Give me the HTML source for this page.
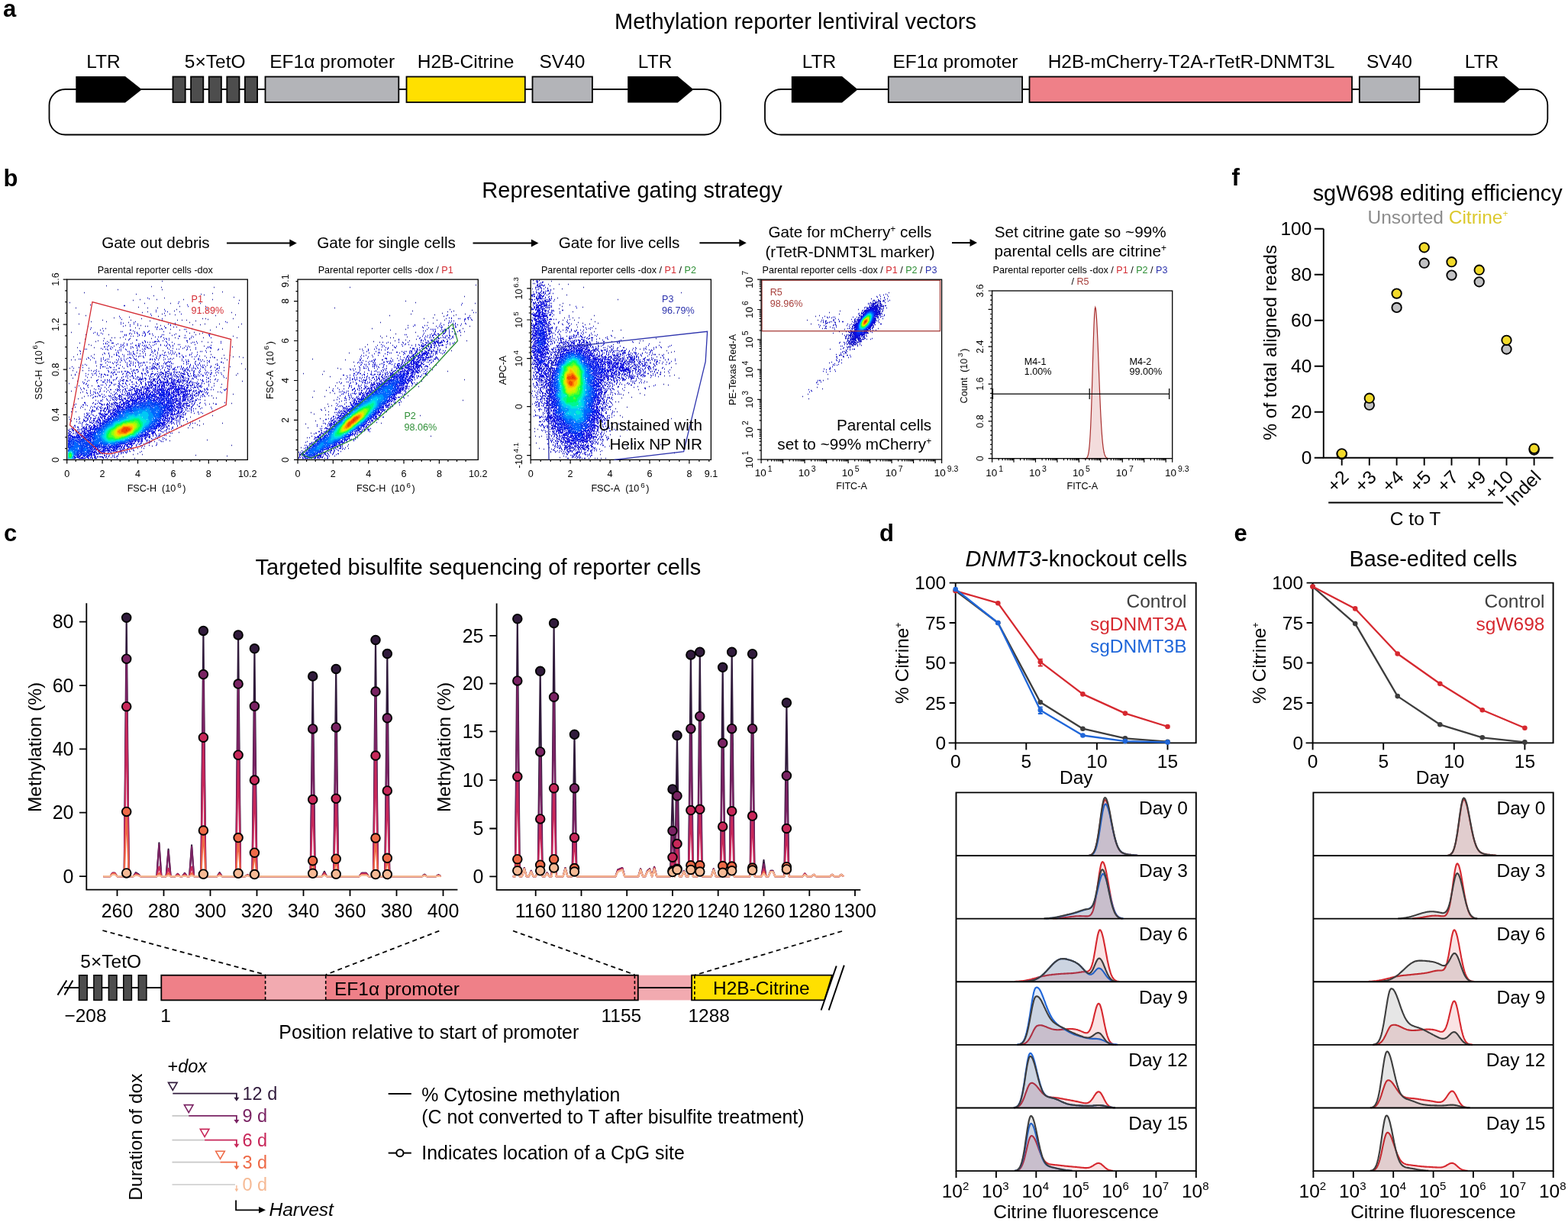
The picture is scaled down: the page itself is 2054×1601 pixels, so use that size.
<!DOCTYPE html>
<html><head><meta charset="utf-8"><title>Figure</title>
<style>html,body{margin:0;padding:0;background:#fff;overflow:hidden;}svg{display:block;}
text{font-family:"Liberation Sans", Arial, sans-serif;}</style></head>
<body><svg width="2054" height="1601" viewBox="0 0 2054 1601">
<rect width="2054" height="1601" fill="#fff"/>
<text x="4.0" y="22.0" font-size="31" font-weight="bold">a</text>
<text x="1042.0" y="38.0" font-size="29" text-anchor="middle">Methylation reporter lentiviral vectors</text>
<path d="M110.0 117 H85.5 A21 21 0 0 0 64.5 138.0 V155.5 A21 21 0 0 0 85.5 176.5 H923.0 A21 21 0 0 0 944.0 155.5 V138.0 A21 21 0 0 0 923.0 117 H900.0" fill="none" stroke="#000" stroke-width="1.8"/>
<line x1="180" y1="117" x2="830" y2="117" stroke="#000" stroke-width="1.8"/>
<path d="M99.3 100H164.0L185.8 117.25L164.0 134.5H99.3Z" fill="#000"/>
<rect x="226.5" y="100.5" width="16.2" height="33.5" fill="#4d4d4d" stroke="#000" stroke-width="1.8"/>
<rect x="250.1" y="100.5" width="16.2" height="33.5" fill="#4d4d4d" stroke="#000" stroke-width="1.8"/>
<rect x="273.7" y="100.5" width="16.2" height="33.5" fill="#4d4d4d" stroke="#000" stroke-width="1.8"/>
<rect x="297.3" y="100.5" width="16.2" height="33.5" fill="#4d4d4d" stroke="#000" stroke-width="1.8"/>
<rect x="320.9" y="100.5" width="16.2" height="33.5" fill="#4d4d4d" stroke="#000" stroke-width="1.8"/>
<rect x="347.5" y="100.5" width="174.8" height="33.5" fill="#b3b4b8" stroke="#000" stroke-width="1.8"/>
<rect x="532.5" y="100.5" width="155.3" height="33.5" fill="#ffe000" stroke="#000" stroke-width="1.8"/>
<rect x="697.5" y="100.5" width="78.4" height="33.5" fill="#b3b4b8" stroke="#000" stroke-width="1.8"/>
<path d="M822.2 100H887.8L908.4 117.25L887.8 134.5H822.2Z" fill="#000"/>
<text x="135.5" y="89.0" font-size="24.5" text-anchor="middle">LTR</text>
<text x="281.7" y="89.0" font-size="24.5" text-anchor="middle">5×TetO</text>
<text x="435.2" y="89.0" font-size="24.5" text-anchor="middle">EF1α promoter</text>
<text x="610.0" y="89.0" font-size="24.5" text-anchor="middle">H2B-Citrine</text>
<text x="736.5" y="89.0" font-size="24.5" text-anchor="middle">SV40</text>
<text x="858.1" y="89.0" font-size="24.5" text-anchor="middle">LTR</text>
<path d="M1050.0 117 H1023.0 A21 21 0 0 0 1002.0 138.0 V155.5 A21 21 0 0 0 1023.0 176.5 H2006.3 A21 21 0 0 0 2027.3 155.5 V138.0 A21 21 0 0 0 2006.3 117 H1980.0" fill="none" stroke="#000" stroke-width="1.8"/>
<line x1="1100" y1="117" x2="1910" y2="117" stroke="#000" stroke-width="1.8"/>
<path d="M1036.8 100H1103.0L1123.6 117.25L1103.0 134.5H1036.8Z" fill="#000"/>
<rect x="1163.8" y="100.5" width="175.3" height="33.5" fill="#b3b4b8" stroke="#000" stroke-width="1.8"/>
<rect x="1348.5" y="100.5" width="422.5" height="33.5" fill="#ef8088" stroke="#000" stroke-width="1.8"/>
<rect x="1780.8" y="100.5" width="78.5" height="33.5" fill="#b3b4b8" stroke="#000" stroke-width="1.8"/>
<path d="M1904.6 100H1970.7L1991.4 117.25L1970.7 134.5H1904.6Z" fill="#000"/>
<text x="1073.0" y="89.0" font-size="24.5" text-anchor="middle">LTR</text>
<text x="1251.5" y="89.0" font-size="24.5" text-anchor="middle">EF1α promoter</text>
<text x="1560.5" y="89.0" font-size="24.5" text-anchor="middle">H2B-mCherry-T2A-rTetR-DNMT3L</text>
<text x="1820.0" y="89.0" font-size="24.5" text-anchor="middle">SV40</text>
<text x="1941.0" y="89.0" font-size="24.5" text-anchor="middle">LTR</text>
<text x="4.5" y="243.7" font-size="31" font-weight="bold">b</text>
<text x="828.0" y="259.0" font-size="29" text-anchor="middle">Representative gating strategy</text>
<text x="204.0" y="324.7" font-size="20.7" text-anchor="middle">Gate out debris</text>
<text x="506.0" y="324.7" font-size="20.7" text-anchor="middle">Gate for single cells</text>
<text x="811.0" y="324.9" font-size="20.7" text-anchor="middle">Gate for live cells</text>
<text x="1113.5" y="311.2" font-size="20.7" text-anchor="middle">Gate for mCherry<tspan font-size="12" dy="-7.5">+</tspan><tspan dy="7.5"> cells</tspan></text>
<text x="1113.5" y="336.6" font-size="20.7" text-anchor="middle">(rTetR-DNMT3L marker)</text>
<text x="1415.2" y="311.2" font-size="20.7" text-anchor="middle">Set citrine gate so ~99%</text>
<text x="1415.2" y="336.1" font-size="20.7" text-anchor="middle">parental cells are citrine<tspan font-size="12" dy="-7.5">+</tspan></text>
<line x1="297" y1="318.6" x2="380.8" y2="318.6" stroke="#000" stroke-width="2"/><path d="M388.8 318.6L379.3 313.6V323.6Z" fill="#000"/>
<line x1="619.5" y1="318.5" x2="697.4" y2="318.5" stroke="#000" stroke-width="2"/><path d="M705.4 318.5L695.9 313.5V323.5Z" fill="#000"/>
<line x1="916.4" y1="318.3" x2="969.8" y2="318.3" stroke="#000" stroke-width="2"/><path d="M977.8 318.3L968.3 313.3V323.3Z" fill="#000"/>
<line x1="1247" y1="318.1" x2="1272" y2="318.1" stroke="#000" stroke-width="2"/><path d="M1280 318.1L1270.5 313.1V323.1Z" fill="#000"/>
<text x="203.3" y="358.2" font-size="12.6" text-anchor="middle">Parental reporter cells -dox</text>
<text x="505.2" y="358.2" font-size="12.6" text-anchor="middle">Parental reporter cells -dox / <tspan fill="#d42d34">P1</tspan></text>
<text x="810.4" y="358.2" font-size="12.6" text-anchor="middle">Parental reporter cells -dox / <tspan fill="#d42d34">P1</tspan> / <tspan fill="#2e8f36">P2</tspan></text>
<text x="1113.0" y="358.2" font-size="12.6" text-anchor="middle">Parental reporter cells -dox / <tspan fill="#d42d34">P1</tspan> / <tspan fill="#2e8f36">P2</tspan> / <tspan fill="#2d33ad">P3</tspan></text>
<text x="1415.0" y="358.2" font-size="12.6" text-anchor="middle">Parental reporter cells -dox / <tspan fill="#d42d34">P1</tspan> / <tspan fill="#2e8f36">P2</tspan> / <tspan fill="#2d33ad">P3</tspan></text>
<text x="1415.0" y="372.8" font-size="12.6" text-anchor="middle">/ <tspan fill="#a8413d">R5</tspan></text>
<path d="M212 368.5h1m-74 6h1m58 1h1m12 1h1m68 0h1m-127 3h1m57 0h1m78 3h1m-182 1h1m167 1h1m-101 1h1m84 0h1m3 1h1m-67 1h1m104 2h1m-92 1h1m-33 2h1m21 0h1m34 0h1m37 0h1m-105 1h1m138 0h1m-223 3h1m97 1h1m33 0h1m38 0h1m49 0h1m-195 2h1m116 2h1m33 0h1m-89 1h1m-83 1h1m93 0h1m12 0h1m64 1h1m-41 1h1m29 1h1m-34 1h1m-36 1h1m41 0h1m-50 1h1m116 0h1m-26 1h1m-176 1h1m108 0h1m9 0h1m6 1h1m78 0h1m-197 1h1m103 0h1m65 0h1m-76 1h1m-39 1h1m-21 1h1m35 1h1m15 0h1m63 0h1m3 0h1m35 0h1m-34 1h1m-139 1h1m36 0h1m36 0h1m23 0h1m5 0h1m5 0h1m-49 1h1m59 0h1m-138 1h1m19 0h1m28 1h1m79 0h1m-146 2h1m101 0h1m62 0h1m18 0h1m28 0h1m-65 1h1m9 0h1m-99 1h1m19 0h1m25 0h1m-96 1h1m74 0h1m2 0h1m37 1h1m51 0h1m28 0h1m-136 1h1m-40 1h1m43 0h1m68 0h1m39 0h1m-69 1h1m-93 1h1m103 0h1m39 0h1m-183 3h1m160 0h1m-33 1h1m25 0h1m16 0h1m-5 1h1m-150 1h1m29 0h1m113 0h1m48 2h1m-160 2h1m3 0h1m6 0h1m71 0h1m36 0h1m43 0h1m-175 1h1m61 0h1m-88 1h1m52 0h1m-37 2h1m-4 1h1m138 0h1m7 1h1m4 0h1m-174 1h1m11 2h1m2 1h1m147 1h1m36 1h1m-204 1h1m21 0h1m167 2h1m-43 1h1m-37 1h1m-105 1h1m165 0h1m-175 4h1m21 0h1m152 0h1m16 1h1m7 0h1m-34 1h1m-173 1h1m208 0h1m7 0h1m4 1h1m-29 1h1m3 0h1m-202 2h1m4 0h1m185 0h1m12 0h1m18 5h1m-191 3h1m174 1h1m-199 1h1m189 0h1m-203 1h1m24 0h1m204 1h1m-227 2h1m12 0h1m184 0h1m-191 4h1m207 0h1m-219 2h1m215 0h1m-191 3h1m-25 1h1m200 0h1m-196 4h1m215 0h1m-228 3h1m189 0h1m9 1h1m-188 2h1m16 0h1m-23 2h1m190 0h1m-197 5h1m191 1h1m-181 1h1m199 2h1m-29 2h1m-168 1h1m-4 2h1m171 0h1m3 0h1m-182 1h1m165 2h1m25 3h1m-16 1h1m23 0h1m-30 1h1m-164 7h1m166 2h1m-186 1h1m5 0h1m178 5h1m-189 2h1m158 0h1m-153 2h1m-5 3h1m167 0h1m29 3h1m-26 1h1m-9 1h1m-19 1h1m20 0h1m-16 3h1m5 0h1m-19 6h1m-13 5h1m48 5h1m-50 1h1m80 6h1m-105 1h1m-20 3h1m-1 7h1m-7 1h1m11 0h1m69 1h1m40 1h1m-137 1h1m14 2h1" stroke="rgb(30, 30, 160)" stroke-width="1.3" fill="none"/>
<path d="M193 390.5h1m1 1h1m38 4h1m-2 2h1m11 2h1m-84 1h2m82 1h1m-32 4h1m-12 1h1m11 1h1m-13 1h1m14 0h1m-5 2h1m-19 1h1m39 0h1m-40 2h1m-43 1h1m0 2h1m54 1h1m-54 1h1m52 1h1m-36 2h1m117 0h1m-138 1h1m16 0h1m121 0h1m-137 1h1m67 0h1m-72 1h1m16 0h1m4 0h1m39 0h1m6 0h1m-58 1h1m52 0h1m5 0h1m-50 1h1m42 0h1m-63 1h1m8 0h1m44 0h1m-13 1h1m2 0h1m20 0h1m-109 1h1m96 0h2m-84 1h1m76 0h1m-94 1h1m86 0h1m3 0h1m2 0h1m28 0h1m1 0h1m-74 1h2m-37 1h1m38 0h1m20 0h1m-38 1h1m1 0h1m15 0h1m37 0h1m29 0h1m-121 1h1m-3 1h1m4 0h1m4 0h1m37 0h1m5 0h1m-43 1h1m34 0h1m2 0h1m23 0h1m2 0h1m30 0h1m-104 1h1m84 0h1m1 0h1m13 0h1m-100 1h1m56 0h1m13 0h1m24 0h1m16 0h1m-72 1h1m2 0h1m5 0h1m30 0h1m22 0h2m15 0h1m-91 1h1m41 0h1m3 0h1m2 0h1m42 0h1m-13 1h1m1 0h1m6 0h1m25 0h1m-107 1h1m50 0h1m11 0h1m14 0h1m-80 1h1m36 0h1m41 0h1m-105 1h1m23 0h1m9 0h2m41 0h1m-87 1h1m9 0h1m67 0h1m30 0h2m-106 1h1m116 0h1m31 0h1m-148 1h1m50 0h1m2 0h1m28 0h1m19 0h1m6 0h1m1 0h1m-107 1h1m13 0h1m10 0h1m76 0h1m7 0h1m30 0h1m-155 1h1m18 0h1m16 0h1m56 0h1m-77 1h1m42 0h1m14 0h1m22 0h1m1 0h1m19 0h1m-46 1h1m4 0h1m10 0h1m49 0h1m-128 1h1m76 0h1m16 0h1m2 0h1m-111 1h1m34 0h1m51 0h1m12 0h1m11 0h1m-75 1h1m66 0h1m14 0h1m-125 1h1m38 0h1m35 0h1m18 0h1m12 0h1m30 0h1m-160 1h1m1 0h1m20 0h1m3 0h1m47 0h1m34 0h1m9 0h1m2 0h1m10 0h1m10 0h1m29 0h1m-146 1h1m9 0h1m55 0h1m36 0h1m40 0h1m-182 1h1m53 0h1m20 0h1m3 0h1m85 0h1m-165 1h1m61 0h1m94 0h1m1 0h1m-59 1h1m9 0h1m3 0h1m8 0h1m28 0h1m11 0h1m-135 1h1m5 0h1m36 0h1m7 0h1m63 0h1m-147 1h1m31 0h1m4 0h1m40 0h1m6 0h1m15 0h1m14 0h1m-88 1h1m14 0h1m10 0h1m6 0h1m29 0h1m5 0h1m20 0h1m6 0h1m26 0h1m-116 1h1m18 0h1m27 0h1m5 0h1m-78 1h1m58 0h1m5 0h1m15 0h1m30 0h1m11 0h1m17 0h1m-119 1h1m2 0h1m15 0h1m18 0h1m53 0h1m15 0h1m3 0h1m22 0h1m-164 1h1m5 0h1m13 0h1m52 0h1m25 0h1m55 0h1m4 0h1m4 0h2m-166 1h1m6 0h1m8 0h1m94 0h1m-125 1h1m1 0h1m7 0h1m28 0h1m73 0h1m8 0h1m12 0h1m15 0h1m-137 1h1m13 0h1m74 0h1m6 0h1m50 0h1m-28 1h1m32 0h1m2 0h1m-150 1h1m6 0h1m107 0h1m15 0h1m10 0h1m-126 1h1m1 0h1m12 0h1m6 0h1m27 0h1m62 0h1m18 0h1m14 0h2m-166 1h1m12 0h1m8 0h1m29 0h1m18 0h1m74 0h1m20 0h1m-145 1h1m77 0h1m13 0h1m43 0h1m-174 1h1m170 0h1m-178 1h1m2 0h1m4 0h1m26 0h1m16 0h1m32 0h1m80 0h1m-95 1h1m98 0h1m-183 1h1m42 0h1m22 0h1m16 0h1m91 0h1m6 0h1m-132 1h1m3 0h1m125 0h1m5 0h1m-186 1h1m42 0h1m15 0h2m5 0h1m8 1h1m96 0h1m-143 1h1m25 0h1m-37 1h1m2 0h1m149 0h1m6 0h1m-155 1h1m6 0h1m29 0h1m-60 1h1m53 0h1m1 0h1m125 1h1m3 0h1m2 0h1m-178 1h1m7 0h1m9 0h1m-33 1h1m16 0h1m36 0h1m7 0h1m129 0h1m-193 1h1m22 0h1m4 0h1m14 0h1m141 0h1m-172 1h1m167 0h1m11 0h1m-164 1h1m5 0h1m139 0h1m-162 1h1m17 0h1m20 0h1m116 0h1m22 0h1m-12 2h1m-172 1h1m147 0h1m15 0h1m5 0h1m3 0h1m-170 1h1m15 0h1m-19 1h1m169 0h1m-177 1h1m166 0h1m-149 1h1m-19 1h1m157 0h1m-117 1h1m17 0h1m103 0h1m-159 1h1m33 0h1m16 1h1m106 0h1m6 0h1m-166 2h1m21 0h1m4 0h1m134 0h1m-173 1h1m3 0h1m0 1h1m12 0h1m15 0h1m156 0h1m-191 1h1m18 0h1m18 0h2m130 0h1m2 0h1m13 0h1m-181 1h1m4 0h1m22 0h1m-6 1h1m-29 1h1m9 0h1m20 0h1m3 0h1m5 0h1m138 0h1m-176 1h1m176 0h1m-177 1h1m3 0h1m26 0h1m-31 3h1m2 0h1m154 0h1m-6 1h1m-148 2h1m140 2h1m-138 1h1m-4 3h1m139 0h1m-142 1h1m139 0h1m6 0h1m-170 1h1m182 0h2m-187 1h1m160 0h1m10 0h1m-156 1h1m-9 1h1m12 0h1m140 0h2m-164 1h1m9 0h1m167 0h1m-172 1h1m12 0h1m145 0h1m-171 1h2m160 0h1m5 0h1m14 0h1m-25 3h1m5 1h1m-10 1h1m8 0h1m3 0h1m-10 1h1m10 0h1m-156 1h1m149 0h1m-158 4h1m0 2h1m139 0h1m-154 1h1m8 0h1m143 0h1m-5 1h1m11 1h1m-153 1h1m144 0h1m3 1h1m2 1h1m2 0h1m-21 1h1m13 0h1m-13 2h1m10 0h1m-17 1h1m-2 3h1m-9 6h1m1 0h1m-9 3h1m-5 3h1m3 2h1m-10 1h1m8 0h1m-8 1h1m-9 1h1m8 0h1m1 0h1m-9 2h1m-11 3h1m8 0h1m-16 1h1m-5 2h1m2 1h1m-14 3h1m9 1h1m-3 1h1m-31 8h1" stroke="rgb(21, 21, 191)" stroke-width="1.3" fill="none"/>
<path d="M205 429.5h1m-18 5h1m5 0h1m-16 1h1m9 0h1m3 0h1m-15 1h1m7 0h1m1 0h1m-10 1h1m9 0h1m4 0h1m78 0h2m-113 1h1m1 0h1m16 0h1m7 0h1m82 0h1m-111 1h1m1 0h1m16 0h1m7 0h1m83 0h1m-86 1h1m84 0h1m-61 2h1m2 1h1m-3 1h1m2 0h1m-30 2h1m17 0h1m-18 1h1m11 0h3m1 0h1m1 0h1m8 0h1m-32 1h1m3 0h1m9 0h1m1 0h1m15 0h1m-81 1h1m7 0h2m39 0h1m-50 1h1m1 0h1m25 0h1m14 0h1m1 0h1m20 0h1m14 0h1m-62 1h1m2 0h1m4 0h1m35 0h1m18 0h1m-80 1h1m17 0h1m5 0h1m10 0h2m2 0h2m3 0h1m2 0h1m1 0h1m8 0h1m17 0h1m3 0h1m-81 1h1m15 0h1m3 0h1m18 0h1m6 0h1m8 0h1m19 0h1m-81 1h1m2 0h1m4 0h1m12 0h1m14 0h1m5 0h1m2 0h1m7 0h1m1 0h1m79 0h1m1 0h1m-128 1h1m8 0h1m4 0h1m30 0h2m4 0h1m20 0h1m25 0h1m26 0h1m2 0h2m-133 1h1m34 0h1m9 0h1m4 0h1m1 0h1m22 0h1m56 0h1m-137 1h1m4 0h1m12 0h1m5 0h1m25 0h1m-35 1h1m8 0h1m14 0h1m7 0h1m9 0h1m3 0h1m-49 1h1m48 0h1m19 0h1m1 0h1m-57 1h1m4 0h1m11 0h1m2 0h1m9 0h1m2 0h1m-49 1h1m19 0h1m23 0h1m27 0h1m-75 1h1m2 0h1m13 0h1m1 0h1m28 0h1m14 0h1m7 0h1m10 0h1m-61 1h2m50 0h1m1 0h1m5 0h2m-84 1h1m16 0h1m1 0h1m4 0h1m35 0h1m35 0h1m1 0h1m-99 1h2m19 0h1m35 0h2m3 0h2m1 0h1m20 0h1m9 0h1m-94 1h1m26 0h1m4 0h1m17 0h1m51 0h1m-102 1h1m17 0h1m12 0h1m21 0h1m9 0h1m19 0h2m-72 1h2m33 0h1m35 0h1m-83 1h1m8 0h1m3 0h1m3 0h1m29 0h1m2 0h1m14 0h1m36 0h1m-126 1h1m4 0h1m14 0h1m6 0h1m2 0h1m10 0h1m1 0h1m17 0h2m1 0h1m2 0h1m17 0h1m1 0h1m36 0h1m-122 1h1m13 0h1m5 0h1m18 0h1m18 0h1m2 0h1m3 0h1m39 0h1m2 0h1m13 0h1m1 0h1m-126 1h1m16 0h1m4 0h1m3 0h1m5 0h1m9 0h1m-40 1h1m28 0h1m1 0h1m30 0h1m17 0h1m2 0h1m20 0h1m1 0h2m15 0h1m9 0h1m-124 1h1m2 0h1m20 0h1m5 0h2m6 0h1m26 0h1m3 0h1m1 0h2m21 0h1m-93 1h1m13 0h1m4 0h1m11 0h1m1 0h1m1 0h1m1 0h1m13 0h1m4 0h1m8 0h2m5 0h1m19 0h1m16 0h1m-91 1h1m2 0h1m6 0h1m1 0h1m16 0h2m3 0h2m7 0h1m1 0h1m7 0h1m21 0h1m8 0h1m5 0h1m-131 1h1m1 0h1m20 0h1m11 0h1m2 0h1m33 0h1m2 0h2m9 0h1m26 0h1m4 0h1m6 0h1m2 0h1m-128 1h1m19 0h1m17 0h1m3 0h1m6 0h1m4 0h1m12 0h1m5 0h1m16 0h1m26 0h1m9 0h1m2 0h1m2 0h1m1 0h1m16 0h2m-134 1h1m13 0h1m3 0h1m13 0h1m16 0h1m6 0h1m2 0h1m1 0h1m4 0h3m3 0h1m12 0h1m10 0h1m4 0h1m3 0h1m-127 1h1m2 0h2m7 0h1m23 0h1m14 0h1m9 0h1m3 0h1m2 0h1m1 0h2m5 0h1m12 0h2m9 0h1m1 0h1m2 0h1m10 0h1m14 0h1m1 0h1m21 0h1m-180 1h1m35 0h1m37 0h1m9 0h1m6 0h1m1 0h1m1 0h2m8 0h1m2 0h1m7 0h1m4 0h1m2 0h1m4 0h1m2 0h1m4 0h1m2 0h1m4 0h1m4 0h1m6 0h2m-136 1h1m9 0h1m49 0h1m1 0h1m4 0h1m1 0h2m2 0h1m3 0h1m3 0h1m6 0h1m8 0h1m10 0h1m4 0h1m6 0h1m1 0h1m1 0h1m3 0h1m25 0h1m1 0h1m-101 1h1m8 0h1m1 0h2m2 0h1m2 0h2m13 0h1m1 0h1m3 0h3m7 0h1m1 0h1m2 0h1m1 0h1m2 0h1m9 0h1m5 0h1m20 0h2m-137 1h1m1 0h1m24 0h1m2 0h3m6 0h1m3 0h1m18 0h1m4 0h1m5 0h1m4 0h1m1 0h1m1 0h1m8 0h1m3 0h1m1 0h2m4 0h1m-128 1h1m16 0h1m32 0h1m1 0h1m10 0h1m5 0h1m21 0h1m25 0h2m3 0h1m1 0h1m2 0h1m2 0h1m6 0h1m20 0h1m3 0h1m-161 1h1m15 0h1m20 0h2m1 0h1m5 0h1m1 0h1m6 0h1m10 0h1m6 0h1m6 0h1m12 0h3m6 0h1m11 0h1m1 0h1m5 0h1m4 0h1m8 0h1m-121 1h1m3 0h1m2 0h2m8 0h1m7 0h2m11 0h1m11 0h1m1 0h1m15 0h2m4 0h3m8 0h1m2 0h1m1 0h1m1 0h2m8 0h1m9 0h1m5 0h1m10 0h1m12 0h1m-160 1h1m19 0h1m2 0h1m17 0h1m2 0h1m3 0h1m2 0h1m8 0h1m7 0h1m14 0h1m1 0h1m1 0h2m3 0h1m4 0h1m1 0h1m3 0h1m2 0h1m5 0h1m3 0h1m3 0h1m7 0h1m7 0h1m6 0h1m1 0h1m2 0h1m2 0h2m-155 1h1m1 0h1m21 0h1m13 0h1m3 0h1m4 0h1m2 0h1m3 0h1m7 0h2m2 0h2m7 0h3m3 0h1m1 0h1m5 0h3m2 0h1m1 0h2m1 0h1m1 0h1m11 0h1m1 0h3m5 0h1m2 0h1m3 0h1m-122 1h2m2 0h2m13 0h1m34 0h1m10 0h2m3 0h2m2 0h1m2 0h1m1 0h1m2 0h1m1 0h2m5 0h2m2 0h1m1 0h1m3 0h1m6 0h3m2 0h1m8 0h1m4 0h1m3 0h1m5 0h1m5 0h2m-139 1h1m1 0h1m7 0h1m16 0h1m1 0h1m5 0h1m17 0h1m10 0h1m5 0h1m1 0h1m10 0h1m1 0h1m6 0h1m4 0h1m1 0h1m8 0h1m6 0h2m1 0h1m8 0h1m5 0h1m-140 1h1m12 0h1m26 0h2m3 0h1m8 0h1m7 0h1m2 0h1m7 0h1m1 0h1m5 0h1m2 0h2m1 0h2m3 0h1m1 0h1m1 0h1m2 0h1m5 0h3m6 0h2m2 0h1m2 0h1m5 0h1m1 0h1m3 0h2m-122 1h1m15 0h1m2 0h1m1 0h1m3 0h1m3 0h1m5 0h1m15 0h1m3 0h1m6 0h2m2 0h1m3 0h1m1 0h1m1 0h1m9 0h1m1 0h3m1 0h1m3 0h2m7 0h1m5 0h1m1 0h2m-113 1h1m13 0h1m19 0h1m1 0h1m1 0h1m2 0h1m9 0h1m1 0h1m7 0h2m4 0h1m3 0h1m3 0h1m4 0h1m7 0h1m2 0h1m1 0h3m1 0h1m12 0h1m-104 1h1m6 0h1m7 0h1m6 0h2m13 0h2m15 0h1m5 0h1m1 0h1m3 0h1m3 0h3m6 0h1m8 0h1m3 0h1m1 0h1m5 0h1m4 0h1m14 0h2m-122 1h1m24 0h1m1 0h1m2 0h6m2 0h2m3 0h2m3 0h4m1 0h1m2 0h2m4 0h2m2 0h1m2 0h2m2 0h1m1 0h1m8 0h1m3 0h1m1 0h1m3 0h2m3 0h1m1 0h1m-126 1h1m8 0h1m2 0h1m2 0h1m4 0h1m1 0h1m6 0h1m3 0h2m7 0h1m10 0h2m1 0h2m12 0h1m2 0h2m2 0h1m9 0h2m2 0h1m4 0h1m13 0h1m7 0h1m15 0h1m2 0h1m4 0h1m-145 1h2m9 0h1m3 0h1m1 0h1m4 0h1m10 0h2m4 0h2m3 0h1m10 0h1m8 0h1m6 0h1m2 0h3m15 0h2m16 0h1m2 0h4m1 0h1m1 0h1m17 0h1m-139 1h1m28 0h1m1 0h1m3 0h1m3 0h1m1 0h1m15 0h1m3 0h1m12 0h1m2 0h1m16 0h1m16 0h1m1 0h1m2 0h1m6 0h2m14 0h2m6 0h1m-140 1h3m3 0h1m2 0h1m1 0h1m26 0h2m4 0h1m5 0h1m8 0h7m3 0h1m1 0h1m30 0h1m3 0h1m3 0h1m3 0h1m3 0h1m5 0h1m11 0h1m1 0h1m-163 1h1m34 0h2m9 0h1m7 0h1m13 0h1m5 0h2m4 0h1m7 0h1m36 0h1m2 0h1m9 0h1m1 0h1m1 0h1m1 0h1m1 0h1m7 0h1m-152 1h1m24 0h1m7 0h1m8 0h1m4 0h2m2 0h1m14 0h1m4 0h1m5 0h1m3 0h1m2 0h1m1 0h2m38 0h1m3 0h1m3 0h1m4 0h1m4 0h1m1 0h2m3 0h1m-153 1h1m36 0h1m6 0h1m8 0h1m7 0h1m1 0h1m9 0h1m4 0h2m8 0h1m33 0h1m6 0h1m3 0h1m6 0h1m5 0h1m-127 1h1m1 0h1m4 0h1m4 0h1m12 0h1m24 0h1m8 0h1m2 0h2m5 0h1m30 0h1m2 0h1m1 0h1m6 0h2m1 0h1m1 0h1m1 0h2m1 0h1m4 0h1m3 0h1m-150 1h1m13 0h2m13 0h1m10 0h2m3 0h1m17 0h2m11 0h1m9 0h1m18 0h1m25 0h2m2 0h2m6 0h1m3 0h2m-135 1h1m1 0h1m25 0h1m3 0h1m2 0h1m7 0h1m1 0h1m3 0h1m1 0h1m1 0h1m4 0h2m1 0h1m9 0h1m54 0h1m4 0h1m1 0h2m1 0h1m-110 1h1m5 0h1m10 0h2m10 0h1m1 0h2m1 0h1m8 0h2m46 0h1m4 0h1m2 0h3m1 0h1m4 0h1m-132 1h1m23 0h1m9 0h1m7 0h3m7 0h1m2 0h1m9 0h2m50 0h1m3 0h1m5 0h1m11 0h1m-143 1h1m23 0h1m9 0h2m5 0h1m4 0h1m2 0h3m4 0h1m3 0h1m77 0h1m2 0h1m-140 1h1m19 0h1m2 0h2m1 0h1m3 0h1m2 0h1m7 0h2m2 0h1m5 0h1m1 0h1m3 0h1m58 0h1m2 0h1m9 0h1m7 0h1m2 0h2m22 0h1m-143 1h1m2 0h1m3 0h1m3 0h1m3 0h4m4 0h1m7 0h2m62 0h3m2 0h1m1 0h1m1 0h1m4 0h1m5 0h1m25 0h1m-164 1h1m22 0h1m10 0h1m10 0h1m11 0h1m59 0h1m4 0h1m2 0h1m4 0h3m1 0h1m-144 1h1m1 0h1m5 0h1m26 0h1m2 0h1m2 0h1m2 0h1m5 0h1m75 0h1m3 0h1m1 0h1m4 0h2m2 0h2m2 0h1m2 0h1m-147 1h1m2 0h1m24 0h1m15 0h2m87 0h1m2 0h2m7 0h1m2 0h1m-148 1h1m2 0h1m22 0h1m12 0h1m1 0h2m4 0h1m75 0h1m2 0h1m4 0h3m1 0h1m10 0h1m-150 1h1m10 0h1m16 0h1m2 0h1m5 0h2m85 0h2m4 0h1m7 0h1m4 0h2m4 0h1m-152 1h1m8 0h1m6 0h1m10 0h1m1 0h1m6 0h1m4 0h1m1 0h1m2 0h1m82 0h2m3 0h2m3 0h1m5 0h1m-136 1h2m10 0h1m1 0h1m10 0h4m6 0h1m1 0h1m81 0h1m1 0h2m1 0h1m2 0h1m1 0h1m3 0h1m3 0h1m-144 1h2m1 0h1m6 0h1m3 0h1m4 0h1m1 0h1m4 0h1m4 0h2m2 0h1m7 0h1m78 0h1m1 0h2m6 0h1m8 0h1m-144 1h1m11 0h1m1 0h1m11 0h1m1 0h2m5 0h1m1 0h1m91 0h2m9 0h1m-118 1h1m1 0h1m4 0h2m2 0h1m2 0h1m2 0h1m1 0h1m2 0h2m76 0h1m1 0h1m2 0h1m2 0h1m-115 1h1m10 0h1m4 0h1m3 0h1m2 0h3m2 0h1m83 0h2m5 0h1m-125 1h1m5 0h1m6 0h2m2 0h1m1 0h1m2 0h3m1 0h1m3 0h1m80 0h2m2 0h2m5 0h1m3 0h1m-129 1h1m7 0h1m3 0h1m4 0h1m2 0h1m6 0h3m84 0h1m1 0h1m7 0h2m-130 1h1m2 0h1m1 0h1m8 0h1m103 0h1m4 0h3m1 0h1m-106 1h1m6 0h2m85 0h1m3 0h2m1 0h1m-142 1h2m17 0h1m13 0h1m4 0h1m1 0h3m3 0h2m90 0h1m6 0h1m-145 1h1m15 0h1m2 0h2m8 0h1m2 0h1m2 0h1m2 0h2m1 0h3m85 0h3m2 0h2m4 0h1m2 0h1m-131 1h2m6 0h2m2 0h1m3 0h2m3 0h1m1 0h1m91 0h1m11 0h1m2 0h1m-147 1h2m2 0h1m20 0h2m1 0h1m2 0h2m1 0h1m3 0h1m1 0h1m1 0h1m89 0h2m1 0h1m4 0h1m4 0h1m-111 1h1m100 0h4m4 0h1m-130 1h1m4 0h1m3 0h1m7 0h2m2 0h1m1 0h1m2 0h1m90 0h1m5 0h1m1 0h1m2 0h1m-131 1h1m2 0h1m5 0h1m9 0h1m2 0h1m2 0h1m94 0h1m2 0h1m5 0h2m-126 1h2m3 0h2m1 0h1m2 0h2m1 0h1m7 0h1m93 0h1m1 0h1m-119 1h1m5 0h1m3 0h2m2 0h2m1 0h1m4 0h1m96 0h1m2 0h1m1 0h1m2 0h1m-133 1h1m4 0h1m1 0h1m7 0h1m2 0h1m1 0h1m3 0h1m97 0h1m6 0h1m-134 1h1m2 0h1m10 0h1m1 0h1m1 0h1m3 0h1m2 0h2m1 0h1m97 0h1m6 0h1m-131 1h5m6 0h2m2 0h2m5 0h1m1 0h1m100 0h1m1 0h1m2 0h1m-132 1h1m17 0h2m2 0h2m98 0h1m-122 1h1m10 0h1m105 0h1m2 0h1m-128 1h2m1 0h1m12 0h3m4 0h1m102 0h1m3 0h1m-125 1h1m11 0h1m2 0h1m107 0h1m-129 1h2m5 0h1m8 0h1m106 0h1m1 0h2m1 0h1m-130 1h1m3 0h1m4 0h1m3 0h1m-17 1h1m5 0h2m6 0h1m105 0h1m5 0h2m-126 1h1m117 0h1m1 0h1m3 0h1m1 0h3m-130 1h1m1 0h1m1 0h1m2 0h2m5 0h1m105 0h1m3 0h1m-122 1h1m7 0h1m1 0h1m102 0h2m1 0h1m5 0h1m-134 1h1m5 0h1m5 0h1m2 0h1m108 0h1m7 0h1m-126 1h1m3 0h1m7 0h2m105 0h1m1 0h1m1 0h1m-125 1h3m1 0h1m3 0h1m2 0h1m1 0h2m2 0h1m104 0h1m3 0h1m-132 1h1m7 0h1m12 0h1m95 0h1m1 0h3m7 0h1m-126 1h1m8 0h3m2 0h1m3 0h1m92 0h1m3 0h1m3 0h1m3 0h1m3 0h1m-133 1h1m1 0h1m1 0h1m12 0h2m2 0h1m93 0h1m2 0h1m2 0h1m1 0h1m-114 1h1m104 0h1m5 0h1m3 0h1m2 0h1m-125 1h1m4 0h1m1 0h2m-19 1h2m18 0h1m99 0h1m2 0h2m10 0h1m-126 1h1m5 0h1m107 0h1m-126 1h1m1 0h1m2 0h2m6 0h2m1 0h1m104 0h3m6 0h1m-125 1h1m5 0h2m2 0h2m96 0h1m3 0h1m10 0h1m-133 1h1m1 0h1m11 0h1m102 0h1m1 0h2m5 0h1m1 0h1m4 0h1m-136 1h1m2 0h2m6 0h1m1 0h1m1 0h1m104 0h1m6 0h1m2 0h1m2 0h1m-136 1h1m4 0h1m1 0h1m1 0h2m1 0h1m4 0h1m100 0h3m7 0h1m-128 1h1m4 0h2m6 0h1m103 0h1m2 0h1m4 0h1m1 0h1m-127 1h2m6 0h1m3 0h1m107 0h1m1 0h1m7 0h1m-132 1h1m2 0h1m5 0h2m1 0h2m109 0h1m4 0h1m-130 1h1m6 0h1m-2 1h1m107 0h1m4 0h1m1 0h1m-7 1h1m10 0h1m-127 1h1m110 0h1m3 0h1m3 0h2m5 0h1m-16 1h1m4 0h1m1 0h1m0 1h1m-14 1h2m6 0h1m1 0h1m-8 1h1m7 0h1m8 0h1m-26 1h1m8 0h1m1 0h1m11 0h1m-23 1h1m1 0h1m-2 1h1m2 0h1m-10 1h1m5 0h1m3 0h3m-18 1h1m12 0h1m1 0h1m-13 1h2m5 0h1m1 0h1m1 0h1m-16 1h1m2 0h1m4 0h1m1 0h1m-13 1h1m3 0h1m22 0h1m-28 1h1m5 0h1m-7 1h1m7 0h1m-15 1h1m-11 1h1m5 0h1m1 0h2m-10 1h2m2 0h2m4 0h1m1 0h1m-15 1h2m10 0h1m-14 1h1m2 0h1m1 0h1m1 0h1m7 0h1m-16 1h1m6 0h1m2 0h1m-20 1h1m1 0h2m2 0h1m6 0h1m2 0h1m3 0h1m-26 1h1m9 0h1m1 0h1m1 0h1m1 0h1m2 0h1m1 0h1m-21 1h1m1 0h1m10 0h1m1 0h1m3 0h1m-39 1h2m1 0h2m1 0h2m1 0h1m3 0h2m4 0h1m3 0h1m4 0h1m2 0h1m-33 1h1m1 0h1m10 0h1m15 0h1m-20 1h2m5 0h1m3 0h1m1 0h1m-13 1h1m1 0h1m2 0h1m10 0h2m-30 1h1m1 0h2m1 0h5m4 0h1m2 0h1m4 0h1m1 0h1m2 0h1m-30 1h2m9 0h2m2 0h1m6 0h1m4 0h1m-33 1h1m1 0h2m2 0h3m8 0h1m4 0h1" stroke="rgb(16, 16, 206)" stroke-width="1.3" fill="none"/>
<path d="M234 496.5h1m-27 1h2m15 0h1m2 0h2m3 0h2m-28 1h1m1 0h2m13 0h1m1 0h2m1 0h1m1 0h3m-28 1h1m3 0h1m1 0h1m1 0h1m4 0h1m4 0h1m3 0h1m3 0h2m1 0h1m9 0h1m-40 1h1m2 0h1m1 0h2m1 0h1m1 0h4m4 0h4m2 0h1m1 0h3m10 0h1m-40 1h1m2 0h3m1 0h5m1 0h2m1 0h1m1 0h2m2 0h1m2 0h1m2 0h1m10 0h1m1 0h1m-43 1h3m5 0h2m3 0h1m2 0h1m1 0h1m1 0h3m1 0h1m-33 1h2m4 0h1m5 0h1m1 0h1m1 0h3m4 0h2m3 0h4m1 0h1m-34 1h2m3 0h3m3 0h2m2 0h1m2 0h1m1 0h2m1 0h1m2 0h1m3 0h1m1 0h2m-36 1h2m1 0h1m3 0h3m1 0h1m1 0h2m1 0h5m6 0h4m1 0h1m6 0h1m1 0h5m-49 1h1m3 0h1m7 0h1m2 0h2m2 0h2m1 0h2m7 0h1m1 0h7m1 0h1m3 0h1m1 0h1m2 0h1m-51 1h3m1 0h1m6 0h1m2 0h1m1 0h1m2 0h2m2 0h1m1 0h1m3 0h1m1 0h1m1 0h1m1 0h1m2 0h1m2 0h2m2 0h1m3 0h1m2 0h2m-56 1h1m1 0h2m1 0h1m5 0h1m1 0h2m1 0h1m1 0h1m3 0h1m1 0h2m1 0h1m3 0h1m1 0h5m1 0h2m2 0h1m1 0h5m1 0h1m2 0h2m-56 1h6m4 0h1m1 0h1m3 0h1m2 0h5m3 0h1m1 0h5m1 0h1m2 0h1m4 0h3m1 0h1m1 0h4m1 0h1m-65 1h2m10 0h1m7 0h1m1 0h3m1 0h6m1 0h2m1 0h1m2 0h3m2 0h1m3 0h2m3 0h3m1 0h1m1 0h1m1 0h2m1 0h1m-67 1h2m2 0h2m7 0h4m1 0h1m3 0h2m1 0h1m1 0h2m2 0h3m2 0h3m1 0h2m2 0h1m4 0h1m5 0h1m2 0h1m5 0h2m1 0h1m1 0h1m-71 1h1m1 0h2m1 0h1m9 0h1m1 0h3m5 0h1m2 0h1m1 0h2m8 0h1m3 0h1m2 0h1m1 0h2m1 0h2m1 0h1m1 0h1m2 0h1m1 0h1m1 0h1m1 0h3m1 0h1m-71 1h2m3 0h2m1 0h1m1 0h1m2 0h2m3 0h1m2 0h3m1 0h3m1 0h1m1 0h1m12 0h1m5 0h2m1 0h5m1 0h8m1 0h1m-68 1h3m3 0h2m1 0h2m3 0h1m1 0h1m2 0h1m1 0h1m2 0h1m1 0h1m2 0h2m12 0h2m1 0h5m1 0h1m1 0h3m2 0h2m1 0h1m-72 1h1m6 0h3m2 0h2m2 0h1m2 0h4m1 0h1m2 0h2m4 0h1m2 0h3m14 0h1m1 0h2m4 0h1m2 0h1m2 0h1m2 0h1m2 0h2m1 0h1m-79 1h1m1 0h2m1 0h1m1 0h3m1 0h2m1 0h2m1 0h5m2 0h1m1 0h1m1 0h2m7 0h1m1 0h1m14 0h2m3 0h3m3 0h4m1 0h1m2 0h2m2 0h2m-78 1h1m1 0h1m1 0h3m2 0h1m1 0h1m7 0h2m1 0h4m1 0h1m7 0h2m15 0h3m4 0h1m2 0h2m1 0h2m4 0h6m-75 1h1m3 0h1m1 0h1m2 0h2m1 0h2m4 0h1m3 0h1m15 0h1m10 0h3m6 0h3m2 0h1m1 0h1m4 0h2m1 0h1m1 0h1m-77 1h1m1 0h2m3 0h1m2 0h3m1 0h1m4 0h2m1 0h1m10 0h4m13 0h1m1 0h1m4 0h2m1 0h3m4 0h1m1 0h5m1 0h1m-76 1h1m1 0h3m2 0h1m2 0h1m2 0h2m5 0h1m12 0h1m1 0h1m1 0h3m11 0h1m5 0h2m6 0h1m1 0h1m3 0h1m1 0h1m1 0h1m-76 1h1m4 0h2m1 0h1m2 0h3m20 0h1m1 0h3m21 0h1m1 0h1m4 0h1m2 0h3m1 0h1m-73 1h2m1 0h1m2 0h1m1 0h5m17 0h2m2 0h1m22 0h1m1 0h3m1 0h3m2 0h1m2 0h1m-73 1h2m1 0h2m1 0h1m1 0h3m1 0h1m42 0h3m1 0h1m1 0h1m2 0h1m1 0h1m2 0h5m-79 1h3m2 0h5m50 0h2m1 0h1m1 0h3m1 0h1m1 0h1m1 0h1m1 0h3m-83 1h1m5 0h4m2 0h3m6 0h1m45 0h1m2 0h4m1 0h1m3 0h2m1 0h1m-82 1h1m2 0h2m2 0h3m2 0h1m52 0h1m2 0h2m3 0h1m1 0h1m1 0h1m-78 1h3m2 0h1m1 0h1m4 0h1m53 0h3m5 0h2m-76 1h2m1 0h2m6 0h1m53 0h2m2 0h1m2 0h3m1 0h1m5 0h2m-89 1h1m1 0h6m1 0h1m3 0h2m56 0h1m3 0h3m1 0h3m6 0h1m-94 1h1m1 0h1m2 0h1m2 0h1m3 0h1m64 0h1m2 0h1m2 0h2m-84 1h5m1 0h1m2 0h2m63 0h1m1 0h2m3 0h1m1 0h2m1 0h2m-88 1h2m1 0h3m3 0h2m64 0h1m3 0h3m1 0h1m1 0h1m1 0h1m-99 1h1m11 0h8m2 0h1m63 0h2m1 0h2m1 0h1m1 0h2m-96 1h1m8 0h1m2 0h1m2 0h2m1 0h3m65 0h1m4 0h7m-88 1h1m1 0h3m1 0h1m70 0h2m8 0h2m-93 1h1m1 0h3m77 0h2m2 0h1m1 0h1m1 0h1m-90 1h3m75 0h2m2 0h2m1 0h1m3 0h1m1 0h1m-93 1h2m79 0h2m3 0h2m3 0h1m-96 1h1m6 0h1m75 0h1m1 0h1m3 0h3m1 0h3m-97 1h1m1 0h1m2 0h3m75 0h1m7 0h2m1 0h1m-96 1h1m3 0h3m74 0h1m1 0h2m2 0h1m2 0h3m1 0h1m-104 1h2m3 0h4m3 0h2m76 0h1m1 0h3m1 0h2m1 0h1m1 0h1m1 0h1m-104 1h1m2 0h1m1 0h4m3 0h1m1 0h1m72 0h2m2 0h3m1 0h2m1 0h1m-98 1h2m1 0h1m5 0h1m2 0h1m72 0h3m5 0h1m5 0h2m1 0h1m-105 1h1m3 0h4m3 0h2m73 0h1m1 0h1m3 0h1m8 0h2m1 0h1m-107 1h1m1 0h2m1 0h1m2 0h1m3 0h1m75 0h1m1 0h1m2 0h1m1 0h2m1 0h1m-100 1h1m3 0h2m2 0h2m2 0h1m75 0h2m2 0h1m1 0h1m1 0h2m-103 1h1m4 0h1m1 0h1m2 0h1m2 0h2m78 0h4m1 0h2m2 0h2m-98 1h2m3 0h1m3 0h2m79 0h1m1 0h1m2 0h1m1 0h1m-100 1h2m1 0h2m4 0h1m1 0h1m76 0h2m2 0h1m1 0h1m3 0h1m-96 1h2m2 0h3m77 0h2m1 0h2m1 0h2m2 0h1m-98 1h2m2 0h1m87 0h1m-92 1h2m1 0h1m81 0h4m-89 1h1m1 0h3m79 0h4m-90 1h1m3 0h2m80 0h2m2 0h1m-95 1h2m4 0h1m1 0h1m81 0h5m-99 1h1m3 0h3m2 0h2m81 0h1m1 0h1m1 0h1m-99 1h1m3 0h1m2 0h4m82 0h1m1 0h1m1 0h1m1 0h1m-100 1h2m1 0h2m1 0h3m83 0h1m2 0h1m1 0h1m1 0h1m-98 1h2m2 0h1m84 0h1m-99 1h3m1 0h1m1 0h1m1 0h3m1 0h1m83 0h1m-95 1h3m4 0h3m82 0h1m-96 1h1m1 0h1m2 0h1m1 0h1m1 0h2m2 0h1m81 0h1m-94 1h2m2 0h5m84 0h1m-97 1h3m1 0h1m1 0h1m1 0h1m78 0h3m1 0h1m2 0h2m-93 1h2m89 0h2m-102 1h1m3 0h3m1 0h5m79 0h2m3 0h4m1 0h1m-114 1h3m5 0h1m1 0h1m8 0h1m1 0h1m81 0h1m5 0h2m-111 1h1m10 0h3m1 0h2m3 0h1m82 0h4m3 0h1m-111 1h4m9 0h1m1 0h4m80 0h5m-104 1h1m1 0h4m1 0h1m8 0h1m80 0h1m1 0h2m1 0h1m2 0h2m-108 1h1m2 0h1m93 0h1m1 0h1m1 0h1m1 0h1m1 0h3m-107 1h1m94 0h1m4 0h2m-103 1h1m93 0h1m1 0h2m2 0h2m-9 1h1m1 0h1m1 0h1m-98 1h1m90 0h3m2 0h2m-98 1h1m87 0h2m3 0h1m1 0h1m1 0h1m-13 1h1m1 0h2m2 0h3m1 0h2m-15 2h3m1 0h2m-7 1h3m1 0h2m-12 1h4m1 0h4m-16 1h1m2 0h1m2 0h1m2 0h1m5 0h2m-18 1h3m1 0h1m1 0h2m1 0h3m4 0h1m-17 1h1m1 0h2m2 0h1m4 0h3m-12 1h2m1 0h1m-29 1h1m13 0h1m8 0h1m1 0h1m-28 1h1m8 0h2m2 0h1m3 0h2m2 0h2m1 0h1m1 0h1m-32 1h1m1 0h3m1 0h1m1 0h2m5 0h3m1 0h2m1 0h4m1 0h1m3 0h1m-33 1h1m3 0h2m3 0h2m1 0h7m1 0h5m1 0h1m5 0h2m-36 1h2m3 0h8m1 0h1m5 0h1m4 0h1m8 0h2m-37 1h5m3 0h1m2 0h1m1 0h2m4 0h2m1 0h1m-23 1h2m2 0h1m2 0h2m2 0h1m3 0h1m-14 1h1m1 0h1m-7 1h1m1 0h2m-4 1h1m1 0h1m1 0h1m-5 1h1m2 0h2m-22 1h2m14 0h1m4 0h1m-24 1h2m3 0h3m3 0h1m1 0h2m2 0h1m1 0h1m-18 1h9m3 0h2" stroke="rgb(12, 12, 222)" stroke-width="1.3" fill="none"/>
<path d="M230 509.5h3m-3 1h3m-21 1h2m16 0h3m-22 1h2m1 0h1m3 0h2m-9 1h5m1 0h4m-12 1h1m1 0h5m1 0h3m-20 1h1m8 0h2m2 0h3m1 0h2m1 0h2m-25 1h1m2 0h3m5 0h10m1 0h2m-36 1h2m9 0h7m5 0h8m1 0h2m4 0h2m-41 1h1m1 0h1m7 0h2m2 0h3m1 0h1m6 0h7m1 0h1m6 0h1m1 0h1m-41 1h1m5 0h5m1 0h4m8 0h2m1 0h4m1 0h1m4 0h2m-41 1h1m1 0h2m3 0h4m1 0h3m11 0h2m1 0h1m1 0h2m1 0h1m4 0h3m-42 1h3m1 0h1m2 0h6m1 0h2m9 0h4m1 0h1m2 0h4m2 0h3m-41 1h6m1 0h1m1 0h3m1 0h1m1 0h1m6 0h3m2 0h7m1 0h6m-42 1h1m2 0h1m3 0h2m1 0h1m1 0h2m3 0h2m1 0h3m1 0h1m1 0h5m2 0h2m1 0h1m2 0h1m-49 1h5m3 0h4m1 0h3m7 0h7m1 0h1m1 0h2m1 0h3m1 0h1m1 0h7m-49 1h5m3 0h1m1 0h1m2 0h2m10 0h3m1 0h1m2 0h2m1 0h2m2 0h3m1 0h1m1 0h2m1 0h2m-49 1h3m2 0h4m2 0h5m9 0h1m1 0h3m1 0h1m1 0h2m2 0h1m1 0h1m2 0h6m1 0h1m-59 1h1m6 0h3m1 0h4m2 0h2m20 0h1m1 0h8m2 0h4m1 0h2m-59 1h3m4 0h1m1 0h4m1 0h1m1 0h2m27 0h3m1 0h1m2 0h8m-58 1h1m3 0h5m4 0h2m28 0h3m1 0h4m2 0h1m1 0h1m1 0h1m-61 1h1m1 0h3m2 0h2m38 0h4m1 0h4m2 0h3m-61 1h4m1 0h3m1 0h1m40 0h4m1 0h6m-62 1h1m2 0h7m43 0h3m1 0h6m-62 1h7m45 0h1m1 0h4m1 0h2m-62 1h3m1 0h3m45 0h6m2 0h2m-66 1h1m1 0h1m1 0h2m49 0h2m1 0h3m1 0h2m1 0h2m-74 1h1m1 0h2m1 0h6m51 0h2m1 0h9m-75 1h1m1 0h2m2 0h1m1 0h2m52 0h4m2 0h5m-74 1h7m1 0h1m54 0h3m1 0h2m1 0h5m-75 1h1m1 0h4m57 0h1m1 0h1m1 0h1m2 0h1m2 0h1m-73 1h2m60 0h1m1 0h6m1 0h1m-75 1h3m61 0h1m1 0h3m1 0h2m-73 1h6m60 0h2m2 0h1m1 0h1m-73 1h6m58 0h2m2 0h1m1 0h1m-72 1h1m1 0h2m1 0h1m59 0h5m-71 1h3m1 0h3m59 0h3m-71 1h5m64 0h4m-75 1h1m1 0h2m2 0h1m-8 1h5m65 0h1m1 0h2m-75 1h4m68 0h2m1 0h1m-75 1h2m66 0h2m1 0h2m-77 1h1m1 0h3m66 0h1m1 0h1m2 0h1m-78 1h5m66 0h3m-76 1h2m1 0h3m69 0h3m-79 1h5m69 0h5m-78 1h2m71 0h3m1 0h1m-81 1h1m1 0h2m68 0h1m1 0h5m-80 1h4m70 0h6m-80 1h3m70 0h6m-82 1h2m1 0h1m1 0h1m69 0h1m1 0h2m-83 1h2m1 0h2m1 0h3m69 0h5m-84 1h1m1 0h6m68 0h7m-84 1h5m70 0h3m1 0h1m1 0h1m-79 1h2m68 0h2m4 0h1m-78 1h2m68 0h1m1 0h5m-81 1h1m1 0h1m1 0h2m68 0h1m6 0h1m-86 1h10m65 0h3m6 0h2m-84 1h3m2 0h1m67 0h1m-79 1h1m1 0h8m65 0h1m1 0h4m-82 1h1m2 0h3m1 0h3m64 0h7m-92 1h3m7 0h9m1 0h1m63 0h3m1 0h1m-90 1h2m1 0h3m4 0h1m2 0h9m63 0h3m-93 1h5m1 0h5m1 0h6m1 0h1m1 0h2m1 0h3m62 0h2m-94 1h2m1 0h12m3 0h7m1 0h2m1 0h1m60 0h2m-92 1h1m1 0h1m1 0h1m1 0h1m1 0h1m1 0h1m2 0h1m3 0h2m6 0h3m1 0h1m-31 1h3m1 0h1m6 0h3m1 0h3m6 0h3m1 0h2m57 0h3m1 0h1m-91 1h1m1 0h1m9 0h2m1 0h1m8 0h5m54 0h4m1 0h1m-90 1h2m10 0h1m1 0h2m9 0h5m52 0h3m1 0h1m-88 1h3m23 0h1m2 0h1m50 0h5m-84 1h1m25 0h2m49 0h1m2 0h2m-83 1h2m74 0h1m2 0h2m-81 1h2m65 0h9m2 0h2m-80 1h2m63 0h3m1 0h1m-70 1h1m41 0h1m1 0h1m18 0h2m1 0h1m-67 1h1m32 0h3m3 0h3m1 0h2m1 0h1m5 0h1m1 0h2m1 0h4m1 0h5m-67 1h1m30 0h3m1 0h5m1 0h2m1 0h8m1 0h4m2 0h8m-67 1h1m29 0h2m1 0h1m1 0h2m1 0h1m1 0h2m1 0h1m1 0h4m2 0h1m2 0h8m1 0h3m-37 1h2m1 0h1m1 0h2m2 0h2m6 0h1m1 0h7m5 0h5m-36 1h4m1 0h3m1 0h2m6 0h4m-20 1h1m2 0h2m1 0h1m10 0h1m-19 1h1m1 0h2m14 0h1m-19 1h4m-2 1h2m-4 1h3m-17 1h1m1 0h1m10 0h4m-19 1h2m1 0h3m8 0h4m-20 1h4m1 0h2m1 0h1m6 0h2m1 0h2m-19 1h1m1 0h3m3 0h3m1 0h5m-20 1h1m1 0h3m5 0h1m1 0h1m2 0h3m-18 1h2m-3 1h2" stroke="rgb(8, 31, 234)" stroke-width="1.3" fill="none"/>
<path d="M195 523.5h1m-3 1h2m1 0h2m-5 1h6m-7 1h4m1 0h2m-13 1h2m1 0h1m1 0h1m1 0h1m2 0h5m1 0h4m-22 1h10m2 0h9m1 0h5m-33 1h3m2 0h2m1 0h2m1 0h3m1 0h1m2 0h1m1 0h13m-35 1h4m3 0h8m1 0h18m-34 1h2m3 0h5m2 0h9m1 0h2m1 0h2m3 0h2m1 0h3m1 0h2m-40 1h7m1 0h1m1 0h1m1 0h3m6 0h2m1 0h3m5 0h3m1 0h1m1 0h4m-44 1h5m1 0h10m8 0h2m1 0h1m7 0h9m-46 1h2m1 0h1m3 0h3m17 0h2m8 0h1m1 0h6m-50 1h3m1 0h4m35 0h4m1 0h1m-50 1h1m1 0h6m37 0h3m-50 1h11m36 0h4m-53 1h3m6 0h4m32 0h1m3 0h1m1 0h2m-57 1h6m8 0h2m33 0h1m3 0h4m-60 1h5m1 0h2m47 0h2m1 0h2m-60 1h4m2 0h1m48 0h4m-58 1h3m50 0h5m-58 1h2m51 0h4m-59 1h3m53 0h2m-58 1h1m1 0h1m53 0h3m-61 1h1m1 0h3m53 0h3m-63 1h4m1 0h1m50 0h6m-65 1h1m1 0h2m1 0h2m51 0h1m2 0h1m1 0h2m-67 1h3m1 0h3m53 0h3m1 0h2m-66 1h1m1 0h3m55 0h5m-67 1h3m1 0h1m56 0h5m-67 1h1m1 0h3m56 0h4m-66 1h4m58 0h2m1 0h1m-67 1h2m1 0h1m57 0h3m1 0h3m-71 1h1m1 0h3m58 0h1m1 0h3m1 0h2m-72 1h4m60 0h4m-68 1h1m1 0h1m60 0h4m-68 1h3m59 0h7m-70 1h4m59 0h3m1 0h2m-69 1h1m1 0h1m59 0h5m-70 1h4m59 0h3m1 0h1m-72 1h7m58 0h4m-69 1h1m1 0h4m59 0h3m-68 1h4m60 0h1m-65 1h2m61 0h2m-66 1h3m59 0h1m1 0h1m-67 1h3m1 0h1m57 0h3m-66 1h4m58 0h1m-64 1h4m58 0h1m-63 1h3m58 0h2m-61 1h1m57 0h1m1 0h1m-63 1h3m56 0h3m-62 1h4m53 0h1m1 0h1m-71 1h1m1 0h1m8 0h4m50 0h2m1 0h2m-85 1h3m1 0h1m8 0h6m7 0h4m46 0h6m-83 1h3m1 0h3m6 0h4m1 0h3m6 0h3m45 0h4m-81 1h3m1 0h6m4 0h8m7 0h1m46 0h3m-79 1h6m1 0h12m2 0h1m5 0h1m1 0h2m43 0h1m1 0h1m-78 1h3m1 0h2m4 0h5m1 0h2m1 0h5m3 0h5m8 0h1m26 0h9m-76 1h1m1 0h4m4 0h1m1 0h4m1 0h9m1 0h1m1 0h3m8 0h3m20 0h10m-73 1h3m1 0h2m5 0h1m1 0h2m1 0h17m6 0h5m17 0h3m-64 1h2m1 0h3m5 0h1m2 0h2m1 0h2m1 0h7m1 0h12m1 0h2m1 0h6m1 0h2m5 0h5m-64 1h4m1 0h1m7 0h8m1 0h11m1 0h7m4 0h2m1 0h2m1 0h2m2 0h3m1 0h3m-62 1h1m1 0h4m9 0h10m2 0h5m3 0h3m8 0h3m6 0h1m-56 1h6m10 0h3m1 0h5m1 0h4m-30 1h3m13 0h6m1 0h6m-29 1h2m13 0h5m3 0h3m1 0h1m-28 1h1m12 0h6m5 0h1m1 0h1m-28 1h1m13 0h1m1 0h4m5 0h4m-29 1h1m12 0h8m4 0h4m-17 1h10m2 0h5m-18 1h3m2 0h3m1 0h1m1 0h1m1 0h5m-18 1h17m-19 1h5m4 0h4m1 0h2m1 0h2m-19 1h1m1 0h2m7 0h6m-17 1h2m9 0h4m1 0h1m-18 1h1m-1 1h1m-1 1h1m-2 1h1" stroke="rgb(4, 67, 243)" stroke-width="1.3" fill="none"/>
<path d="M194 527.5h2m-2 1h2m-2 1h1m-9 2h2m15 0h3m-20 1h1m3 0h6m6 0h2m1 0h2m-18 1h4m1 0h3m5 0h6m-33 1h3m3 0h1m1 0h5m1 0h6m1 0h2m2 0h1m1 0h6m-34 1h5m1 0h11m4 0h14m-35 1h8m3 0h5m6 0h14m-36 1h7m15 0h9m1 0h1m1 0h2m-45 1h5m4 0h5m19 0h8m1 0h3m-47 1h8m3 0h2m21 0h6m1 0h1m2 0h3m-48 1h7m1 0h1m1 0h2m24 0h7m1 0h3m-48 1h4m4 0h5m25 0h10m-51 1h1m1 0h3m1 0h1m35 0h8m-51 1h4m1 0h2m36 0h3m1 0h4m-52 1h6m1 0h1m37 0h8m-53 1h5m1 0h1m38 0h8m-53 1h6m40 0h3m1 0h3m-53 1h3m42 0h1m1 0h2m-52 1h4m44 0h1m1 0h1m-53 1h5m44 0h4m-55 1h5m47 0h3m-57 1h4m48 0h4m-57 1h3m49 0h4m-58 1h4m50 0h3m-58 1h1m1 0h2m50 0h3m-59 1h5m50 0h3m-60 1h5m51 0h3m-60 1h4m53 0h2m-60 1h4m53 0h2m-59 1h3m52 0h4m-60 1h1m1 0h1m51 0h5m-61 1h4m52 0h3m-60 1h4m52 0h2m-59 1h3m53 0h3m-61 1h5m52 0h3m-62 1h3m1 0h2m52 0h3m-61 1h5m52 0h2m-59 1h5m51 0h1m-58 1h1m1 0h2m51 0h1m-58 1h1m2 0h2m1 0h1m49 0h1m-58 1h7m49 0h1m-57 1h4m1 0h2m48 0h2m-57 1h7m46 0h3m-55 1h3m2 0h2m41 0h5m-53 1h7m38 0h4m-49 1h1m1 0h6m35 0h2m-45 1h8m32 0h4m-46 1h11m29 0h5m-45 1h9m1 0h2m22 0h8m-68 1h3m23 0h7m2 0h6m14 0h6m-61 1h4m22 0h7m4 0h7m8 0h4m-56 1h5m22 0h5m6 0h7m2 0h7m-54 1h5m43 0h1m1 0h2m-52 1h6m-7 1h9m-9 1h10m-13 1h9m1 0h3m-14 1h7m1 0h2m1 0h2m5 0h3m-22 1h11m7 0h5m-24 1h2m1 0h10m6 0h4m-23 1h1m4 0h1m1 0h5m8 0h4m-25 1h1m6 0h3m1 0h1m-5 1h4m-3 1h2m-2 1h1m-1 1h1m-2 1h1m-1 1h1m-1 1h1m-2 2h1" stroke="rgb(1, 103, 253)" stroke-width="1.3" fill="none"/>
<path d="M191 535.5h4m-13 1h3m5 0h6m-15 1h10m1 0h4m-17 1h18m-21 1h5m1 0h5m4 0h6m-22 1h11m7 0h5m-33 1h4m5 0h12m8 0h5m-34 1h16m13 0h6m-36 1h9m3 0h4m15 0h5m-36 1h4m9 0h2m16 0h6m-38 1h5m26 0h7m-39 1h4m28 0h7m-42 1h7m28 0h7m-44 1h8m29 0h5m1 0h1m-45 1h6m33 0h5m-46 1h1m1 0h3m36 0h4m-48 1h6m39 0h3m-50 1h3m44 0h2m-50 1h2m45 0h3m-51 1h2m46 0h2m-51 1h2m46 0h2m-52 1h4m45 0h2m-53 1h5m44 0h4m-54 1h4m45 0h4m-54 1h3m46 0h3m-53 1h2m47 0h2m-52 1h2m47 0h2m-52 1h2m48 0h2m-53 1h2m48 0h2m-53 1h2m48 0h2m-53 1h3m47 0h1m-52 1h3m47 0h2m-52 1h2m46 0h2m-51 1h3m46 0h1m-50 1h3m44 0h2m-50 1h3m44 0h2m-49 1h2m44 0h2m-48 1h3m38 0h5m-45 1h2m35 0h4m-41 1h3m32 0h1m1 0h1m-37 1h3m28 0h4m-35 1h4m26 0h2m-31 1h4m19 0h6m-28 1h5m11 0h6m-19 1h4m4 0h6m-11 1h8m-57 9h1m-2 1h4m-5 1h1m3 0h2m-1 1h1m-1 1h2m-1 1h1m-1 1h1m-2 3h1m-1 1h1m-7 1h1m4 0h1" stroke="rgb(0, 150, 250)" stroke-width="1.3" fill="none"/>
<path d="M187 539.5h4m-5 1h7m-7 1h8m-13 1h13m-21 1h3m4 0h2m1 0h12m-27 1h9m2 0h16m-27 1h5m1 0h7m3 0h10m-27 1h3m6 0h3m6 0h1m1 0h7m-28 1h4m16 0h8m-29 1h4m18 0h7m-32 1h4m23 0h3m1 0h2m-36 1h4m28 0h4m-38 1h3m32 0h4m-44 1h6m34 0h4m-46 1h5m36 0h4m-46 1h3m38 0h5m-47 1h2m39 0h5m-46 1h2m39 0h4m-46 1h2m39 0h3m-46 1h3m40 0h2m-47 1h4m40 0h2m-48 1h3m42 0h2m-48 1h2m44 0h1m-48 1h2m45 0h1m-49 1h2m45 0h1m-49 1h2m45 0h1m-48 1h1m44 0h2m-48 1h2m43 0h2m-47 1h2m42 0h1m-46 1h2m41 0h2m-45 1h2m41 0h1m-45 1h3m39 0h2m-45 1h3m36 0h5m-43 1h2m33 0h3m-38 1h3m30 0h2m-34 1h3m26 0h3m-31 1h2m23 0h3m-27 1h2m18 0h5m-24 1h3m10 0h6m-17 1h11m-9 1h4m-55 12h3m-4 1h1m3 0h1m-6 1h1m4 0h1m0 1h1m-1 1h1m-1 2h1m-7 2h1m4 0h1m-5 1h1m2 0h1" stroke="rgb(0, 200, 244)" stroke-width="1.3" fill="none"/>
<path d="M173 545.5h1m7 0h3m-14 1h6m3 0h6m-15 1h16m-17 1h6m7 0h5m-21 1h6m11 0h6m-26 1h5m16 0h7m-31 1h3m22 0h7m-34 1h3m25 0h6m-37 1h4m28 0h4m-39 1h5m30 0h3m-40 1h3m34 0h2m-39 1h1m36 0h2m-40 1h2m36 0h1m-40 1h2m36 0h2m-41 1h2m37 0h1m-43 1h3m38 0h1m-44 1h3m40 0h1m-45 1h2m41 0h2m-46 1h2m41 0h2m-46 1h2m41 0h2m-46 1h2m41 0h1m-44 1h2m39 0h2m-43 1h1m39 0h2m-43 1h2m38 0h1m-41 1h2m37 0h2m-41 1h2m33 0h4m-40 1h3m30 0h3m-36 1h3m28 0h2m-32 1h2m25 0h3m-29 1h2m21 0h3m-26 1h3m17 0h3m-22 1h3m4 0h2m4 0h5m-16 1h10m-60 15h2m-3 1h1m2 0h1m-5 1h1m4 0h1m-6 1h1m4 0h1m-6 1h1m4 0h1m-6 1h1m4 0h1m-6 1h1m4 0h1m-2 1h1m-3 1h2" stroke="rgb(0, 234, 213)" stroke-width="1.3" fill="none"/>
<path d="M175 548.5h7m-10 1h11m-15 1h6m8 0h2m-21 1h6m14 0h2m-24 1h3m19 0h3m-27 1h2m23 0h3m-30 1h2m25 0h3m-34 1h5m27 0h2m-36 1h3m31 0h2m-36 1h1m33 0h2m-37 1h1m34 0h1m-37 1h2m33 0h2m-39 1h2m34 0h2m-40 1h3m35 0h2m-42 1h3m36 0h2m-42 1h2m37 0h2m-42 1h2m37 0h2m-42 1h2m36 0h3m-41 1h2m35 0h2m-40 1h2m35 0h2m-39 1h2m34 0h2m-38 1h1m33 0h3m-37 1h1m30 0h1m-32 1h1m27 0h2m-30 1h1m25 0h2m-28 1h2m21 0h2m-24 1h2m16 0h3m-20 1h9m4 0h4m-16 1h4m2 0h4m-61 17h2m-3 1h1m2 0h1m-4 4h1m2 0h1m-4 1h3" stroke="rgb(0, 245, 147)" stroke-width="1.3" fill="none"/>
<path d="M174 550.5h8m-13 1h7m3 0h4m-19 1h6m11 0h2m-22 1h4m16 0h3m-25 1h2m21 0h2m-26 1h2m22 0h3m-31 1h4m25 0h2m-33 1h3m28 0h2m-34 1h2m30 0h2m-34 1h1m30 0h2m-35 1h2m30 0h2m-35 1h2m31 0h2m-37 1h2m32 0h2m-38 1h2m32 0h3m-38 1h2m32 0h3m-38 1h3m31 0h2m-36 1h2m31 0h2m-36 1h2m32 0h1m-35 1h2m30 0h2m-35 1h2m28 0h3m-33 1h2m26 0h2m-30 1h2m24 0h1m-27 1h2m20 0h3m-24 1h7m11 0h3m-20 1h8m6 0h2m-8 1h4m-63 19h2m-3 1h1m2 0h1m-4 1h1m2 0h1m-4 1h1m2 0h1m-3 1h2" stroke="rgb(0, 255, 80)" stroke-width="1.3" fill="none"/>
<path d="M176 551.5h3m-9 1h11m-16 1h10m2 0h4m-20 1h5m13 0h3m-22 1h1m19 0h2m-24 1h2m20 0h3m-28 1h4m21 0h3m-30 1h3m24 0h3m-31 1h2m26 0h2m-31 1h2m26 0h2m-31 1h2m26 0h3m-33 1h2m27 0h3m-34 1h3m27 0h2m-33 1h3m27 0h2m-32 1h2m28 0h1m-32 1h2m28 0h1m-32 1h3m27 0h2m-32 1h3m24 0h3m-31 1h4m22 0h2m-28 1h6m18 0h2m-26 1h7m14 0h3m-24 1h8m9 0h3m-14 1h3m5 0h3m-9 1h6m-65 21h2m-2 1h2m-2 1h2" stroke="rgb(71, 255, 47)" stroke-width="1.3" fill="none"/>
<path d="M175 553.5h2m-11 1h13m-18 1h6m9 0h4m-20 1h1m17 0h2m-21 1h1m18 0h2m-24 1h3m19 0h2m-26 1h2m22 0h2m-27 1h1m23 0h2m-27 1h1m23 0h2m-28 1h2m24 0h1m-28 1h2m24 0h1m-28 1h2m24 0h1m-28 1h2m25 0h1m-29 1h3m24 0h1m-28 1h3m22 0h2m-27 1h3m20 0h1m-24 1h3m18 0h1m-20 1h2m14 0h2m-17 1h2m8 0h4m-13 1h9m-8 1h5" stroke="rgb(142, 255, 13)" stroke-width="1.3" fill="none"/>
<path d="M167 555.5h9m-15 1h7m6 0h4m-18 1h1m14 0h3m-19 1h1m16 0h2m-22 1h3m17 0h2m-24 1h2m19 0h2m-24 1h2m20 0h1m-24 1h1m22 0h1m-25 1h1m22 0h1m-25 1h2m21 0h1m-25 1h2m21 0h2m-25 1h2m20 0h2m-24 1h2m18 0h2m-22 1h2m16 0h2m-20 1h3m13 0h2m-17 1h3m6 0h5m-13 1h8" stroke="rgb(196, 244, 0)" stroke-width="1.3" fill="none"/>
<path d="M168 556.5h6m-13 1h14m-15 1h1m12 0h3m-17 1h1m14 0h2m-20 1h3m15 0h1m-20 1h2m17 0h1m-22 1h2m19 0h1m-23 1h2m19 0h1m-22 1h1m19 0h1m-22 1h2m18 0h1m-21 1h2m16 0h2m-20 1h2m14 0h2m-18 1h3m12 0h1m-15 1h3m3 0h7m-12 1h6" stroke="rgb(238, 227, 0)" stroke-width="1.3" fill="none"/>
<path d="M161 558.5h12m-13 1h1m9 0h4m-15 1h1m12 0h2m-17 1h2m14 0h1m-19 1h3m14 0h2m-20 1h2m16 0h1m-20 1h2m16 0h1m-19 1h1m15 0h2m-18 1h2m12 0h2m-16 1h3m10 0h1m-13 1h12m-11 1h3" stroke="rgb(255, 187, 0)" stroke-width="1.3" fill="none"/>
<path d="M161 559.5h9m-10 1h2m6 0h4m-13 1h2m9 0h3m-15 1h2m11 0h1m-16 1h3m11 0h2m-17 1h4m9 0h3m-17 1h5m8 0h2m-14 1h7m3 0h2m-11 1h10" stroke="rgb(255, 132, 0)" stroke-width="1.3" fill="none"/>
<path d="M162 560.5h6m-7 1h9m-10 1h11m-12 1h6m1 0h4m-11 1h9m-9 1h8m-5 1h3" stroke="rgb(240, 76, 0)" stroke-width="1.3" fill="none"/>
<path d="M165 563.5h1" stroke="rgb(215, 20, 0)" stroke-width="1.3" fill="none"/>
<rect x="87.7" y="366.1" width="236.6" height="236.3" fill="none" stroke="#000" stroke-width="1.3"/>
<path d="M87.7 602.4v5M134.1 602.4v5M180.5 602.4v5M226.9 602.4v5M273.3 602.4v5M99.3 602.4v2.5M110.9 602.4v2.5M122.5 602.4v2.5M145.7 602.4v2.5M157.3 602.4v2.5M168.9 602.4v2.5M192.1 602.4v2.5M203.7 602.4v2.5M215.3 602.4v2.5M238.5 602.4v2.5M250.1 602.4v2.5M261.7 602.4v2.5M284.9 602.4v2.5M296.5 602.4v2.5M308.1 602.4v2.5" stroke="#000" stroke-width="1.2"/>
<path d="M87.7 602.4h-5M87.7 543.3h-5M87.7 484.2h-5M87.7 425.2h-5M87.7 366.1h-5M87.7 587.6h-2.5M87.7 572.9h-2.5M87.7 558.1h-2.5M87.7 528.6h-2.5M87.7 513.8h-2.5M87.7 499.0h-2.5M87.7 469.5h-2.5M87.7 454.7h-2.5M87.7 439.9h-2.5M87.7 410.4h-2.5M87.7 395.6h-2.5M87.7 380.9h-2.5" stroke="#000" stroke-width="1.2"/>
<text x="87.7" y="624.6" font-size="12.6" text-anchor="middle">0</text>
<text x="134.1" y="624.6" font-size="12.6" text-anchor="middle">2</text>
<text x="180.5" y="624.6" font-size="12.6" text-anchor="middle">4</text>
<text x="226.9" y="624.6" font-size="12.6" text-anchor="middle">6</text>
<text x="273.3" y="624.6" font-size="12.6" text-anchor="middle">8</text>
<text x="324.3" y="624.6" font-size="12.6" text-anchor="middle">10.2</text>
<text x="76.7" y="602.4" font-size="12.6" text-anchor="middle" transform="rotate(-90 76.7 602.4)">0</text>
<text x="76.7" y="543.3" font-size="12.6" text-anchor="middle" transform="rotate(-90 76.7 543.3)">0.4</text>
<text x="76.7" y="484.2" font-size="12.6" text-anchor="middle" transform="rotate(-90 76.7 484.2)">0.8</text>
<text x="76.7" y="425.2" font-size="12.6" text-anchor="middle" transform="rotate(-90 76.7 425.2)">1.2</text>
<text x="76.7" y="366.1" font-size="12.6" text-anchor="middle" transform="rotate(-90 76.7 366.1)">1.6</text>
<text x="205.0" y="644.0" font-size="12.6" text-anchor="middle">FSC-H&#160;&#160;(10<tspan font-size="9.8" dx="1.9" dy="-5.3">6</tspan><tspan font-size="12.6" dx="1.5" dy="5.3">)</tspan></text>
<text x="54.8" y="485.0" font-size="12.6" text-anchor="middle" transform="rotate(-90 54.8 485.0)">SSC-H&#160;&#160;(10<tspan font-size="9.8" dx="1.9" dy="-5.3">6</tspan><tspan font-size="12.6" dx="1.5" dy="5.3">)</tspan></text>
<polygon points="91.6,556.9 121.0,395.6 302.6,444.6 296.2,530.7 183.5,585.0 144.2,594.6 132.6,593.7" fill="none" stroke="#d42d34" stroke-width="1.3"/>
<text x="250.5" y="396.2" font-size="12.6" fill="#d42d34">P1</text>
<text x="250.5" y="410.7" font-size="12.6" fill="#d42d34">91.89%</text>
<path d="M623 373.5h1m-166 3h1m149 12h1m-78 6h1m12 2h1m77 1h1m-185 6h1m150 2h1m28 1h1m-79 1h1m53 0h1m-9 1h1m36 1h1m-45 1h1m-42 1h1m70 0h1m-41 1h1m27 0h1m-88 1h1m83 0h1m-14 1h1m-15 2h1m-13 1h1m16 2h1m9 0h1m-85 3h1m61 0h1m6 1h1m-34 3h1m80 1h1m-129 3h1m118 0h1m-76 1h1m-21 1h1m96 2h1m-65 1h1m-27 2h1m84 2h1m-106 1h1m7 0h1m26 1h1m-34 1h1m10 0h1m3 0h1m29 2h1m-15 1h1m-15 1h1m18 0h1m74 0h1m-123 1h1m7 1h1m13 1h1m-31 2h1m-4 3h1m-8 3h1m42 1h1m76 1h1m-135 3h1m-49 8h1m42 1h1m10 3h1m107 4h1m-108 1h1m103 1h1m-127 2h1m3 1h1m119 1h1m-143 2h1m161 0h1m-190 3h1m24 1h1m9 3h1m13 3h1m161 1h1m-57 2h1m-112 2h1m-3 4h1m10 0h1m97 1h1m-118 1h1m-5 4h1m-17 1h1m20 2h1m5 1h1m95 3h1m-110 1h1m-17 1h1m27 4h1m168 0h1m-178 5h1m4 2h1m-5 1h1m-6 2h1m0 3h1m3 2h1m-24 1h1m3 2h1m14 1h1m3 0h1m119 1h1m-132 4h1m-7 3h1m85 3h1m-100 1h1m2 5h1m3 7h1m156 4h1m-163 2h1m-9 13h1m61 1h1" stroke="rgb(30, 30, 160)" stroke-width="1.3" fill="none"/>
<path d="M605 397.5h1m-2 2h1m-14 9h1m28 1h1m-35 3h1m-2 1h1m29 0h1m-28 3h1m2 0h1m-8 1h1m6 0h1m8 0h1m1 0h1m14 1h1m0 1h1m-31 1h1m5 0h1m13 0h1m-32 3h1m9 0h1m21 0h1m-6 1h1m5 0h1m-68 1h1m37 0h1m17 0h1m-57 1h1m12 0h1m2 0h1m27 0h1m15 0h1m-63 1h1m29 0h1m-19 1h1m-20 1h1m19 0h1m6 0h1m11 0h1m14 0h1m-30 2h1m4 0h1m30 1h1m-42 1h1m2 0h1m34 1h1m6 0h1m3 1h1m-49 1h1m-26 2h1m1 0h1m21 0h1m5 1h1m-14 1h1m5 0h1m-32 4h1m-1 1h1m-22 3h1m6 0h1m13 0h1m4 0h1m6 0h1m60 0h1m-90 1h1m21 0h1m60 0h1m-59 1h1m61 0h1m1 0h1m-97 1h1m26 0h1m3 0h1m4 0h1m8 0h1m3 0h1m40 0h1m-96 1h1m19 0h1m24 0h1m-21 1h1m7 0h1m16 0h1m-53 1h1m7 0h1m15 0h1m67 0h1m-67 1h1m18 0h1m46 0h1m-92 1h1m-20 1h1m7 0h1m7 0h1m8 1h1m4 0h1m-30 1h1m104 0h1m2 0h1m-104 1h1m11 0h1m33 0h1m5 0h1m-14 1h2m-45 1h1m6 0h1m28 0h1m10 0h1m53 0h1m6 0h1m-95 1h1m13 0h1m74 0h1m-52 1h1m-56 1h1m5 0h1m7 0h1m7 0h1m25 0h1m-46 1h1m25 0h1m-31 1h1m9 0h1m5 0h1m35 0h1m-44 2h1m30 0h1m7 0h1m3 1h1m-25 1h2m72 0h1m-100 1h1m46 0h1m-44 1h1m-12 2h1m30 1h1m-23 1h1m19 0h1m64 0h1m-57 2h1m-37 1h1m0 1h1m24 0h1m9 1h1m56 0h1m-106 1h1m3 0h1m2 0h1m5 0h1m-13 1h1m3 1h1m7 0h1m14 1h1m75 0h1m-86 1h1m3 2h1m-33 2h2m7 0h1m-5 1h1m0 2h1m2 0h1m95 0h1m-102 2h1m-10 4h1m9 0h1m1 0h1m5 0h1m-16 1h1m98 0h1m-101 1h1m97 1h2m-7 2h1m-98 3h1m13 0h1m-21 1h1m13 0h1m-7 1h1m-10 1h1m0 1h1m17 0h1m1 0h1m78 0h1m-92 1h1m0 5h1m6 1h1m-11 1h1m85 0h1m0 1h1m-86 1h1m-4 1h1m15 0h1m-7 1h1m72 0h1m-78 1h1m-4 1h1m80 0h1m-73 1h1m68 0h2m-84 1h1m10 1h1m71 1h1m-10 2h1m-95 4h1m0 1h1m16 3h1m62 6h2m-73 2h1m-5 1h2m-5 2h1m69 2h1m-71 1h1m1 0h1m0 1h1m-12 1h1m-1 2h1m5 0h1m-3 3h1m65 0h1m-2 4h1m-72 2h2m-4 1h1m-4 3h1m-4 2h1m62 0h1m-67 5h1m-3 1h1m55 3h1m-58 1h1m55 1h1m-4 2h1m-2 2h1m-6 3h1m-5 3h2m-4 1h1m-3 2h1m-14 3h1" stroke="rgb(21, 21, 191)" stroke-width="1.3" fill="none"/>
<path d="M614 415.5h1m-3 1h2m2 0h1m-8 1h1m-2 1h2m3 0h1m-23 2h1m-4 2h1m1 0h1m2 1h1m2 0h1m-1 1h1m-21 1h1m17 0h1m-17 1h1m17 0h1m-22 1h1m1 1h1m1 0h1m16 0h2m-20 1h1m8 1h1m4 0h2m-28 1h1m1 0h1m1 0h1m7 0h1m3 0h2m-4 1h1m1 0h1m1 0h1m3 0h1m13 0h1m-36 1h1m2 0h1m6 0h1m2 0h1m2 0h2m16 0h2m-33 1h1m8 0h2m2 0h1m4 0h1m-20 1h1m13 0h1m4 0h1m7 0h1m-16 1h2m-18 1h1m2 0h2m3 0h2m5 0h2m6 0h1m6 0h1m1 0h1m-35 1h1m4 0h1m1 0h1m4 0h1m21 0h1m-32 1h2m3 0h1m2 0h1m4 0h1m5 0h1m2 0h2m7 0h1m-41 1h1m5 0h1m2 0h1m6 0h1m9 0h1m1 0h1m3 0h1m3 0h1m-35 1h1m20 0h1m11 0h1m-43 1h1m5 0h1m5 0h1m1 0h1m2 0h2m3 0h3m2 0h1m2 0h1m1 0h2m3 0h2m4 0h1m-45 1h1m24 0h2m15 0h1m-36 1h1m14 0h1m13 0h1m3 0h1m-39 1h2m4 0h1m6 0h3m2 0h1m3 0h1m6 0h1m-30 1h1m2 0h1m5 0h1m4 0h1m5 0h1m2 0h1m3 0h1m1 0h2m4 0h1m-26 1h1m5 0h3m1 0h3m4 0h1m3 0h1m2 0h2m-36 1h1m5 0h1m1 0h1m9 0h1m2 0h3m1 0h4m5 0h1m-33 1h1m4 0h2m1 0h3m2 0h1m1 0h3m2 0h1m1 0h3m15 0h1m-40 1h1m7 0h1m1 0h1m2 0h1m2 0h1m3 0h1m11 0h1m-35 1h1m3 0h2m2 0h2m2 0h1m4 0h1m4 0h1m4 0h1m4 0h1m-84 1h1m47 0h1m2 0h1m1 0h1m1 0h1m1 0h1m5 0h2m2 0h1m2 0h1m2 0h1m1 0h1m1 0h3m-78 1h1m47 0h5m4 0h2m7 0h1m1 0h1m3 0h1m-23 1h1m7 0h1m1 0h3m-61 1h1m2 0h1m8 0h1m31 0h1m7 0h2m5 0h2m2 0h2m3 0h1m-66 1h1m31 0h3m3 0h1m5 0h1m1 0h3m1 0h2m2 0h1m-67 1h1m10 0h1m32 0h1m1 0h1m3 0h1m6 0h2m4 0h1m3 0h1m9 0h1m2 0h1m-95 1h1m13 0h1m49 0h2m1 0h2m10 0h2m4 0h1m5 0h1m2 0h1m-95 1h1m54 0h1m1 0h1m3 0h1m1 0h1m10 0h1m3 0h3m1 0h1m3 0h1m6 0h1m-46 1h1m5 0h1m1 0h2m5 0h2m3 0h1m1 0h2m10 0h3m1 0h1m1 0h3m-77 1h1m10 0h2m19 0h1m10 0h1m4 0h2m15 0h1m3 0h1m6 0h1m2 0h1m6 0h1m-88 1h1m1 0h1m12 0h1m18 0h1m6 0h2m1 0h1m4 0h1m1 0h1m14 0h1m3 0h1m4 0h2m9 0h1m-52 1h1m8 0h1m3 0h2m17 0h1m1 0h1m2 0h1m4 0h1m-66 1h1m33 0h2m27 0h1m-36 1h1m4 0h2m2 0h2m17 0h1m3 0h1m-35 1h2m4 0h1m5 0h1m17 0h1m1 0h1m-33 1h1m2 0h1m1 0h1m18 0h1m3 0h1m1 0h2m1 0h1m4 0h1m-43 1h1m2 0h1m1 0h1m2 0h1m21 0h4m1 0h1m5 0h1m1 0h1m-100 1h1m30 0h3m28 0h1m2 0h1m21 0h1m10 0h1m1 0h1m-103 1h1m19 0h1m14 0h1m24 0h2m2 0h1m10 0h1m11 0h1m9 0h3m2 0h1m-102 1h1m16 0h1m1 0h1m22 0h1m11 0h1m1 0h1m5 0h1m1 0h1m1 0h1m18 0h1m2 0h1m2 0h1m1 0h1m-95 1h1m15 0h1m2 0h1m20 0h1m15 0h1m3 0h1m1 0h1m1 0h1m1 0h1m15 0h2m1 0h1m5 0h2m3 0h1m-84 1h1m1 0h1m3 0h1m15 0h1m1 0h1m1 0h1m1 0h1m1 0h1m12 0h1m3 0h1m19 0h1m4 0h1m10 0h1m-99 1h1m3 0h1m8 0h1m5 0h1m13 0h2m3 0h1m4 0h1m13 0h1m2 0h1m3 0h1m17 0h1m2 0h1m4 0h1m1 0h1m3 0h1m-95 1h1m2 0h1m14 0h1m1 0h1m18 0h1m16 0h1m2 0h1m20 0h2m11 0h1m-82 1h1m17 0h1m7 0h1m1 0h1m5 0h1m3 0h3m2 0h1m3 0h1m21 0h2m-81 1h1m5 0h1m3 0h1m4 0h1m1 0h2m11 0h1m9 0h1m6 0h1m4 0h1m25 0h1m2 0h2m-84 1h1m18 0h1m1 0h1m8 0h1m13 0h1m3 0h1m30 0h1m-73 1h1m8 0h1m1 0h1m29 0h1m36 0h3m-84 1h1m4 0h1m6 0h1m1 0h1m2 0h1m1 0h1m6 0h1m13 0h1m1 0h1m32 0h2m3 0h1m2 0h2m-60 1h1m14 0h1m1 0h1m33 0h1m-77 1h2m1 0h1m2 0h1m7 0h1m28 0h2m-27 1h1m8 0h1m1 0h1m7 0h1m5 0h1m33 0h1m1 0h1m3 0h1m-78 1h1m18 0h1m47 0h1m7 0h1m-75 1h1m8 0h1m6 0h1m2 0h1m2 0h1m6 0h2m3 0h2m1 0h1m27 0h1m3 0h1m4 0h1m-68 1h1m1 0h1m6 0h1m15 0h2m32 0h1m5 0h1m3 0h1m-94 1h1m3 0h1m23 0h1m1 0h1m4 0h1m5 0h1m2 0h1m3 0h1m32 0h1m2 0h1m-83 1h2m16 0h1m11 0h1m5 0h1m1 0h1m4 0h1m34 0h3m9 0h1m-96 1h2m6 0h2m31 0h1m3 0h1m45 0h1m1 0h2m-90 1h1m7 0h2m7 0h2m3 0h2m2 0h1m1 0h3m2 0h1m3 0h1m1 0h1m35 0h1m13 0h2m-96 1h1m2 0h1m7 0h1m2 0h1m9 0h1m1 0h1m11 0h1m2 0h1m47 0h1m6 0h1m-97 1h1m17 0h1m14 0h1m3 0h1m7 0h1m36 0h1m1 0h2m-69 1h1m11 0h2m5 0h1m3 0h1m1 0h2m1 0h1m33 0h1m5 0h1m1 0h2m-88 1h1m2 0h1m3 0h1m2 0h1m2 0h1m2 0h1m2 0h1m4 0h2m6 0h1m3 0h2m3 0h1m36 0h1m3 0h1m-76 1h1m11 0h1m3 0h1m5 0h1m1 0h2m4 0h1m1 0h1m38 0h1m3 0h1m-89 1h1m2 0h2m1 0h1m2 0h1m5 0h1m6 0h1m9 0h1m5 0h2m4 0h1m-42 1h1m3 0h1m1 0h1m8 0h1m2 0h1m4 0h1m5 0h1m2 0h2m2 0h1m2 0h1m38 0h2m2 0h1m-86 1h1m6 0h1m4 0h1m4 0h1m1 0h3m6 0h1m5 0h1m6 0h1m40 0h1m-70 1h1m1 0h1m4 0h1m13 0h1m4 0h1m40 0h1m-64 1h1m5 0h1m2 0h1m5 0h1m47 0h2m-81 1h1m6 0h1m7 0h1m2 0h2m4 0h1m2 0h1m2 0h1m3 0h1m45 0h1m2 0h1m-85 1h1m8 0h1m11 0h1m1 0h1m4 0h1m3 0h1m43 0h1m4 0h2m-75 1h1m20 0h5m41 0h1m6 0h1m-84 1h1m11 0h1m3 0h1m3 0h1m7 0h3m-30 1h1m1 0h1m8 0h1m1 0h1m7 0h1m52 0h2m-77 1h1m11 0h1m1 0h1m5 0h1m1 0h1m1 0h1m3 0h1m45 0h2m1 0h1m1 0h1m-77 1h1m12 0h1m4 0h2m51 0h2m-69 1h1m5 0h1m2 0h1m4 0h1m3 0h2m49 0h1m-71 1h2m3 0h1m2 0h1m4 0h2m2 0h3m48 0h2m2 0h1m-75 1h2m5 0h1m-8 1h1m3 0h1m4 0h1m2 0h2m5 0h1m49 0h1m-83 1h1m16 0h1m13 0h1m49 0h1m1 0h1m-86 1h1m3 0h1m13 0h1m8 0h1m5 0h1m51 0h1m-81 1h1m1 0h1m16 0h1m1 0h2m2 0h1m1 0h1m52 0h1m-83 1h1m6 0h1m4 0h1m1 0h2m1 0h1m3 0h1m1 0h1m1 0h2m48 0h1m1 0h1m-80 1h1m1 0h1m9 0h1m5 0h1m4 0h3m2 0h1m53 0h2m-75 1h1m13 0h1m1 0h1m54 0h1m-72 1h1m1 0h1m1 0h1m6 1h1m1 0h1m55 0h1m-69 1h1m2 0h1m6 0h1m53 0h3m-73 1h2m5 0h1m3 0h1m3 0h1m1 0h1m50 0h1m-67 1h1m7 0h1m2 0h1m-2 1h1m1 0h1m51 0h2m-66 1h1m62 0h1m-56 1h1m53 1h1m1 0h1m-60 1h2m57 0h1m-59 1h1m50 0h1m5 0h1m1 0h1m-77 1h1m69 0h1m-54 1h1m50 0h1m2 0h1m-73 1h1m3 0h1m1 0h1m61 0h1m-67 1h1m1 0h1m2 0h1m4 0h2m1 0h2m53 0h1m-63 1h1m59 0h1m-71 1h1m10 0h3m1 0h1m53 0h1m2 0h1m-71 1h1m7 0h1m3 0h1m-15 1h2m10 0h1m52 0h1m2 0h1m-64 1h1m4 0h1m53 0h1m-58 1h2m2 0h1m50 0h1m1 0h1m1 0h1m-63 1h1m1 0h1m2 0h1m51 0h1m4 0h2m-67 1h1m1 0h1m1 0h1m54 0h1m-56 1h1m1 0h1m51 0h2m-58 1h1m-3 1h1m54 0h1m1 0h2m-57 1h2m52 0h2m-62 1h2m-2 1h1m2 0h1m56 0h1m-63 1h1m6 0h1m51 0h1m-61 1h1m3 0h1m1 0h1m1 0h1m50 0h3m-62 1h1m3 0h1m53 0h1m3 0h1m-61 1h2m50 0h2m-56 1h3m50 0h1m1 0h1m-58 1h1m52 0h1m2 0h1m2 0h1m-58 1h1m49 0h1m1 0h1m-56 1h1m0 1h1m53 0h1m-57 1h1m51 0h3m-53 1h1m48 0h1m-52 1h1m49 1h2m1 0h1m-57 1h2m50 0h1m-58 1h1m3 0h1m1 0h3m46 1h2m3 0h3m-64 1h1m53 0h1m3 0h1m4 0h1m-63 1h1m52 0h1m2 0h1m4 0h1m-66 1h2m5 0h1m47 0h2m-53 1h1m46 0h1m1 0h1m1 0h1m-53 1h2m44 0h1m6 0h1m-10 1h2m2 0h1m-51 1h3m42 0h1m3 0h1m-4 1h1m-53 2h1m52 0h1m-53 1h2m51 0h1m-55 1h1m-2 1h1m46 0h1m1 0h1m2 0h1m1 0h1m-8 1h1m4 0h1m-1 1h1m-10 1h1m-47 1h1m45 0h1m-47 1h1m41 0h1m-46 1h3m40 0h1m-2 1h1m-47 1h1m3 0h1m42 0h1m-46 1h1m41 0h2m-45 1h1m38 0h2m3 0h1m1 0h1m-49 1h1m41 0h1m3 0h1m-49 1h1m40 0h1m4 0h3m2 0h1m-50 1h1m36 0h1m2 0h1m7 0h1m-15 1h1m2 0h1m4 0h1m-48 1h1m3 0h1m33 0h2m3 0h1m4 0h1m-47 1h1m32 0h1m1 0h1m4 0h1m-47 1h1m1 0h1m2 0h1m35 0h1m4 0h1m-43 1h1m32 0h1m4 0h1m2 0h1m-45 1h1m1 0h1m34 0h1m6 0h1m-45 1h2m31 0h2m3 0h1m4 0h1m-44 1h2m33 0h1m-36 1h1m30 0h1m4 0h2m1 0h1m-40 1h1m29 0h1m-32 1h1m1 0h1m27 0h2m6 0h1m-39 1h1m4 0h2m15 0h1m2 0h1m1 0h1m9 0h2" stroke="rgb(16, 16, 206)" stroke-width="1.3" fill="none"/>
<path d="M570 448.5h1m-17 6h1m2 6h2m-7 1h1m3 0h1m1 0h2m-8 1h1m1 0h5m1 0h1m-12 1h1m3 0h5m1 0h2m-12 1h2m1 0h3m1 0h1m1 0h2m-12 1h3m1 0h2m1 0h1m2 0h3m-20 1h2m3 0h3m2 0h3m-14 1h2m6 0h1m1 0h1m7 0h1m-18 1h4m2 0h3m1 0h5m2 0h1m-18 1h2m5 0h1m1 0h1m3 0h1m2 0h1m-19 1h1m1 0h3m3 0h1m3 0h1m1 0h2m1 0h1m-17 1h2m3 0h2m2 0h3m1 0h4m-18 1h4m5 0h2m-12 1h2m1 0h2m1 0h1m1 0h3m-11 1h1m2 0h6m1 0h2m-13 1h3m1 0h2m2 0h1m1 0h2m-16 1h1m2 0h1m1 0h1m2 0h6m-19 1h1m5 0h3m1 0h4m2 0h4m-27 1h1m1 0h1m2 0h1m1 0h4m1 0h2m7 0h1m3 0h5m-30 1h2m1 0h1m2 0h1m1 0h1m2 0h1m1 0h3m1 0h1m2 0h2m1 0h2m1 0h1m1 0h2m-30 1h1m3 0h3m2 0h2m2 0h1m1 0h2m1 0h3m2 0h6m-29 1h2m1 0h3m3 0h5m3 0h1m2 0h2m1 0h2m1 0h2m-27 1h2m2 0h3m3 0h2m1 0h2m1 0h1m2 0h2m1 0h1m1 0h2m1 0h1m-27 1h5m2 0h1m3 0h4m1 0h2m1 0h2m2 0h1m-18 1h1m5 0h1m1 0h3m2 0h1m1 0h1m2 0h1m-27 1h2m4 0h1m2 0h2m1 0h2m1 0h1m2 0h3m2 0h2m1 0h1m-28 1h1m1 0h1m1 0h7m1 0h2m1 0h1m1 0h1m1 0h1m1 0h2m1 0h3m-28 1h1m2 0h1m1 0h2m6 0h3m4 0h4m1 0h3m-34 1h2m2 0h2m2 0h1m1 0h1m1 0h1m7 0h3m2 0h3m2 0h1m-33 1h3m1 0h1m1 0h1m1 0h1m13 0h3m1 0h1m1 0h1m1 0h1m1 0h1m-33 1h1m1 0h2m2 0h1m1 0h2m12 0h2m4 0h2m-30 1h6m1 0h1m13 0h1m1 0h1m3 0h2m2 0h1m-33 1h2m2 0h1m17 0h1m1 0h1m2 0h4m-28 1h2m17 0h2m2 0h2m1 0h3m-32 1h1m1 0h2m18 0h1m1 0h1m1 0h2m1 0h2m-34 1h4m1 0h1m23 0h2m-35 1h1m1 0h1m28 0h3m1 0h1m-34 1h3m25 0h2m3 0h1m-37 1h1m1 0h2m27 0h5m-40 1h1m4 0h2m29 0h1m1 0h1m-38 1h2m31 0h1m2 0h1m-41 1h1m1 0h1m33 0h2m1 0h1m-42 1h2m1 0h2m32 0h1m1 0h2m-40 1h1m1 0h1m32 0h1m-41 1h1m4 0h1m33 0h1m-42 1h2m3 0h2m31 0h4m1 0h1m-41 1h1m-5 1h2m1 0h2m1 0h1m32 0h1m1 0h3m-45 1h3m2 0h1m33 0h5m-45 1h1m1 0h1m3 0h2m32 0h1m2 0h2m1 0h1m-47 1h1m1 0h2m3 0h1m32 0h5m-46 1h1m2 0h1m1 0h2m33 0h2m2 0h1m-45 1h3m1 0h1m35 0h3m-44 1h1m1 0h1m1 0h1m35 0h1m1 0h1m-44 1h2m1 0h2m35 0h4m-46 1h4m36 0h2m1 0h1m-46 1h1m2 0h2m36 0h1m-44 1h2m2 0h1m39 0h1m-46 1h2m1 0h1m39 0h1m-44 1h1m1 0h2m-5 1h2m40 0h1m1 0h2m-49 1h1m2 0h1m40 0h3m-49 1h3m1 0h1m40 0h5m-50 1h1m1 0h2m40 0h1m3 0h1m-54 1h3m4 0h1m40 0h1m2 0h1m-52 1h1m2 0h2m1 0h1m40 0h1m1 0h2m-51 1h2m2 0h1m1 0h1m40 0h1m1 0h1m-50 1h2m1 0h1m41 0h1m-47 1h2m1 0h1m-6 1h1m1 0h1m43 0h1m2 0h1m-50 1h1m1 0h1m42 0h1m2 0h1m-49 1h2m42 0h5m-2 1h1m-6 1h1m2 0h3m-49 1h1m42 0h1m-48 1h1m1 0h2m-6 1h1m1 0h3m40 0h1m1 0h3m-49 1h1m1 0h1m41 0h2m2 0h1m-52 1h2m1 0h3m43 0h1m-51 1h3m1 0h1m40 0h3m-46 1h3m39 0h4m-51 1h4m1 0h1m42 0h1m-46 1h1m42 0h2m-49 1h2m-3 1h2m1 0h1m43 0h1m-49 1h3m44 0h3m-51 1h1m3 0h1m41 0h1m1 0h2m-51 1h3m43 0h1m2 0h1m-48 1h1m41 0h1m2 0h2m-50 1h1m43 0h1m0 1h1m-49 1h2m1 0h1m42 0h1m-48 1h1m1 0h1m-4 1h3m41 0h1m1 0h1m-50 1h2m2 0h1m41 0h1m-48 1h4m44 0h1m-49 1h1m1 0h1m43 0h1m-47 1h3m41 1h2m1 0h1m-48 1h2m42 0h1m-4 1h1m2 0h1m-46 1h1m-2 1h2m39 0h2m1 0h1m-47 1h1m1 0h1m39 0h1m-44 1h1m39 0h1m1 0h2m-45 1h2m1 0h1m35 0h1m1 0h1m3 0h1m-47 1h1m2 0h1m36 0h1m-43 1h1m1 0h2m35 0h1m-41 1h2m37 0h2m-39 1h1m35 0h2m-44 1h2m3 0h1m35 0h1m1 0h1m-46 1h2m3 0h2m35 0h1m-44 1h3m1 0h2m36 0h1m-42 1h3m38 0h1m-2 1h2m-43 1h1m38 0h2m-43 1h2m37 0h3m-42 1h1m37 0h1m1 0h1m-42 1h3m32 0h2m2 0h1m-42 1h1m1 0h1m32 0h6m-40 1h1m31 0h2m3 0h1m-40 1h1m31 0h1m2 0h2m-38 1h2m31 0h1m1 0h1m1 0h2m-8 1h2m3 0h1m-39 1h1m31 0h1m2 0h1m-37 1h3m27 0h2m2 0h1m-38 1h2m1 0h1m29 0h1m1 0h1m-36 1h1m1 0h1m28 0h2m2 0h1m-8 1h1m-29 1h1m25 0h1m3 0h1m-32 1h1m26 0h1m-30 1h1m28 0h1m-30 1h1m23 0h1m2 0h1m-6 1h2m1 0h3m-31 1h2m23 0h1m3 0h1m-30 1h2m20 0h2m1 0h1m1 0h1m-8 1h5m-26 1h1m1 0h1m16 0h7m-23 1h2m12 0h2m5 0h2m-25 1h1m2 0h1m7 0h1m1 0h2m1 0h2m1 0h3m1 0h1m-21 1h5m1 0h1m2 0h1m2 0h2" stroke="rgb(12, 12, 222)" stroke-width="1.3" fill="none"/>
<path d="M545 478.5h1m-11 3h1m-9 7h4m-7 1h2m2 0h2m1 0h2m-11 1h4m1 0h4m1 0h1m-13 1h2m1 0h1m1 0h6m-15 1h2m1 0h1m1 0h2m1 0h3m1 0h2m1 0h1m-17 1h7m1 0h7m-16 1h3m1 0h3m1 0h3m1 0h4m1 0h1m-16 1h2m1 0h2m1 0h7m1 0h2m-23 1h2m1 0h1m2 0h2m1 0h1m1 0h2m2 0h1m1 0h2m2 0h3m-25 1h1m1 0h7m4 0h1m1 0h7m1 0h1m-26 1h1m1 0h5m10 0h3m1 0h5m-26 1h5m13 0h4m2 0h2m-29 1h1m1 0h1m3 0h1m14 0h8m-31 1h2m1 0h1m1 0h3m13 0h2m1 0h1m1 0h3m-31 1h3m1 0h5m12 0h1m1 0h8m-33 1h4m1 0h3m1 0h1m12 0h2m1 0h1m1 0h5m-34 1h1m1 0h1m1 0h4m16 0h2m2 0h1m1 0h1m-31 1h2m1 0h1m1 0h1m19 0h5m-31 1h1m1 0h4m19 0h2m1 0h1m-30 1h3m24 0h3m-28 1h2m23 0h2m1 0h1m-32 1h4m24 0h3m-31 1h1m1 0h1m25 0h1m1 0h2m-32 1h2m26 0h1m1 0h1m-33 1h4m25 0h4m-35 1h5m25 0h1m1 0h1m-35 1h3m1 0h1m26 0h4m-38 1h1m3 0h2m27 0h1m1 0h1m-35 1h2m29 0h3m-37 1h1m1 0h1m30 0h4m-38 1h3m31 0h1m1 0h1m-38 1h1m1 0h1m30 0h2m1 0h2m-41 1h1m1 0h2m30 0h4m-39 1h2m1 0h1m31 0h1m1 0h1m-40 1h4m32 0h2m-39 1h4m33 0h2m-39 1h2m34 0h2m-40 1h1m1 0h1m34 0h3m-40 1h2m35 0h2m-38 1h1m34 0h2m-42 1h5m33 0h2m-42 1h6m32 0h3m-41 1h2m1 0h1m34 0h1m-41 1h1m1 0h1m35 0h1m1 0h1m-42 1h3m36 0h3m-42 1h2m35 0h4m-42 1h2m36 0h1m1 0h2m-42 1h1m36 0h1m1 0h1m-42 1h3m35 0h1m-38 1h1m35 0h2m-40 1h2m35 0h3m-40 1h1m34 0h2m-2 1h2m-40 1h2m35 0h2m-42 1h1m1 0h2m35 0h3m-42 1h2m36 0h3m-43 1h3m36 0h3m-42 1h2m36 0h1m1 0h1m-42 1h2m36 0h3m-43 1h1m1 0h1m36 0h2m-42 1h3m35 0h3m-40 1h1m36 0h1m-41 1h3m36 0h2m-41 1h2m35 0h2m-3 1h2m-41 1h3m35 0h1m-39 1h1m37 0h1m-42 1h3m36 0h3m-43 1h3m36 0h3m-41 1h1m36 0h3m-42 1h1m1 0h1m35 0h3m-41 1h2m35 0h1m-39 1h2m34 0h1m1 0h1m-41 1h3m34 0h3m-39 1h1m35 0h2m-40 1h2m34 0h3m-39 1h1m34 0h1m-37 1h1m31 0h1m1 0h1m-35 1h1m-2 1h1m31 0h1m-35 1h1m31 0h1m-33 1h1m30 0h2m-35 1h3m29 0h2m-35 1h2m30 0h2m-36 1h1m1 0h1m29 0h3m-38 1h2m2 0h1m30 0h1m-37 1h3m1 0h1m29 0h1m1 0h1m-38 1h1m1 0h3m29 0h2m-35 1h2m28 0h1m1 0h2m-37 1h3m28 0h3m-34 1h3m26 0h1m1 0h1m-32 1h1m25 0h4m-33 1h1m2 0h1m23 0h2m-29 1h3m23 0h1m1 0h1m-31 1h2m25 0h3m-31 1h3m23 0h1m1 0h2m-29 1h1m23 0h4m-30 1h2m21 0h1m1 0h2m-5 1h3m-28 1h2m20 0h4m-26 1h1m18 0h4m1 0h1m-27 1h2m18 0h1m1 0h1m-4 1h2m-23 1h1m1 0h1m16 0h1m1 0h1m-22 1h1m17 0h3m-22 1h2m14 0h1m1 0h1m-19 1h1m13 0h2m3 0h1m-22 1h2m12 0h2m1 0h1m-18 1h2m10 0h3m1 0h2m-18 1h6m3 0h1m1 0h1m1 0h1m-12 1h4m1 0h2m1 0h1m1 0h1m-8 1h2m1 0h1" stroke="rgb(8, 31, 234)" stroke-width="1.3" fill="none"/>
<path d="M518 497.5h3m-8 1h6m1 0h2m-11 1h5m2 0h5m-13 1h1m1 0h2m1 0h9m-15 1h3m1 0h4m1 0h4m-13 1h11m-12 1h5m1 0h5m-15 1h1m1 0h1m1 0h2m4 0h2m1 0h2m-18 1h7m6 0h5m-19 1h6m8 0h1m1 0h3m-20 1h4m13 0h3m-22 1h3m1 0h1m13 0h4m-23 1h5m13 0h2m1 0h3m-25 1h6m14 0h5m-25 1h3m15 0h7m-26 1h3m16 0h5m-25 1h1m2 0h1m16 0h2m1 0h2m-27 1h5m18 0h2m-27 1h1m1 0h4m18 0h1m1 0h1m-29 1h4m21 0h3m-31 1h1m1 0h3m22 0h3m-31 1h1m1 0h1m23 0h3m-30 1h1m1 0h1m23 0h3m-30 1h3m23 0h3m-30 1h3m24 0h1m-31 1h2m1 0h2m24 0h2m-32 1h4m26 0h1m-33 1h1m1 0h2m27 0h3m-34 1h1m1 0h1m27 0h3m-35 1h3m27 0h4m-34 1h2m27 0h4m-34 1h2m27 0h4m-34 1h2m27 0h3m-34 1h1m1 0h2m26 0h1m1 0h1m-35 1h4m27 0h3m-35 1h4m28 0h2m-36 1h2m1 0h1m29 0h2m-36 1h4m29 0h3m-37 1h3m30 0h3m-36 1h2m30 0h3m-36 1h2m30 0h2m-35 1h2m30 0h2m-34 1h1m31 0h1m-35 1h2m30 0h3m-3 1h2m-36 1h2m31 0h2m-37 1h1m1 0h1m31 0h2m-36 1h1m32 0h1m-36 1h2m32 0h2m-37 1h2m32 0h2m-36 1h1m31 0h2m-36 1h2m32 0h1m-35 1h1m32 0h2m-36 1h1m33 0h1m-37 1h2m32 0h1m-35 1h1m32 0h1m-36 1h2m31 0h2m-37 1h1m1 0h1m31 0h2m-37 1h2m32 0h1m-36 1h2m32 0h2m-36 1h1m32 0h2m-36 1h1m31 0h1m1 0h1m-36 1h2m30 0h2m-4 1h3m-35 1h2m29 0h3m-35 1h2m29 0h1m1 0h1m-34 1h1m29 0h2m-34 1h2m28 0h1m-32 1h2m28 0h1m-31 1h1m27 0h2m-31 1h1m27 0h2m-30 1h1m27 0h1m-30 1h2m25 0h2m-30 1h2m26 0h1m-31 1h1m1 0h2m22 0h4m-31 1h3m23 0h3m-30 1h4m22 0h3m-30 1h3m22 0h1m1 0h2m-30 1h3m23 0h2m-30 1h2m1 0h1m20 0h2m-27 1h3m20 0h3m-27 1h3m17 0h5m-26 1h2m18 0h4m-25 1h2m18 0h3m-24 1h3m17 0h1m1 0h1m-25 1h1m1 0h2m16 0h1m1 0h2m-25 1h4m15 0h2m-22 1h3m16 0h3m-23 1h3m12 0h5m-21 1h2m13 0h3m1 0h2m-23 1h3m12 0h2m-17 1h1m13 0h3m-19 1h2m13 0h3m-19 1h2m12 0h3m-16 1h1m10 0h4m-18 1h3m8 0h1m1 0h4m-17 1h2m7 0h5m-15 1h3m5 0h4m-12 1h1m1 0h6m1 0h2m-10 1h1m1 0h6m-6 1h2" stroke="rgb(4, 67, 243)" stroke-width="1.3" fill="none"/>
<path d="M513 503.5h1m-4 1h1m1 0h2m-6 1h6m-8 1h8m-11 1h12m-13 1h13m-14 1h13m-13 1h3m3 0h2m2 0h3m-16 1h1m1 0h4m3 0h5m-15 1h8m2 0h5m-15 1h1m1 0h4m1 0h2m1 0h6m-17 1h4m1 0h12m-18 1h1m1 0h9m1 0h1m1 0h4m-22 1h21m-23 1h8m4 0h10m-25 1h1m1 0h3m11 0h6m-23 1h4m13 0h6m-24 1h3m16 0h4m-24 1h3m17 0h4m-25 1h3m17 0h3m-25 1h4m18 0h4m-27 1h1m1 0h2m18 0h1m1 0h2m-28 1h4m19 0h1m1 0h2m-29 1h1m1 0h2m19 0h4m-28 1h2m21 0h2m1 0h1m-28 1h2m21 0h4m-28 1h2m22 0h3m-27 1h1m23 0h2m-28 1h2m23 0h2m-28 1h2m24 0h2m-29 1h1m25 0h1m-29 1h2m25 0h2m-31 1h3m25 0h2m-31 1h2m26 0h2m-31 1h2m26 0h2m-31 1h1m27 0h2m-31 1h1m27 0h2m-31 1h1m28 0h1m-31 1h1m28 0h1m-31 1h2m28 0h1m-32 1h2m27 0h2m-33 1h2m28 0h2m-3 1h2m-33 1h1m29 0h2m-33 1h1m29 0h1m-32 1h2m28 0h2m-33 1h1m29 0h2m-33 1h2m28 0h2m-33 1h2m28 0h2m-33 1h2m28 0h2m-33 1h2m28 0h1m-32 1h2m28 0h1m-33 1h3m28 0h1m-33 1h2m28 0h2m-33 1h2m28 0h2m-33 1h2m27 0h2m-31 1h1m27 0h2m-30 1h1m26 0h1m-30 1h2m26 0h1m-30 1h2m26 0h1m-30 1h1m1 0h1m24 0h2m-30 1h1m1 0h1m23 0h2m-29 1h3m23 0h1m-28 1h3m23 0h1m-27 1h2m-3 1h2m23 0h1m-26 1h2m20 0h3m-25 1h1m19 0h3m-23 1h1m19 0h1m-23 1h3m17 0h2m-23 1h3m17 0h2m-23 1h4m14 0h3m-23 1h5m13 0h3m-22 1h6m9 0h5m-22 1h6m1 0h1m7 0h5m-21 1h6m1 0h1m7 0h2m-19 1h10m6 0h2m-19 1h3m3 0h12m-18 1h2m4 0h11m-18 1h2m4 0h1m1 0h2m1 0h4m-16 1h2m5 0h8m-17 1h2m6 0h4m1 0h3m-17 1h3m5 0h4m-13 1h3m6 0h3m-14 1h5m4 0h3m-14 1h6m4 0h3m-14 1h11m1 0h1m-14 1h12m-12 1h5m1 0h4m-11 1h7m-7 1h6m-6 1h2m1 0h1" stroke="rgb(1, 103, 253)" stroke-width="1.3" fill="none"/>
<path d="M504 510.5h3m-3 1h3m-2 1h2m-1 1h1m-10 4h4m-10 1h11m-13 1h13m-15 1h5m2 0h9m-17 1h4m6 0h1m2 0h4m-18 1h3m8 0h1m1 0h4m-18 1h2m9 0h7m-19 1h3m9 0h6m-20 1h4m9 0h6m-21 1h5m10 0h4m-22 1h6m12 0h3m-22 1h5m14 0h2m-22 1h4m16 0h2m-23 1h3m18 0h2m-24 1h3m18 0h2m-24 1h2m20 0h2m-25 1h2m20 0h2m-26 1h2m21 0h2m-26 1h2m21 0h2m-27 1h3m21 0h1m-26 1h2m22 0h2m-28 1h1m1 0h1m23 0h1m-28 1h2m24 0h1m-28 1h2m24 0h2m-29 1h2m24 0h2m-28 1h1m24 0h2m-28 1h1m24 0h2m-28 1h1m25 0h1m-30 1h3m-4 1h2m26 0h1m-30 1h1m27 0h1m-2 1h1m-29 1h1m26 0h1m-29 1h1m26 0h1m-2 1h1m-29 1h1m26 0h1m-29 1h1m25 0h2m-29 1h2m24 0h2m-29 1h1m26 0h1m-30 1h2m25 0h1m-29 1h2m24 0h2m-29 1h2m24 0h1m-28 1h2m24 0h1m-27 1h1m24 0h1m-27 1h1m24 0h1m-27 1h2m22 0h2m-26 1h1m21 0h2m-25 1h1m21 0h1m-24 1h1m21 0h1m-24 1h2m20 0h1m-24 1h1m20 0h1m-23 1h2m18 0h3m-23 1h2m16 0h2m-21 1h2m16 0h1m-19 1h2m14 0h2m-18 1h2m13 0h2m-18 1h3m11 0h3m-17 1h3m8 0h3m-15 1h3m4 0h6m-13 1h3m2 0h4m-9 1h7m-8 1h7m-7 1h6m-14 1h3m-4 1h4m-5 1h4m-5 1h5m-6 1h5m-6 1h5m-6 1h6m-6 1h4m-5 1h4" stroke="rgb(0, 150, 250)" stroke-width="1.3" fill="none"/>
<path d="M492 520.5h2m-4 1h6m1 0h2m-11 1h8m1 0h1m-11 1h7m-8 1h9m-10 1h3m3 0h3m-10 1h3m5 0h2m-12 1h4m6 0h2m-14 1h3m9 0h2m-16 1h4m10 0h2m-18 1h4m12 0h2m-19 1h3m13 0h2m-20 1h3m15 0h2m-21 1h2m16 0h2m-22 1h2m17 0h2m-22 1h1m19 0h1m-22 1h1m19 0h1m-23 1h2m19 0h1m-23 1h2m19 0h1m-24 1h2m20 0h2m-25 1h2m21 0h1m-25 1h1m22 0h1m-25 1h1m22 0h1m-25 1h1m22 0h1m-25 1h1m22 0h2m-26 1h1m23 0h1m-27 1h1m24 0h1m-28 1h2m24 0h1m-27 1h1m24 0h1m-27 1h1m24 0h1m-27 1h1m24 0h1m-27 1h1m24 0h1m-27 1h1m23 0h2m-27 1h1m23 0h1m-25 1h1m22 0h1m-26 1h2m22 0h1m-26 1h2m22 0h1m-26 1h1m22 0h1m-25 1h1m22 0h1m-25 1h2m20 0h2m-25 1h2m20 0h2m-25 1h2m20 0h2m-24 1h1m20 0h1m-23 1h2m18 0h1m-22 1h2m18 0h1m-22 1h2m18 0h1m-21 1h1m17 0h2m-21 1h2m16 0h1m-20 1h2m15 0h1m-18 1h2m12 0h2m-17 1h3m11 0h2m-16 1h3m9 0h2m-14 1h4m5 0h4m-13 1h11m-11 1h8m-9 1h4m-4 1h2" stroke="rgb(0, 200, 244)" stroke-width="1.3" fill="none"/>
<path d="M488 525.5h3m-4 1h5m-6 1h6m-9 1h5m1 0h3m-10 1h4m4 0h2m-12 1h2m7 0h3m-14 1h3m8 0h2m-15 1h3m10 0h2m-17 1h2m12 0h2m-18 1h2m14 0h1m-19 1h2m15 0h2m-20 1h1m16 0h2m-20 1h1m16 0h2m-20 1h1m17 0h1m-21 1h2m17 0h1m-21 1h1m18 0h2m-23 1h2m19 0h1m-23 1h1m20 0h1m-23 1h1m20 0h1m-2 1h1m-23 1h1m20 0h2m-25 1h2m21 0h1m-25 1h1m22 0h1m-25 1h1m22 0h1m-25 1h1m22 0h1m-25 1h1m21 0h2m-25 1h1m21 0h2m-25 1h1m21 0h1m-24 1h1m21 0h1m-2 1h1m-23 1h1m20 0h1m-23 1h1m19 0h2m-24 1h2m19 0h1m-23 1h2m19 0h1m-22 1h1m18 0h1m-21 1h1m18 0h1m-21 1h1m18 0h1m-21 1h2m17 0h1m-20 1h1m16 0h1m-19 1h1m16 0h1m-19 1h2m15 0h1m-19 1h2m14 0h1m-17 1h1m12 0h3m-17 1h2m10 0h2m-14 1h2m9 0h1m-12 1h2m7 0h2m-11 1h9m-8 1h5" stroke="rgb(0, 234, 213)" stroke-width="1.3" fill="none"/>
<path d="M488 528.5h1m-3 1h4m-8 1h7m-8 1h8m-10 1h3m3 0h4m-13 1h3m7 0h2m-14 1h2m10 0h2m-16 1h2m11 0h2m-17 1h2m13 0h1m-17 1h1m14 0h1m-17 1h1m15 0h1m-18 1h1m15 0h1m-19 1h2m15 0h1m-19 1h1m17 0h1m-21 1h2m17 0h1m-21 1h1m18 0h1m-21 1h1m18 0h1m-21 1h1m18 0h1m-21 1h1m19 0h1m-23 1h2m19 0h1m-23 1h1m20 0h1m-23 1h1m20 0h1m-3 1h1m-2 1h1m-22 1h1m19 0h1m-22 1h1m19 0h1m-22 1h1m19 0h1m-2 1h1m-21 1h1m17 0h1m-20 1h1m17 0h1m-20 1h1m17 0h1m-20 1h1m16 0h1m-19 1h1m16 0h1m-19 1h2m15 0h1m-18 1h1m15 0h1m-18 1h1m14 0h1m-17 1h2m13 0h1m-16 1h1m12 0h2m-16 1h2m10 0h2m-15 1h2m8 0h2m-12 1h3m5 0h2m-10 1h9m-9 1h7" stroke="rgb(0, 245, 147)" stroke-width="1.3" fill="none"/>
<path d="M482 532.5h3m-6 1h7m-10 1h10m-12 1h2m7 0h2m-13 1h3m8 0h2m-15 1h3m10 0h1m-15 1h2m11 0h2m-16 1h1m13 0h1m-16 1h1m13 0h1m-17 1h1m14 0h2m-18 1h1m15 0h1m-19 1h1m16 0h1m-19 1h1m16 0h1m-19 1h1m-2 1h1m17 0h1m-20 1h1m17 0h1m-21 1h1m18 0h1m-21 1h1m18 0h1m-22 1h1m18 0h1m-21 1h1m18 0h1m-2 1h1m-20 1h1m17 0h1m-20 1h1m17 0h1m-20 1h1m17 0h1m-3 1h1m-2 1h1m-18 1h1m15 0h1m-18 1h1m-2 1h1m-1 1h1m13 0h1m-16 1h1m13 0h1m-16 1h2m11 0h1m-14 1h1m11 0h1m-14 1h2m9 0h1m-12 1h2m6 0h2m-11 1h8m-7 1h5" stroke="rgb(0, 255, 80)" stroke-width="1.3" fill="none"/>
<path d="M476 535.5h7m-8 1h2m3 0h3m-10 1h2m6 0h2m-12 1h2m8 0h1m-13 1h2m9 0h2m-14 1h1m11 0h1m-15 1h2m11 0h1m-15 1h1m13 0h1m-17 1h2m13 0h1m-17 1h1m14 0h1m-17 1h1m15 0h1m-18 1h1m15 0h1m-18 1h1m15 0h1m-19 1h1m16 0h1m-19 1h1m16 0h1m-20 1h1m-2 1h1m-2 1h1m16 0h1m-2 1h1m-18 1h1m15 0h1m-18 1h1m15 0h1m-18 1h1m14 0h1m-17 1h1m14 0h1m-2 1h1m-16 1h1m13 0h1m-16 1h1m13 0h1m-15 1h1m11 0h1m-14 1h1m11 0h1m-13 1h1m9 0h1m-12 1h2m7 0h2m-11 1h2m4 0h3m-9 1h6" stroke="rgb(71, 255, 47)" stroke-width="1.3" fill="none"/>
<path d="M477 536.5h3m-5 1h6m-8 1h8m-10 1h3m2 0h4m-11 1h2m6 0h3m-12 1h1m8 0h2m-13 1h1m10 0h2m-14 1h1m11 0h1m-15 1h1m12 0h1m-1 1h1m-2 1h1m-2 1h1m-17 1h1m14 0h1m-17 1h1m14 0h1m-18 1h1m15 0h1m-18 1h1m15 0h1m-18 1h1m-2 1h1m14 0h1m-2 1h1m-16 1h1m13 0h1m-16 1h1m12 0h1m-15 1h1m12 0h1m-15 1h1m12 0h1m-14 1h1m11 0h1m-14 1h1m11 0h1m-13 1h1m9 0h1m-12 1h1m9 0h1m-11 1h1m7 0h1m-9 1h2m3 0h2m-7 1h4" stroke="rgb(142, 255, 13)" stroke-width="1.3" fill="none"/>
<path d="M474 539.5h2m-5 1h6m-8 1h2m4 0h2m-10 1h2m7 0h1m-11 1h1m9 0h1m-13 1h1m10 0h1m-14 1h2m11 0h1m-15 1h1m12 0h1m-15 1h1m12 0h1m-15 1h1m12 0h1m-15 1h1m12 0h1m-16 1h1m13 0h1m-16 1h1m13 0h1m-16 1h1m13 0h1m-16 1h1m-2 1h1m12 0h1m-2 1h1m-14 1h1m10 0h1m-13 1h1m10 0h1m-13 1h1m10 0h1m-12 1h1m9 0h1m-12 1h1m9 0h1m-11 1h1m7 0h1m-10 1h2m6 0h1m-9 1h2m3 0h2m-6 1h3" stroke="rgb(196, 244, 0)" stroke-width="1.3" fill="none"/>
<path d="M471 541.5h4m-6 1h3m1 0h3m-9 1h2m5 0h2m-11 1h2m7 0h1m-11 1h1m9 0h1m-13 1h1m10 0h1m-13 1h1m10 0h1m-13 1h1m10 0h1m-13 1h1m10 0h1m-14 1h2m10 0h1m-14 1h1m11 0h1m-14 1h1m11 0h1m-14 1h1m11 0h1m-14 1h1m10 0h1m-13 1h1m10 0h1m-12 1h1m8 0h1m-11 1h1m8 0h1m-11 1h1m8 0h1m-10 1h1m7 0h1m-10 1h1m7 0h1m-9 1h1m5 0h1m-7 1h6m-6 1h3" stroke="rgb(238, 227, 0)" stroke-width="1.3" fill="none"/>
<path d="M472 542.5h1m-4 1h5m-7 1h2m3 0h2m-9 1h1m6 0h2m-11 1h1m8 0h1m-11 1h1m8 0h1m-11 1h1m8 0h1m-11 1h1m8 0h1m-11 1h1m8 0h1m-12 1h2m8 0h1m-12 1h1m9 0h1m-12 1h1m8 0h2m-12 1h1m8 0h1m-11 1h1m7 0h2m-10 1h1m6 0h1m-9 1h1m-2 1h2m-2 1h1m5 0h1m-8 1h3m2 0h2m-7 1h5" stroke="rgb(255, 187, 0)" stroke-width="1.3" fill="none"/>
<path d="M469 544.5h3m-6 1h6m-8 1h2m4 0h2m-9 1h1m5 0h2m-9 1h1m6 0h1m-9 1h1m5 0h2m-9 1h1m5 0h2m-9 1h1m5 0h2m-10 1h2m5 0h2m-10 1h1m6 0h1m-9 1h1m5 0h2m-9 1h2m4 0h1m-7 1h1m4 0h1m-7 1h2m3 0h2m-7 1h2m2 0h2m-7 1h5m-4 1h2" stroke="rgb(255, 132, 0)" stroke-width="1.3" fill="none"/>
<path d="M466 546.5h4m-6 1h5m-6 1h6m-7 1h5m-6 1h2m1 0h2m-6 1h5m-6 1h5m-7 1h6m-7 1h5m-5 1h4m-5 1h4m-4 1h3m-3 1h2" stroke="rgb(240, 76, 0)" stroke-width="1.3" fill="none"/>
<path d="M463 550.5h1" stroke="rgb(215, 20, 0)" stroke-width="1.3" fill="none"/>
<rect x="390" y="366.1" width="236.3" height="236.3" fill="none" stroke="#000" stroke-width="1.3"/>
<path d="M390.0 602.4v5M436.3 602.4v5M482.7 602.4v5M529.0 602.4v5M575.4 602.4v5M401.6 602.4v2.5M413.2 602.4v2.5M424.8 602.4v2.5M447.9 602.4v2.5M459.5 602.4v2.5M471.1 602.4v2.5M494.3 602.4v2.5M505.9 602.4v2.5M517.4 602.4v2.5M540.6 602.4v2.5M552.2 602.4v2.5M563.8 602.4v2.5M586.9 602.4v2.5M598.5 602.4v2.5M610.1 602.4v2.5" stroke="#000" stroke-width="1.2"/>
<path d="M390 602.4h-5M390 550.4h-5M390 498.5h-5M390 446.5h-5M390 394.6h-5M390 589.4h-2.5M390 576.4h-2.5M390 563.4h-2.5M390 537.4h-2.5M390 524.5h-2.5M390 511.5h-2.5M390 485.5h-2.5M390 472.5h-2.5M390 459.5h-2.5M390 433.5h-2.5M390 420.5h-2.5M390 407.5h-2.5M390 381.6h-2.5M390 368.6h-2.5" stroke="#000" stroke-width="1.2"/>
<text x="390.0" y="624.6" font-size="12.6" text-anchor="middle">0</text>
<text x="436.3" y="624.6" font-size="12.6" text-anchor="middle">2</text>
<text x="482.7" y="624.6" font-size="12.6" text-anchor="middle">4</text>
<text x="529.0" y="624.6" font-size="12.6" text-anchor="middle">6</text>
<text x="575.4" y="624.6" font-size="12.6" text-anchor="middle">8</text>
<text x="626.3" y="624.6" font-size="12.6" text-anchor="middle">10.2</text>
<text x="378.0" y="602.4" font-size="12.6" text-anchor="middle" transform="rotate(-90 378.0 602.4)">0</text>
<text x="378.0" y="550.4" font-size="12.6" text-anchor="middle" transform="rotate(-90 378.0 550.4)">2</text>
<text x="378.0" y="498.5" font-size="12.6" text-anchor="middle" transform="rotate(-90 378.0 498.5)">4</text>
<text x="378.0" y="446.5" font-size="12.6" text-anchor="middle" transform="rotate(-90 378.0 446.5)">6</text>
<text x="378.0" y="394.6" font-size="12.6" text-anchor="middle" transform="rotate(-90 378.0 394.6)">8</text>
<text x="378.0" y="368.1" font-size="12.6" text-anchor="middle" transform="rotate(-90 378.0 368.1)">9.1</text>
<text x="505.3" y="644.0" font-size="12.6" text-anchor="middle">FSC-H&#160;&#160;(10<tspan font-size="9.8" dx="1.9" dy="-5.3">6</tspan><tspan font-size="12.6" dx="1.5" dy="5.3">)</tspan></text>
<text x="357.7" y="485.0" font-size="12.6" text-anchor="middle" transform="rotate(-90 357.7 485.0)">FSC-A&#160;&#160;(10<tspan font-size="9.8" dx="1.9" dy="-5.3">6</tspan><tspan font-size="12.6" dx="1.5" dy="5.3">)</tspan></text>
<polygon points="394.9,595.6 420.0,573.0 592.8,424.6 599.5,446.5 550.7,499.7 465.5,574.3 407.5,600.4" fill="none" stroke="#2e8f36" stroke-width="1.3"/>
<text x="529.4" y="549.0" font-size="12.6" fill="#2e8f36">P2</text>
<text x="529.4" y="563.6" font-size="12.6" fill="#2e8f36">98.06%</text>
<path d="M698 367.5h1m23 1h1m-5 4h1m13 0h1m11 0h1m19 4h1m-40 2h1m10 0h1m155 5h1m-151 3h1m-13 4h1m78 2h1m-73 5h1m-5 2h1m12 0h1m-11 2h1m26 1h1m-32 2h1m17 4h1m27 5h1m123 0h1m-164 3h1m10 0h1m7 0h1m-31 2h1m45 0h1m-38 1h1m14 0h1m26 2h1m-23 1h1m5 1h1m19 0h1m-12 1h1m-18 1h1m0 3h1m23 2h1m32 2h1m-12 1h1m-25 1h1m26 8h1m10 0h1m-32 1h1m73 0h1m-22 3h1m3 0h1m-42 1h1m62 1h1m-28 1h1m0 8h1m34 2h1m9 1h1m-5 1h1m-5 1h1m-13 2h1m21 12h1m-7 5h1m-10 6h1m12 4h1m-14 1h1m6 0h1m11 3h1m-43 5h1m21 3h1m5 1h1m-26 2h1m-15 4h1m-14 4h1m14 1h1m-23 2h1m27 0h1m-18 3h1m-14 1h1m-9 5h1m3 0h1m-114 3h1m123 4h1m-16 2h1m1 4h1m3 5h1m2 2h1m63 2h1m-80 6h1m9 1h1m-9 4h1m-103 2h1m3 1h1m108 1h1m7 0h1m-122 2h1m98 4h1m-99 2h1m7 0h1m102 0h1m-107 1h1m-5 8h1m106 1h1m18 0h1m36 1h1m-68 2h1m22 0h1m-103 2h1m-14 1h1m5 1h1m170 5h1m-98 2h1m-54 4h1m45 1h1m2 0h1m4 0h1m5 0h1" stroke="rgb(30, 30, 160)" stroke-width="1.3" fill="none"/>
<path d="M706 367.5h1m3 2h2m-14 2h1m1 0h1m12 2h1m6 1h1m-20 2h1m12 0h1m2 1h1m-21 1h1m3 0h1m10 0h1m4 0h1m3 1h1m-1 1h1m-20 1h1m-5 1h1m21 2h1m3 0h1m-7 1h1m-3 1h1m2 2h1m2 0h1m-5 1h1m3 1h1m-27 2h1m29 0h1m-2 2h1m-4 3h1m31 4h1m-33 1h1m32 1h1m-20 3h2m-13 1h1m7 1h1m-1 2h1m-9 2h1m19 1h1m-23 1h1m21 1h1m-21 3h1m20 0h1m-4 1h1m-12 2h1m9 0h1m-12 1h1m11 0h1m-19 1h1m5 0h1m13 0h1m-20 1h1m9 0h1m7 0h1m3 0h1m-12 1h1m28 0h1m-21 1h1m16 1h1m13 0h1m-49 1h1m12 0h1m21 0h1m-37 1h1m12 0h1m25 0h1m5 0h1m1 0h1m-5 1h1m-24 1h1m19 0h1m4 0h1m-42 1h1m4 0h1m3 0h1m6 0h1m6 0h1m4 0h1m3 0h1m-38 1h1m15 0h1m4 0h1m3 0h1m1 0h1m-24 1h1m2 0h1m11 0h1m6 0h1m9 0h1m-34 1h1m10 0h1m4 0h1m20 0h1m-43 1h1m35 0h1m2 0h1m9 0h1m-43 1h1m-6 1h1m5 0h1m17 0h1m11 0h1m8 0h1m2 0h1m6 0h1m-11 1h1m6 0h1m20 0h1m-67 1h1m7 0h1m28 0h1m9 0h1m19 0h1m-72 1h1m27 0h1m7 0h1m28 0h1m-21 1h2m16 0h1m-68 1h1m68 0h1m-15 1h1m14 0h1m-69 1h1m46 0h1m13 0h1m23 0h1m-39 1h1m35 0h1m-86 1h1m54 0h1m8 0h2m18 0h1m17 0h1m-103 1h1m3 0h1m52 0h1m24 0h1m2 0h1m17 0h1m-104 1h1m54 0h1m1 0h1m3 0h1m21 0h1m1 0h1m-34 1h1m2 0h1m68 0h1m-48 1h1m-21 1h1m5 0h1m59 0h1m13 0h1m15 0h1m-96 1h1m2 0h1m8 0h1m3 0h2m10 0h1m64 0h1m-80 1h1m4 0h1m42 0h1m12 0h1m5 0h1m9 0h1m-86 1h1m1 0h1m6 0h1m9 0h1m6 0h2m14 0h1m23 0h1m2 0h1m6 0h1m-72 1h1m12 0h1m20 0h1m3 0h1m9 0h1m1 0h1m-26 1h1m25 0h1m9 0h1m-49 1h1m19 0h1m3 0h1m10 0h1m6 0h1m2 0h1m-30 1h1m29 0h1m-31 1h1m20 1h1m-5 1h1m5 0h1m6 0h1m-19 1h1m4 0h1m8 1h1m4 0h1m1 0h2m10 0h1m-17 1h1m13 0h1m-28 1h1m7 0h1m19 0h1m-9 1h1m-16 1h1m7 0h1m11 0h1m3 0h1m-15 1h1m13 0h1m-20 1h1m2 0h1m21 0h1m8 0h1m-31 1h1m2 0h2m1 0h1m10 0h1m3 0h1m-25 1h1m12 0h1m19 0h1m-28 1h1m21 0h1m-12 1h1m4 0h1m-23 1h2m10 0h1m13 0h1m-22 1h1m10 0h1m8 0h1m-181 1h1m159 0h1m3 0h1m11 0h1m-15 2h1m-3 1h1m-160 1h1m157 0h1m12 0h1m-172 1h1m169 0h1m-12 1h1m2 0h1m10 0h1m-13 1h2m17 0h1m-16 1h1m-18 1h1m6 0h1m1 0h1m2 0h1m17 0h1m-24 1h1m4 0h1m7 0h1m-6 1h2m3 0h1m10 0h1m-29 1h2m5 0h1m2 1h1m5 0h2m-14 1h1m2 0h1m-11 1h1m7 0h1m4 0h1m-24 1h1m26 0h1m-11 1h1m-17 1h1m-140 1h1m135 0h1m4 0h1m-142 1h1m142 0h1m-8 1h1m-8 1h1m5 0h1m6 0h1m4 0h1m-33 2h1m9 0h1m5 0h1m1 0h1m6 0h1m2 0h1m2 0h1m-146 1h1m122 0h1m2 0h1m6 0h1m-134 1h1m112 0h1m2 0h1m8 0h1m-20 1h1m13 0h1m7 0h2m30 0h1m-160 1h1m156 0h1m-48 1h2m24 0h1m-136 1h1m108 0h1m8 0h1m11 0h1m-129 1h1m141 0h2m-43 1h1m11 0h1m29 0h1m-42 1h1m12 1h1m-121 1h1m2 0h1m108 0h1m-10 1h1m-99 1h1m97 0h1m1 0h1m7 0h1m-115 1h1m108 0h1m-7 1h1m6 0h1m2 0h1m1 0h1m1 0h1m-18 1h1m5 0h1m-106 1h1m1 2h1m101 0h1m-1 1h1m-2 1h1m-98 1h1m98 0h1m-5 2h1m-98 1h1m97 0h1m0 1h1m-101 1h1m100 0h1m0 2h1m-102 1h1m98 1h1m-98 1h1m92 3h1m2 0h1m-100 1h1m5 1h1m95 0h1m-102 1h1m102 0h1m-94 1h1m90 0h1m-92 1h1m1 0h1m80 0h1m6 0h1m-101 2h1m9 0h1m89 0h1m-101 1h2m1 0h1m91 0h1m1 0h1m5 0h1m-106 1h1m101 1h1m-96 1h1m90 3h1m-88 1h1m-5 1h3m-3 4h1m89 0h1m-91 1h1m89 0h1m-89 1h1m84 0h1m-4 1h1m7 2h1m-81 1h1m72 0h1m1 0h1m10 0h1m-96 1h1m2 0h1m77 0h1m15 0h1m-97 1h1m3 0h1m73 0h1m2 0h1m6 0h2m-84 1h1m3 0h1m73 0h1m-81 1h1m76 1h1m-73 1h1m-4 1h1m3 0h1m69 0h1m2 1h1m-5 1h1m-74 1h1m2 0h1m74 0h1m1 0h1m-3 1h1m-75 1h1m76 0h1m-82 1h2m71 0h1m5 0h1m-78 1h1m71 0h1m4 0h1m-7 2h1m-68 1h1m60 0h1m4 1h1m-72 1h2m63 0h2m-60 1h1m61 0h1m-63 1h1m64 0h2m1 2h1m-67 2h1m-5 1h1m58 0h1m3 0h1m-62 1h2m0 1h1m3 0h1m2 0h1m44 0h1m2 0h1m6 0h1m-68 1h1m6 0h1m6 0h1m50 0h1m-66 1h1m5 0h1m4 0h1m4 1h1m-1 1h1m1 0h1m23 0h1m-17 2h1m27 0h1m-38 1h1m30 0h1m-29 1h1m31 0h1m-25 1h1m-7 1h2m17 0h1m2 0h2m4 0h1" stroke="rgb(21, 21, 191)" stroke-width="1.3" fill="none"/>
<path d="M703 367.5h1m-2 1h1m1 0h1m-2 1h2m-2 1h1m4 0h1m1 0h1m-5 1h1m1 0h1m-5 1h1m-2 1h2m1 0h1m1 0h3m-8 1h2m2 0h1m3 0h2m-8 1h3m-6 1h1m1 0h1m3 0h1m-2 1h1m1 0h1m-5 1h1m3 0h1m-7 1h1m1 0h1m3 1h1m7 0h2m-10 1h1m4 0h1m1 0h1m1 0h1m-11 1h1m2 0h2m7 0h1m-19 1h2m1 0h1m1 0h1m3 0h2m1 0h1m-10 1h2m2 0h1m1 0h1m2 0h1m4 0h1m-22 1h3m6 0h1m5 0h1m-18 1h2m6 0h1m1 0h3m-13 1h2m1 0h1m9 0h1m1 0h2m-16 1h1m1 0h2m2 0h1m6 0h2m-10 1h1m7 0h1m3 0h1m-13 1h2m10 0h1m-13 1h4m1 0h4m1 0h1m6 0h2m1 0h1m-26 1h1m2 0h1m3 0h1m10 0h1m1 0h1m1 0h1m-23 1h1m5 0h2m1 0h1m6 0h2m5 0h2m-14 1h1m1 0h2m1 0h3m1 0h3m-24 1h1m4 0h1m4 0h3m6 0h3m1 0h1m-22 1h2m1 0h1m2 0h2m-7 1h2m1 0h1m2 0h1m9 0h1m4 0h1m-23 1h1m1 0h1m14 0h2m-1 1h1m2 0h1m-22 1h1m16 0h2m1 0h1m1 0h1m1 0h1m-7 1h1m5 0h1m-24 1h1m14 0h1m1 0h1m1 0h1m1 0h1m-25 1h1m18 0h1m1 0h1m1 0h1m-23 1h1m1 0h1m13 0h1m-18 1h3m20 0h1m-6 1h2m6 0h1m1 0h1m-11 1h2m1 0h2m4 0h1m-10 1h1m7 0h1m-25 1h1m19 0h1m1 0h1m1 0h1m-23 1h1m14 0h1m1 0h1m5 0h1m-28 1h3m22 0h1m-24 1h2m16 0h1m2 0h3m-24 1h2m16 0h1m3 0h1m-5 1h1m0 1h1m-21 1h1m1 0h1m16 0h2m-19 1h2m20 0h1m-23 1h1m16 0h1m2 0h4m-27 1h2m2 0h1m16 0h1m-21 1h1m-1 1h1m21 0h2m-3 1h1m-23 1h1m22 0h1m-24 1h1m1 0h1m17 0h1m1 0h1m1 0h1m-23 1h1m18 0h1m3 0h1m-26 1h2m18 0h1m1 0h2m-2 1h1m26 0h1m-29 1h1m5 0h1m-28 1h1m21 0h2m1 0h3m19 0h2m-48 1h1m20 0h1m1 0h1m2 0h1m4 0h1m15 0h1m-28 1h1m1 0h1m1 0h1m6 0h1m13 0h1m-25 1h2m-23 1h2m19 0h4m-26 1h1m21 0h3m1 0h1m-25 1h1m23 0h1m33 0h2m-61 1h1m21 0h1m1 0h1m1 0h1m33 0h1m-40 1h3m35 0h1m-61 1h2m21 0h1m37 0h1m-41 1h1m5 0h1m28 0h1m1 0h2m4 0h1m-41 1h1m25 0h1m1 0h1m1 0h2m8 0h2m-65 1h1m22 0h2m1 0h1m22 0h1m6 0h1m1 0h1m5 0h2m-66 1h1m21 0h1m14 0h1m2 0h1m7 0h1m2 0h1m2 0h1m1 0h1m9 0h1m1 0h1m3 0h1m4 0h1m-79 1h2m22 0h1m3 0h1m6 0h1m1 0h1m1 0h2m8 0h3m1 0h1m18 0h1m2 0h2m-77 1h1m23 0h1m1 0h1m11 0h1m2 0h2m7 0h1m14 0h2m7 0h1m4 0h1m-78 1h1m32 0h1m2 0h1m6 0h1m11 0h1m1 0h1m1 0h2m4 0h3m-45 1h1m2 0h1m9 0h2m8 0h1m1 0h1m2 0h1m1 0h2m2 0h1m2 0h3m3 0h1m2 0h1m-71 1h1m19 0h1m1 0h1m1 0h2m15 0h1m1 0h2m5 0h1m3 0h1m2 0h1m4 0h1m4 0h2m2 0h1m3 0h1m-77 1h1m21 0h1m15 0h3m1 0h1m3 0h2m4 0h2m2 0h1m5 0h2m2 0h3m3 0h2m2 0h1m-50 1h1m8 0h2m1 0h1m1 0h1m1 0h2m2 0h3m2 0h1m9 0h2m1 0h1m3 0h1m1 0h4m2 0h1m16 0h1m-93 1h1m18 0h1m3 0h1m1 0h1m8 0h1m4 0h1m3 0h1m14 0h1m15 0h1m18 0h1m-75 1h1m3 0h1m16 0h2m1 0h1m2 0h1m18 0h3m1 0h1m1 0h3m1 0h2m15 0h1m-73 1h1m10 0h1m1 0h2m1 0h1m2 0h1m5 0h1m21 0h1m2 0h3m1 0h1m1 0h1m-78 1h1m21 0h1m9 0h2m3 0h1m5 0h2m2 0h1m20 0h3m1 0h1m3 0h1m2 0h1m-80 1h1m32 0h1m1 0h1m2 0h1m4 0h1m3 0h1m25 0h1m2 0h1m2 0h1m3 0h1m2 0h1m-88 1h1m28 0h1m1 0h1m1 0h1m1 0h1m1 0h1m3 0h1m33 0h1m3 0h1m1 0h1m-81 1h1m20 0h1m6 0h1m10 0h1m43 0h2m1 0h1m17 0h1m1 0h1m-82 1h3m2 0h1m3 0h2m38 0h1m5 0h1m1 0h2m2 0h1m-86 1h1m19 0h1m4 0h2m3 0h1m1 0h2m40 0h1m3 0h1m1 0h2m1 0h2m4 0h1m3 0h3m1 0h1m4 0h3m12 0h1m-119 1h1m21 0h1m12 0h1m41 0h2m1 0h3m3 0h1m3 0h3m8 0h1m5 0h1m1 0h1m1 0h1m1 0h1m2 0h3m1 0h3m32 0h1m-157 1h1m23 0h1m3 0h1m2 0h2m2 0h1m46 0h1m1 0h1m3 0h1m3 0h1m5 0h2m4 0h1m2 0h1m7 0h1m1 0h1m38 0h1m-156 1h2m18 0h1m2 0h1m1 0h1m2 0h2m2 0h1m47 0h1m7 0h1m8 0h1m2 0h1m1 0h1m2 0h1m1 0h1m11 0h3m4 0h1m6 0h1m1 0h1m18 0h1m-154 1h1m18 0h2m4 0h1m3 0h1m2 0h2m50 0h1m6 0h1m1 0h1m10 0h1m5 0h1m1 0h1m4 0h1m2 0h2m6 0h1m4 0h1m1 0h1m17 0h1m-135 1h2m2 0h1m56 0h1m6 0h1m8 0h1m2 0h1m10 0h1m3 0h1m2 0h3m5 0h1m4 0h1m3 0h1m-112 1h2m3 0h2m53 0h2m5 0h2m4 0h1m2 0h1m4 0h1m1 0h1m3 0h1m1 0h1m1 0h2m8 0h1m1 0h2m6 0h1m1 0h1m4 0h1m-142 1h1m23 0h1m4 0h3m1 0h1m47 0h1m1 0h1m3 0h1m1 0h1m8 0h1m6 0h3m1 0h3m5 0h1m4 0h1m2 0h1m3 0h1m11 0h1m-144 1h1m23 0h1m4 0h1m3 0h1m53 0h3m1 0h2m4 0h1m6 0h1m3 0h1m1 0h1m1 0h1m3 0h1m4 0h1m7 0h1m1 0h1m2 0h1m2 0h2m-139 1h1m18 0h3m1 0h1m5 0h1m2 0h1m54 0h1m1 0h1m3 0h1m1 0h3m3 0h4m3 0h1m1 0h1m2 0h3m11 0h3m2 0h1m2 0h1m2 0h1m1 0h1m-140 1h1m20 0h1m3 0h1m2 0h1m1 0h1m60 0h1m1 0h1m3 0h1m1 0h2m2 0h2m2 0h1m2 0h1m1 0h1m5 0h1m1 0h1m3 0h2m2 0h4m1 0h1m2 0h1m2 0h1m-141 1h2m20 0h4m1 0h1m1 0h1m1 0h1m72 0h1m4 0h2m2 0h1m1 0h1m1 0h1m1 0h2m5 0h1m2 0h1m5 0h1m4 0h1m7 0h1m-128 1h2m80 0h1m2 0h3m2 0h3m2 0h2m2 0h1m1 0h1m3 0h1m7 0h2m10 0h3m-147 1h1m1 0h1m16 0h1m3 0h1m82 0h1m5 0h2m4 0h1m3 0h1m3 0h2m4 0h1m2 0h2m1 0h1m1 0h1m8 0h3m-151 1h2m18 0h4m2 0h1m77 0h6m1 0h2m1 0h1m4 0h1m1 0h1m9 0h1m13 0h1m4 0h1m-151 1h1m18 0h1m4 0h1m88 0h1m5 0h2m1 0h1m1 0h3m1 0h1m3 0h1m3 0h1m1 0h2m2 0h1m1 0h1m16 0h2m-165 1h1m20 0h2m2 0h2m85 0h2m11 0h1m2 0h2m1 0h1m1 0h2m6 0h2m6 0h1m12 0h2m-162 1h1m17 0h1m1 0h1m2 0h1m97 0h1m1 0h1m1 0h1m2 0h1m1 0h1m6 0h2m6 0h2m1 0h1m-151 1h1m2 0h1m17 0h1m2 0h3m86 0h1m8 0h1m2 0h2m7 0h1m5 0h1m2 0h2m17 0h1m-162 1h2m1 0h1m15 0h1m4 0h1m70 0h1m26 0h1m1 0h1m1 0h1m1 0h1m3 0h2m1 0h1m1 0h1m2 0h1m2 0h1m2 0h2m-128 1h1m3 0h4m94 0h1m1 0h1m9 0h1m2 0h1m2 0h1m4 0h1m2 0h1m1 0h1m8 0h1m-157 1h1m8 0h1m7 0h1m73 0h1m31 0h1m3 0h2m1 0h1m1 0h1m1 0h1m5 0h4m1 0h1m3 0h1m-151 1h3m7 0h1m1 0h1m5 0h1m2 0h1m97 0h1m3 0h1m3 0h1m5 0h1m2 0h2m11 0h3m-143 1h1m12 0h2m98 0h1m2 0h2m5 0h1m1 0h1m1 0h1m8 0h1m2 0h1m2 0h1m-154 1h1m1 0h1m2 0h1m8 0h2m1 0h1m107 0h1m5 0h3m7 0h1m5 0h1m3 0h1m2 0h1m-152 1h1m9 0h2m111 0h1m1 0h1m4 0h3m2 0h1m4 0h1m2 0h1m4 0h2m1 0h1m-153 1h1m11 0h1m2 0h1m117 0h1m3 0h2m3 0h1m-129 1h1m109 0h2m2 0h2m2 0h1m3 0h1m2 0h1m2 0h1m7 0h1m-150 1h1m107 0h1m14 0h1m1 0h1m5 0h1m2 0h2m2 0h1m2 0h1m-144 1h1m2 0h2m106 0h2m4 0h2m3 0h1m1 0h3m2 0h1m8 0h1m1 0h1m4 0h1m-146 1h1m3 0h2m13 0h1m91 0h2m10 0h1m1 0h2m6 0h1m1 0h1m3 0h1m4 0h1m1 0h1m-144 1h1m15 0h1m88 0h1m1 0h1m1 0h2m2 0h1m1 0h1m1 0h1m1 0h1m2 0h1m3 0h1m7 0h1m1 0h1m4 0h1m-143 1h1m18 0h1m86 0h1m3 0h1m2 0h2m1 0h3m4 0h1m9 0h1m2 0h1m3 0h1m-144 1h1m2 0h1m16 0h2m86 0h2m1 0h3m5 0h1m2 0h1m1 0h1m1 0h2m1 0h1m1 0h1m5 0h1m3 0h2m1 0h2m-145 1h1m2 0h1m1 0h1m92 0h3m14 0h1m2 0h1m3 0h1m3 0h1m1 0h1m3 0h1m7 0h1m4 0h1m-146 1h1m3 0h1m2 0h1m11 0h2m80 0h1m5 0h1m1 0h1m10 0h1m3 0h2m1 0h1m1 0h2m1 0h1m2 0h1m6 0h1m1 0h1m-145 1h1m2 0h1m3 0h1m90 0h1m2 0h1m3 0h1m1 0h1m2 0h3m2 0h1m10 0h1m1 0h1m-124 1h1m2 0h1m3 0h1m1 0h1m1 0h2m87 0h1m1 0h1m4 0h1m2 0h3m3 0h1m2 0h1m2 0h5m-131 1h4m1 0h3m1 0h1m6 0h1m78 0h3m1 0h1m3 0h2m2 0h1m4 0h1m3 0h2m9 0h1m-122 1h1m1 0h2m3 0h2m1 0h1m75 0h1m4 0h1m2 0h2m7 0h1m5 0h2m1 0h2m6 0h1m-123 1h1m1 0h1m1 0h4m3 0h1m79 0h2m4 0h1m1 0h2m2 0h2m2 0h1m3 0h1m1 0h1m-113 1h1m1 0h1m1 0h1m4 0h1m1 0h1m73 0h1m14 0h1m2 0h1m19 0h1m1 0h1m-129 1h1m6 0h1m1 0h1m1 0h3m75 0h1m1 0h1m3 0h1m1 0h1m4 0h2m2 0h1m-107 1h2m2 0h1m1 0h1m2 0h1m1 0h1m75 0h1m2 0h1m2 0h1m2 0h1m2 0h1m6 0h1m-106 1h1m7 0h1m82 0h1m4 0h1m1 0h1m5 0h1m-104 1h1m4 0h1m1 0h1m76 0h1m2 0h1m3 0h1m1 0h1m4 0h1m4 0h1m-106 1h2m2 0h1m1 0h3m77 0h1m3 0h2m3 0h1m-94 1h1m7 0h2m75 0h2m1 0h1m6 0h1m2 0h1m-102 1h1m9 0h1m1 0h1m75 0h1m5 0h2m1 0h1m3 0h1m-98 1h1m3 0h2m1 0h1m2 0h2m71 0h1m1 0h1m-84 1h2m4 0h1m1 0h1m72 0h1m1 0h2m5 0h1m3 0h1m-91 1h1m3 0h1m1 0h1m73 0h1m1 0h1m1 0h1m1 0h1m1 0h1m2 0h1m-98 1h1m1 0h2m8 0h1m70 0h1m4 0h1m5 0h1m-93 1h1m7 0h2m74 0h1m1 0h1m1 0h1m4 0h1m-97 1h1m3 0h2m5 0h1m72 0h1m5 0h1m-89 1h1m2 0h1m5 0h2m71 0h2m2 0h3m-91 1h1m2 0h1m2 0h2m4 0h1m71 0h1m2 0h3m-87 1h1m2 0h2m1 0h2m73 0h1m3 0h1m-89 1h1m9 0h2m72 0h1m2 0h2m-92 1h1m8 0h1m79 0h1m-89 1h1m4 0h1m3 0h3m1 0h1m71 0h1m4 0h1m-89 1h1m3 0h1m1 0h1m3 0h1m71 0h2m2 0h1m1 0h1m-91 1h1m6 0h2m76 0h1m4 0h1m3 0h1m1 0h1m-96 1h1m8 0h1m2 0h1m71 0h1m1 0h2m4 0h1m1 0h2m-91 1h3m1 0h2m2 0h1m71 0h2m-85 1h1m1 0h2m80 0h1m1 0h1m3 0h1m-83 1h1m1 0h1m74 0h1m3 0h1m-87 1h1m1 0h1m4 0h2m70 0h1m3 0h1m2 0h1m-92 1h2m3 0h1m7 0h1m72 0h1m1 0h1m2 0h1m-93 1h1m3 0h1m2 0h1m3 0h1m76 0h3m1 0h1m-90 1h2m3 0h1m1 0h1m1 0h2m71 0h1m2 0h1m5 0h1m-85 1h1m3 0h1m70 0h1m1 0h1m1 0h1m1 0h1m-92 1h2m1 0h2m5 0h1m3 0h2m71 0h1m4 0h1m-86 1h1m1 0h1m3 0h4m70 0h1m5 0h1m-91 1h2m4 0h1m73 0h2m5 0h2m4 0h1m-86 1h1m1 0h1m69 0h1m4 0h1m1 0h1m4 0h3m-87 1h3m1 0h3m65 0h1m1 0h3m2 0h1m-86 1h1m8 0h1m1 0h1m68 0h2m1 0h1m1 0h1m1 0h1m-90 1h3m1 0h1m3 0h1m3 0h1m1 0h1m64 0h1m3 0h2m-75 1h1m1 0h1m67 0h1m2 0h2m2 0h1m-80 1h1m2 0h1m1 0h2m65 0h1m2 0h1m1 0h1m-76 1h1m3 0h1m1 0h1m72 0h1m-78 1h1m1 0h1m67 0h1m5 0h1m-78 1h5m72 0h1m-7 1h2m-72 1h1m69 0h1m-71 1h1m69 0h4m-85 1h1m2 0h1m4 0h1m72 0h1m1 0h2m4 0h1m-89 1h2m1 0h1m1 0h1m1 0h1m1 0h1m69 0h1m2 0h1m1 0h1m-85 1h1m8 0h1m69 0h1m1 0h1m2 0h1m3 0h1m1 0h2m-84 1h1m76 0h2m1 0h1m-84 1h1m1 0h3m69 0h2m2 0h1m-76 1h1m70 0h1m1 0h1m2 0h2m1 0h2m-83 1h1m2 0h1m68 0h1m3 0h1m-78 1h1m4 0h1m1 0h1m67 0h2m-8 1h1m2 0h1m4 0h1m2 0h1m-74 1h1m1 0h2m59 0h2m2 0h1m5 0h1m-83 1h1m9 0h1m3 0h1m58 0h1m7 0h2m-84 1h2m7 0h1m3 0h1m66 0h1m-82 1h1m2 0h1m4 0h1m5 0h3m56 0h1m3 0h2m-75 1h1m1 0h1m2 0h1m63 0h3m5 0h1m7 0h1m-86 1h1m3 0h1m3 0h1m2 0h2m57 0h1m1 0h1m1 0h1m10 0h1m-86 1h2m3 0h2m3 0h2m59 0h1m2 0h1m8 0h1m1 0h1m-76 1h4m54 0h1m2 0h1m3 0h1m6 0h1m1 0h1m-77 1h1m1 0h1m1 0h1m57 0h2m-60 1h1m57 0h1m-57 1h1m51 0h1m3 0h2m-61 1h3m51 0h1m1 0h1m1 0h1m-57 1h1m58 0h1m3 0h1m-65 1h1m6 0h1m44 0h1m1 0h1m2 0h1m5 0h1m-64 1h1m1 0h2m1 0h1m2 0h1m44 0h2m1 0h1m5 0h1m-63 1h1m1 0h1m1 0h2m50 0h1m2 0h1m3 0h1m-66 1h1m3 0h1m2 0h1m2 0h2m1 0h1m46 0h1m-61 1h1m3 0h1m2 0h2m2 0h1m43 0h1m1 0h1m7 0h1m-63 1h1m6 0h1m44 0h5m3 0h1m2 0h1m-61 1h2m2 0h1m44 0h1m3 0h1m5 0h1m-65 1h1m6 0h1m43 0h1m1 0h2m6 0h1m11 0h1m-72 1h1m3 0h1m1 0h3m1 0h1m36 0h2m5 0h1m3 0h1m2 0h1m-66 1h1m1 0h1m47 0h1m5 0h1m1 0h1m2 0h1m3 0h1m1 0h1m-68 1h1m1 0h1m3 0h2m1 0h1m2 0h3m34 0h1m1 0h1m2 0h1m-54 1h1m5 0h1m1 0h2m3 0h2m1 0h1m33 0h3m1 0h1m1 0h1m1 0h1m-56 1h1m8 0h1m1 0h3m1 0h1m26 0h1m1 0h1m3 0h1m2 0h1m3 0h2m-53 1h2m9 0h2m22 0h1m3 0h1m5 0h1m2 0h1m-51 1h1m1 0h2m4 0h2m2 0h1m21 0h1m8 0h1m4 0h2m2 0h1m8 0h1m-25 1h1m1 0h2m7 0h1m-49 1h1m2 0h1m2 0h1m3 0h1m1 0h2m1 0h1m18 0h4m1 0h1m2 0h2m2 0h2m-49 1h1m4 0h1m1 0h1m6 0h2m5 0h1m1 0h1m2 0h2m9 0h1m1 0h1m2 0h4m3 0h1m-49 1h1m1 0h1m4 0h1m5 0h1m1 0h1m2 0h3m5 0h1m1 0h1m11 0h3m4 0h3m-47 1h1m1 0h1m1 0h1m4 0h5m4 0h4m1 0h1m2 0h1m9 0h1m1 0h3m6 0h1m1 0h1m-48 1h2m1 0h1m4 0h1m1 0h1m2 0h3m1 0h1m1 0h1m5 0h1m2 0h1m4 0h1m4 0h2m6 0h1m-44 1h1m3 0h2m1 0h1m1 0h1m1 0h1m5 0h2m3 0h2m1 0h1m2 0h3m1 0h1m2 0h2m4 0h1m2 0h1m-44 1h1m2 0h1m3 0h1m2 0h1m4 0h1m3 0h1m2 0h1m2 0h1m3 0h2m7 0h1m-33 1h1m3 0h3m1 0h1m2 0h1m4 0h1m10 0h2m2 0h1m1 0h1m-38 1h1m4 0h3m1 0h1m1 0h1m6 0h1m1 0h1m2 0h1m11 0h2m-35 1h1m4 0h1m3 0h1m5 0h5m1 0h1m3 0h1m1 0h1m-26 1h1m1 0h1m9 0h3m3 0h1m5 0h1m7 0h2m-34 1h1m8 0h1m1 0h1m1 0h2m8 0h1m6 0h1m-31 1h2m8 0h1m1 0h1m4 0h1m6 0h2m1 0h1m1 0h1m-23 1h1m1 0h2m5 0h1m12 0h1m2 0h1m-26 1h1m4 0h2m2 0h1m14 0h1m-24 1h2m4 0h1m1 0h1m1 0h1m-8 1h1m2 0h1m1 0h1m1 0h1m-6 1h1m3 0h1" stroke="rgb(16, 16, 206)" stroke-width="1.3" fill="none"/>
<path d="M706 387.5h1m1 0h1m-4 1h3m-2 1h1m1 0h1m-4 1h4m3 5h1m1 0h1m-7 1h5m-5 1h1m2 0h1m1 0h1m-6 1h5m-11 1h3m1 0h2m1 0h1m3 0h2m-13 1h1m2 0h4m3 0h3m-15 1h1m2 0h3m2 0h4m1 0h1m-14 1h1m1 0h4m3 0h1m-10 1h1m1 0h4m1 0h3m1 0h1m-10 1h1m3 0h1m3 0h1m1 0h1m-12 1h2m1 0h2m1 0h1m1 0h3m-11 1h1m1 0h2m1 0h2m2 0h2m1 0h1m-10 1h1m1 0h2m2 0h1m2 0h1m-11 1h2m2 0h1m1 0h2m-9 1h2m3 0h2m1 0h2m-10 1h2m3 0h1m2 0h4m-14 1h2m3 0h3m1 0h2m2 0h2m-15 1h1m1 0h1m1 0h1m1 0h2m1 0h4m-13 1h7m4 0h5m-16 1h16m-15 1h1m3 0h2m1 0h1m2 0h2m-9 1h1m1 0h3m2 0h1m-11 1h1m2 0h2m1 0h1m1 0h2m1 0h3m-14 1h3m1 0h1m2 0h1m2 0h1m1 0h1m-13 1h2m3 0h1m3 0h5m-14 1h1m1 0h1m1 0h1m6 0h1m1 0h2m-14 1h3m7 0h2m1 0h1m-15 1h1m10 0h4m-15 1h3m11 0h2m-16 1h2m10 0h3m-16 1h3m9 0h1m-14 1h3m10 0h2m-16 1h3m12 0h2m1 0h1m-18 1h2m12 0h1m1 0h1m-18 1h1m1 0h3m10 0h1m2 0h1m-18 1h2m1 0h1m10 0h2m-17 1h1m1 0h1m11 0h1m1 0h2m-16 1h2m1 0h1m10 0h1m-16 1h1m1 0h3m12 0h1m-16 1h3m10 0h2m-17 1h1m1 0h2m11 0h2m-16 1h2m13 0h1m-18 1h1m1 0h4m12 0h1m-19 1h1m1 0h1m1 0h2m10 0h2m-18 1h4m1 0h1m1 0h1m7 0h1m2 0h1m-19 1h5m1 0h1m8 0h4m-15 1h1m10 0h1m-16 1h1m1 0h1m1 0h3m10 0h2m-18 1h1m1 0h2m1 0h1m11 0h3m-20 1h2m14 0h1m2 0h1m-20 1h1m1 0h1m13 0h1m1 0h1m-17 1h2m14 0h1m-18 1h2m-3 1h1m50 0h1m-51 1h2m13 0h1m34 0h3m-53 1h1m13 0h1m1 0h1m31 0h1m1 0h3m8 0h1m-63 1h1m1 0h1m43 0h1m1 0h1m4 0h1m3 0h5m1 0h1m-65 1h1m1 0h1m15 0h1m29 0h3m1 0h1m3 0h1m1 0h1m1 0h2m1 0h2m-65 1h5m10 0h1m1 0h1m29 0h2m2 0h3m1 0h2m2 0h3m3 0h1m-65 1h1m1 0h2m9 0h6m27 0h1m2 0h1m2 0h1m3 0h2m2 0h4m1 0h2m2 0h1m-68 1h1m10 0h4m24 0h1m5 0h1m1 0h1m1 0h4m1 0h1m1 0h1m3 0h2m4 0h1m1 0h1m-72 1h3m10 0h2m2 0h1m1 0h1m20 0h2m2 0h1m2 0h1m2 0h2m1 0h2m1 0h2m1 0h4m2 0h3m2 0h2m-70 1h1m9 0h3m1 0h4m17 0h1m1 0h2m1 0h3m2 0h1m1 0h2m4 0h1m5 0h1m1 0h3m2 0h3m-69 1h1m9 0h1m1 0h2m1 0h3m17 0h1m1 0h5m1 0h2m1 0h2m2 0h3m9 0h1m3 0h2m1 0h3m-74 1h1m11 0h4m19 0h1m1 0h1m3 0h7m2 0h2m13 0h1m1 0h1m4 0h3m-74 1h3m7 0h1m2 0h1m1 0h1m1 0h1m18 0h5m24 0h2m1 0h3m1 0h1m1 0h1m-75 1h2m1 0h1m6 0h3m2 0h1m1 0h1m14 0h2m1 0h2m29 0h3m1 0h2m2 0h2m-76 1h1m5 0h4m1 0h1m2 0h1m1 0h2m16 0h1m3 0h2m26 0h1m2 0h1m2 0h2m1 0h1m1 0h1m-77 1h3m1 0h1m2 0h1m1 0h6m19 0h1m1 0h2m28 0h3m1 0h1m2 0h4m-78 1h1m1 0h1m1 0h2m3 0h5m1 0h2m17 0h3m30 0h1m2 0h1m2 0h2m1 0h1m-77 1h3m1 0h1m1 0h1m1 0h3m1 0h2m1 0h1m18 0h2m32 0h1m1 0h1m1 0h5m1 0h2m-77 1h3m1 0h2m1 0h2m2 0h1m17 0h1m36 0h5m1 0h4m-78 1h2m1 0h2m2 0h3m1 0h1m1 0h2m56 0h1m4 0h1m1 0h1m1 0h1m-81 1h3m1 0h1m4 0h5m15 0h4m39 0h2m3 0h1m1 0h1m1 0h2m9 0h2m-94 1h4m1 0h1m1 0h1m1 0h1m2 0h1m16 0h2m41 0h1m3 0h5m2 0h1m2 0h1m1 0h1m1 0h1m1 0h1m33 0h2m-125 1h4m1 0h2m2 0h1m1 0h2m12 0h1m1 0h1m43 0h1m1 0h7m1 0h3m2 0h1m1 0h3m1 0h3m29 0h3m-128 1h4m7 0h1m1 0h1m11 0h2m47 0h1m1 0h4m1 0h3m1 0h3m2 0h1m1 0h1m1 0h3m16 0h1m10 0h2m-127 1h1m2 0h1m8 0h1m1 0h1m10 0h1m1 0h2m50 0h1m2 0h1m2 0h1m1 0h2m2 0h1m6 0h2m14 0h1m12 0h2m-129 1h1m2 0h1m8 0h1m1 0h1m9 0h1m3 0h1m51 0h1m1 0h2m2 0h3m1 0h1m3 0h2m1 0h1m2 0h1m12 0h2m-115 1h3m20 0h2m1 0h2m53 0h2m1 0h2m1 0h1m1 0h1m1 0h3m1 0h6m3 0h2m7 0h1m2 0h2m-117 1h2m7 0h1m1 0h1m11 0h1m1 0h2m49 0h1m6 0h3m3 0h1m3 0h4m2 0h1m1 0h3m1 0h3m2 0h1m3 0h3m-115 1h1m7 0h3m12 0h1m51 0h1m3 0h1m4 0h1m1 0h3m2 0h1m1 0h5m2 0h1m1 0h4m2 0h3m1 0h1m-115 1h4m1 0h1m1 0h1m1 0h2m1 0h3m10 0h1m51 0h1m4 0h1m1 0h2m1 0h2m1 0h1m3 0h1m1 0h1m1 0h1m1 0h2m2 0h4m3 0h1m1 0h3m-114 1h2m1 0h2m4 0h4m9 0h2m58 0h1m1 0h2m2 0h1m3 0h2m4 0h1m1 0h2m2 0h1m4 0h5m-115 1h2m3 0h1m5 0h4m10 0h1m57 0h1m2 0h1m5 0h1m1 0h3m1 0h3m1 0h2m1 0h1m1 0h1m1 0h2m1 0h1m-113 1h1m2 0h2m6 0h2m1 0h1m69 0h4m1 0h1m5 0h1m2 0h1m1 0h4m2 0h1m2 0h5m-114 1h2m1 0h2m10 0h1m73 0h1m3 0h4m1 0h3m1 0h1m1 0h3m1 0h7m2 0h1m-116 1h1m1 0h3m6 0h2m1 0h2m1 0h5m61 0h2m1 0h1m1 0h1m2 0h1m4 0h3m2 0h3m1 0h3m1 0h4m2 0h2m-118 1h6m7 0h1m1 0h2m2 0h1m2 0h1m56 0h1m4 0h5m5 0h3m10 0h2m2 0h1m2 0h6m-120 1h3m3 0h1m5 0h1m1 0h1m1 0h2m1 0h1m1 0h1m58 0h2m6 0h1m1 0h3m2 0h6m1 0h1m1 0h1m1 0h2m1 0h1m1 0h9m-119 1h3m1 0h1m1 0h1m3 0h1m2 0h2m1 0h1m1 0h2m59 0h2m6 0h2m1 0h5m2 0h2m3 0h1m4 0h8m2 0h2m-119 1h2m1 0h3m2 0h1m2 0h1m2 0h3m3 0h1m66 0h2m1 0h3m1 0h2m5 0h2m5 0h2m1 0h1m1 0h3m-117 1h1m4 0h1m2 0h3m3 0h1m3 0h1m1 0h2m67 0h1m1 0h3m2 0h1m1 0h1m1 0h4m-103 1h1m3 0h1m1 0h1m2 0h1m2 0h1m2 0h1m2 0h2m66 0h1m2 0h1m6 0h2m1 0h1m-99 1h1m1 0h2m2 0h5m4 0h1m1 0h1m67 0h2m1 0h2m1 0h1m2 0h2m1 0h3m-100 1h2m5 0h3m1 0h1m5 0h1m59 0h1m1 0h1m2 0h1m2 0h1m1 0h1m1 0h1m4 0h2m2 0h1m1 0h1m-100 1h5m2 0h2m7 0h1m57 0h1m2 0h1m1 0h3m1 0h3m1 0h1m1 0h1m4 0h2m1 0h1m-98 1h1m1 0h4m2 0h2m5 0h2m57 0h2m1 0h1m2 0h1m1 0h1m3 0h3m4 0h1m1 0h2m-97 1h6m2 0h3m5 0h1m58 0h3m1 0h3m1 0h1m1 0h1m1 0h3m4 0h2m-94 1h1m1 0h1m1 0h1m3 0h1m4 0h2m59 0h1m1 0h4m1 0h3m1 0h1m1 0h1m5 0h2m-85 1h2m1 0h1m58 0h1m1 0h1m1 0h1m4 0h1m1 0h1m2 0h2m-77 1h2m59 0h2m1 0h1m1 0h1m1 0h1m1 0h2m-75 1h3m61 0h9m-72 1h3m62 0h1m2 0h5m-10 1h1m1 0h2m2 0h2m-73 1h1m2 0h2m62 0h1m1 0h2m-69 1h2m64 0h4m-73 1h4m65 0h1m1 0h2m-74 1h2m2 0h1m65 0h1m2 0h1m-74 1h1m2 0h3m-5 1h1m1 0h2m65 0h3m-71 1h1m2 0h1m64 0h2m-67 1h2m63 0h1m1 0h1m0 1h1m-68 1h1m62 0h4m-69 1h3m63 0h1m1 0h2m-70 1h3m64 0h3m-71 1h1m1 0h1m1 0h1m62 0h1m-66 1h2m63 0h1m1 0h2m-71 1h1m1 0h1m64 0h3m-70 1h4m62 0h3m1 0h1m-68 1h1m62 0h2m2 0h1m-69 1h1m64 0h3m-70 1h3m63 0h1m-67 1h4m62 0h1m-64 1h1m62 0h2m-69 1h2m3 0h1m60 0h2m1 0h1m-69 1h4m1 0h1m61 0h1m-68 1h1m1 0h1m2 0h1m58 0h3m2 0h1m-70 1h1m2 0h3m57 0h1m1 0h5m-67 1h1m1 0h1m57 0h1m2 0h1m1 0h2m-70 1h3m60 0h1m1 0h1m1 0h2m-70 1h2m61 0h1m2 0h4m-70 1h3m60 0h1m1 0h1m2 0h2m-67 1h3m57 0h1m1 0h4m-65 1h1m57 0h1m1 0h2m1 0h1m-64 1h2m56 0h1m2 0h1m-63 1h1m57 0h1m1 0h1m1 0h2m-61 1h1m55 0h1m1 0h4m-64 1h4m53 0h2m2 0h2m-6 1h1m3 0h3m-63 1h1m3 0h1m52 0h1m1 0h2m-61 1h2m1 0h2m54 0h1m1 0h2m-62 1h1m1 0h2m55 0h2m1 0h1m-61 1h1m57 0h2m-60 1h1m56 0h4m-61 1h1m55 0h2m1 0h3m-62 1h2m54 0h2m2 0h2m-67 1h1m1 0h2m1 0h1m53 0h1m2 0h2m1 0h3m-68 1h1m1 0h2m1 0h1m53 0h3m1 0h2m-67 1h5m2 0h2m51 0h1m1 0h1m1 0h1m1 0h1m-67 1h1m1 0h5m2 0h1m49 0h3m3 0h3m-66 1h6m1 0h1m50 0h3m1 0h3m1 0h1m-69 1h2m1 0h3m2 0h1m1 0h1m46 0h3m1 0h4m2 0h2m-69 1h2m2 0h1m2 0h3m48 0h5m1 0h2m-65 1h2m1 0h1m1 0h1m1 0h2m1 0h1m48 0h1m1 0h1m1 0h3m-65 1h1m1 0h1m1 0h5m49 0h3m1 0h1m-61 1h3m1 0h2m1 0h1m48 0h1m4 0h2m-61 1h1m1 0h1m1 0h2m48 0h3m-55 1h1m1 0h3m-3 1h3m47 0h2m-54 1h1m1 0h1m49 0h1m1 0h1m-54 1h2m50 0h3m-56 1h4m48 0h3m-54 1h5m46 0h1m1 0h1m-50 1h2m40 0h2m1 0h5m-54 1h2m2 0h1m41 0h2m1 0h2m1 0h1m-52 1h1m1 0h3m1 0h3m35 0h1m1 0h4m1 0h1m-48 1h3m2 0h1m34 0h1m1 0h1m2 0h1m1 0h1m-51 1h7m1 0h2m2 0h1m1 0h1m29 0h1m1 0h4m-49 1h1m2 0h1m1 0h1m2 0h1m1 0h1m27 0h1m1 0h1m2 0h1m1 0h1m-47 1h1m2 0h1m1 0h5m3 0h2m25 0h1m2 0h4m-49 1h1m5 0h1m1 0h3m3 0h1m1 0h1m21 0h2m1 0h4m-33 1h5m21 0h2m4 0h5m-38 1h3m1 0h1m22 0h2m1 0h4m1 0h1m1 0h2m-39 1h7m3 0h1m17 0h1m2 0h1m1 0h6m-40 1h1m2 0h1m3 0h2m2 0h3m16 0h7m1 0h2m-42 1h1m1 0h1m1 0h1m4 0h1m1 0h4m16 0h1m2 0h1m2 0h1m2 0h3m-41 1h7m2 0h1m1 0h2m1 0h1m14 0h1m1 0h8m-40 1h1m2 0h1m2 0h1m1 0h3m3 0h2m13 0h2m2 0h2m2 0h1m-36 1h1m1 0h1m2 0h2m1 0h1m17 0h1m1 0h5m-32 1h2m3 0h8m3 0h1m6 0h4m1 0h1m-27 1h2m1 0h1m1 0h1m2 0h2m3 0h1m1 0h2m3 0h6m1 0h3m-30 1h7m2 0h1m4 0h1m2 0h4m1 0h1m2 0h5m-27 1h3m1 0h1m1 0h1m1 0h4m5 0h1m1 0h3m-23 1h1m3 0h3m2 0h3m3 0h2m-16 1h1m3 0h5m1 0h3m1 0h1m-15 1h1m1 0h1m1 0h2m2 0h1m5 0h1m1 0h1m-15 1h2m6 0h1m1 0h3m2 0h1m-17 1h2m8 0h1m2 0h1m2 0h1m-18 1h1m13 0h3m2 0h1m1 0h1m-7 1h2m1 0h3m-1 1h2" stroke="rgb(12, 12, 222)" stroke-width="1.3" fill="none"/>
<path d="M705 406.5h1m-1 1h1m-1 1h1m-1 1h2m-2 1h2m-1 10h4m1 0h1m-7 1h5m-5 1h7m-7 1h1m1 0h4m-8 1h4m1 0h4m-9 1h1m2 0h1m1 0h1m1 0h2m-9 1h1m1 0h1m1 0h1m2 0h2m-9 1h3m1 0h3m1 0h1m-9 1h1m1 0h1m1 0h2m1 0h2m-9 1h1m1 0h2m2 0h2m-8 1h4m1 0h1m1 0h2m-8 1h3m2 0h1m1 0h1m-7 1h1m1 0h6m-9 1h8m-7 1h1m1 0h2m2 0h3m-11 1h3m1 0h1m1 0h5m-11 1h1m1 0h9m-10 1h9m-8 1h4m1 0h4m-8 1h4m1 0h1m-5 1h6m-7 1h1m1 0h1m2 0h2m-8 1h3m1 0h5m-9 1h4m1 0h5m-11 1h2m2 0h7m-12 1h3m1 0h5m1 0h2m-12 1h7m1 0h3m-10 1h3m1 0h1m1 0h5m-13 1h3m3 0h3m1 0h3m-12 1h2m4 0h6m-13 1h2m5 0h2m1 0h2m-9 1h1m2 0h4m1 0h1m-11 1h4m1 0h1m1 0h3m-8 1h1m1 0h2m1 0h2m-8 1h1m1 0h4m-7 1h2m1 0h1m1 0h3m-10 1h1m2 0h3m1 0h3m-9 1h1m1 0h5m46 0h1m1 0h1m-57 1h6m1 0h1m45 0h8m-61 1h2m1 0h5m43 0h1m1 0h9m-60 1h6m36 0h1m1 0h6m1 0h3m1 0h5m-60 1h6m32 0h8m2 0h3m1 0h2m1 0h2m1 0h2m-22 1h5m11 0h5m1 0h2m-27 1h4m19 0h1m1 0h2m-29 1h2m1 0h1m23 0h2m-29 1h1m1 0h2m23 0h3m-32 1h4m26 0h1m1 0h1m-34 1h6m26 0h3m1 0h1m-37 1h2m1 0h2m28 0h6m-40 1h1m1 0h2m33 0h1m1 0h1m-39 1h2m32 0h6m-65 1h3m21 0h2m36 0h5m-70 1h8m18 0h2m34 0h3m1 0h2m2 0h1m1 0h2m-73 1h7m18 0h3m33 0h2m1 0h2m1 0h7m-75 1h5m1 0h1m18 0h3m35 0h1m1 0h1m1 0h1m1 0h1m1 0h2m1 0h3m-77 1h6m20 0h1m38 0h2m1 0h1m1 0h3m2 0h1m1 0h1m-77 1h3m20 0h2m39 0h1m1 0h3m1 0h1m3 0h3m-55 1h3m40 0h3m1 0h3m3 0h3m-55 1h2m41 0h3m1 0h2m2 0h5m-55 1h1m42 0h3m1 0h5m1 0h2m-55 1h1m43 0h4m1 0h2m1 0h5m-58 1h1m44 0h2m1 0h5m1 0h2m1 0h1m-59 1h2m45 0h5m1 0h2m1 0h3m-59 1h1m47 0h3m1 0h2m3 0h3m-62 1h1m50 0h1m1 0h1m1 0h2m3 0h1m1 0h3m-65 1h2m49 0h6m4 0h3m1 0h1m-65 1h1m50 0h1m1 0h2m1 0h1m3 0h3m1 0h1m-66 1h2m48 0h6m1 0h9m-66 1h1m1 0h1m48 0h1m1 0h1m1 0h3m1 0h4m1 0h1m-67 1h4m47 0h7m1 0h4m2 0h1m-65 1h1m49 0h1m1 0h2m1 0h1m1 0h1m4 0h1m-64 1h2m52 0h3m-57 1h2m52 0h1m1 0h1m-57 1h1m53 0h1m1 0h1m-57 1h1m54 0h2m-58 1h2m54 0h2m-58 1h3m52 0h2m-57 1h3m52 0h1m-57 1h2m1 0h1m51 0h1m1 0h2m-60 1h1m1 0h1m53 0h4m-60 1h4m52 0h1m2 0h2m-61 1h3m53 0h3m1 0h2m-62 1h1m2 0h1m51 0h3m2 0h3m-63 1h3m52 0h1m1 0h6m-64 1h2m1 0h1m52 0h6m1 0h1m-63 1h4m51 0h8m-62 1h3m52 0h2m2 0h3m-63 1h1m1 0h1m1 0h1m51 0h1m2 0h1m1 0h1m-62 1h3m1 0h1m52 0h2m1 0h1m-61 1h3m1 0h2m51 0h4m-61 1h4m1 0h1m53 0h1m1 0h2m-63 1h3m1 0h2m52 0h5m-61 1h2m1 0h2m51 0h4m-61 1h3m1 0h1m52 0h1m1 0h1m-59 1h3m55 0h1m-61 1h5m53 0h3m-61 1h2m2 0h1m54 0h2m-62 1h4m1 0h1m54 0h3m-63 1h2m2 0h3m53 0h2m-61 1h4m54 0h4m-62 1h6m50 0h4m1 0h1m-61 1h1m1 0h1m1 0h1m50 0h5m-59 1h5m50 0h2m-56 1h4m49 0h3m-55 1h2m1 0h1m49 0h1m-56 1h6m48 0h3m-57 1h3m1 0h1m49 0h1m-56 1h7m47 0h2m-56 1h3m1 0h2m48 0h2m-56 1h2m1 0h2m49 0h1m1 0h1m-56 1h5m48 0h1m-55 1h2m2 0h3m46 0h3m-55 1h4m1 0h2m44 0h3m-54 1h3m1 0h2m45 0h2m-52 1h1m1 0h4m44 0h2m-50 1h1m2 0h1m45 0h2m-50 1h1m1 0h1m45 0h3m-52 1h3m49 0h2m-53 1h1m48 0h5m-55 1h1m49 0h5m-54 1h1m47 0h6m-56 1h2m48 0h2m1 0h1m-53 1h3m47 0h3m-53 1h3m45 0h4m-51 1h4m42 0h3m-50 1h1m2 0h4m39 0h2m1 0h2m-50 1h4m1 0h2m38 0h1m2 0h1m-49 1h1m2 0h2m1 0h2m36 0h3m-46 1h3m1 0h4m36 0h1m-44 1h7m35 0h2m1 0h1m-46 1h4m1 0h4m33 0h2m1 0h3m-48 1h1m1 0h2m1 0h1m1 0h3m30 0h7m-46 1h1m1 0h4m1 0h2m29 0h2m2 0h1m1 0h1m1 0h1m-47 1h1m4 0h1m1 0h2m29 0h1m3 0h1m1 0h3m-46 1h9m31 0h1m1 0h1m1 0h1m-46 1h2m1 0h2m1 0h1m1 0h3m28 0h3m1 0h3m-46 1h10m1 0h2m27 0h1m1 0h2m1 0h2m-47 1h2m3 0h2m1 0h4m1 0h3m26 0h1m1 0h4m-47 1h1m1 0h1m1 0h2m1 0h1m2 0h4m25 0h6m-44 1h6m1 0h2m1 0h1m1 0h1m25 0h2m2 0h2m-43 1h4m1 0h6m24 0h3m-39 1h2m2 0h1m1 0h7m22 0h2m-33 1h2m1 0h2m2 0h1m1 0h1m20 0h1m3 0h1m-33 1h1m1 0h1m1 0h1m1 0h2m18 0h4m1 0h2m-27 1h3m14 0h2m1 0h8m-28 1h3m12 0h1m1 0h4m1 0h1m-24 1h5m12 0h3m1 0h1m-20 1h18m-20 1h3m2 0h1m1 0h1m1 0h4m1 0h3m1 0h3m-20 1h1m2 0h1m1 0h1m3 0h1m2 0h3m3 0h2m-16 1h3m1 0h7m3 0h2m-14 1h2m1 0h3m1 0h2m3 0h2m-14 1h2m1 0h3m1 0h3m1 0h4m-13 1h5m1 0h1m1 0h5m-14 1h3m1 0h2m3 0h2m1 0h1m-13 1h11m-11 1h1m4 0h4m-10 1h3m-2 1h1" stroke="rgb(8, 31, 234)" stroke-width="1.3" fill="none"/>
<path d="M705 448.5h3m-3 1h3m-3 1h1m1 0h2m-3 1h2m38 11h1m1 0h4m2 0h2m-13 1h10m1 0h7m-20 1h2m1 0h4m4 0h10m-22 1h4m12 0h4m1 0h2m-23 1h3m12 0h1m4 0h1m1 0h2m-25 1h3m19 0h1m1 0h2m-26 1h1m1 0h1m20 0h4m-29 1h4m21 0h5m-32 1h3m1 0h2m21 0h4m-31 1h4m23 0h5m-33 1h4m26 0h2m-32 1h2m1 0h1m27 0h2m-34 1h4m27 0h3m-35 1h4m29 0h4m-38 1h2m1 0h1m31 0h4m-39 1h3m34 0h3m-40 1h2m35 0h4m-41 1h1m37 0h1m1 0h2m-4 1h5m-43 1h1m38 0h1m1 0h2m-44 1h2m39 0h3m-45 1h2m40 0h3m-46 1h3m41 0h3m1 0h1m-49 1h2m42 0h1m1 0h3m-49 1h2m43 0h4m-48 1h1m42 0h1m1 0h1m-46 1h2m41 0h2m-46 1h1m-2 1h3m43 0h2m-49 1h2m46 0h1m1 0h1m-51 1h3m46 0h3m-51 1h1m48 0h2m-52 1h2m49 0h2m-53 1h2m50 0h1m-53 1h1m1 0h1m47 0h2m-52 1h3m45 0h4m-52 1h2m45 0h3m-50 1h1m1 0h1m44 0h3m-51 1h4m44 0h2m1 0h1m-52 1h4m44 0h4m-52 1h4m44 0h3m-52 1h1m1 0h2m46 0h1m-51 1h4m45 0h2m-49 1h2m46 0h2m-51 1h2m47 0h3m-51 1h3m46 0h1m-50 1h3m47 0h2m-50 1h1m47 0h2m-51 1h2m47 0h2m-50 1h2m46 0h3m-51 1h2m44 0h3m1 0h1m-52 1h2m46 0h4m-52 1h2m45 0h5m-52 1h1m47 0h4m-53 1h2m48 0h2m1 0h1m-54 1h2m47 0h5m-53 1h1m46 0h1m1 0h4m-53 1h1m46 0h1m2 0h2m-52 1h1m45 0h4m-49 1h1m45 0h3m-49 1h2m44 0h3m-49 1h1m1 0h1m43 0h3m-48 1h1m1 0h1m42 0h3m-48 1h3m41 0h4m-48 1h3m42 0h3m-48 1h3m40 0h4m-48 1h3m40 0h4m-47 1h3m39 0h6m-48 1h4m38 0h5m-46 1h3m38 0h5m-44 1h2m38 0h3m-42 1h1m37 0h3m-42 1h2m38 0h2m-42 1h2m39 0h3m-45 1h3m40 0h1m-45 1h1m1 0h2m40 0h3m-48 1h2m1 0h2m40 0h3m-48 1h5m40 0h3m-48 1h8m35 0h4m-47 1h2m1 0h3m2 0h1m32 0h4m-43 1h2m1 0h4m31 0h1m1 0h1m1 0h2m-43 1h1m1 0h2m1 0h1m31 0h6m-42 1h5m31 0h5m-40 1h1m2 0h1m32 0h2m-37 1h3m32 0h3m-37 1h1m33 0h2m-35 1h3m29 0h3m-34 1h3m28 0h3m-33 1h3m26 0h1m1 0h2m-31 1h1m25 0h2m-28 1h2m23 0h2m6 0h1m-35 1h4m21 0h1m2 0h1m5 0h1m-34 1h1m1 0h4m16 0h2m1 0h3m-27 1h7m13 0h1m1 0h6m-25 1h1m1 0h1m1 0h1m11 0h3m1 0h3m1 0h2m-23 1h2m11 0h4m1 0h6m-25 1h2m1 0h1m11 0h9m-25 1h5m11 0h2m3 0h3m-25 1h6m11 0h3m2 0h2m-23 1h2m1 0h4m9 0h6m-20 1h6m7 0h2m1 0h2m-19 1h4m2 0h1m6 0h3m-15 1h2m1 0h2m1 0h2m2 0h4m-14 1h8m1 0h2m-9 1h8m3 2h1m-2 1h3m-3 1h3m-3 1h2" stroke="rgb(4, 67, 243)" stroke-width="1.3" fill="none"/>
<path d="M748 464.5h4m-8 1h3m1 0h6m-10 1h6m3 0h2m1 0h4m-18 1h6m5 0h8m-18 1h4m9 0h6m-21 1h2m16 0h3m-21 1h1m18 0h2m-22 1h1m19 0h2m-24 1h3m19 0h2m-24 1h2m21 0h2m-26 1h2m22 0h2m-26 1h2m23 0h3m-30 1h3m26 0h2m-32 1h2m28 0h3m-33 1h1m30 0h3m-35 1h1m32 0h3m-37 1h2m33 0h2m-36 1h1m34 0h2m-38 1h1m36 0h1m-39 1h2m36 0h2m-40 1h2m36 0h3m-42 1h3m36 0h3m-42 1h2m36 0h4m-42 1h2m36 0h4m-41 1h1m36 0h4m-3 1h3m-42 1h1m39 0h3m-43 1h1m39 0h4m-45 1h2m40 0h4m-47 1h3m39 0h4m1 0h1m-48 1h2m39 0h8m-48 1h2m38 0h4m1 0h3m-48 1h2m38 0h5m1 0h1m-47 1h1m39 0h5m-45 1h2m38 0h4m-44 1h2m38 0h4m-44 1h2m39 0h3m-44 1h2m39 0h3m-43 1h1m39 0h2m-43 1h2m40 0h2m-45 1h3m39 0h3m-45 1h3m41 0h2m-46 1h3m41 0h2m-45 1h2m42 0h2m-46 1h2m42 0h3m-47 1h2m42 0h3m-46 1h2m40 0h4m-46 1h2m39 0h4m-45 1h1m39 0h4m-44 1h1m39 0h4m-45 1h2m40 0h1m1 0h1m-46 1h1m42 0h4m-47 1h2m41 0h4m-47 1h1m42 0h4m-47 1h2m40 0h4m-46 1h2m38 0h6m-45 1h2m36 0h6m-44 1h3m35 0h1m1 0h1m1 0h1m1 0h1m-44 1h1m1 0h1m34 0h7m-43 1h2m34 0h2m1 0h4m-42 1h1m34 0h7m-6 1h5m-41 1h1m35 0h5m-41 1h1m35 0h1m1 0h2m-41 1h2m34 0h2m-37 1h2m33 0h1m1 0h1m-38 1h2m33 0h2m-37 1h3m32 0h3m-37 1h2m32 0h3m-37 1h2m32 0h2m-36 1h2m31 0h5m-38 1h3m30 0h1m1 0h4m-39 1h3m29 0h8m-40 1h4m28 0h8m-40 1h6m26 0h8m-40 1h3m1 0h2m26 0h8m-36 1h2m26 0h6m-34 1h2m26 0h4m-32 1h2m26 0h3m-31 1h2m26 0h3m-30 1h1m26 0h3m-31 1h2m26 0h3m-31 1h3m25 0h4m-32 1h5m23 0h4m-30 1h4m3 0h2m17 0h3m-28 1h10m15 0h3m-27 1h3m1 0h6m14 0h2m-26 1h8m1 0h1m1 0h1m11 0h2m-24 1h6m1 0h3m1 0h1m9 0h2m-22 1h9m2 0h1m3 0h6m-18 1h12m1 0h3m-14 1h3m1 0h9m-12 1h11m-11 1h10m-9 1h4m1 0h6m-10 1h10m-11 1h11m-9 1h3m1 0h5m-8 1h6m-5 1h5m-3 1h1" stroke="rgb(1, 103, 253)" stroke-width="1.3" fill="none"/>
<path d="M750 466.5h2m-3 1h1m1 0h2m-6 1h4m1 0h3m-12 1h1m1 0h4m5 0h5m-17 1h4m11 0h2m-18 1h2m15 0h2m-1 1h1m-20 1h2m17 0h2m-22 1h2m-2 1h1m20 0h2m-24 1h2m21 0h2m-27 1h2m24 0h2m-29 1h2m26 0h2m-31 1h2m27 0h3m-32 1h1m28 0h4m-33 1h1m29 0h4m-34 1h1m30 0h3m-35 1h2m30 0h4m-36 1h2m31 0h3m-36 1h2m31 0h2m-36 1h2m32 0h2m-36 1h2m32 0h2m-36 1h2m32 0h2m-36 1h1m33 0h3m-37 1h1m33 0h4m-39 1h2m33 0h4m-39 1h1m34 0h5m-5 1h4m-40 1h2m34 0h3m-38 1h1m34 0h2m-1 1h1m-1 1h2m-38 1h1m35 0h2m-38 1h1m35 0h1m-37 1h1m36 0h2m-39 1h1m36 0h2m-39 1h1m36 0h2m-39 1h2m35 0h2m-39 1h2m35 0h2m-39 1h2m35 0h3m-40 1h2m35 0h4m-41 1h2m35 0h5m-42 1h2m35 0h5m-42 1h2m35 0h5m-41 1h1m35 0h4m-40 1h2m34 0h3m-39 1h2m33 0h3m-39 1h1m1 0h1m33 0h3m-39 1h2m34 0h4m-41 1h2m35 0h4m-41 1h1m36 0h1m1 0h2m-42 1h2m37 0h3m-41 1h1m35 0h4m-40 1h2m33 0h3m-37 1h2m32 0h2m-35 1h2m30 0h3m-34 1h1m30 0h3m-34 1h1m30 0h3m-1 1h1m-34 1h2m30 0h3m-35 1h2m30 0h3m-35 1h2m30 0h3m-35 1h3m29 0h2m-33 1h3m28 0h2m-33 1h2m29 0h2m-32 1h2m28 0h2m-32 1h3m26 0h3m-32 1h4m25 0h2m-30 1h7m20 0h3m-30 1h9m16 0h5m-30 1h5m1 0h4m15 0h1m1 0h2m-28 1h8m16 0h4m-26 1h6m17 0h3m-26 1h4m19 0h3m-25 1h2m21 0h2m-26 1h2m23 0h1m-26 1h1m23 0h2m-26 1h5m19 0h2m-26 1h3m1 0h5m15 0h2m-26 1h11m13 0h2m-25 1h10m12 0h3m-23 1h9m8 0h6m-22 1h3m2 0h5m5 0h6m-14 1h4m3 0h1m1 0h6m-14 1h4m1 0h9m-12 1h11m-10 1h8m-7 1h3" stroke="rgb(0, 150, 250)" stroke-width="1.3" fill="none"/>
<path d="M751 468.5h1m-3 1h5m-8 1h4m3 0h4m-14 1h5m8 0h2m-16 1h4m11 0h2m-17 1h2m14 0h1m-18 1h2m15 0h2m-20 1h2m16 0h2m-20 1h1m18 0h2m-23 1h2m20 0h2m-25 1h2m22 0h2m-27 1h1m25 0h1m-28 1h1m26 0h1m-28 1h1m26 0h2m-29 1h1m27 0h2m-30 1h1m27 0h2m-30 1h1m28 0h2m-31 1h1m29 0h1m-32 1h2m29 0h1m-32 1h2m29 0h1m-32 1h1m30 0h1m-33 1h2m30 0h1m-33 1h1m30 0h2m-33 1h1m30 0h2m-34 1h2m30 0h2m-34 1h1m31 0h2m-34 1h1m31 0h1m-33 1h1m32 0h1m-34 1h1m32 0h2m-35 1h1m33 0h1m-35 1h1m33 0h1m-1 1h1m-35 1h1m33 0h2m-36 1h1m33 0h2m-36 1h2m32 0h1m-34 1h1m32 0h2m-35 1h1m32 0h2m-35 1h1m31 0h3m-35 1h1m31 0h3m-34 1h1m30 0h3m-35 1h2m30 0h3m-35 1h2m30 0h3m-34 1h1m30 0h2m-33 1h1m30 0h2m-33 1h1m30 0h2m-33 1h1m30 0h2m-34 1h3m29 0h2m-35 1h4m29 0h2m-35 1h3m29 0h3m-36 1h4m29 0h3m-36 1h4m29 0h2m-34 1h4m27 0h2m-32 1h3m27 0h2m-31 1h2m27 0h1m-30 1h1m27 0h2m-30 1h1m27 0h2m-30 1h2m25 0h4m-30 1h2m24 0h4m-30 1h4m22 0h4m-30 1h4m23 0h3m-29 1h4m22 0h3m-28 1h4m21 0h3m-28 1h5m20 0h3m-28 1h8m16 0h4m-27 1h9m13 0h1m1 0h1m-24 1h3m1 0h4m12 0h5m-21 1h5m8 0h7m-18 1h12m1 0h3m-15 1h14m-15 1h16m-16 1h10m3 0h4m-19 1h11m6 0h2m-20 1h5m1 0h6m6 0h3m-22 1h3m1 0h10m5 0h3m-22 1h11m1 0h3m3 0h4m-19 1h9m1 0h9m-15 1h15m-13 1h12m-12 1h12m-11 1h8m-6 1h5m-4 1h3" stroke="rgb(0, 200, 244)" stroke-width="1.3" fill="none"/>
<path d="M751 470.5h2m-5 1h8m-10 1h3m6 0h2m-13 1h2m1 0h1m8 0h2m-15 1h3m10 0h2m-16 1h3m11 0h2m-17 1h2m14 0h2m-19 1h2m16 0h2m-21 1h2m18 0h2m-24 1h2m21 0h2m-25 1h1m23 0h1m-26 1h2m23 0h1m-26 1h2m23 0h2m-27 1h2m24 0h1m-27 1h2m24 0h2m-28 1h2m25 0h2m-29 1h1m27 0h1m-29 1h1m27 0h1m-30 1h2m27 0h1m-30 1h1m27 0h2m-31 1h2m27 0h1m-30 1h2m27 0h1m-30 1h1m28 0h1m-31 1h2m28 0h1m-31 1h1m29 0h1m-31 1h1m29 0h2m-32 1h1m30 0h1m-32 1h1m30 0h1m-32 1h1m30 0h2m-33 1h1m30 0h2m-33 1h1m30 0h2m-33 1h2m29 0h2m-32 1h1m29 0h2m-32 1h1m29 0h2m-32 1h1m29 0h2m-31 1h1m27 0h2m-31 1h2m27 0h2m-30 1h1m27 0h2m-30 1h1m28 0h1m-30 1h1m28 0h1m-30 1h1m27 0h2m-30 1h1m27 0h2m-30 1h2m26 0h2m-30 1h2m26 0h2m-29 1h1m26 0h2m-29 1h2m24 0h3m-30 1h5m22 0h2m-29 1h6m21 0h2m-29 1h6m21 0h2m-28 1h5m20 0h2m-27 1h4m21 0h2m-27 1h2m22 0h3m-28 1h3m21 0h3m-27 1h3m20 0h4m-26 1h3m19 0h3m-24 1h3m17 0h2m1 0h1m-22 1h1m17 0h4m-22 1h2m16 0h5m-22 1h2m16 0h4m-21 1h5m12 0h4m-20 1h6m9 0h5m-17 1h4m5 0h2m1 0h4m-14 1h13m-13 1h12m-11 1h8m-1 4h3m-4 1h6m-13 1h1m6 0h6m-5 1h5m-4 1h3" stroke="rgb(0, 234, 213)" stroke-width="1.3" fill="none"/>
<path d="M749 472.5h6m-7 1h2m3 0h3m-10 1h3m5 0h2m-11 1h2m8 0h1m-13 1h3m9 0h2m-15 1h2m12 0h2m-17 1h2m14 0h2m-20 1h3m16 0h2m-22 1h2m19 0h2m-23 1h1m21 0h1m-23 1h1m21 0h1m-23 1h1m22 0h1m-24 1h1m22 0h1m-24 1h1m23 0h1m-26 1h2m23 0h2m-27 1h1m24 0h2m-27 1h1m24 0h2m-28 1h2m24 0h1m-27 1h1m25 0h1m-1 1h1m-28 1h2m25 0h1m-28 1h1m26 0h1m-29 1h2m26 0h1m-29 1h2m26 0h1m-29 1h2m26 0h2m-30 1h2m26 0h2m-30 1h1m27 0h2m-30 1h1m27 0h2m-30 1h1m27 0h2m-29 1h1m27 0h1m-29 1h1m27 0h1m-29 1h1m26 0h2m-29 1h2m25 0h2m-28 1h1m25 0h1m-27 1h2m24 0h1m-27 1h2m24 0h1m-27 1h2m24 0h2m-28 1h2m24 0h2m-28 1h2m24 0h1m-27 1h2m24 0h1m-26 1h1m23 0h2m-26 1h2m22 0h2m-26 1h2m22 0h2m-25 1h3m20 0h1m-22 1h2m18 0h2m-21 1h2m17 0h2m-20 1h1m16 0h3m-21 1h2m15 0h3m-21 1h3m14 0h4m-23 1h5m13 0h4m-22 1h4m14 0h3m-21 1h4m14 0h2m-19 1h3m14 0h2m-18 1h2m13 0h2m-17 1h2m9 0h2m1 0h3m-16 1h16m-15 1h16m-12 1h12m-10 1h9m-8 1h5" stroke="rgb(0, 245, 147)" stroke-width="1.3" fill="none"/>
<path d="M750 473.5h3m-4 1h5m-7 1h3m2 0h3m-9 1h3m5 0h1m-11 1h4m7 0h1m-13 1h4m8 0h2m-15 1h2m13 0h1m-18 1h2m16 0h1m-20 1h3m16 0h2m-21 1h2m18 0h1m-21 1h2m18 0h2m-22 1h2m19 0h1m-22 1h2m19 0h2m-23 1h1m21 0h1m-24 1h1m22 0h1m-24 1h1m22 0h1m-24 1h1m22 0h1m-25 1h2m22 0h1m-25 1h1m23 0h1m-25 1h1m23 0h1m-26 1h2m23 0h1m-26 1h2m23 0h1m-26 1h2m23 0h1m-26 1h1m24 0h1m-26 1h1m24 0h1m-27 1h2m24 0h1m-27 1h2m24 0h1m-27 1h2m24 0h1m-26 1h1m24 0h2m-27 1h1m24 0h2m-27 1h1m24 0h1m-25 1h1m23 0h1m-25 1h1m22 0h2m-24 1h1m21 0h2m-24 1h1m21 0h2m-24 1h1m21 0h2m-24 1h1m21 0h2m-24 1h2m20 0h2m-24 1h2m20 0h2m-24 1h2m19 0h2m-22 1h1m19 0h2m-22 1h2m18 0h2m-20 1h1m17 0h2m-19 1h1m15 0h2m-17 1h1m8 0h8m-17 1h1m7 0h8m-16 1h2m2 0h11m-15 1h8m2 0h4m-14 1h8m3 0h2m-14 1h9m3 0h2m-14 1h14m-14 1h14m-14 1h13m-13 1h9m2 0h1" stroke="rgb(0, 255, 80)" stroke-width="1.3" fill="none"/>
<path d="M750 475.5h2m-3 1h5m-6 1h7m-8 1h4m2 0h2m-11 1h6m5 0h2m-15 1h3m11 0h2m-16 1h1m14 0h1m-17 1h2m15 0h1m-18 1h2m15 0h1m-18 1h2m15 0h2m-19 1h2m16 0h1m-20 1h2m17 0h2m-22 1h2m18 0h2m-22 1h1m19 0h2m-22 1h1m19 0h2m-2 1h2m-23 1h1m20 0h2m-23 1h1m21 0h1m-23 1h1m21 0h1m-23 1h1m21 0h1m-23 1h1m21 0h1m-23 1h1m21 0h1m-24 1h2m21 0h1m-24 1h1m22 0h1m-24 1h1m22 0h1m-24 1h1m22 0h1m-24 1h1m22 0h1m-24 1h1m22 0h1m-24 1h2m21 0h1m-23 1h1m20 0h2m-23 1h2m19 0h1m-21 1h1m18 0h2m-21 1h1m17 0h3m-21 1h1m17 0h3m-21 1h2m16 0h2m-19 1h1m16 0h3m-20 1h1m16 0h3m-20 1h1m15 0h3m-19 1h1m15 0h3m-18 1h1m13 0h4m-17 1h1m9 0h7m-16 1h2m4 0h9m-14 1h2m1 0h5m-8 1h7m-6 1h2m4 1h2m-2 1h3m-3 1h3" stroke="rgb(71, 255, 47)" stroke-width="1.3" fill="none"/>
<path d="M751 478.5h2m-3 1h5m-10 1h6m3 0h2m-13 1h2m2 0h3m5 0h2m-14 1h1m12 0h2m-15 1h1m12 0h2m-15 1h1m12 0h2m-15 1h1m12 0h3m-17 1h1m13 0h3m-18 1h1m14 0h3m-19 1h1m15 0h3m-19 1h1m15 0h3m-20 1h1m17 0h2m-20 1h1m17 0h2m-20 1h1m18 0h2m-21 1h1m18 0h2m-21 1h1m19 0h1m-21 1h1m19 0h1m-21 1h1m19 0h1m-21 1h1m19 0h1m-22 1h1m20 0h1m-22 1h1m20 0h1m-22 1h1m20 0h1m-22 1h1m20 0h1m-22 1h1m20 0h1m-21 1h1m18 0h2m-21 1h1m18 0h1m-19 1h1m16 0h2m-19 1h1m15 0h2m-18 1h1m15 0h1m-17 1h1m14 0h2m-16 1h1m13 0h2m-16 1h1m13 0h2m-16 1h1m12 0h3m-16 1h1m12 0h2m-15 1h2m10 0h3m-14 1h2m5 0h6m-12 1h9m-7 1h4m-3 1h1" stroke="rgb(142, 255, 13)" stroke-width="1.3" fill="none"/>
<path d="M751 480.5h3m-9 1h2m3 0h5m-11 1h12m-12 1h1m5 0h6m-12 1h1m6 0h5m-12 1h1m7 0h4m-13 1h2m7 0h4m-14 1h2m9 0h3m-15 1h2m11 0h2m-15 1h1m12 0h2m-16 1h1m14 0h2m-17 1h1m14 0h2m-17 1h1m15 0h2m-18 1h1m16 0h1m-18 1h1m16 0h2m-19 1h1m17 0h1m-19 1h1m17 0h1m-19 1h1m17 0h1m-20 1h1m17 0h2m-20 1h1m17 0h2m-20 1h1m17 0h2m-20 1h1m17 0h2m-20 1h2m16 0h2m-19 1h1m16 0h1m-18 1h2m14 0h2m-17 1h1m13 0h2m-16 1h1m13 0h1m-15 1h1m12 0h2m-15 1h1m12 0h1m-13 1h1m10 0h2m-13 1h1m9 0h3m-13 1h2m5 0h5m-12 1h2m3 0h7m-11 1h10m-9 1h5" stroke="rgb(196, 244, 0)" stroke-width="1.3" fill="none"/>
<path d="M745 483.5h5m-5 1h2m1 0h3m-6 1h1m3 0h3m-7 1h1m4 0h2m-8 1h2m5 0h2m-10 1h2m7 0h2m-12 1h1m10 0h1m-13 1h1m11 0h2m-14 1h1m12 0h1m-14 1h1m13 0h1m-15 1h1m14 0h1m-16 1h1m14 0h1m-16 1h1m15 0h1m-17 1h1m15 0h1m-17 1h1m14 0h2m-18 1h1m15 0h1m-17 1h1m15 0h1m-17 1h1m15 0h1m-17 1h2m14 0h1m-16 1h1m14 0h1m-16 1h2m12 0h2m-15 1h1m12 0h1m-14 1h1m11 0h1m-13 1h2m9 0h2m-13 1h2m6 0h4m-12 1h12m-11 1h10m-10 1h9m-8 1h5m-5 1h3" stroke="rgb(238, 227, 0)" stroke-width="1.3" fill="none"/>
<path d="M747 484.5h1m-2 1h3m-3 1h4m-4 1h5m-6 1h7m-9 1h5m3 0h2m-11 1h3m7 0h1m-11 1h1m10 0h1m-12 1h1m11 0h1m-13 1h1m11 0h2m-1 1h1m0 1h1m-1 1h1m-15 1h1m12 0h1m-15 1h2m11 0h2m-15 1h2m10 0h3m-15 1h2m9 0h4m-14 1h1m9 0h4m-14 1h2m8 0h4m-13 1h1m8 0h3m-12 1h2m7 0h3m-12 1h3m5 0h3m-10 1h9m-9 1h6" stroke="rgb(255, 187, 0)" stroke-width="1.3" fill="none"/>
<path d="M748 489.5h3m-6 1h7m-9 1h6m2 0h2m-10 1h5m4 0h2m-11 1h1m9 0h1m-12 1h1m11 0h1m-13 1h1m11 0h2m-14 1h2m10 0h2m-13 1h2m1 0h9m-12 1h11m-11 1h3m2 0h5m-10 1h2m5 0h2m-9 1h2m5 0h2m-8 1h1m5 0h2m-8 1h2m4 0h2m-7 1h2m2 0h3m-6 1h5" stroke="rgb(255, 132, 0)" stroke-width="1.3" fill="none"/>
<path d="M749 491.5h2m-3 1h4m-8 1h9m-10 1h7m1 0h3m-11 1h11m-10 1h10m-9 1h1m0 2h2m-3 1h5m-5 1h5m-5 1h5m-4 1h4m-3 1h2" stroke="rgb(240, 76, 0)" stroke-width="1.3" fill="none"/>
<path d="M750 494.5h1" stroke="rgb(215, 20, 0)" stroke-width="1.3" fill="none"/>
<rect x="695.2" y="366.1" width="236.2" height="236.3" fill="none" stroke="#000" stroke-width="1.3"/>
<path d="M695.2 602.4v5M747.1 602.4v5M799.0 602.4v5M851.0 602.4v5M902.9 602.4v5M708.2 602.4v2.5M721.2 602.4v2.5M734.1 602.4v2.5M760.1 602.4v2.5M773.1 602.4v2.5M786.1 602.4v2.5M812.0 602.4v2.5M825.0 602.4v2.5M838.0 602.4v2.5M863.9 602.4v2.5M876.9 602.4v2.5M889.9 602.4v2.5M915.9 602.4v2.5M928.8 602.4v2.5" stroke="#000" stroke-width="1.2"/>
<text x="695.2" y="624.6" font-size="12.6" text-anchor="middle">0</text>
<text x="747.1" y="624.6" font-size="12.6" text-anchor="middle">2</text>
<text x="799.0" y="624.6" font-size="12.6" text-anchor="middle">4</text>
<text x="851.0" y="624.6" font-size="12.6" text-anchor="middle">6</text>
<text x="902.9" y="624.6" font-size="12.6" text-anchor="middle">8</text>
<text x="931.4" y="624.6" font-size="12.6" text-anchor="middle">9.1</text>
<path d="M695.2 377.8h-5M695.2 419.0h-5M695.2 469.7h-5M695.2 532.7h-5M695.2 596.6h-5M695.2 392.0h-2.5M695.2 402.0h-2.5M695.2 410.0h-2.5M695.2 436.0h-2.5M695.2 447.0h-2.5M695.2 455.0h-2.5M695.2 462.0h-2.5M695.2 486.0h-2.5M695.2 497.0h-2.5M695.2 506.0h-2.5M695.2 514.0h-2.5M695.2 543.0h-2.5M695.2 553.0h-2.5M695.2 563.0h-2.5M695.2 573.0h-2.5M695.2 583.0h-2.5" stroke="#000" stroke-width="1.2"/>
<text x="684.0" y="377.8" font-size="12.6" text-anchor="middle" transform="rotate(-90 684.0 377.8)">10<tspan font-size="9.8" dx="1.9" dy="-5.3">6.3</tspan></text>
<text x="684.0" y="419.0" font-size="12.6" text-anchor="middle" transform="rotate(-90 684.0 419.0)">10<tspan font-size="9.8" dx="1.9" dy="-5.3">5</tspan></text>
<text x="684.0" y="469.7" font-size="12.6" text-anchor="middle" transform="rotate(-90 684.0 469.7)">10<tspan font-size="9.8" dx="1.9" dy="-5.3">4</tspan></text>
<text x="684.0" y="532.7" font-size="12.6" text-anchor="middle" transform="rotate(-90 684.0 532.7)">0</text>
<text x="684.0" y="596.6" font-size="12.6" text-anchor="middle" transform="rotate(-90 684.0 596.6)">-10<tspan font-size="9.8" dx="1.9" dy="-5.3">4.1</tspan></text>
<text x="812.4" y="644.0" font-size="12.6" text-anchor="middle">FSC-A&#160;&#160;(10<tspan font-size="9.8" dx="1.9" dy="-5.3">6</tspan><tspan font-size="12.6" dx="1.5" dy="5.3">)</tspan></text>
<text x="663.0" y="485.0" font-size="12.6" text-anchor="middle" transform="rotate(-90 663.0 485.0)">APC-A</text>
<polyline points="719.0,602.4 718.4,543.3 721.7,480.4 735.8,454.6 767.8,451.9 926.6,434.3 924.2,473.6 895.6,591.7 804.6,602.4" fill="none" stroke="#2d33ad" stroke-width="1.3"/>
<text x="867.0" y="396.2" font-size="12.6" fill="#2d33ad">P3</text>
<text x="867.0" y="410.7" font-size="12.6" fill="#2d33ad">96.79%</text>
<text x="920.0" y="563.6" font-size="20.7" text-anchor="end">Unstained with</text>
<text x="920.0" y="588.8" font-size="20.7" text-anchor="end">Helix NP NIR</text>
<path d="M1164 383.5h1m-41 22h1m-25 2h1m-15 2h1m12 2h1m-27 2h1m-6 1h1m-12 5h1m13 0h1m-10 5h1m87 6h1m-45 1h1m-8 3h1m-9 2h1m11 1h1m-17 20h1m-2 18h1m-3 15h1m-1 6h1m-7 2h1m-9 9h1m6 2h1m-20 7h1m-8 3h1m7 3h1" stroke="rgb(30, 30, 160)" stroke-width="1.3" fill="none"/>
<path d="M1160 385.5h1m-9 1h1m4 0h1m4 0h1m-15 2h1m4 0h1m9 0h1m-15 1h1m8 0h1m-1 1h1m-18 1h1m11 0h1m8 0h1m-13 1h1m8 0h1m-16 1h2m5 0h1m5 0h1m7 0h1m-23 1h1m1 0h1m1 0h1m2 0h4m2 0h3m4 0h1m-17 1h1m1 0h1m3 0h1m-14 1h1m2 0h1m2 0h3m1 0h1m1 0h1m6 0h1m-23 1h1m1 0h1m1 0h1m1 0h2m5 0h1m1 0h2m-17 1h1m4 0h1m10 0h2m-16 1h1m1 0h1m10 0h1m2 0h1m-17 1h1m12 0h3m2 0h1m1 0h2m-22 1h1m14 0h4m-25 1h1m1 0h1m17 0h1m-22 1h1m2 0h1m21 0h1m3 0h1m-9 1h2m1 0h1m-3 1h1m1 0h1m-27 1h1m1 0h1m23 0h1m-28 1h1m23 0h1m2 0h1m-2 1h1m-28 1h1m-4 1h1m2 0h1m24 0h2m-31 1h1m30 0h1m-30 1h1m25 0h2m4 0h1m-34 1h2m25 0h1m5 0h1m-79 1h1m69 0h1m3 0h1m1 0h1m-74 1h1m2 0h1m4 0h1m1 0h1m23 0h1m4 0h1m2 0h1m24 0h1m2 0h1m-77 1h1m6 0h1m4 0h1m34 0h1m24 0h2m-57 1h1m25 0h1m35 0h1m-65 1h1m5 0h1m16 0h1m3 0h1m2 0h1m28 0h1m-76 1h1m1 0h1m12 0h1m27 0h2m-40 1h2m9 0h1m6 0h1m19 0h1m28 0h1m1 0h1m-76 1h1m2 0h1m2 0h1m5 0h1m1 0h1m9 0h1m3 0h2m11 0h1m2 0h2m-43 1h1m2 0h1m2 0h1m1 0h1m6 0h2m23 0h1m32 0h1m-70 1h2m-3 1h1m12 0h1m15 0h1m4 0h1m29 0h1m7 0h2m-83 1h1m19 0h1m1 0h1m18 0h1m3 0h1m28 0h1m-73 1h1m4 0h1m11 0h1m3 0h1m13 0h1m34 0h1m-64 1h2m29 0h1m3 0h1m26 0h1m-71 1h1m13 0h1m7 0h1m20 0h1m27 0h1m-64 1h1m8 0h1m1 0h1m20 0h1m2 0h1m25 0h2m-67 1h1m2 0h1m1 0h1m27 0h1m1 0h1m2 0h1m26 0h1m-50 1h1m22 0h1m-3 1h1m24 0h1m3 0h1m3 0h1m-33 1h1m-8 1h1m2 0h1m2 0h2m24 0h1m-29 1h2m22 0h1m5 0h1m-29 1h1m21 0h2m-29 2h1m1 0h1m1 0h1m-8 1h1m2 0h1m2 0h2m18 0h1m1 0h1m-27 1h1m2 0h1m20 0h1m2 0h1m-29 1h2m21 0h3m-22 1h1m1 0h1m16 0h1m1 0h1m-26 1h2m1 0h2m1 0h1m18 0h2m8 0h1m-33 1h1m16 0h1m1 0h3m3 0h1m4 0h1m-31 1h1m17 0h1m-19 1h2m14 0h2m-19 1h1m2 0h1m12 0h4m-29 1h1m4 0h1m5 0h2m10 0h2m-26 1h1m6 0h1m1 0h1m2 0h1m1 0h1m6 0h3m3 0h1m-17 1h1m1 0h4m-10 1h1m2 0h1m3 0h1m1 0h2m1 0h4m1 0h1m2 0h1m-11 1h2m5 0h1m4 0h1m-28 1h1m1 0h1m8 0h1m1 0h1m2 0h1m5 0h1m-15 1h1m1 0h2m1 0h1m-10 1h1m4 0h1m2 0h1m-10 1h1m-4 1h1m8 0h1m2 0h1m2 0h1m1 0h2m-12 1h1m4 0h1m-6 1h1m-5 1h1m1 0h1m2 0h1m-7 1h1m3 0h1m-7 1h1m5 0h2m-4 1h1m-11 1h1m5 0h1m-3 1h2m1 0h1m6 0h2m2 0h1m-10 1h1m-10 1h2m7 0h2m8 0h1m-4 1h1m-16 1h1m-2 2h1m3 0h1m2 0h1m-7 1h1m2 1h1m-11 1h1m8 0h1m3 1h1m-10 1h1m-3 1h1m6 0h1m-8 1h1m1 0h1m2 0h1m-7 2h1m-4 1h1m-1 1h1m-9 1h1m6 0h2m-6 1h1m10 0h1m-16 2h1m8 0h1m6 0h1m-13 1h1m-12 11h1m1 0h2m-5 2h1m4 0h1m-7 1h1m1 2h1m-13 7h1m2 1h1m0 1h1m-4 1h1" stroke="rgb(21, 21, 191)" stroke-width="1.3" fill="none"/>
<path d="M1145 397.5h3m-5 1h3m3 0h1m-7 1h2m1 0h1m1 0h3m-10 1h4m1 0h5m-9 1h9m-13 1h5m1 0h5m1 0h3m-17 1h2m1 0h5m1 0h5m1 0h1m-17 1h3m1 0h1m7 0h3m1 0h2m-18 1h1m1 0h1m10 0h2m1 0h2m-20 1h3m12 0h3m-19 1h3m15 0h3m-22 1h3m15 0h4m-23 1h2m17 0h4m-24 1h2m18 0h1m1 0h2m-25 1h1m1 0h1m18 0h4m-5 1h3m-23 1h1m19 0h1m-22 1h2m18 0h3m-23 1h1m20 0h1m-24 1h1m20 0h1m-1 1h2m-25 1h3m20 0h1m-23 1h1m20 0h3m-26 1h3m20 0h2m-26 1h1m23 0h2m-26 1h1m22 0h3m-28 1h1m1 0h2m20 0h3m-26 1h2m-4 1h4m20 0h2m-26 1h3m20 0h2m-26 1h1m1 0h2m20 0h1m-23 1h2m19 0h1m-23 1h2m19 0h2m-24 1h1m1 0h1m18 0h2m-21 1h1m17 0h1m1 0h2m-22 1h1m16 0h2m-21 1h1m19 0h1m-22 1h1m1 0h1m15 0h2m-21 1h4m14 0h3m-21 1h1m1 0h2m13 0h2m1 0h1m-22 1h2m1 0h2m12 0h2m1 0h1m-21 1h1m1 0h1m1 0h1m10 0h4m-19 1h2m1 0h1m1 0h1m8 0h3m-18 1h2m1 0h4m6 0h1m1 0h1m1 0h1m-17 1h1m1 0h2m1 0h1m6 0h1m1 0h1m-14 1h1m1 0h10m-12 1h7m1 0h5m-14 1h7m2 0h3m-13 1h2m1 0h6m2 0h3m-14 1h1m1 0h1m2 0h1m1 0h2m2 0h1m-12 1h1m1 0h5m2 0h1m-9 1h4m1 0h2m-6 1h1m1 0h3m-3 1h2" stroke="rgb(16, 16, 206)" stroke-width="1.3" fill="none"/>
<path d="M1144 403.5h1m-5 1h7m-9 1h10m-12 1h4m3 0h2m1 0h2m-13 1h3m7 0h4m-15 1h2m10 0h3m-16 1h2m12 0h2m-17 1h1m14 0h2m-18 1h1m15 0h2m-19 1h2m14 0h2m-18 1h1m15 0h1m-18 1h1m16 0h1m-19 1h1m17 0h1m-20 1h1m17 0h1m-19 1h1m17 0h1m-20 1h1m17 0h2m-21 1h1m18 0h1m-20 1h1m18 0h1m-21 1h1m18 0h2m-22 1h2m17 0h2m-21 1h1m18 0h1m-21 1h2m17 0h2m-21 1h1m18 0h1m-21 1h2m17 0h1m-20 1h2m16 0h2m-20 1h2m15 0h2m-20 1h2m15 0h2m-18 1h1m15 0h1m-18 1h2m13 0h2m-17 1h2m12 0h2m-17 1h2m12 0h2m-16 1h2m11 0h2m-15 1h2m9 0h3m-14 1h2m8 0h1m1 0h1m-13 1h3m5 0h4m-12 1h3m4 0h3m-9 1h7m-7 1h6m-6 1h5" stroke="rgb(12, 12, 222)" stroke-width="1.3" fill="none"/>
<path d="M1140 406.5h3m-5 1h7m-9 1h2m5 0h3m-11 1h1m8 0h3m-14 1h2m10 0h2m-15 1h2m11 0h2m-15 1h1m12 0h1m-15 1h1m13 0h1m-16 1h1m14 0h1m-17 1h1m14 0h1m-17 1h1m15 0h1m-17 1h1m15 0h1m-18 1h1m15 0h1m-18 1h1m16 0h1m-18 1h1m15 0h2m-19 1h1m16 0h1m-18 1h1m15 0h1m-18 1h1m16 0h1m-18 1h1m15 0h1m-18 1h1m16 0h1m-18 1h1m15 0h1m-17 1h1m14 0h1m-16 1h1m13 0h1m-16 1h2m12 0h1m-15 1h2m11 0h1m-14 1h1m11 0h1m-13 1h1m9 0h2m-13 1h2m8 0h2m-12 1h2m6 0h1m1 0h1m-11 1h2m4 0h3m-9 1h8m-7 1h5m-5 1h4" stroke="rgb(8, 31, 234)" stroke-width="1.3" fill="none"/>
<path d="M1138 408.5h5m-7 1h2m4 0h2m-9 1h1m7 0h2m-11 1h1m9 0h1m-12 1h1m10 0h1m-13 1h1m11 0h1m-14 1h1m12 0h1m-15 1h1m12 0h1m-15 1h1m13 0h1m-1 1h1m-16 1h1m13 0h1m-16 1h1m14 0h1m-17 2h1m14 0h1m-17 2h1m14 0h1m-2 1h1m-16 1h1m14 0h1m-16 1h1m13 0h1m-15 1h1m12 0h1m-14 1h1m11 0h1m-13 1h1m10 0h1m-12 1h1m9 0h1m-12 1h2m7 0h2m-11 1h2m6 0h1m-9 1h3m2 0h3m-8 1h6m-6 1h4" stroke="rgb(4, 67, 243)" stroke-width="1.3" fill="none"/>
<path d="M1138 409.5h4m-6 1h2m3 0h2m-8 1h1m6 0h2m-10 1h1m8 0h1m-11 1h1m9 0h1m-12 1h1m10 0h1m-13 1h1m-2 1h1m11 0h1m-14 1h1m12 0h1m-2 2h1m-15 1h1m13 0h1m-2 1h1m-15 1h1m13 0h1m-2 1h1m-15 1h1m-1 1h1m12 0h1m-2 1h1m-2 1h1m-2 1h1m-2 1h1m-10 1h1m7 0h1m-9 1h2m4 0h1m-7 1h6m-5 1h2" stroke="rgb(1, 103, 253)" stroke-width="1.3" fill="none"/>
<path d="M1138 410.5h3m-5 1h1m4 0h1m-7 1h1m6 0h1m-9 1h1m7 0h1m-1 1h1m-1 1h1m-2 2h1m-13 1h1m11 0h1m-14 1h1m11 1h1m-14 1h1m11 1h1m-14 1h1m-1 1h1m11 0h1m-2 1h1m-13 1h1m10 0h1m-12 1h1m9 0h1m-11 1h1m8 0h1m-10 1h1m7 0h1m-8 1h1m4 0h2m-6 1h4" stroke="rgb(0, 150, 250)" stroke-width="1.3" fill="none"/>
<path d="M1137 411.5h4m-5 1h1m4 0h1m-1 1h1m-9 1h1m7 0h1m-10 1h1m8 0h1m-11 1h1m9 0h1m-12 1h1m9 2h1m-13 1h1m10 1h1m-13 1h1m10 1h1m-13 2h1m-1 1h1m-1 1h1m-1 1h1m6 0h1m-8 1h2m4 0h1m-6 1h4" stroke="rgb(0, 200, 244)" stroke-width="1.3" fill="none"/>
<path d="M1137 412.5h4m-6 1h1m4 0h1m-7 1h1m-2 1h1m6 1h1m-1 1h1m-11 1h1m9 0h1m-12 1h1m9 1h1m-12 1h1m9 1h1m-12 1h1m9 1h1m-2 1h1m-2 1h1m-2 1h1m-8 1h1m0 1h4" stroke="rgb(0, 234, 213)" stroke-width="1.3" fill="none"/>
<path d="M1136 413.5h4m-5 1h1m4 0h1m-1 1h1m-9 1h1m-2 1h1m7 2h1m-11 1h1m-2 2h1m8 1h1m-11 1h1m-1 1h1m-1 1h1m-1 1h1m5 0h1m-6 1h1m3 0h1" stroke="rgb(0, 245, 147)" stroke-width="1.3" fill="none"/>
<path d="M1136 414.5h1m1 0h2m-6 1h1m4 0h1m-7 1h1m5 0h1m-1 1h1m-1 1h1m-10 1h1m7 2h1m-11 2h1m7 1h1m-2 1h1m-2 1h1m-7 1h1m0 1h3" stroke="rgb(0, 255, 80)" stroke-width="1.3" fill="none"/>
<path d="M1137 414.5h1m-3 1h1m2 0h1m-7 2h1m-2 1h1m6 2h1m-10 1h1m7 1h1m-2 1h1m-9 1h1m-1 1h1m5 0h1m-7 1h1m4 0h1m-5 1h1m1 0h2" stroke="rgb(71, 255, 47)" stroke-width="1.3" fill="none"/>
<path d="M1136 415.5h2m-4 1h1m3 0h1m-6 1h1m4 0h1m-1 1h1m-1 1h1m-9 1h1m6 1h1m-9 1h1m5 2h1m-7 2h1m0 1h1" stroke="rgb(142, 255, 13)" stroke-width="1.3" fill="none"/>
<path d="M1135 416.5h3m-6 2h1m-2 1h1m5 1h1m-8 1h1m5 1h1m-8 1h1m5 0h1m-7 1h1m4 0h1m-6 1h1m3 0h1m-4 1h3" stroke="rgb(196, 244, 0)" stroke-width="1.3" fill="none"/>
<path d="M1134 417.5h4m-5 1h1m3 0h1m-1 1h1m-7 1h1m4 1h1m-7 1h1m-1 3h1m1 0h1" stroke="rgb(238, 227, 0)" stroke-width="1.3" fill="none"/>
<path d="M1134 418.5h1m1 0h1m-5 1h1m3 0h1m-1 1h1m-6 1h1m3 1h1m-6 1h1m3 0h1m-5 1h1m2 0h1m-3 1h1" stroke="rgb(255, 187, 0)" stroke-width="1.3" fill="none"/>
<path d="M1135 418.5h1m-3 1h1m1 0h1m-4 1h1m2 1h1m-5 1h1m2 0h1m-4 1h1m1 0h1m-3 1h2" stroke="rgb(255, 132, 0)" stroke-width="1.3" fill="none"/>
<path d="M1134 419.5h1m-2 1h3m-4 1h1m1 0h1m-3 1h2m-2 1h1" stroke="rgb(240, 76, 0)" stroke-width="1.3" fill="none"/>
<path d="M1133 421.5h1" stroke="rgb(215, 20, 0)" stroke-width="1.3" fill="none"/>
<rect x="998" y="367.2" width="233.5" height="66.5" fill="none" stroke="#a8413d" stroke-width="1.3"/>
<rect x="997.1" y="366.2" width="236.5" height="235.8" fill="none" stroke="#000" stroke-width="1.3"/>
<path d="M997.1 602v5M1025.6 602v5M1054.1 602v5M1082.6 602v5M1111.1 602v5M1139.6 602v5M1168.1 602v5M1196.6 602v5M1225.1 602v5M1233.6 602v5M1005.7 602v2.5M1010.7 602v2.5M1014.3 602v2.5M1017.0 602v2.5M1019.3 602v2.5M1021.2 602v2.5M1022.8 602v2.5M1024.3 602v2.5M1034.2 602v2.5M1039.2 602v2.5M1042.7 602v2.5M1045.5 602v2.5M1047.8 602v2.5M1049.7 602v2.5M1051.3 602v2.5M1052.8 602v2.5M1062.7 602v2.5M1067.7 602v2.5M1071.2 602v2.5M1074.0 602v2.5M1076.3 602v2.5M1078.2 602v2.5M1079.8 602v2.5M1081.3 602v2.5M1091.2 602v2.5M1096.2 602v2.5M1099.7 602v2.5M1102.5 602v2.5M1104.8 602v2.5M1106.7 602v2.5M1108.3 602v2.5M1109.8 602v2.5M1119.7 602v2.5M1124.7 602v2.5M1128.2 602v2.5M1131.0 602v2.5M1133.2 602v2.5M1135.2 602v2.5M1136.8 602v2.5M1138.3 602v2.5M1148.1 602v2.5M1153.2 602v2.5M1156.7 602v2.5M1159.5 602v2.5M1161.7 602v2.5M1163.7 602v2.5M1165.3 602v2.5M1166.8 602v2.5M1176.6 602v2.5M1181.7 602v2.5M1185.2 602v2.5M1188.0 602v2.5M1190.2 602v2.5M1192.1 602v2.5M1193.8 602v2.5M1195.3 602v2.5M1205.1 602v2.5M1210.2 602v2.5M1213.7 602v2.5M1216.5 602v2.5M1218.7 602v2.5M1220.6 602v2.5M1222.3 602v2.5M1223.7 602v2.5" stroke="#000" stroke-width="1.2"/>
<text x="1000.1" y="624.1" font-size="13.5" text-anchor="middle">10<tspan font-size="10.5" dx="2.0" dy="-5.7">1</tspan></text>
<text x="1057.1" y="624.1" font-size="13.5" text-anchor="middle">10<tspan font-size="10.5" dx="2.0" dy="-5.7">3</tspan></text>
<text x="1114.1" y="624.1" font-size="13.5" text-anchor="middle">10<tspan font-size="10.5" dx="2.0" dy="-5.7">5</tspan></text>
<text x="1171.1" y="624.1" font-size="13.5" text-anchor="middle">10<tspan font-size="10.5" dx="2.0" dy="-5.7">7</tspan></text>
<text x="1239.6" y="624.1" font-size="13.5" text-anchor="middle">10<tspan font-size="10.5" dx="2.0" dy="-5.7">9.3</tspan></text>
<path d="M997.1 602.0h-5M997.1 562.7h-5M997.1 523.4h-5M997.1 484.1h-5M997.1 444.8h-5M997.1 405.5h-5M997.1 366.2h-5M997.1 590.2h-2.5M997.1 583.2h-2.5M997.1 578.3h-2.5M997.1 574.5h-2.5M997.1 571.4h-2.5M997.1 568.8h-2.5M997.1 566.5h-2.5M997.1 564.5h-2.5M997.1 550.9h-2.5M997.1 543.9h-2.5M997.1 539.0h-2.5M997.1 535.2h-2.5M997.1 532.1h-2.5M997.1 529.5h-2.5M997.1 527.2h-2.5M997.1 525.2h-2.5M997.1 511.6h-2.5M997.1 504.6h-2.5M997.1 499.7h-2.5M997.1 495.9h-2.5M997.1 492.8h-2.5M997.1 490.2h-2.5M997.1 487.9h-2.5M997.1 485.9h-2.5M997.1 472.3h-2.5M997.1 465.3h-2.5M997.1 460.4h-2.5M997.1 456.6h-2.5M997.1 453.5h-2.5M997.1 450.9h-2.5M997.1 448.6h-2.5M997.1 446.6h-2.5M997.1 433.0h-2.5M997.1 426.0h-2.5M997.1 421.1h-2.5M997.1 417.3h-2.5M997.1 414.2h-2.5M997.1 411.6h-2.5M997.1 409.3h-2.5M997.1 407.3h-2.5M997.1 393.7h-2.5M997.1 386.7h-2.5M997.1 381.8h-2.5M997.1 378.0h-2.5M997.1 374.9h-2.5M997.1 372.3h-2.5M997.1 370.0h-2.5M997.1 368.0h-2.5" stroke="#000" stroke-width="1.2"/>
<text x="986.0" y="602.0" font-size="13.5" text-anchor="middle" transform="rotate(-90 986.0 602.0)">10<tspan font-size="10.5" dx="2.0" dy="-5.7">1</tspan></text>
<text x="986.0" y="562.7" font-size="13.5" text-anchor="middle" transform="rotate(-90 986.0 562.7)">10<tspan font-size="10.5" dx="2.0" dy="-5.7">2</tspan></text>
<text x="986.0" y="523.4" font-size="13.5" text-anchor="middle" transform="rotate(-90 986.0 523.4)">10<tspan font-size="10.5" dx="2.0" dy="-5.7">3</tspan></text>
<text x="986.0" y="484.1" font-size="13.5" text-anchor="middle" transform="rotate(-90 986.0 484.1)">10<tspan font-size="10.5" dx="2.0" dy="-5.7">4</tspan></text>
<text x="986.0" y="444.8" font-size="13.5" text-anchor="middle" transform="rotate(-90 986.0 444.8)">10<tspan font-size="10.5" dx="2.0" dy="-5.7">5</tspan></text>
<text x="986.0" y="405.5" font-size="13.5" text-anchor="middle" transform="rotate(-90 986.0 405.5)">10<tspan font-size="10.5" dx="2.0" dy="-5.7">6</tspan></text>
<text x="986.0" y="366.2" font-size="13.5" text-anchor="middle" transform="rotate(-90 986.0 366.2)">10<tspan font-size="10.5" dx="2.0" dy="-5.7">7</tspan></text>
<text x="1115.5" y="641.4" font-size="12.6" text-anchor="middle">FITC-A</text>
<text x="964.0" y="484.4" font-size="12.6" text-anchor="middle" transform="rotate(-90 964.0 484.4)">PE-Texas Red-A</text>
<text x="1008.7" y="387.0" font-size="12.6" fill="#a8413d">R5</text>
<text x="1008.7" y="401.8" font-size="12.6" fill="#a8413d">98.96%</text>
<text x="1220.2" y="563.9" font-size="20.7" text-anchor="end">Parental cells</text>
<text x="1220.2" y="589.3" font-size="20.7" text-anchor="end">set to ~99% mCherry<tspan font-size="12" dy="-7.5">+</tspan></text>
<path d="M1418.0 600.7 L1418.6 600.7 L1419.2 600.7 L1419.8 600.7 L1420.4 600.7 L1421.0 600.6 L1421.6 600.6 L1422.2 600.5 L1422.8 600.3 L1423.4 599.9 L1424.0 599.3 L1424.6 598.2 L1425.2 596.6 L1425.8 594.2 L1426.4 590.5 L1427.0 585.3 L1427.6 578.2 L1428.2 568.7 L1428.8 556.6 L1429.4 541.8 L1430.0 524.4 L1430.6 504.9 L1431.2 484.1 L1431.8 463.1 L1432.4 443.3 L1433.0 426.1 L1433.6 412.8 L1434.2 404.8 L1434.8 402.5 L1435.4 404.7 L1436.0 410.2 L1436.6 418.7 L1437.2 429.9 L1437.8 443.1 L1438.4 457.8 L1439.0 473.4 L1439.6 489.2 L1440.2 504.8 L1440.8 519.6 L1441.4 533.3 L1442.0 545.6 L1442.6 556.5 L1443.2 565.8 L1443.8 573.6 L1444.4 580.1 L1445.0 585.3 L1445.6 589.3 L1446.2 592.5 L1446.8 594.9 L1447.4 596.6 L1448.0 597.9 L1448.6 598.8 L1449.2 599.4 L1449.8 599.9 L1450.4 600.2 L1451.0 600.4 L1451.6 600.5 L1452.2 600.6 L1452.8 600.6 L1453.4 600.7 L1454.0 600.7 Z" fill="#f3dcdc" stroke="#a8302f" stroke-width="1.2"/>
<rect x="1299.6" y="381" width="236.1" height="219.7" fill="none" stroke="#000" stroke-width="1.3"/>
<path d="M1299.6 600.7v5M1328.0 600.7v5M1356.5 600.7v5M1384.9 600.7v5M1413.4 600.7v5M1441.8 600.7v5M1470.3 600.7v5M1498.7 600.7v5M1527.2 600.7v5M1535.7 600.7v5M1308.2 600.7v2.5M1313.2 600.7v2.5M1316.7 600.7v2.5M1319.5 600.7v2.5M1321.7 600.7v2.5M1323.6 600.7v2.5M1325.3 600.7v2.5M1326.7 600.7v2.5M1336.6 600.7v2.5M1341.6 600.7v2.5M1345.2 600.7v2.5M1347.9 600.7v2.5M1350.2 600.7v2.5M1352.1 600.7v2.5M1353.7 600.7v2.5M1355.2 600.7v2.5M1365.1 600.7v2.5M1370.1 600.7v2.5M1373.6 600.7v2.5M1376.4 600.7v2.5M1378.6 600.7v2.5M1380.5 600.7v2.5M1382.2 600.7v2.5M1383.6 600.7v2.5M1393.5 600.7v2.5M1398.5 600.7v2.5M1402.1 600.7v2.5M1404.8 600.7v2.5M1407.1 600.7v2.5M1409.0 600.7v2.5M1410.6 600.7v2.5M1412.1 600.7v2.5M1421.9 600.7v2.5M1427.0 600.7v2.5M1430.5 600.7v2.5M1433.3 600.7v2.5M1435.5 600.7v2.5M1437.4 600.7v2.5M1439.1 600.7v2.5M1440.5 600.7v2.5M1450.4 600.7v2.5M1455.4 600.7v2.5M1459.0 600.7v2.5M1461.7 600.7v2.5M1464.0 600.7v2.5M1465.9 600.7v2.5M1467.5 600.7v2.5M1469.0 600.7v2.5M1478.8 600.7v2.5M1483.8 600.7v2.5M1487.4 600.7v2.5M1490.2 600.7v2.5M1492.4 600.7v2.5M1494.3 600.7v2.5M1496.0 600.7v2.5M1497.4 600.7v2.5M1507.3 600.7v2.5M1512.3 600.7v2.5M1515.8 600.7v2.5M1518.6 600.7v2.5M1520.9 600.7v2.5M1522.8 600.7v2.5M1524.4 600.7v2.5M1525.9 600.7v2.5" stroke="#000" stroke-width="1.2"/>
<text x="1302.6" y="624.1" font-size="13.5" text-anchor="middle">10<tspan font-size="10.5" dx="2.0" dy="-5.7">1</tspan></text>
<text x="1359.5" y="624.1" font-size="13.5" text-anchor="middle">10<tspan font-size="10.5" dx="2.0" dy="-5.7">3</tspan></text>
<text x="1416.4" y="624.1" font-size="13.5" text-anchor="middle">10<tspan font-size="10.5" dx="2.0" dy="-5.7">5</tspan></text>
<text x="1473.3" y="624.1" font-size="13.5" text-anchor="middle">10<tspan font-size="10.5" dx="2.0" dy="-5.7">7</tspan></text>
<text x="1541.7" y="624.1" font-size="13.5" text-anchor="middle">10<tspan font-size="10.5" dx="2.0" dy="-5.7">9.3</tspan></text>
<path d="M1299.6 600.7h-5M1299.6 551.9h-5M1299.6 503.1h-5M1299.6 454.2h-5M1299.6 381.0h-5M1299.6 405.4h-5M1299.6 594.6h-2.5M1299.6 588.5h-2.5M1299.6 582.4h-2.5M1299.6 576.3h-2.5M1299.6 570.2h-2.5M1299.6 564.1h-2.5M1299.6 558.0h-2.5M1299.6 551.9h-2.5M1299.6 545.8h-2.5M1299.6 539.7h-2.5M1299.6 533.6h-2.5M1299.6 527.5h-2.5M1299.6 521.4h-2.5M1299.6 515.3h-2.5M1299.6 509.2h-2.5M1299.6 503.1h-2.5M1299.6 497.0h-2.5M1299.6 490.9h-2.5M1299.6 484.7h-2.5M1299.6 478.6h-2.5M1299.6 472.5h-2.5M1299.6 466.4h-2.5M1299.6 460.3h-2.5M1299.6 454.2h-2.5M1299.6 448.1h-2.5M1299.6 442.0h-2.5M1299.6 435.9h-2.5M1299.6 429.8h-2.5M1299.6 423.7h-2.5M1299.6 417.6h-2.5M1299.6 411.5h-2.5M1299.6 405.4h-2.5M1299.6 399.3h-2.5M1299.6 393.2h-2.5M1299.6 387.1h-2.5" stroke="#000" stroke-width="1.2"/>
<text x="1288.0" y="600.7" font-size="12.6" text-anchor="middle" transform="rotate(-90 1288.0 600.7)">0</text>
<text x="1288.0" y="551.9" font-size="12.6" text-anchor="middle" transform="rotate(-90 1288.0 551.9)">0.8</text>
<text x="1288.0" y="503.1" font-size="12.6" text-anchor="middle" transform="rotate(-90 1288.0 503.1)">1.6</text>
<text x="1288.0" y="454.2" font-size="12.6" text-anchor="middle" transform="rotate(-90 1288.0 454.2)">2.4</text>
<text x="1288.0" y="381.0" font-size="12.6" text-anchor="middle" transform="rotate(-90 1288.0 381.0)">3.6</text>
<text x="1417.9" y="641.4" font-size="12.6" text-anchor="middle">FITC-A</text>
<text x="1266.5" y="492.5" font-size="12.6" text-anchor="middle" transform="rotate(-90 1266.5 492.5)">Count&#160;&#160;(10<tspan font-size="9.8" dx="1.9" dy="-5.3">3</tspan><tspan font-size="12.6" dx="1.5" dy="5.3">)</tspan></text>
<path d="M1299.6 516.1H1531.6 M1300.5 509.1v14 M1427.2 509.1v14 M1531.6 509.1v14" stroke="#000" stroke-width="1.2" fill="none"/>
<text x="1341.7" y="477.5" font-size="12.6">M4-1</text>
<text x="1341.7" y="491.4" font-size="12.6">1.00%</text>
<text x="1479.6" y="477.5" font-size="12.6">M4-2</text>
<text x="1479.6" y="491.4" font-size="12.6">99.00%</text>
<text x="5.0" y="708.5" font-size="31" font-weight="bold">c</text>
<text x="626.4" y="753.2" font-size="29" text-anchor="middle">Targeted bisulfite sequencing of reporter cells</text>
<path d="M113.3 790.2V1165.7H599.4" fill="none" stroke="#000" stroke-width="1.8"/>
<path d="M104 1148.1H113.3M104 1064.6H113.3M104 981.4H113.3M104 898.1H113.3M104 814.6H113.3" stroke="#000" stroke-width="1.8"/>
<text x="96.5" y="1156.9" font-size="25" text-anchor="end">0</text>
<text x="96.5" y="1073.4" font-size="25" text-anchor="end">20</text>
<text x="96.5" y="990.2" font-size="25" text-anchor="end">40</text>
<text x="96.5" y="906.9" font-size="25" text-anchor="end">60</text>
<text x="96.5" y="823.4" font-size="25" text-anchor="end">80</text>
<path d="M153.5 1165.7V1174M214.5 1165.7V1174M275.5 1165.7V1174M336.5 1165.7V1174M397.5 1165.7V1174M458.5 1165.7V1174M519.5 1165.7V1174M580.5 1165.7V1174" stroke="#000" stroke-width="1.8"/>
<text x="153.5" y="1202.4" font-size="25" text-anchor="middle">260</text>
<text x="214.5" y="1202.4" font-size="25" text-anchor="middle">280</text>
<text x="275.5" y="1202.4" font-size="25" text-anchor="middle">300</text>
<text x="336.5" y="1202.4" font-size="25" text-anchor="middle">320</text>
<text x="397.5" y="1202.4" font-size="25" text-anchor="middle">340</text>
<text x="458.5" y="1202.4" font-size="25" text-anchor="middle">360</text>
<text x="519.5" y="1202.4" font-size="25" text-anchor="middle">380</text>
<text x="580.5" y="1202.4" font-size="25" text-anchor="middle">400</text>
<text x="53.5" y="979.0" font-size="24.5" text-anchor="middle" transform="rotate(-90 53.5 979.0)">Methylation (%)</text>
<path d="M135.2 1148.1 L138.2 1148.1 L141.3 1148.1 L144.3 1148.1 L147.4 1143.9 L150.4 1143.9 L153.5 1148.1 L156.6 1148.1 L159.6 1148.1 L162.7 1148.1 L165.7 809.3 L168.8 1148.1 L171.8 1148.1 L174.8 1148.1 L177.9 1143.1 L180.9 1144.8 L184.0 1148.1 L187.1 1148.1 L190.1 1148.1 L193.2 1148.1 L196.2 1148.1 L199.2 1148.1 L202.3 1148.1 L205.3 1148.1 L208.4 1104.3 L211.4 1148.1 L214.5 1148.1 L217.6 1148.1 L220.6 1112.6 L223.6 1148.1 L226.7 1148.1 L229.8 1148.1 L232.8 1144.8 L235.8 1148.1 L238.9 1148.1 L241.9 1143.9 L245.0 1148.1 L248.1 1148.1 L251.1 1107.2 L254.1 1148.1 L257.2 1148.1 L260.2 1148.1 L263.3 1148.1 L266.4 826.4 L269.4 1148.1 L272.4 1148.1 L275.5 1148.1 L278.6 1148.1 L281.6 1148.1 L284.6 1148.1 L287.7 1143.1 L290.8 1148.1 L293.8 1148.1 L296.9 1148.1 L299.9 1148.1 L302.9 1148.1 L306.0 1148.1 L309.0 1148.1 L312.1 831.9 L315.1 1148.1 L318.2 1148.1 L321.2 1148.1 L324.3 1146.0 L327.4 1148.1 L330.4 1148.1 L333.4 849.8 L336.5 1148.1 L339.5 1148.1 L342.6 1148.1 L345.6 1148.1 L348.7 1148.1 L351.8 1148.1 L354.8 1148.1 L357.9 1148.1 L360.9 1148.1 L363.9 1148.1 L367.0 1148.1 L370.0 1148.1 L373.1 1148.1 L376.1 1148.1 L379.2 1148.1 L382.2 1148.1 L385.3 1148.1 L388.4 1148.1 L391.4 1148.1 L394.4 1148.1 L397.5 1148.1 L400.5 1148.1 L403.6 1148.1 L406.6 1148.1 L409.7 886.1 L412.8 1148.1 L415.8 1148.1 L418.8 1148.1 L421.9 1148.1 L424.9 1141.8 L428.0 1148.1 L431.1 1148.1 L434.1 1148.1 L437.1 1148.1 L440.2 876.5 L443.2 1148.1 L446.3 1148.1 L449.3 1148.1 L452.4 1148.1 L455.4 1148.1 L458.5 1148.1 L461.5 1148.1 L464.6 1148.1 L467.6 1148.1 L470.7 1148.1 L473.8 1143.9 L476.8 1143.9 L479.8 1143.9 L482.9 1148.1 L485.9 1148.1 L489.0 1148.1 L492.0 838.5 L495.1 1148.1 L498.1 1148.1 L501.2 1148.1 L504.2 1148.1 L507.3 856.5 L510.3 1148.1 L513.4 1148.1 L516.5 1148.1 L519.5 1148.1 L522.5 1148.1 L525.6 1148.1 L528.6 1148.1 L531.7 1148.1 L534.8 1148.1 L537.8 1148.1 L540.8 1148.1 L543.9 1148.1 L547.0 1148.1 L550.0 1148.1 L553.0 1148.1 L556.1 1145.6 L559.1 1148.1 L562.2 1148.1 L565.2 1148.1 L568.3 1148.1 L571.3 1148.1 L574.4 1146.0 L577.5 1148.1" fill="none" stroke="#311b3c" stroke-width="2.1" stroke-linejoin="round"/>
<path d="M135.2 1148.1 L138.2 1148.1 L141.3 1148.1 L144.3 1148.1 L147.4 1143.9 L150.4 1143.9 L153.5 1148.1 L156.6 1148.1 L159.6 1148.1 L162.7 1148.1 L165.7 863.2 L168.8 1148.1 L171.8 1148.1 L174.8 1148.1 L177.9 1143.9 L180.9 1145.6 L184.0 1148.1 L187.1 1148.1 L190.1 1148.1 L193.2 1148.1 L196.2 1148.1 L199.2 1148.1 L202.3 1148.1 L205.3 1148.1 L208.4 1106.4 L211.4 1148.1 L214.5 1148.1 L217.6 1148.1 L220.6 1114.7 L223.6 1148.1 L226.7 1148.1 L229.8 1148.1 L232.8 1144.8 L235.8 1148.1 L238.9 1148.1 L241.9 1143.9 L245.0 1148.1 L248.1 1148.1 L251.1 1109.3 L254.1 1148.1 L257.2 1148.1 L260.2 1148.1 L263.3 1148.1 L266.4 883.6 L269.4 1148.1 L272.4 1148.1 L275.5 1148.1 L278.6 1148.1 L281.6 1148.1 L284.6 1148.1 L287.7 1143.9 L290.8 1148.1 L293.8 1148.1 L296.9 1148.1 L299.9 1148.1 L302.9 1148.1 L306.0 1148.1 L309.0 1148.1 L312.1 896.1 L315.1 1148.1 L318.2 1148.1 L321.2 1148.1 L324.3 1146.0 L327.4 1148.1 L330.4 1148.1 L333.4 925.3 L336.5 1148.1 L339.5 1148.1 L342.6 1148.1 L345.6 1148.1 L348.7 1148.1 L351.8 1148.1 L354.8 1148.1 L357.9 1148.1 L360.9 1148.1 L363.9 1148.1 L367.0 1148.1 L370.0 1148.1 L373.1 1148.1 L376.1 1148.1 L379.2 1148.1 L382.2 1148.1 L385.3 1148.1 L388.4 1148.1 L391.4 1148.1 L394.4 1148.1 L397.5 1148.1 L400.5 1148.1 L403.6 1148.1 L406.6 1148.1 L409.7 954.9 L412.8 1148.1 L415.8 1148.1 L418.8 1148.1 L421.9 1148.1 L424.9 1143.1 L428.0 1148.1 L431.1 1148.1 L434.1 1148.1 L437.1 1148.1 L440.2 952.9 L443.2 1148.1 L446.3 1148.1 L449.3 1148.1 L452.4 1148.1 L455.4 1148.1 L458.5 1148.1 L461.5 1148.1 L464.6 1148.1 L467.6 1148.1 L470.7 1148.1 L473.8 1143.9 L476.8 1143.9 L479.8 1143.9 L482.9 1148.1 L485.9 1148.1 L489.0 1148.1 L492.0 906.1 L495.1 1148.1 L498.1 1148.1 L501.2 1148.1 L504.2 1148.1 L507.3 940.8 L510.3 1148.1 L513.4 1148.1 L516.5 1148.1 L519.5 1148.1 L522.5 1148.1 L525.6 1148.1 L528.6 1148.1 L531.7 1148.1 L534.8 1148.1 L537.8 1148.1 L540.8 1148.1 L543.9 1148.1 L547.0 1148.1 L550.0 1148.1 L553.0 1148.1 L556.1 1146.0 L559.1 1148.1 L562.2 1148.1 L565.2 1148.1 L568.3 1148.1 L571.3 1148.1 L574.4 1146.4 L577.5 1148.1" fill="none" stroke="#7a2363" stroke-width="2.1" stroke-linejoin="round"/>
<path d="M135.2 1148.1 L138.2 1148.1 L141.3 1148.1 L144.3 1148.1 L147.4 1143.9 L150.4 1143.9 L153.5 1148.1 L156.6 1148.1 L159.6 1148.1 L162.7 1148.1 L165.7 925.7 L168.8 1148.1 L171.8 1148.1 L174.8 1148.1 L177.9 1144.8 L180.9 1146.0 L184.0 1148.1 L187.1 1148.1 L190.1 1148.1 L193.2 1148.1 L196.2 1148.1 L199.2 1148.1 L202.3 1148.1 L205.3 1148.1 L208.4 1135.6 L211.4 1148.1 L214.5 1148.1 L217.6 1148.1 L220.6 1137.7 L223.6 1148.1 L226.7 1148.1 L229.8 1148.1 L232.8 1145.6 L235.8 1148.1 L238.9 1148.1 L241.9 1145.6 L245.0 1148.1 L248.1 1148.1 L251.1 1135.6 L254.1 1148.1 L257.2 1148.1 L260.2 1148.1 L263.3 1148.1 L266.4 966.2 L269.4 1148.1 L272.4 1148.1 L275.5 1148.1 L278.6 1148.1 L281.6 1148.1 L284.6 1148.1 L287.7 1144.8 L290.8 1148.1 L293.8 1148.1 L296.9 1148.1 L299.9 1148.1 L302.9 1148.1 L306.0 1148.1 L309.0 1148.1 L312.1 989.2 L315.1 1148.1 L318.2 1148.1 L321.2 1148.1 L324.3 1146.4 L327.4 1148.1 L330.4 1148.1 L333.4 1022.1 L336.5 1148.1 L339.5 1148.1 L342.6 1148.1 L345.6 1148.1 L348.7 1148.1 L351.8 1148.1 L354.8 1148.1 L357.9 1148.1 L360.9 1148.1 L363.9 1148.1 L367.0 1148.1 L370.0 1148.1 L373.1 1148.1 L376.1 1148.1 L379.2 1148.1 L382.2 1148.1 L385.3 1148.1 L388.4 1148.1 L391.4 1148.1 L394.4 1148.1 L397.5 1148.1 L400.5 1148.1 L403.6 1148.1 L406.6 1148.1 L409.7 1047.6 L412.8 1148.1 L415.8 1148.1 L418.8 1148.1 L421.9 1148.1 L424.9 1143.9 L428.0 1148.1 L431.1 1148.1 L434.1 1148.1 L437.1 1148.1 L440.2 1046.3 L443.2 1148.1 L446.3 1148.1 L449.3 1148.1 L452.4 1148.1 L455.4 1148.1 L458.5 1148.1 L461.5 1148.1 L464.6 1148.1 L467.6 1148.1 L470.7 1148.1 L473.8 1144.8 L476.8 1144.8 L479.8 1144.8 L482.9 1148.1 L485.9 1148.1 L489.0 1148.1 L492.0 990.0 L495.1 1148.1 L498.1 1148.1 L501.2 1148.1 L504.2 1148.1 L507.3 1035.9 L510.3 1148.1 L513.4 1148.1 L516.5 1148.1 L519.5 1148.1 L522.5 1148.1 L525.6 1148.1 L528.6 1148.1 L531.7 1148.1 L534.8 1148.1 L537.8 1148.1 L540.8 1148.1 L543.9 1148.1 L547.0 1148.1 L550.0 1148.1 L553.0 1148.1 L556.1 1146.4 L559.1 1148.1 L562.2 1148.1 L565.2 1148.1 L568.3 1148.1 L571.3 1148.1 L574.4 1146.8 L577.5 1148.1" fill="none" stroke="#c8285a" stroke-width="2.1" stroke-linejoin="round"/>
<path d="M135.2 1148.1 L138.2 1148.1 L141.3 1148.1 L144.3 1148.1 L147.4 1144.8 L150.4 1144.8 L153.5 1148.1 L156.6 1148.1 L159.6 1148.1 L162.7 1148.1 L165.7 1063.4 L168.8 1148.1 L171.8 1148.1 L174.8 1148.1 L177.9 1146.0 L180.9 1146.8 L184.0 1148.1 L187.1 1148.1 L190.1 1148.1 L193.2 1148.1 L196.2 1148.1 L199.2 1148.1 L202.3 1148.1 L205.3 1148.1 L208.4 1143.9 L211.4 1148.1 L214.5 1148.1 L217.6 1148.1 L220.6 1143.9 L223.6 1148.1 L226.7 1148.1 L229.8 1148.1 L232.8 1146.8 L235.8 1148.1 L238.9 1148.1 L241.9 1146.8 L245.0 1148.1 L248.1 1148.1 L251.1 1143.9 L254.1 1148.1 L257.2 1148.1 L260.2 1148.1 L263.3 1148.1 L266.4 1088.0 L269.4 1148.1 L272.4 1148.1 L275.5 1148.1 L278.6 1148.1 L281.6 1148.1 L284.6 1148.1 L287.7 1146.0 L290.8 1148.1 L293.8 1148.1 L296.9 1148.1 L299.9 1148.1 L302.9 1148.1 L306.0 1148.1 L309.0 1148.1 L312.1 1097.6 L315.1 1148.1 L318.2 1148.1 L321.2 1148.1 L324.3 1146.8 L327.4 1148.1 L330.4 1148.1 L333.4 1117.2 L336.5 1148.1 L339.5 1148.1 L342.6 1148.1 L345.6 1148.1 L348.7 1148.1 L351.8 1148.1 L354.8 1148.1 L357.9 1148.1 L360.9 1148.1 L363.9 1148.1 L367.0 1148.1 L370.0 1148.1 L373.1 1148.1 L376.1 1148.1 L379.2 1148.1 L382.2 1148.1 L385.3 1148.1 L388.4 1148.1 L391.4 1148.1 L394.4 1148.1 L397.5 1148.1 L400.5 1148.1 L403.6 1148.1 L406.6 1148.1 L409.7 1127.7 L412.8 1148.1 L415.8 1148.1 L418.8 1148.1 L421.9 1148.1 L424.9 1145.6 L428.0 1148.1 L431.1 1148.1 L434.1 1148.1 L437.1 1148.1 L440.2 1125.2 L443.2 1148.1 L446.3 1148.1 L449.3 1148.1 L452.4 1148.1 L455.4 1148.1 L458.5 1148.1 L461.5 1148.1 L464.6 1148.1 L467.6 1148.1 L470.7 1148.1 L473.8 1146.0 L476.8 1146.0 L479.8 1146.0 L482.9 1148.1 L485.9 1148.1 L489.0 1148.1 L492.0 1098.0 L495.1 1148.1 L498.1 1148.1 L501.2 1148.1 L504.2 1148.1 L507.3 1124.3 L510.3 1148.1 L513.4 1148.1 L516.5 1148.1 L519.5 1148.1 L522.5 1148.1 L525.6 1148.1 L528.6 1148.1 L531.7 1148.1 L534.8 1148.1 L537.8 1148.1 L540.8 1148.1 L543.9 1148.1 L547.0 1148.1 L550.0 1148.1 L553.0 1148.1 L556.1 1146.8 L559.1 1148.1 L562.2 1148.1 L565.2 1148.1 L568.3 1148.1 L571.3 1148.1 L574.4 1147.3 L577.5 1148.1" fill="none" stroke="#ee6a47" stroke-width="2.1" stroke-linejoin="round"/>
<path d="M135.2 1148.1 L138.2 1148.1 L141.3 1148.1 L144.3 1148.1 L147.4 1146.0 L150.4 1146.0 L153.5 1148.1 L156.6 1148.1 L159.6 1148.1 L162.7 1148.1 L165.7 1143.9 L168.8 1148.1 L171.8 1148.1 L174.8 1148.1 L177.9 1146.8 L180.9 1147.3 L184.0 1148.1 L187.1 1148.1 L190.1 1148.1 L193.2 1148.1 L196.2 1148.1 L199.2 1148.1 L202.3 1148.1 L205.3 1148.1 L208.4 1147.3 L211.4 1148.1 L214.5 1148.1 L217.6 1148.1 L220.6 1147.3 L223.6 1148.1 L226.7 1148.1 L229.8 1148.1 L232.8 1147.7 L235.8 1148.1 L238.9 1148.1 L241.9 1147.7 L245.0 1148.1 L248.1 1148.1 L251.1 1147.3 L254.1 1148.1 L257.2 1148.1 L260.2 1148.1 L263.3 1148.1 L266.4 1145.2 L269.4 1148.1 L272.4 1148.1 L275.5 1148.1 L278.6 1148.1 L281.6 1148.1 L284.6 1148.1 L287.7 1147.3 L290.8 1148.1 L293.8 1148.1 L296.9 1148.1 L299.9 1148.1 L302.9 1148.1 L306.0 1148.1 L309.0 1148.1 L312.1 1144.3 L315.1 1148.1 L318.2 1148.1 L321.2 1148.1 L324.3 1147.3 L327.4 1148.1 L330.4 1148.1 L333.4 1145.6 L336.5 1148.1 L339.5 1148.1 L342.6 1148.1 L345.6 1148.1 L348.7 1148.1 L351.8 1148.1 L354.8 1148.1 L357.9 1148.1 L360.9 1148.1 L363.9 1148.1 L367.0 1148.1 L370.0 1148.1 L373.1 1148.1 L376.1 1148.1 L379.2 1148.1 L382.2 1148.1 L385.3 1148.1 L388.4 1148.1 L391.4 1148.1 L394.4 1148.1 L397.5 1148.1 L400.5 1148.1 L403.6 1148.1 L406.6 1148.1 L409.7 1144.3 L412.8 1148.1 L415.8 1148.1 L418.8 1148.1 L421.9 1148.1 L424.9 1146.8 L428.0 1148.1 L431.1 1148.1 L434.1 1148.1 L437.1 1148.1 L440.2 1145.2 L443.2 1148.1 L446.3 1148.1 L449.3 1148.1 L452.4 1148.1 L455.4 1148.1 L458.5 1148.1 L461.5 1148.1 L464.6 1148.1 L467.6 1148.1 L470.7 1148.1 L473.8 1146.8 L476.8 1146.8 L479.8 1146.8 L482.9 1148.1 L485.9 1148.1 L489.0 1148.1 L492.0 1145.6 L495.1 1148.1 L498.1 1148.1 L501.2 1148.1 L504.2 1148.1 L507.3 1145.6 L510.3 1148.1 L513.4 1148.1 L516.5 1148.1 L519.5 1148.1 L522.5 1148.1 L525.6 1148.1 L528.6 1148.1 L531.7 1148.1 L534.8 1148.1 L537.8 1148.1 L540.8 1148.1 L543.9 1148.1 L547.0 1148.1 L550.0 1148.1 L553.0 1148.1 L556.1 1147.3 L559.1 1148.1 L562.2 1148.1 L565.2 1148.1 L568.3 1148.1 L571.3 1148.1 L574.4 1147.7 L577.5 1148.1" fill="none" stroke="#f6ba95" stroke-width="2.1" stroke-linejoin="round"/>
<circle cx="165.7" cy="809.3" r="5.8" fill="#311b3c" stroke="#000" stroke-width="1.9"/>
<circle cx="266.4" cy="826.4" r="5.8" fill="#311b3c" stroke="#000" stroke-width="1.9"/>
<circle cx="312.1" cy="831.9" r="5.8" fill="#311b3c" stroke="#000" stroke-width="1.9"/>
<circle cx="333.4" cy="849.8" r="5.8" fill="#311b3c" stroke="#000" stroke-width="1.9"/>
<circle cx="409.7" cy="886.1" r="5.8" fill="#311b3c" stroke="#000" stroke-width="1.9"/>
<circle cx="440.2" cy="876.5" r="5.8" fill="#311b3c" stroke="#000" stroke-width="1.9"/>
<circle cx="492.0" cy="838.5" r="5.8" fill="#311b3c" stroke="#000" stroke-width="1.9"/>
<circle cx="507.3" cy="856.5" r="5.8" fill="#311b3c" stroke="#000" stroke-width="1.9"/>
<circle cx="165.7" cy="863.2" r="5.8" fill="#7a2363" stroke="#000" stroke-width="1.9"/>
<circle cx="266.4" cy="883.6" r="5.8" fill="#7a2363" stroke="#000" stroke-width="1.9"/>
<circle cx="312.1" cy="896.1" r="5.8" fill="#7a2363" stroke="#000" stroke-width="1.9"/>
<circle cx="333.4" cy="925.3" r="5.8" fill="#7a2363" stroke="#000" stroke-width="1.9"/>
<circle cx="409.7" cy="954.9" r="5.8" fill="#7a2363" stroke="#000" stroke-width="1.9"/>
<circle cx="440.2" cy="952.9" r="5.8" fill="#7a2363" stroke="#000" stroke-width="1.9"/>
<circle cx="492.0" cy="906.1" r="5.8" fill="#7a2363" stroke="#000" stroke-width="1.9"/>
<circle cx="507.3" cy="940.8" r="5.8" fill="#7a2363" stroke="#000" stroke-width="1.9"/>
<circle cx="165.7" cy="925.7" r="5.8" fill="#c8285a" stroke="#000" stroke-width="1.9"/>
<circle cx="266.4" cy="966.2" r="5.8" fill="#c8285a" stroke="#000" stroke-width="1.9"/>
<circle cx="312.1" cy="989.2" r="5.8" fill="#c8285a" stroke="#000" stroke-width="1.9"/>
<circle cx="333.4" cy="1022.1" r="5.8" fill="#c8285a" stroke="#000" stroke-width="1.9"/>
<circle cx="409.7" cy="1047.6" r="5.8" fill="#c8285a" stroke="#000" stroke-width="1.9"/>
<circle cx="440.2" cy="1046.3" r="5.8" fill="#c8285a" stroke="#000" stroke-width="1.9"/>
<circle cx="492.0" cy="990.0" r="5.8" fill="#c8285a" stroke="#000" stroke-width="1.9"/>
<circle cx="507.3" cy="1035.9" r="5.8" fill="#c8285a" stroke="#000" stroke-width="1.9"/>
<circle cx="165.7" cy="1063.4" r="5.8" fill="#ee6a47" stroke="#000" stroke-width="1.9"/>
<circle cx="266.4" cy="1088.0" r="5.8" fill="#ee6a47" stroke="#000" stroke-width="1.9"/>
<circle cx="312.1" cy="1097.6" r="5.8" fill="#ee6a47" stroke="#000" stroke-width="1.9"/>
<circle cx="333.4" cy="1117.2" r="5.8" fill="#ee6a47" stroke="#000" stroke-width="1.9"/>
<circle cx="409.7" cy="1127.7" r="5.8" fill="#ee6a47" stroke="#000" stroke-width="1.9"/>
<circle cx="440.2" cy="1125.2" r="5.8" fill="#ee6a47" stroke="#000" stroke-width="1.9"/>
<circle cx="492.0" cy="1098.0" r="5.8" fill="#ee6a47" stroke="#000" stroke-width="1.9"/>
<circle cx="507.3" cy="1124.3" r="5.8" fill="#ee6a47" stroke="#000" stroke-width="1.9"/>
<circle cx="165.7" cy="1143.9" r="5.8" fill="#f6ba95" stroke="#000" stroke-width="1.9"/>
<circle cx="266.4" cy="1145.2" r="5.8" fill="#f6ba95" stroke="#000" stroke-width="1.9"/>
<circle cx="312.1" cy="1144.3" r="5.8" fill="#f6ba95" stroke="#000" stroke-width="1.9"/>
<circle cx="333.4" cy="1145.6" r="5.8" fill="#f6ba95" stroke="#000" stroke-width="1.9"/>
<circle cx="409.7" cy="1144.3" r="5.8" fill="#f6ba95" stroke="#000" stroke-width="1.9"/>
<circle cx="440.2" cy="1145.2" r="5.8" fill="#f6ba95" stroke="#000" stroke-width="1.9"/>
<circle cx="492.0" cy="1145.6" r="5.8" fill="#f6ba95" stroke="#000" stroke-width="1.9"/>
<circle cx="507.3" cy="1145.6" r="5.8" fill="#f6ba95" stroke="#000" stroke-width="1.9"/>
<path d="M650.6 790.4V1165.8H1127.3" fill="none" stroke="#000" stroke-width="1.8"/>
<path d="M641.3 1148.3H650.6M641.3 1085.5H650.6M641.3 1022.1H650.6M641.3 958.4H650.6M641.3 895.6H650.6M641.3 832.8H650.6" stroke="#000" stroke-width="1.8"/>
<text x="633.5" y="1157.1" font-size="25" text-anchor="end">0</text>
<text x="633.5" y="1094.3" font-size="25" text-anchor="end">5</text>
<text x="633.5" y="1030.9" font-size="25" text-anchor="end">10</text>
<text x="633.5" y="967.2" font-size="25" text-anchor="end">15</text>
<text x="633.5" y="904.4" font-size="25" text-anchor="end">20</text>
<text x="633.5" y="841.6" font-size="25" text-anchor="end">25</text>
<path d="M701.7 1165.8V1174M761.5 1165.8V1174M821.2 1165.8V1174M881.0 1165.8V1174M940.7 1165.8V1174M1000.5 1165.8V1174M1060.3 1165.8V1174M1120.0 1165.8V1174" stroke="#000" stroke-width="1.8"/>
<text x="701.7" y="1202.4" font-size="25" text-anchor="middle">1160</text>
<text x="761.5" y="1202.4" font-size="25" text-anchor="middle">1180</text>
<text x="821.2" y="1202.4" font-size="25" text-anchor="middle">1200</text>
<text x="881.0" y="1202.4" font-size="25" text-anchor="middle">1220</text>
<text x="940.7" y="1202.4" font-size="25" text-anchor="middle">1240</text>
<text x="1000.5" y="1202.4" font-size="25" text-anchor="middle">1260</text>
<text x="1060.3" y="1202.4" font-size="25" text-anchor="middle">1280</text>
<text x="1120.0" y="1202.4" font-size="25" text-anchor="middle">1300</text>
<text x="589.9" y="979.0" font-size="24.5" text-anchor="middle" transform="rotate(-90 589.9 979.0)">Methylation (%)</text>
<path d="M671.8 1148.3 L674.8 1148.3 L677.8 810.8 L680.8 1148.3 L683.8 1148.3 L686.8 1137.0 L689.7 1148.3 L692.7 1148.3 L695.7 1140.8 L698.7 1148.3 L701.7 1148.3 L704.7 1142.0 L707.7 879.3 L710.7 1148.3 L713.7 1148.3 L716.6 1143.3 L719.6 1148.3 L722.6 1148.3 L725.6 816.5 L728.6 1148.3 L731.6 1148.3 L734.6 1148.3 L737.6 1148.3 L740.5 1137.0 L743.5 1148.3 L746.5 1148.3 L749.5 1148.3 L752.5 962.3 L755.5 1148.3 L758.5 1148.3 L761.5 1148.3 L764.4 1148.3 L767.4 1148.3 L770.4 1148.3 L773.4 1148.3 L776.4 1148.3 L779.4 1148.3 L782.4 1148.3 L785.4 1148.3 L788.4 1148.3 L791.3 1148.3 L794.3 1148.3 L797.3 1148.3 L800.3 1148.3 L803.3 1148.3 L806.3 1148.3 L809.3 1139.5 L812.3 1138.2 L815.2 1137.0 L818.2 1148.3 L821.2 1148.3 L824.2 1148.3 L827.2 1148.3 L830.2 1148.3 L833.2 1148.3 L836.2 1148.3 L839.1 1138.2 L842.1 1148.3 L845.1 1148.3 L848.1 1140.8 L851.1 1138.2 L854.1 1148.3 L857.1 1135.7 L860.1 1148.3 L863.1 1148.3 L866.0 1148.3 L869.0 1148.3 L872.0 1148.3 L875.0 1148.3 L878.0 1148.3 L881.0 1033.9 L884.0 1148.3 L887.0 963.5 L889.9 1148.3 L892.9 1148.3 L895.9 1140.8 L898.9 1148.3 L901.9 1148.3 L904.9 857.9 L907.9 1148.3 L910.9 1148.3 L913.8 1148.3 L916.8 854.2 L919.8 1148.3 L922.8 1148.3 L925.8 1148.3 L928.8 1148.3 L931.8 1148.3 L934.8 1138.2 L937.8 1148.3 L940.7 1148.3 L943.7 1148.3 L946.7 874.3 L949.7 1148.3 L952.7 1148.3 L955.7 1148.3 L958.7 854.2 L961.7 1148.3 L964.6 1148.3 L967.6 1148.3 L970.6 1148.3 L973.6 1148.3 L976.6 1148.3 L979.6 1148.3 L982.6 1148.3 L985.6 856.7 L988.5 1148.3 L991.5 1148.3 L994.5 1148.3 L997.5 1148.3 L1000.5 1126.9 L1003.5 1148.3 L1006.5 1148.3 L1009.5 1140.8 L1012.5 1140.8 L1015.4 1148.3 L1018.4 1148.3 L1021.4 1148.3 L1024.4 1148.3 L1027.4 1148.3 L1030.4 920.8 L1033.4 1148.3 L1036.4 1148.3 L1039.3 1148.3 L1042.3 1148.3 L1045.3 1148.3 L1048.3 1148.3 L1051.3 1148.3 L1054.3 1144.5 L1057.3 1148.3 L1060.3 1148.3 L1063.2 1148.3 L1066.2 1145.8 L1069.2 1148.3 L1072.2 1148.3 L1075.2 1148.3 L1078.2 1148.3 L1081.2 1148.3 L1084.2 1148.3 L1087.2 1148.3 L1090.1 1145.8 L1093.1 1148.3 L1096.1 1148.3 L1099.1 1148.3 L1102.1 1145.8 L1105.1 1148.3" fill="none" stroke="#311b3c" stroke-width="2.1" stroke-linejoin="round"/>
<path d="M671.8 1148.3 L674.8 1148.3 L677.8 891.9 L680.8 1148.3 L683.8 1148.3 L686.8 1137.0 L689.7 1148.3 L692.7 1148.3 L695.7 1140.8 L698.7 1148.3 L701.7 1148.3 L704.7 1142.0 L707.7 984.9 L710.7 1148.3 L713.7 1148.3 L716.6 1143.3 L719.6 1148.3 L722.6 1148.3 L725.6 913.2 L728.6 1148.3 L731.6 1148.3 L734.6 1148.3 L737.6 1148.3 L740.5 1137.0 L743.5 1148.3 L746.5 1148.3 L749.5 1148.3 L752.5 1032.7 L755.5 1148.3 L758.5 1148.3 L761.5 1148.3 L764.4 1148.3 L767.4 1148.3 L770.4 1148.3 L773.4 1148.3 L776.4 1148.3 L779.4 1148.3 L782.4 1148.3 L785.4 1148.3 L788.4 1148.3 L791.3 1148.3 L794.3 1148.3 L797.3 1148.3 L800.3 1148.3 L803.3 1148.3 L806.3 1148.3 L809.3 1139.5 L812.3 1138.2 L815.2 1137.0 L818.2 1148.3 L821.2 1148.3 L824.2 1148.3 L827.2 1148.3 L830.2 1148.3 L833.2 1148.3 L836.2 1148.3 L839.1 1138.2 L842.1 1148.3 L845.1 1148.3 L848.1 1140.8 L851.1 1138.2 L854.1 1148.3 L857.1 1135.7 L860.1 1148.3 L863.1 1148.3 L866.0 1148.3 L869.0 1148.3 L872.0 1148.3 L875.0 1148.3 L878.0 1148.3 L881.0 1088.6 L884.0 1148.3 L887.0 1042.7 L889.9 1148.3 L892.9 1148.3 L895.9 1140.8 L898.9 1148.3 L901.9 1148.3 L904.9 954.7 L907.9 1148.3 L910.9 1148.3 L913.8 1148.3 L916.8 938.4 L919.8 1148.3 L922.8 1148.3 L925.8 1148.3 L928.8 1148.3 L931.8 1148.3 L934.8 1138.2 L937.8 1148.3 L940.7 1148.3 L943.7 1148.3 L946.7 973.6 L949.7 1148.3 L952.7 1148.3 L955.7 1148.3 L958.7 954.7 L961.7 1148.3 L964.6 1148.3 L967.6 1148.3 L970.6 1148.3 L973.6 1148.3 L976.6 1148.3 L979.6 1148.3 L982.6 1148.3 L985.6 954.7 L988.5 1148.3 L991.5 1148.3 L994.5 1148.3 L997.5 1148.3 L1000.5 1132.0 L1003.5 1148.3 L1006.5 1148.3 L1009.5 1140.8 L1012.5 1140.8 L1015.4 1148.3 L1018.4 1148.3 L1021.4 1148.3 L1024.4 1148.3 L1027.4 1148.3 L1030.4 1016.3 L1033.4 1148.3 L1036.4 1148.3 L1039.3 1148.3 L1042.3 1148.3 L1045.3 1148.3 L1048.3 1148.3 L1051.3 1148.3 L1054.3 1144.5 L1057.3 1148.3 L1060.3 1148.3 L1063.2 1148.3 L1066.2 1145.8 L1069.2 1148.3 L1072.2 1148.3 L1075.2 1148.3 L1078.2 1148.3 L1081.2 1148.3 L1084.2 1148.3 L1087.2 1148.3 L1090.1 1145.8 L1093.1 1148.3 L1096.1 1148.3 L1099.1 1148.3 L1102.1 1145.8 L1105.1 1148.3" fill="none" stroke="#7a2363" stroke-width="2.1" stroke-linejoin="round"/>
<path d="M671.8 1148.3 L674.8 1148.3 L677.8 1017.6 L680.8 1148.3 L683.8 1148.3 L686.8 1138.2 L689.7 1148.3 L692.7 1148.3 L695.7 1142.0 L698.7 1148.3 L701.7 1148.3 L704.7 1143.3 L707.7 1072.9 L710.7 1148.3 L713.7 1148.3 L716.6 1144.5 L719.6 1148.3 L722.6 1148.3 L725.6 1032.7 L728.6 1148.3 L731.6 1148.3 L734.6 1148.3 L737.6 1148.3 L740.5 1138.2 L743.5 1148.3 L746.5 1148.3 L749.5 1148.3 L752.5 1097.4 L755.5 1148.3 L758.5 1148.3 L761.5 1148.3 L764.4 1148.3 L767.4 1148.3 L770.4 1148.3 L773.4 1148.3 L776.4 1148.3 L779.4 1148.3 L782.4 1148.3 L785.4 1148.3 L788.4 1148.3 L791.3 1148.3 L794.3 1148.3 L797.3 1148.3 L800.3 1148.3 L803.3 1148.3 L806.3 1148.3 L809.3 1140.8 L812.3 1139.5 L815.2 1138.2 L818.2 1148.3 L821.2 1148.3 L824.2 1148.3 L827.2 1148.3 L830.2 1148.3 L833.2 1148.3 L836.2 1148.3 L839.1 1139.5 L842.1 1148.3 L845.1 1148.3 L848.1 1142.0 L851.1 1139.5 L854.1 1148.3 L857.1 1137.0 L860.1 1148.3 L863.1 1148.3 L866.0 1148.3 L869.0 1148.3 L872.0 1148.3 L875.0 1148.3 L878.0 1148.3 L881.0 1123.2 L884.0 1148.3 L887.0 1105.6 L889.9 1148.3 L892.9 1148.3 L895.9 1142.0 L898.9 1148.3 L901.9 1148.3 L904.9 1061.6 L907.9 1148.3 L910.9 1148.3 L913.8 1148.3 L916.8 1060.3 L919.8 1148.3 L922.8 1148.3 L925.8 1148.3 L928.8 1148.3 L931.8 1148.3 L934.8 1139.5 L937.8 1148.3 L940.7 1148.3 L943.7 1148.3 L946.7 1082.9 L949.7 1148.3 L952.7 1148.3 L955.7 1148.3 L958.7 1062.8 L961.7 1148.3 L964.6 1148.3 L967.6 1148.3 L970.6 1148.3 L973.6 1148.3 L976.6 1148.3 L979.6 1148.3 L982.6 1148.3 L985.6 1069.1 L988.5 1148.3 L991.5 1148.3 L994.5 1148.3 L997.5 1148.3 L1000.5 1138.2 L1003.5 1148.3 L1006.5 1148.3 L1009.5 1142.0 L1012.5 1142.0 L1015.4 1148.3 L1018.4 1148.3 L1021.4 1148.3 L1024.4 1148.3 L1027.4 1148.3 L1030.4 1085.5 L1033.4 1148.3 L1036.4 1148.3 L1039.3 1148.3 L1042.3 1148.3 L1045.3 1148.3 L1048.3 1148.3 L1051.3 1148.3 L1054.3 1144.5 L1057.3 1148.3 L1060.3 1148.3 L1063.2 1148.3 L1066.2 1145.8 L1069.2 1148.3 L1072.2 1148.3 L1075.2 1148.3 L1078.2 1148.3 L1081.2 1148.3 L1084.2 1148.3 L1087.2 1148.3 L1090.1 1145.8 L1093.1 1148.3 L1096.1 1148.3 L1099.1 1148.3 L1102.1 1145.8 L1105.1 1148.3" fill="none" stroke="#c8285a" stroke-width="2.1" stroke-linejoin="round"/>
<path d="M671.8 1148.3 L674.8 1148.3 L677.8 1125.7 L680.8 1148.3 L683.8 1148.3 L686.8 1138.2 L689.7 1148.3 L692.7 1148.3 L695.7 1142.0 L698.7 1148.3 L701.7 1148.3 L704.7 1143.3 L707.7 1133.2 L710.7 1148.3 L713.7 1148.3 L716.6 1144.5 L719.6 1148.3 L722.6 1148.3 L725.6 1125.7 L728.6 1148.3 L731.6 1148.3 L734.6 1148.3 L737.6 1148.3 L740.5 1138.2 L743.5 1148.3 L746.5 1148.3 L749.5 1148.3 L752.5 1137.6 L755.5 1148.3 L758.5 1148.3 L761.5 1148.3 L764.4 1148.3 L767.4 1148.3 L770.4 1148.3 L773.4 1148.3 L776.4 1148.3 L779.4 1148.3 L782.4 1148.3 L785.4 1148.3 L788.4 1148.3 L791.3 1148.3 L794.3 1148.3 L797.3 1148.3 L800.3 1148.3 L803.3 1148.3 L806.3 1148.3 L809.3 1142.0 L812.3 1140.8 L815.2 1139.5 L818.2 1148.3 L821.2 1148.3 L824.2 1148.3 L827.2 1148.3 L830.2 1148.3 L833.2 1148.3 L836.2 1148.3 L839.1 1139.5 L842.1 1148.3 L845.1 1148.3 L848.1 1142.0 L851.1 1139.5 L854.1 1148.3 L857.1 1138.2 L860.1 1148.3 L863.1 1148.3 L866.0 1148.3 L869.0 1148.3 L872.0 1148.3 L875.0 1148.3 L878.0 1148.3 L881.0 1140.8 L884.0 1148.3 L887.0 1138.2 L889.9 1148.3 L892.9 1148.3 L895.9 1142.0 L898.9 1148.3 L901.9 1148.3 L904.9 1133.8 L907.9 1148.3 L910.9 1148.3 L913.8 1148.3 L916.8 1133.8 L919.8 1148.3 L922.8 1148.3 L925.8 1148.3 L928.8 1148.3 L931.8 1148.3 L934.8 1139.5 L937.8 1148.3 L940.7 1148.3 L943.7 1148.3 L946.7 1134.5 L949.7 1148.3 L952.7 1148.3 L955.7 1148.3 L958.7 1135.1 L961.7 1148.3 L964.6 1148.3 L967.6 1148.3 L970.6 1148.3 L973.6 1148.3 L976.6 1148.3 L979.6 1148.3 L982.6 1148.3 L985.6 1137.0 L988.5 1148.3 L991.5 1148.3 L994.5 1148.3 L997.5 1148.3 L1000.5 1142.0 L1003.5 1148.3 L1006.5 1148.3 L1009.5 1142.0 L1012.5 1142.0 L1015.4 1148.3 L1018.4 1148.3 L1021.4 1148.3 L1024.4 1148.3 L1027.4 1148.3 L1030.4 1135.7 L1033.4 1148.3 L1036.4 1148.3 L1039.3 1148.3 L1042.3 1148.3 L1045.3 1148.3 L1048.3 1148.3 L1051.3 1148.3 L1054.3 1145.8 L1057.3 1148.3 L1060.3 1148.3 L1063.2 1148.3 L1066.2 1145.8 L1069.2 1148.3 L1072.2 1148.3 L1075.2 1148.3 L1078.2 1148.3 L1081.2 1148.3 L1084.2 1148.3 L1087.2 1148.3 L1090.1 1145.8 L1093.1 1148.3 L1096.1 1148.3 L1099.1 1148.3 L1102.1 1145.8 L1105.1 1148.3" fill="none" stroke="#ee6a47" stroke-width="2.1" stroke-linejoin="round"/>
<path d="M671.8 1148.3 L674.8 1148.3 L677.8 1140.8 L680.8 1148.3 L683.8 1148.3 L686.8 1138.2 L689.7 1148.3 L692.7 1148.3 L695.7 1142.0 L698.7 1148.3 L701.7 1148.3 L704.7 1143.3 L707.7 1140.8 L710.7 1148.3 L713.7 1148.3 L716.6 1144.5 L719.6 1148.3 L722.6 1148.3 L725.6 1137.0 L728.6 1148.3 L731.6 1148.3 L734.6 1148.3 L737.6 1148.3 L740.5 1138.2 L743.5 1148.3 L746.5 1148.3 L749.5 1148.3 L752.5 1142.0 L755.5 1148.3 L758.5 1148.3 L761.5 1148.3 L764.4 1148.3 L767.4 1148.3 L770.4 1148.3 L773.4 1148.3 L776.4 1148.3 L779.4 1148.3 L782.4 1148.3 L785.4 1148.3 L788.4 1148.3 L791.3 1148.3 L794.3 1148.3 L797.3 1148.3 L800.3 1148.3 L803.3 1148.3 L806.3 1148.3 L809.3 1142.0 L812.3 1140.8 L815.2 1139.5 L818.2 1148.3 L821.2 1148.3 L824.2 1148.3 L827.2 1148.3 L830.2 1148.3 L833.2 1148.3 L836.2 1148.3 L839.1 1139.5 L842.1 1148.3 L845.1 1148.3 L848.1 1142.0 L851.1 1139.5 L854.1 1148.3 L857.1 1138.2 L860.1 1148.3 L863.1 1148.3 L866.0 1148.3 L869.0 1148.3 L872.0 1148.3 L875.0 1148.3 L878.0 1148.3 L881.0 1142.6 L884.0 1148.3 L887.0 1139.5 L889.9 1148.3 L892.9 1148.3 L895.9 1142.0 L898.9 1148.3 L901.9 1148.3 L904.9 1139.5 L907.9 1148.3 L910.9 1148.3 L913.8 1148.3 L916.8 1142.0 L919.8 1148.3 L922.8 1148.3 L925.8 1148.3 L928.8 1148.3 L931.8 1148.3 L934.8 1139.5 L937.8 1148.3 L940.7 1148.3 L943.7 1148.3 L946.7 1143.3 L949.7 1148.3 L952.7 1148.3 L955.7 1148.3 L958.7 1140.8 L961.7 1148.3 L964.6 1148.3 L967.6 1148.3 L970.6 1148.3 L973.6 1148.3 L976.6 1148.3 L979.6 1148.3 L982.6 1148.3 L985.6 1140.1 L988.5 1148.3 L991.5 1148.3 L994.5 1148.3 L997.5 1148.3 L1000.5 1144.5 L1003.5 1148.3 L1006.5 1148.3 L1009.5 1142.0 L1012.5 1142.0 L1015.4 1148.3 L1018.4 1148.3 L1021.4 1148.3 L1024.4 1148.3 L1027.4 1148.3 L1030.4 1138.9 L1033.4 1148.3 L1036.4 1148.3 L1039.3 1148.3 L1042.3 1148.3 L1045.3 1148.3 L1048.3 1148.3 L1051.3 1148.3 L1054.3 1145.8 L1057.3 1148.3 L1060.3 1148.3 L1063.2 1148.3 L1066.2 1145.8 L1069.2 1148.3 L1072.2 1148.3 L1075.2 1148.3 L1078.2 1148.3 L1081.2 1148.3 L1084.2 1148.3 L1087.2 1148.3 L1090.1 1145.8 L1093.1 1148.3 L1096.1 1148.3 L1099.1 1148.3 L1102.1 1145.8 L1105.1 1148.3" fill="none" stroke="#f6ba95" stroke-width="2.1" stroke-linejoin="round"/>
<circle cx="677.8" cy="810.8" r="5.8" fill="#311b3c" stroke="#000" stroke-width="1.9"/>
<circle cx="707.7" cy="879.3" r="5.8" fill="#311b3c" stroke="#000" stroke-width="1.9"/>
<circle cx="725.6" cy="816.5" r="5.8" fill="#311b3c" stroke="#000" stroke-width="1.9"/>
<circle cx="752.5" cy="962.3" r="5.8" fill="#311b3c" stroke="#000" stroke-width="1.9"/>
<circle cx="881.0" cy="1033.9" r="5.8" fill="#311b3c" stroke="#000" stroke-width="1.9"/>
<circle cx="887.0" cy="963.5" r="5.8" fill="#311b3c" stroke="#000" stroke-width="1.9"/>
<circle cx="904.9" cy="857.9" r="5.8" fill="#311b3c" stroke="#000" stroke-width="1.9"/>
<circle cx="916.8" cy="854.2" r="5.8" fill="#311b3c" stroke="#000" stroke-width="1.9"/>
<circle cx="946.7" cy="874.3" r="5.8" fill="#311b3c" stroke="#000" stroke-width="1.9"/>
<circle cx="958.7" cy="854.2" r="5.8" fill="#311b3c" stroke="#000" stroke-width="1.9"/>
<circle cx="985.6" cy="856.7" r="5.8" fill="#311b3c" stroke="#000" stroke-width="1.9"/>
<circle cx="1030.4" cy="920.8" r="5.8" fill="#311b3c" stroke="#000" stroke-width="1.9"/>
<circle cx="677.8" cy="891.9" r="5.8" fill="#7a2363" stroke="#000" stroke-width="1.9"/>
<circle cx="707.7" cy="984.9" r="5.8" fill="#7a2363" stroke="#000" stroke-width="1.9"/>
<circle cx="725.6" cy="913.2" r="5.8" fill="#7a2363" stroke="#000" stroke-width="1.9"/>
<circle cx="752.5" cy="1032.7" r="5.8" fill="#7a2363" stroke="#000" stroke-width="1.9"/>
<circle cx="881.0" cy="1088.6" r="5.8" fill="#7a2363" stroke="#000" stroke-width="1.9"/>
<circle cx="887.0" cy="1042.7" r="5.8" fill="#7a2363" stroke="#000" stroke-width="1.9"/>
<circle cx="904.9" cy="954.7" r="5.8" fill="#7a2363" stroke="#000" stroke-width="1.9"/>
<circle cx="916.8" cy="938.4" r="5.8" fill="#7a2363" stroke="#000" stroke-width="1.9"/>
<circle cx="946.7" cy="973.6" r="5.8" fill="#7a2363" stroke="#000" stroke-width="1.9"/>
<circle cx="958.7" cy="954.7" r="5.8" fill="#7a2363" stroke="#000" stroke-width="1.9"/>
<circle cx="985.6" cy="954.7" r="5.8" fill="#7a2363" stroke="#000" stroke-width="1.9"/>
<circle cx="1030.4" cy="1016.3" r="5.8" fill="#7a2363" stroke="#000" stroke-width="1.9"/>
<circle cx="677.8" cy="1017.6" r="5.8" fill="#c8285a" stroke="#000" stroke-width="1.9"/>
<circle cx="707.7" cy="1072.9" r="5.8" fill="#c8285a" stroke="#000" stroke-width="1.9"/>
<circle cx="725.6" cy="1032.7" r="5.8" fill="#c8285a" stroke="#000" stroke-width="1.9"/>
<circle cx="752.5" cy="1097.4" r="5.8" fill="#c8285a" stroke="#000" stroke-width="1.9"/>
<circle cx="881.0" cy="1123.2" r="5.8" fill="#c8285a" stroke="#000" stroke-width="1.9"/>
<circle cx="887.0" cy="1105.6" r="5.8" fill="#c8285a" stroke="#000" stroke-width="1.9"/>
<circle cx="904.9" cy="1061.6" r="5.8" fill="#c8285a" stroke="#000" stroke-width="1.9"/>
<circle cx="916.8" cy="1060.3" r="5.8" fill="#c8285a" stroke="#000" stroke-width="1.9"/>
<circle cx="946.7" cy="1082.9" r="5.8" fill="#c8285a" stroke="#000" stroke-width="1.9"/>
<circle cx="958.7" cy="1062.8" r="5.8" fill="#c8285a" stroke="#000" stroke-width="1.9"/>
<circle cx="985.6" cy="1069.1" r="5.8" fill="#c8285a" stroke="#000" stroke-width="1.9"/>
<circle cx="1030.4" cy="1085.5" r="5.8" fill="#c8285a" stroke="#000" stroke-width="1.9"/>
<circle cx="677.8" cy="1125.7" r="5.8" fill="#ee6a47" stroke="#000" stroke-width="1.9"/>
<circle cx="707.7" cy="1133.2" r="5.8" fill="#ee6a47" stroke="#000" stroke-width="1.9"/>
<circle cx="725.6" cy="1125.7" r="5.8" fill="#ee6a47" stroke="#000" stroke-width="1.9"/>
<circle cx="752.5" cy="1137.6" r="5.8" fill="#ee6a47" stroke="#000" stroke-width="1.9"/>
<circle cx="881.0" cy="1140.8" r="5.8" fill="#ee6a47" stroke="#000" stroke-width="1.9"/>
<circle cx="887.0" cy="1138.2" r="5.8" fill="#ee6a47" stroke="#000" stroke-width="1.9"/>
<circle cx="904.9" cy="1133.8" r="5.8" fill="#ee6a47" stroke="#000" stroke-width="1.9"/>
<circle cx="916.8" cy="1133.8" r="5.8" fill="#ee6a47" stroke="#000" stroke-width="1.9"/>
<circle cx="946.7" cy="1134.5" r="5.8" fill="#ee6a47" stroke="#000" stroke-width="1.9"/>
<circle cx="958.7" cy="1135.1" r="5.8" fill="#ee6a47" stroke="#000" stroke-width="1.9"/>
<circle cx="985.6" cy="1137.0" r="5.8" fill="#ee6a47" stroke="#000" stroke-width="1.9"/>
<circle cx="1030.4" cy="1135.7" r="5.8" fill="#ee6a47" stroke="#000" stroke-width="1.9"/>
<circle cx="677.8" cy="1140.8" r="5.8" fill="#f6ba95" stroke="#000" stroke-width="1.9"/>
<circle cx="707.7" cy="1140.8" r="5.8" fill="#f6ba95" stroke="#000" stroke-width="1.9"/>
<circle cx="725.6" cy="1137.0" r="5.8" fill="#f6ba95" stroke="#000" stroke-width="1.9"/>
<circle cx="752.5" cy="1142.0" r="5.8" fill="#f6ba95" stroke="#000" stroke-width="1.9"/>
<circle cx="881.0" cy="1142.6" r="5.8" fill="#f6ba95" stroke="#000" stroke-width="1.9"/>
<circle cx="887.0" cy="1139.5" r="5.8" fill="#f6ba95" stroke="#000" stroke-width="1.9"/>
<circle cx="904.9" cy="1139.5" r="5.8" fill="#f6ba95" stroke="#000" stroke-width="1.9"/>
<circle cx="916.8" cy="1142.0" r="5.8" fill="#f6ba95" stroke="#000" stroke-width="1.9"/>
<circle cx="946.7" cy="1143.3" r="5.8" fill="#f6ba95" stroke="#000" stroke-width="1.9"/>
<circle cx="958.7" cy="1140.8" r="5.8" fill="#f6ba95" stroke="#000" stroke-width="1.9"/>
<circle cx="985.6" cy="1140.1" r="5.8" fill="#f6ba95" stroke="#000" stroke-width="1.9"/>
<circle cx="1030.4" cy="1138.9" r="5.8" fill="#f6ba95" stroke="#000" stroke-width="1.9"/>
<path d="M75.5 1303.6L87.3 1284.5M84.5 1303.6L95.4 1284.5" stroke="#000" stroke-width="2"/>
<line x1="84" y1="1294" x2="212" y2="1294" stroke="#000" stroke-width="1.8"/>
<rect x="103.6" y="1277.7" width="10.6" height="32.7" fill="#4d4d4d" stroke="#000" stroke-width="1.5"/>
<rect x="122.9" y="1277.7" width="10.6" height="32.7" fill="#4d4d4d" stroke="#000" stroke-width="1.5"/>
<rect x="142.4" y="1277.7" width="10.6" height="32.7" fill="#4d4d4d" stroke="#000" stroke-width="1.5"/>
<rect x="161.8" y="1277.7" width="10.6" height="32.7" fill="#4d4d4d" stroke="#000" stroke-width="1.5"/>
<rect x="181.3" y="1277.7" width="10.6" height="32.7" fill="#4d4d4d" stroke="#000" stroke-width="1.5"/>
<rect x="836" y="1277.7" width="70" height="32.7" fill="#f2aab0"/>
<line x1="836" y1="1294" x2="906" y2="1294" stroke="#000" stroke-width="1.8"/>
<rect x="211.3" y="1277.7" width="624.5" height="32.7" fill="#ef8088" stroke="#000" stroke-width="1.8"/>
<rect x="347.6" y="1278.6" width="79.1" height="30.9" fill="#f2aab0"/>
<path d="M906.1 1277.7H1090L1080 1310.4H906.1Z" fill="#ffe000" stroke="#000" stroke-width="1.8" stroke-linejoin="miter"/>
<path d="M1075.6 1323.5L1095.7 1265.5M1085.7 1323.5L1105.8 1264.6" stroke="#000" stroke-width="2"/>
<path d="M347.6 1278V1310M426.7 1278V1310M831.4 1278V1310M909.9 1278V1310" stroke="#000" stroke-width="1.6" stroke-dasharray="4 3"/>
<path d="M134.4 1219L347.6 1277M575.3 1219.6L426.7 1277M672 1219.5L831.4 1277M1103 1220L909.9 1277.6" stroke="#000" stroke-width="1.8" stroke-dasharray="6 4.5"/>
<text x="145.2" y="1268.2" font-size="24.5" text-anchor="middle">5×TetO</text>
<text x="112.0" y="1339.0" font-size="24.5" text-anchor="middle">−208</text>
<text x="217.0" y="1339.0" font-size="24.5" text-anchor="middle">1</text>
<text x="813.8" y="1339.3" font-size="24.5" text-anchor="middle">1155</text>
<text x="928.7" y="1339.3" font-size="24.5" text-anchor="middle">1288</text>
<text x="438.0" y="1303.6" font-size="24.5">EF1α promoter</text>
<text x="997.3" y="1302.5" font-size="24.5" text-anchor="middle">H2B-Citrine</text>
<text x="561.8" y="1360.9" font-size="24.9" text-anchor="middle">Position relative to start of promoter</text>
<line x1="508.7" y1="1433" x2="538.8" y2="1433" stroke="#000" stroke-width="2"/>
<text x="552.3" y="1442.5" font-size="24.9">% Cytosine methylation</text>
<text x="552.3" y="1471.8" font-size="24.9">(C not converted to T after bisulfite treatment)</text>
<line x1="508.7" y1="1510.6" x2="538.8" y2="1510.6" stroke="#000" stroke-width="2"/>
<circle cx="523.9" cy="1510.6" r="4.6" fill="#fff" stroke="#000" stroke-width="2"/>
<text x="552.3" y="1519.2" font-size="24.9">Indicates location of a CpG site</text>
<text x="186.0" y="1489.6" font-size="24.5" text-anchor="middle" transform="rotate(-90 186.0 1489.6)">Duration of dox</text>
<text x="219.5" y="1405.3" font-size="23.5">+<tspan font-style="italic">dox</tspan></text>
<path d="M226.3 1432.7H309.9V1438.7" fill="none" stroke="#311b3c" stroke-width="1.8"/>
<path d="M306.4 1437.7L309.9 1442.7L313.4 1437.7Z" fill="#311b3c"/>
<path d="M220.5 1418.4H232.10000000000002L226.3 1428.5Z" fill="none" stroke="#311b3c" stroke-width="1.6"/>
<text x="317.5" y="1440.7" font-size="23.5" fill="#311b3c">12 d</text>
<line x1="225.5" y1="1461.9" x2="247.2" y2="1461.9" stroke="#c8c8c8" stroke-width="1.8"/>
<path d="M247.2 1461.9H309.9V1467.9" fill="none" stroke="#7a2363" stroke-width="1.8"/>
<path d="M306.4 1466.9L309.9 1471.9L313.4 1466.9Z" fill="#7a2363"/>
<path d="M241.39999999999998 1447.6000000000001H253.0L247.2 1457.7Z" fill="none" stroke="#7a2363" stroke-width="1.6"/>
<text x="317.5" y="1469.9" font-size="23.5" fill="#7a2363">9 d</text>
<line x1="225.5" y1="1493.7" x2="268.1" y2="1493.7" stroke="#c8c8c8" stroke-width="1.8"/>
<path d="M268.1 1493.7H309.9V1499.7" fill="none" stroke="#c8285a" stroke-width="1.8"/>
<path d="M306.4 1498.7L309.9 1503.7L313.4 1498.7Z" fill="#c8285a"/>
<path d="M262.3 1479.4H273.90000000000003L268.1 1489.5Z" fill="none" stroke="#c8285a" stroke-width="1.6"/>
<text x="317.5" y="1501.7" font-size="23.5" fill="#c8285a">6 d</text>
<line x1="225.5" y1="1522.6" x2="288.5" y2="1522.6" stroke="#c8c8c8" stroke-width="1.8"/>
<path d="M288.5 1522.6H309.9V1528.6" fill="none" stroke="#ee6a47" stroke-width="1.8"/>
<path d="M306.4 1527.6L309.9 1532.6L313.4 1527.6Z" fill="#ee6a47"/>
<path d="M282.7 1508.3H294.3L288.5 1518.3999999999999Z" fill="none" stroke="#ee6a47" stroke-width="1.6"/>
<text x="317.5" y="1530.6" font-size="23.5" fill="#ee6a47">3 d</text>
<line x1="225.5" y1="1552" x2="308" y2="1552" stroke="#d8d8d8" stroke-width="1.8"/>
<path d="M309.9 1553V1559" stroke="#f6ba95" stroke-width="1.4"/><path d="M307.5 1557.5L309.9 1561.5L312.3 1557.5Z" fill="#f6ba95"/>
<text x="317.5" y="1559.6" font-size="23.5" fill="#f6ba95">0 d</text>
<path d="M309.1 1572.4V1585.3H341" fill="none" stroke="#000" stroke-width="1.8"/><path d="M348 1585.3L339 1581V1589.6Z" fill="#000"/>
<text x="352.5" y="1593.3" font-size="24.5" font-style="italic">Harvest</text>
<text x="1152.0" y="709.2" font-size="31" font-weight="bold">d</text>
<text x="1409.8" y="741.8" font-size="28.9" text-anchor="middle"><tspan font-style="italic">DNMT3</tspan>-knockout cells</text>
<path d="M1251.7 763.6H1566.7V973.4H1242.7M1251.7 763.6V973.4" fill="none" stroke="#000" stroke-width="1.9"/>
<path d="M1243.7 763.6H1251.7M1243.7 816.0H1251.7M1243.7 868.5H1251.7M1243.7 921.0H1251.7" stroke="#000" stroke-width="1.9"/>
<text x="1239.2" y="772.2" font-size="24.5" text-anchor="end">100</text>
<text x="1239.2" y="824.6" font-size="24.5" text-anchor="end">75</text>
<text x="1239.2" y="877.1" font-size="24.5" text-anchor="end">50</text>
<text x="1239.2" y="929.6" font-size="24.5" text-anchor="end">25</text>
<text x="1239.2" y="982.0" font-size="24.5" text-anchor="end">0</text>
<line x1="1251.7" y1="973.4" x2="1251.7" y2="982.4" stroke="#000" stroke-width="1.9"/>
<text x="1251.7" y="1006.0" font-size="24.5" text-anchor="middle">0</text>
<line x1="1344.3" y1="973.4" x2="1344.3" y2="982.4" stroke="#000" stroke-width="1.9"/>
<text x="1344.3" y="1006.0" font-size="24.5" text-anchor="middle">5</text>
<line x1="1436.9" y1="973.4" x2="1436.9" y2="982.4" stroke="#000" stroke-width="1.9"/>
<text x="1436.9" y="1006.0" font-size="24.5" text-anchor="middle">10</text>
<line x1="1529.5" y1="973.4" x2="1529.5" y2="982.4" stroke="#000" stroke-width="1.9"/>
<text x="1529.5" y="1006.0" font-size="24.5" text-anchor="middle">15</text>
<text x="1409.8" y="1027.4" font-size="24.5" text-anchor="middle">Day</text>
<text x="1190.0" y="868.8" font-size="24.5" text-anchor="middle" transform="rotate(-90 1190.0 868.8)">% Citrine<tspan font-size="12" dy="-9">+</tspan></text>
<path d="M1251.7 774.1 L1307.3 816.0 L1362.8 920.1 L1418.4 954.7 L1473.9 967.3 L1529.5 971.7" fill="none" stroke="#3d3d3d" stroke-width="2.3" stroke-linejoin="round"/>
<circle cx="1251.7" cy="774.1" r="3.3" fill="#3d3d3d"/>
<circle cx="1307.3" cy="816.0" r="3.3" fill="#3d3d3d"/>
<circle cx="1362.8" cy="920.1" r="3.3" fill="#3d3d3d"/>
<circle cx="1418.4" cy="954.7" r="3.3" fill="#3d3d3d"/>
<circle cx="1473.9" cy="967.3" r="3.3" fill="#3d3d3d"/>
<circle cx="1529.5" cy="971.7" r="3.3" fill="#3d3d3d"/>
<path d="M1251.7 774.1 L1307.3 790.2 L1362.8 867.2 L1418.4 909.4 L1473.9 934.6 L1529.5 952.0" fill="none" stroke="#d6282f" stroke-width="2.3" stroke-linejoin="round"/>
<circle cx="1251.7" cy="774.1" r="3.3" fill="#d6282f"/>
<circle cx="1307.3" cy="790.2" r="3.3" fill="#d6282f"/>
<circle cx="1362.8" cy="867.2" r="3.3" fill="#d6282f"/>
<circle cx="1418.4" cy="909.4" r="3.3" fill="#d6282f"/>
<circle cx="1473.9" cy="934.6" r="3.3" fill="#d6282f"/>
<circle cx="1529.5" cy="952.0" r="3.3" fill="#d6282f"/>
<path d="M1251.7 772.0 L1307.3 816.0 L1362.8 930.6 L1418.4 963.5 L1473.9 971.1 L1529.5 972.4" fill="none" stroke="#1f66d9" stroke-width="2.3" stroke-linejoin="round"/>
<circle cx="1251.7" cy="772.0" r="3.3" fill="#1f66d9"/>
<circle cx="1307.3" cy="816.0" r="3.3" fill="#1f66d9"/>
<circle cx="1362.8" cy="930.6" r="3.3" fill="#1f66d9"/>
<circle cx="1418.4" cy="963.5" r="3.3" fill="#1f66d9"/>
<circle cx="1473.9" cy="971.1" r="3.3" fill="#1f66d9"/>
<circle cx="1529.5" cy="972.4" r="3.3" fill="#1f66d9"/>
<text x="1554.5" y="795.7" font-size="24.5" text-anchor="end" fill="#3d3d3d">Control</text>
<text x="1554.5" y="825.5" font-size="24.5" text-anchor="end" fill="#d6282f">sgDNMT3A</text>
<text x="1554.5" y="855.3" font-size="24.5" text-anchor="end" fill="#1f66d9">sgDNMT3B</text>
<path d="M1362.8 863.7V872.5M1359.8 863.7H1365.8M1359.8 872.5H1365.8" stroke="#d6282f" stroke-width="1.8"/>
<path d="M1362.8 926.5V935M1359.8 926.5H1365.8M1359.8 935H1365.8" stroke="#1f66d9" stroke-width="1.8"/>
<text x="1616.5" y="709.2" font-size="31" font-weight="bold">e</text>
<text x="1877.4" y="741.8" font-size="28.9" text-anchor="middle">Base-edited cells</text>
<path d="M1719.6 763.6H2034.6V973.4H1710.6M1719.6 763.6V973.4" fill="none" stroke="#000" stroke-width="1.9"/>
<path d="M1711.6 763.6H1719.6M1711.6 816.0H1719.6M1711.6 868.5H1719.6M1711.6 921.0H1719.6" stroke="#000" stroke-width="1.9"/>
<text x="1707.1" y="772.2" font-size="24.5" text-anchor="end">100</text>
<text x="1707.1" y="824.6" font-size="24.5" text-anchor="end">75</text>
<text x="1707.1" y="877.1" font-size="24.5" text-anchor="end">50</text>
<text x="1707.1" y="929.6" font-size="24.5" text-anchor="end">25</text>
<text x="1707.1" y="982.0" font-size="24.5" text-anchor="end">0</text>
<line x1="1719.6" y1="973.4" x2="1719.6" y2="982.4" stroke="#000" stroke-width="1.9"/>
<text x="1719.6" y="1006.0" font-size="24.5" text-anchor="middle">0</text>
<line x1="1812.2" y1="973.4" x2="1812.2" y2="982.4" stroke="#000" stroke-width="1.9"/>
<text x="1812.2" y="1006.0" font-size="24.5" text-anchor="middle">5</text>
<line x1="1904.8" y1="973.4" x2="1904.8" y2="982.4" stroke="#000" stroke-width="1.9"/>
<text x="1904.8" y="1006.0" font-size="24.5" text-anchor="middle">10</text>
<line x1="1997.4" y1="973.4" x2="1997.4" y2="982.4" stroke="#000" stroke-width="1.9"/>
<text x="1997.4" y="1006.0" font-size="24.5" text-anchor="middle">15</text>
<text x="1876.6" y="1027.4" font-size="24.5" text-anchor="middle">Day</text>
<text x="1658.0" y="868.8" font-size="24.5" text-anchor="middle" transform="rotate(-90 1658.0 868.8)">% Citrine<tspan font-size="12" dy="-9">+</tspan></text>
<path d="M1719.6 768.6 L1775.2 817.1 L1830.7 912.1 L1886.3 949.3 L1941.8 966.3 L1997.4 972.4" fill="none" stroke="#3d3d3d" stroke-width="2.3" stroke-linejoin="round"/>
<circle cx="1719.6" cy="768.6" r="3.3" fill="#3d3d3d"/>
<circle cx="1775.2" cy="817.1" r="3.3" fill="#3d3d3d"/>
<circle cx="1830.7" cy="912.1" r="3.3" fill="#3d3d3d"/>
<circle cx="1886.3" cy="949.3" r="3.3" fill="#3d3d3d"/>
<circle cx="1941.8" cy="966.3" r="3.3" fill="#3d3d3d"/>
<circle cx="1997.4" cy="972.4" r="3.3" fill="#3d3d3d"/>
<path d="M1719.6 768.6 L1775.2 797.4 L1830.7 856.5 L1886.3 895.8 L1941.8 930.2 L1997.4 953.7" fill="none" stroke="#d6282f" stroke-width="2.3" stroke-linejoin="round"/>
<circle cx="1719.6" cy="768.6" r="3.3" fill="#d6282f"/>
<circle cx="1775.2" cy="797.4" r="3.3" fill="#d6282f"/>
<circle cx="1830.7" cy="856.5" r="3.3" fill="#d6282f"/>
<circle cx="1886.3" cy="895.8" r="3.3" fill="#d6282f"/>
<circle cx="1941.8" cy="930.2" r="3.3" fill="#d6282f"/>
<circle cx="1997.4" cy="953.7" r="3.3" fill="#d6282f"/>
<text x="2023.5" y="795.7" font-size="24.5" text-anchor="end" fill="#3d3d3d">Control</text>
<text x="2023.5" y="825.5" font-size="24.5" text-anchor="end" fill="#d6282f">sgW698</text>
<path d="M1426.4 1120.7l1.1-0.1 1-0.3 1.1-0.5 1-0.6 1.1-1.1 1-1.4 1-2 1.1-2.7 1-3.6 1.1-4.4 1-5.4 1.1-6.3 1-7 1.1-7.4 1-7.4 1.1-7.1 1-6.3 1.1-4.8 1-3.2 1.1-1.2 1 0.5 1.1 1.6 1 2.6 1.1 3.7 1 4.3 1.1 5 1 5.3 1 5.5 1.1 5.4 1 5.3 1.1 4.9 1 4.5 1.1 4 1 3.5 1.1 3 1 2.6 1.1 2.1 1 1.7 1.1 1.3 1 1.1 1.1 0.8 1 0.7 1.1 0.5 1 0.5 1.1 0.3 1 0.3 1.1 0.2 1 0.2 1 0.2 1.1 0.2 1 0.1 1.1 0.1 1 0.2 1.1 0.1 1 0.1 1.1 0.1 1 0.1 1.1 0 1 0.1 1.1 0.1 1 0V1121.0H1426.4Z" fill="#d6282f" fill-opacity="0.13" stroke="none"/>
<path d="M1426.4 1120.7l1.1-0.1 1-0.3 1.1-0.5 1-0.6 1.1-1.1 1-1.4 1-2 1.1-2.7 1-3.6 1.1-4.4 1-5.4 1.1-6.3 1-7 1.1-7.4 1-7.4 1.1-7.1 1-6.3 1.1-4.8 1-3.2 1.1-1.2 1 0.5 1.1 1.6 1 2.6 1.1 3.7 1 4.3 1.1 5 1 5.3 1 5.5 1.1 5.4 1 5.3 1.1 4.9 1 4.5 1.1 4 1 3.5 1.1 3 1 2.6 1.1 2.1 1 1.7 1.1 1.3 1 1.1 1.1 0.8 1 0.7 1.1 0.5 1 0.5 1.1 0.3 1 0.3 1.1 0.2 1 0.2 1 0.2 1.1 0.2 1 0.1 1.1 0.1 1 0.2 1.1 0.1 1 0.1 1.1 0.1 1 0.1 1.1 0 1 0.1 1.1 0.1 1 0" fill="none" stroke="#d6282f" stroke-width="2.1" stroke-linejoin="round"/>
<path d="M1426.4 1120.8l1.1-0.1 1-0.2 1.1-0.4 1-0.5 1.1-0.8 1-1.1 1-1.6 1.1-2.2 1-2.8 1.1-3.7 1-4.6 1.1-5.4 1-6.1 1.1-6.7 1-6.9 1.1-6.8 1-6.3 1.1-5.1 1-3.8 1.1-2 1-0.3 1.1 1 1 1.9 1.1 2.9 1 3.7 1.1 4.4 1 4.7 1 5 1.1 5.1 1 4.9 1.1 4.7 1 4.4 1.1 4 1 3.4 1.1 3.1 1 2.5 1.1 2.2 1 1.7 1.1 1.4 1 1.2 1.1 0.9 1 0.7 1.1 0.5 1 0.5 1.1 0.3 1 0.3 1.1 0.3 1 0.2 1 0.2 1.1 0.2 1 0.1 1.1 0.1 1 0.2 1.1 0.1 1 0.1 1.1 0.1 1 0.1 1.1 0 1 0.1 1.1 0.1 1 0V1121.0H1426.4Z" fill="#1f66d9" fill-opacity="0.13" stroke="none"/>
<path d="M1426.4 1120.8l1.1-0.1 1-0.2 1.1-0.4 1-0.5 1.1-0.8 1-1.1 1-1.6 1.1-2.2 1-2.8 1.1-3.7 1-4.6 1.1-5.4 1-6.1 1.1-6.7 1-6.9 1.1-6.8 1-6.3 1.1-5.1 1-3.8 1.1-2 1-0.3 1.1 1 1 1.9 1.1 2.9 1 3.7 1.1 4.4 1 4.7 1 5 1.1 5.1 1 4.9 1.1 4.7 1 4.4 1.1 4 1 3.4 1.1 3.1 1 2.5 1.1 2.2 1 1.7 1.1 1.4 1 1.2 1.1 0.9 1 0.7 1.1 0.5 1 0.5 1.1 0.3 1 0.3 1.1 0.3 1 0.2 1 0.2 1.1 0.2 1 0.1 1.1 0.1 1 0.2 1.1 0.1 1 0.1 1.1 0.1 1 0.1 1.1 0 1 0.1 1.1 0.1 1 0" fill="none" stroke="#1f66d9" stroke-width="2.1" stroke-linejoin="round"/>
<path d="M1426.4 1120.7l1.1-0.2 1-0.2 1.1-0.5 1-0.7 1.1-1.1 1-1.5 1-2.1 1.1-2.8 1-3.7 1.1-4.6 1-5.6 1.1-6.6 1-7.2 1.1-7.7 1-7.8 1.1-7.4 1-6.5 1.1-5.1 1-3.3 1.1-1.2 1 0.5 1.1 1.7 1 2.8 1.1 3.7 1 4.6 1.1 5.2 1 5.5 1 5.7 1.1 5.7 1 5.5 1.1 5.1 1 4.7 1.1 4.2 1 3.6 1.1 3.2 1 2.6 1.1 2.2 1 1.7 1.1 1.5 1 1.1 1.1 0.9 1 0.7 1.1 0.5 1 0.4 1.1 0.4 1 0.3 1.1 0.2 1 0.2 1 0.2 1.1 0.2 1 0.1 1.1 0.1 1 0.2 1.1 0.1 1 0.1 1.1 0.1 1 0.1 1.1 0 1 0.1 1.1 0.1 1 0V1121.0H1426.4Z" fill="#3d3d3d" fill-opacity="0.13" stroke="none"/>
<path d="M1426.4 1120.7l1.1-0.2 1-0.2 1.1-0.5 1-0.7 1.1-1.1 1-1.5 1-2.1 1.1-2.8 1-3.7 1.1-4.6 1-5.6 1.1-6.6 1-7.2 1.1-7.7 1-7.8 1.1-7.4 1-6.5 1.1-5.1 1-3.3 1.1-1.2 1 0.5 1.1 1.7 1 2.8 1.1 3.7 1 4.6 1.1 5.2 1 5.5 1 5.7 1.1 5.7 1 5.5 1.1 5.1 1 4.7 1.1 4.2 1 3.6 1.1 3.2 1 2.6 1.1 2.2 1 1.7 1.1 1.5 1 1.1 1.1 0.9 1 0.7 1.1 0.5 1 0.4 1.1 0.4 1 0.3 1.1 0.2 1 0.2 1 0.2 1.1 0.2 1 0.1 1.1 0.1 1 0.2 1.1 0.1 1 0.1 1.1 0.1 1 0.1 1.1 0 1 0.1 1.1 0.1 1 0" fill="none" stroke="#3d3d3d" stroke-width="2.1" stroke-linejoin="round"/>
<text x="1556.0" y="1066.6" font-size="24.5" text-anchor="end">Day 0</text>
<path d="M1379.3 1203.4l1-0.1 1.1 0 1-0.1 1.1 0 1-0.1 1.1-0.1 1-0.1 1 0 1.1-0.1 1-0.1 1.1-0.1 1-0.2 1.1-0.1 1-0.1 1.1-0.1 1-0.2 1.1-0.1 1-0.1 1.1-0.2 1-0.1 1.1-0.2 1-0.1 1.1-0.1 1-0.2 1.1-0.1 1-0.1 1.1-0.1 1-0.1 1-0.1 1.1 0 1-0.1 1.1 0 1-0.1 1.1 0 1 0 1.1 0.1 1 0 1.1 0.1 1 0 1.1 0.1 1 0 1.1 0 1 0 1.1-0.1 1-0.3 1.1-0.4 1-0.8 1.1-1.2 1-1.8 1.1-2.5 1-3.4 1-4.3 1.1-5.3 1-6.2 1.1-7 1-7.6 1.1-7.6 1-7.3 1.1-6.4 1-5 1.1-3.1 1-1.1 1.1 0.8 1 2 1.1 3.1 1 4.2 1.1 5 1 5.5 1.1 5.9 1 6 1.1 6 1 5.6 1 5.2 1.1 4.7 1 4.1 1.1 3.5 1 3 1.1 2.4 1 1.9 1.1 1.6 1 1.1 1.1 0.9 1 0.7 1.1 0.4 1 0.4 1.1 0.2 1 0.1V1203.6H1379.3Z" fill="#d6282f" fill-opacity="0.13" stroke="none"/>
<path d="M1379.3 1203.4l1-0.1 1.1 0 1-0.1 1.1 0 1-0.1 1.1-0.1 1-0.1 1 0 1.1-0.1 1-0.1 1.1-0.1 1-0.2 1.1-0.1 1-0.1 1.1-0.1 1-0.2 1.1-0.1 1-0.1 1.1-0.2 1-0.1 1.1-0.2 1-0.1 1.1-0.1 1-0.2 1.1-0.1 1-0.1 1.1-0.1 1-0.1 1-0.1 1.1 0 1-0.1 1.1 0 1-0.1 1.1 0 1 0 1.1 0.1 1 0 1.1 0.1 1 0 1.1 0.1 1 0 1.1 0 1 0 1.1-0.1 1-0.3 1.1-0.4 1-0.8 1.1-1.2 1-1.8 1.1-2.5 1-3.4 1-4.3 1.1-5.3 1-6.2 1.1-7 1-7.6 1.1-7.6 1-7.3 1.1-6.4 1-5 1.1-3.1 1-1.1 1.1 0.8 1 2 1.1 3.1 1 4.2 1.1 5 1 5.5 1.1 5.9 1 6 1.1 6 1 5.6 1 5.2 1.1 4.7 1 4.1 1.1 3.5 1 3 1.1 2.4 1 1.9 1.1 1.6 1 1.1 1.1 0.9 1 0.7 1.1 0.4 1 0.4 1.1 0.2 1 0.1" fill="none" stroke="#d6282f" stroke-width="2.1" stroke-linejoin="round"/>
<path d="M1369.8 1203.4l1.1-0.1 1-0.1 1.1 0 1-0.1 1.1-0.1 1-0.1 1.1-0.1 1-0.1 1.1-0.1 1-0.1 1.1-0.2 1-0.2 1.1-0.1 1-0.2 1.1-0.2 1-0.2 1-0.2 1.1-0.3 1-0.2 1.1-0.2 1-0.3 1.1-0.2 1-0.3 1.1-0.2 1-0.3 1.1-0.3 1-0.2 1.1-0.3 1-0.2 1.1-0.3 1-0.2 1.1-0.3 1-0.3 1.1-0.2 1-0.3 1.1-0.3 1-0.3 1-0.3 1.1-0.3 1-0.3 1.1-0.4 1-0.4 1.1-0.3 1-0.4 1.1-0.4 1-0.3 1.1-0.4 1-0.3 1.1-0.3 1-0.3 1.1-0.3 1-0.3 1.1-0.3 1-0.3 1.1-0.5 1-0.6 1.1-0.9 1-1.2 1.1-1.7 1-2 1-2.6 1.1-3.2 1-3.7 1.1-4.1 1-4.4 1.1-4.5 1-4.5 1.1-4 1-3.4 1.1-2.5 1-1.5 1.1-0.2 1 1 1.1 1.8 1 2.7 1.1 3.4 1 3.9 1.1 4.4 1 4.6 1.1 4.7 1 4.6 1 4.3 1.1 4 1 3.6 1.1 3.1 1 2.7 1.1 2.3 1 1.8 1.1 1.5 1 1.2 1.1 0.9 1 0.6 1.1 0.5 1 0.4 1.1 0.2 1 0.2 1.1 0.1V1203.6H1369.8Z" fill="#1f66d9" fill-opacity="0.13" stroke="none"/>
<path d="M1369.8 1203.4l1.1-0.1 1-0.1 1.1 0 1-0.1 1.1-0.1 1-0.1 1.1-0.1 1-0.1 1.1-0.1 1-0.1 1.1-0.2 1-0.2 1.1-0.1 1-0.2 1.1-0.2 1-0.2 1-0.2 1.1-0.3 1-0.2 1.1-0.2 1-0.3 1.1-0.2 1-0.3 1.1-0.2 1-0.3 1.1-0.3 1-0.2 1.1-0.3 1-0.2 1.1-0.3 1-0.2 1.1-0.3 1-0.3 1.1-0.2 1-0.3 1.1-0.3 1-0.3 1-0.3 1.1-0.3 1-0.3 1.1-0.4 1-0.4 1.1-0.3 1-0.4 1.1-0.4 1-0.3 1.1-0.4 1-0.3 1.1-0.3 1-0.3 1.1-0.3 1-0.3 1.1-0.3 1-0.3 1.1-0.5 1-0.6 1.1-0.9 1-1.2 1.1-1.7 1-2 1-2.6 1.1-3.2 1-3.7 1.1-4.1 1-4.4 1.1-4.5 1-4.5 1.1-4 1-3.4 1.1-2.5 1-1.5 1.1-0.2 1 1 1.1 1.8 1 2.7 1.1 3.4 1 3.9 1.1 4.4 1 4.6 1.1 4.7 1 4.6 1 4.3 1.1 4 1 3.6 1.1 3.1 1 2.7 1.1 2.3 1 1.8 1.1 1.5 1 1.2 1.1 0.9 1 0.6 1.1 0.5 1 0.4 1.1 0.2 1 0.2 1.1 0.1" fill="none" stroke="#1f66d9" stroke-width="2.1" stroke-linejoin="round"/>
<path d="M1367.7 1203.4l1.1-0.1 1 0 1.1-0.1 1-0.1 1.1 0 1-0.1 1.1-0.1 1-0.1 1.1-0.1 1-0.2 1.1-0.1 1-0.2 1.1-0.1 1-0.2 1.1-0.2 1-0.2 1.1-0.2 1-0.2 1-0.3 1.1-0.2 1-0.3 1.1-0.2 1-0.3 1.1-0.2 1-0.3 1.1-0.2 1-0.3 1.1-0.2 1-0.3 1.1-0.3 1-0.2 1.1-0.3 1-0.2 1.1-0.3 1-0.3 1.1-0.2 1-0.3 1.1-0.3 1-0.4 1-0.3 1.1-0.3 1-0.4 1.1-0.3 1-0.4 1.1-0.4 1-0.3 1.1-0.4 1-0.3 1.1-0.3 1-0.3 1.1-0.2 1-0.2 1.1-0.1 1-0.2 1.1-0.1 1-0.3 1.1-0.4 1-0.6 1.1-0.9 1-1.3 1.1-2 1-2.5 1-3.3 1.1-4 1-4.7 1.1-5.2 1-5.5 1.1-5.6 1-5.2 1.1-4.5 1-3.4 1.1-2 1-0.4 1.1 0.9 1 2 1.1 2.9 1 3.7 1.1 4.3 1 4.8 1.1 5.1 1 5.2 1.1 5 1 4.8 1 4.4 1.1 3.9 1 3.5 1.1 3 1 2.5 1.1 2 1 1.6 1.1 1.3 1 1 1.1 0.8 1 0.5 1.1 0.4 1 0.3 1.1 0.2 1 0.1V1203.6H1367.7Z" fill="#3d3d3d" fill-opacity="0.13" stroke="none"/>
<path d="M1367.7 1203.4l1.1-0.1 1 0 1.1-0.1 1-0.1 1.1 0 1-0.1 1.1-0.1 1-0.1 1.1-0.1 1-0.2 1.1-0.1 1-0.2 1.1-0.1 1-0.2 1.1-0.2 1-0.2 1.1-0.2 1-0.2 1-0.3 1.1-0.2 1-0.3 1.1-0.2 1-0.3 1.1-0.2 1-0.3 1.1-0.2 1-0.3 1.1-0.2 1-0.3 1.1-0.3 1-0.2 1.1-0.3 1-0.2 1.1-0.3 1-0.3 1.1-0.2 1-0.3 1.1-0.3 1-0.4 1-0.3 1.1-0.3 1-0.4 1.1-0.3 1-0.4 1.1-0.4 1-0.3 1.1-0.4 1-0.3 1.1-0.3 1-0.3 1.1-0.2 1-0.2 1.1-0.1 1-0.2 1.1-0.1 1-0.3 1.1-0.4 1-0.6 1.1-0.9 1-1.3 1.1-2 1-2.5 1-3.3 1.1-4 1-4.7 1.1-5.2 1-5.5 1.1-5.6 1-5.2 1.1-4.5 1-3.4 1.1-2 1-0.4 1.1 0.9 1 2 1.1 2.9 1 3.7 1.1 4.3 1 4.8 1.1 5.1 1 5.2 1.1 5 1 4.8 1 4.4 1.1 3.9 1 3.5 1.1 3 1 2.5 1.1 2 1 1.6 1.1 1.3 1 1 1.1 0.8 1 0.5 1.1 0.4 1 0.3 1.1 0.2 1 0.1" fill="none" stroke="#3d3d3d" stroke-width="2.1" stroke-linejoin="round"/>
<text x="1556.0" y="1149.2" font-size="24.5" text-anchor="end">Day 3</text>
<path d="M1329 1286l1 0 1.1-0.1 1-0.1 1.1 0 1-0.1 1.1-0.1 1-0.1 1.1-0.1 1-0.1 1.1-0.1 1-0.2 1.1-0.1 1-0.2 1-0.2 1.1-0.2 1-0.2 1.1-0.2 1-0.2 1.1-0.3 1-0.2 1.1-0.3 1-0.3 1.1-0.2 1-0.3 1.1-0.3 1-0.3 1.1-0.3 1-0.3 1.1-0.3 1-0.2 1.1-0.3 1-0.3 1.1-0.3 1-0.2 1-0.3 1.1-0.2 1-0.2 1.1-0.2 1-0.2 1.1-0.2 1-0.2 1.1-0.2 1-0.1 1.1-0.2 1-0.1 1.1-0.1 1-0.2 1.1-0.1 1-0.1 1.1-0.1 1-0.1 1.1-0.1 1-0.1 1.1-0.1 1-0.1 1-0.1 1.1 0 1-0.1 1.1-0.1 1-0.1 1.1 0 1-0.1 1.1 0 1-0.1 1.1 0 1-0.1 1.1 0 1-0.1 1.1 0 1-0.1 1.1-0.1 1 0 1.1-0.1 1-0.1 1.1-0.1 1-0.1 1-0.2 1.1-0.1 1-0.2 1.1-0.1 1-0.2 1.1-0.2 1-0.1 1.1-0.2 1-0.1 1.1-0.1 1 0 1.1-0.1 1-0.1 1.1-0.1 1-0.2 1.1-0.3 1-0.6 1.1-1 1-1.6 1.1-2.2 1-3.1 1.1-3.9 1-4.8 1-5.6 1.1-6.2 1-6.4 1.1-6.1 1-5.5 1.1-4.1 1-2.5 1.1-0.5 1 1.1 1.1 2.3 1 3.5 1.1 4.4 1 5.1 1.1 5.5 1 5.8 1.1 5.7 1 5.5 1.1 5.1 1 4.6 1.1 4 1 3.4 1 2.8 1.1 2.3 1 1.8 1.1 1.4 1 1.1 1.1 0.7 1 0.6 1.1 0.4 1 0.3 1.1 0.2 1 0.1V1286.3H1329.0Z" fill="#d6282f" fill-opacity="0.13" stroke="none"/>
<path d="M1329 1286l1 0 1.1-0.1 1-0.1 1.1 0 1-0.1 1.1-0.1 1-0.1 1.1-0.1 1-0.1 1.1-0.1 1-0.2 1.1-0.1 1-0.2 1-0.2 1.1-0.2 1-0.2 1.1-0.2 1-0.2 1.1-0.3 1-0.2 1.1-0.3 1-0.3 1.1-0.2 1-0.3 1.1-0.3 1-0.3 1.1-0.3 1-0.3 1.1-0.3 1-0.2 1.1-0.3 1-0.3 1.1-0.3 1-0.2 1-0.3 1.1-0.2 1-0.2 1.1-0.2 1-0.2 1.1-0.2 1-0.2 1.1-0.2 1-0.1 1.1-0.2 1-0.1 1.1-0.1 1-0.2 1.1-0.1 1-0.1 1.1-0.1 1-0.1 1.1-0.1 1-0.1 1.1-0.1 1-0.1 1-0.1 1.1 0 1-0.1 1.1-0.1 1-0.1 1.1 0 1-0.1 1.1 0 1-0.1 1.1 0 1-0.1 1.1 0 1-0.1 1.1 0 1-0.1 1.1-0.1 1 0 1.1-0.1 1-0.1 1.1-0.1 1-0.1 1-0.2 1.1-0.1 1-0.2 1.1-0.1 1-0.2 1.1-0.2 1-0.1 1.1-0.2 1-0.1 1.1-0.1 1 0 1.1-0.1 1-0.1 1.1-0.1 1-0.2 1.1-0.3 1-0.6 1.1-1 1-1.6 1.1-2.2 1-3.1 1.1-3.9 1-4.8 1-5.6 1.1-6.2 1-6.4 1.1-6.1 1-5.5 1.1-4.1 1-2.5 1.1-0.5 1 1.1 1.1 2.3 1 3.5 1.1 4.4 1 5.1 1.1 5.5 1 5.8 1.1 5.7 1 5.5 1.1 5.1 1 4.6 1.1 4 1 3.4 1 2.8 1.1 2.3 1 1.8 1.1 1.4 1 1.1 1.1 0.7 1 0.6 1.1 0.4 1 0.3 1.1 0.2 1 0.1" fill="none" stroke="#d6282f" stroke-width="2.1" stroke-linejoin="round"/>
<path d="M1341.6 1286l1-0.1 1 0 1.1-0.1 1-0.1 1.1-0.1 1-0.2 1.1-0.1 1-0.2 1.1-0.2 1-0.3 1.1-0.2 1-0.4 1.1-0.3 1-0.4 1.1-0.5 1-0.5 1.1-0.5 1-0.6 1.1-0.7 1-0.7 1.1-0.8 1-0.8 1-0.9 1.1-0.9 1-1 1.1-1.1 1-1 1.1-1.2 1-1.1 1.1-1.2 1-1.1 1.1-1.2 1-1.2 1.1-1.1 1-1.1 1.1-1.1 1-1 1.1-1 1-0.9 1.1-0.8 1-0.7 1.1-0.7 1-0.5 1-0.5 1.1-0.3 1-0.3 1.1-0.1 1-0.1 1.1 0 1 0 1.1 0.2 1 0.1 1.1 0.2 1 0.3 1.1 0.3 1 0.3 1.1 0.3 1 0.3 1.1 0.4 1 0.3 1.1 0.4 1 0.5 1.1 0.4 1 0.6 1 0.6 1.1 0.6 1 0.7 1.1 0.8 1 0.9 1.1 1 1 1 1.1 1.1 1 1.1 1.1 1.1 1 1.2 1.1 1.2 1 1.1 1.1 1 1 0.9 1.1 0.8 1 0.6 1.1 0.3 1 0.1 1.1-0.2 1-0.5 1.1-0.7 1-1 1-1.2 1.1-1.2 1-1.2 1.1-1 1-0.8 1.1-0.4 1-0.1 1.1 0.4 1 0.6 1.1 0.9 1 1.2 1.1 1.3 1 1.4 1.1 1.5 1 1.5 1.1 1.5 1 1.3 1.1 1.2 1 1 1.1 0.9 1 0.7 1 0.6 1.1 0.5 1 0.4 1.1 0.2 1 0.2 1.1 0.2V1286.3H1341.6Z" fill="#1f66d9" fill-opacity="0.13" stroke="none"/>
<path d="M1341.6 1286l1-0.1 1 0 1.1-0.1 1-0.1 1.1-0.1 1-0.2 1.1-0.1 1-0.2 1.1-0.2 1-0.3 1.1-0.2 1-0.4 1.1-0.3 1-0.4 1.1-0.5 1-0.5 1.1-0.5 1-0.6 1.1-0.7 1-0.7 1.1-0.8 1-0.8 1-0.9 1.1-0.9 1-1 1.1-1.1 1-1 1.1-1.2 1-1.1 1.1-1.2 1-1.1 1.1-1.2 1-1.2 1.1-1.1 1-1.1 1.1-1.1 1-1 1.1-1 1-0.9 1.1-0.8 1-0.7 1.1-0.7 1-0.5 1-0.5 1.1-0.3 1-0.3 1.1-0.1 1-0.1 1.1 0 1 0 1.1 0.2 1 0.1 1.1 0.2 1 0.3 1.1 0.3 1 0.3 1.1 0.3 1 0.3 1.1 0.4 1 0.3 1.1 0.4 1 0.5 1.1 0.4 1 0.6 1 0.6 1.1 0.6 1 0.7 1.1 0.8 1 0.9 1.1 1 1 1 1.1 1.1 1 1.1 1.1 1.1 1 1.2 1.1 1.2 1 1.1 1.1 1 1 0.9 1.1 0.8 1 0.6 1.1 0.3 1 0.1 1.1-0.2 1-0.5 1.1-0.7 1-1 1-1.2 1.1-1.2 1-1.2 1.1-1 1-0.8 1.1-0.4 1-0.1 1.1 0.4 1 0.6 1.1 0.9 1 1.2 1.1 1.3 1 1.4 1.1 1.5 1 1.5 1.1 1.5 1 1.3 1.1 1.2 1 1 1.1 0.9 1 0.7 1 0.6 1.1 0.5 1 0.4 1.1 0.2 1 0.2 1.1 0.2" fill="none" stroke="#1f66d9" stroke-width="2.1" stroke-linejoin="round"/>
<path d="M1341.6 1286l1-0.1 1 0 1.1-0.1 1-0.1 1.1-0.1 1-0.2 1.1-0.1 1-0.2 1.1-0.2 1-0.3 1.1-0.2 1-0.4 1.1-0.3 1-0.4 1.1-0.5 1-0.5 1.1-0.5 1-0.6 1.1-0.7 1-0.7 1.1-0.8 1-0.8 1-0.9 1.1-0.9 1-1 1.1-1.1 1-1 1.1-1.2 1-1.1 1.1-1.2 1-1.1 1.1-1.2 1-1.2 1.1-1.1 1-1.1 1.1-1.1 1-1 1.1-1 1-0.9 1.1-0.8 1-0.7 1.1-0.7 1-0.5 1-0.5 1.1-0.3 1-0.3 1.1-0.1 1-0.1 1.1 0 1 0 1.1 0.2 1 0.1 1.1 0.2 1 0.3 1.1 0.3 1 0.3 1.1 0.3 1 0.3 1.1 0.4 1 0.3 1.1 0.4 1 0.5 1.1 0.4 1 0.6 1 0.6 1.1 0.6 1 0.7 1.1 0.8 1 0.9 1.1 1 1 1 1.1 1 1 1.2 1.1 1.1 1 1.1 1.1 1.1 1 1.1 1.1 0.9 1 0.7 1.1 0.5 1 0.2 1.1-0.2 1-0.6 1.1-1 1-1.5 1.1-1.9 1-2.2 1-2.4 1.1-2.6 1-2.4 1.1-2.1 1-1.6 1.1-1 1-0.2 1.1 0.5 1 1 1.1 1.5 1 2 1.1 2.3 1 2.5 1.1 2.7 1 2.6 1.1 2.5 1 2.3 1.1 2.1 1 1.8 1.1 1.6 1 1.3 1 1 1.1 0.9 1 0.6 1.1 0.5 1 0.3 1.1 0.3 1 0.1 1.1 0.1V1286.3H1341.6Z" fill="#3d3d3d" fill-opacity="0.13" stroke="none"/>
<path d="M1341.6 1286l1-0.1 1 0 1.1-0.1 1-0.1 1.1-0.1 1-0.2 1.1-0.1 1-0.2 1.1-0.2 1-0.3 1.1-0.2 1-0.4 1.1-0.3 1-0.4 1.1-0.5 1-0.5 1.1-0.5 1-0.6 1.1-0.7 1-0.7 1.1-0.8 1-0.8 1-0.9 1.1-0.9 1-1 1.1-1.1 1-1 1.1-1.2 1-1.1 1.1-1.2 1-1.1 1.1-1.2 1-1.2 1.1-1.1 1-1.1 1.1-1.1 1-1 1.1-1 1-0.9 1.1-0.8 1-0.7 1.1-0.7 1-0.5 1-0.5 1.1-0.3 1-0.3 1.1-0.1 1-0.1 1.1 0 1 0 1.1 0.2 1 0.1 1.1 0.2 1 0.3 1.1 0.3 1 0.3 1.1 0.3 1 0.3 1.1 0.4 1 0.3 1.1 0.4 1 0.5 1.1 0.4 1 0.6 1 0.6 1.1 0.6 1 0.7 1.1 0.8 1 0.9 1.1 1 1 1 1.1 1 1 1.2 1.1 1.1 1 1.1 1.1 1.1 1 1.1 1.1 0.9 1 0.7 1.1 0.5 1 0.2 1.1-0.2 1-0.6 1.1-1 1-1.5 1.1-1.9 1-2.2 1-2.4 1.1-2.6 1-2.4 1.1-2.1 1-1.6 1.1-1 1-0.2 1.1 0.5 1 1 1.1 1.5 1 2 1.1 2.3 1 2.5 1.1 2.7 1 2.6 1.1 2.5 1 2.3 1.1 2.1 1 1.8 1.1 1.6 1 1.3 1 1 1.1 0.9 1 0.6 1.1 0.5 1 0.3 1.1 0.3 1 0.1 1.1 0.1" fill="none" stroke="#3d3d3d" stroke-width="2.1" stroke-linejoin="round"/>
<text x="1556.0" y="1231.8" font-size="24.5" text-anchor="end">Day 6</text>
<path d="M1335.3 1368.6l1-0.1 1.1-0.1 1-0.1 1.1-0.2 1-0.3 1.1-0.3 1-0.5 1-0.6 1.1-0.8 1-1 1.1-1.2 1-1.5 1.1-1.7 1-1.9 1.1-2 1-2.2 1.1-2.2 1-2.1 1.1-1.9 1-1.7 1.1-1.2 1-0.9 1.1-0.4 1-0.3 1.1-0.1 1-0.1 1.1 0.1 1 0.1 1 0.2 1.1 0.3 1 0.4 1.1 0.4 1 0.4 1.1 0.4 1 0.5 1.1 0.4 1 0.4 1.1 0.4 1 0.4 1.1 0.4 1 0.3 1.1 0.2 1 0.2 1.1 0.2 1 0.1 1.1 0.1 1 0.1 1.1 0 1 0 1-0.1 1.1 0 1-0.1 1.1-0.1 1-0.1 1.1-0.1 1-0.1 1.1-0.2 1-0.1 1.1-0.1 1-0.1 1.1 0 1-0.1 1.1 0 1 0 1.1 0 1 0 1.1 0.1 1 0.1 1.1 0.2 1 0.1 1 0.3 1.1 0.2 1 0.3 1.1 0.4 1 0.3 1.1 0.4 1 0.5 1.1 0.5 1 0.4 1.1 0.5 1 0.4 1.1 0.3 1 0.3 1.1 0 1-0.2 1.1-0.6 1-1.1 1.1-1.5 1-2.2 1.1-2.8 1-3.3 1.1-3.9 1-4.3 1-4.4 1.1-4.3 1-3.9 1.1-3.1 1-2.1 1.1-0.9 1 0.4 1.1 1.8 1 3 1.1 4 1 4.8 1.1 5.2 1 5.3 1.1 5.2 1 4.7 1.1 4.3 1 3.6 1.1 3 1 2.4 1.1 1.9 1 1.3 1 1 1.1 0.8 1 0.4 1.1 0.4 1 0.2 1.1 0.2 1 0V1368.9H1335.3Z" fill="#d6282f" fill-opacity="0.13" stroke="none"/>
<path d="M1335.3 1368.6l1-0.1 1.1-0.1 1-0.1 1.1-0.2 1-0.3 1.1-0.3 1-0.5 1-0.6 1.1-0.8 1-1 1.1-1.2 1-1.5 1.1-1.7 1-1.9 1.1-2 1-2.2 1.1-2.2 1-2.1 1.1-1.9 1-1.7 1.1-1.2 1-0.9 1.1-0.4 1-0.3 1.1-0.1 1-0.1 1.1 0.1 1 0.1 1 0.2 1.1 0.3 1 0.4 1.1 0.4 1 0.4 1.1 0.4 1 0.5 1.1 0.4 1 0.4 1.1 0.4 1 0.4 1.1 0.4 1 0.3 1.1 0.2 1 0.2 1.1 0.2 1 0.1 1.1 0.1 1 0.1 1.1 0 1 0 1-0.1 1.1 0 1-0.1 1.1-0.1 1-0.1 1.1-0.1 1-0.1 1.1-0.2 1-0.1 1.1-0.1 1-0.1 1.1 0 1-0.1 1.1 0 1 0 1.1 0 1 0 1.1 0.1 1 0.1 1.1 0.2 1 0.1 1 0.3 1.1 0.2 1 0.3 1.1 0.4 1 0.3 1.1 0.4 1 0.5 1.1 0.5 1 0.4 1.1 0.5 1 0.4 1.1 0.3 1 0.3 1.1 0 1-0.2 1.1-0.6 1-1.1 1.1-1.5 1-2.2 1.1-2.8 1-3.3 1.1-3.9 1-4.3 1-4.4 1.1-4.3 1-3.9 1.1-3.1 1-2.1 1.1-0.9 1 0.4 1.1 1.8 1 3 1.1 4 1 4.8 1.1 5.2 1 5.3 1.1 5.2 1 4.7 1.1 4.3 1 3.6 1.1 3 1 2.4 1.1 1.9 1 1.3 1 1 1.1 0.8 1 0.4 1.1 0.4 1 0.2 1.1 0.2 1 0" fill="none" stroke="#d6282f" stroke-width="2.1" stroke-linejoin="round"/>
<path d="M1332.1 1368.6l1.1-0.1 1-0.2 1.1-0.2 1-0.4 1.1-0.5 1-0.7 1.1-1 1-1.4 1.1-1.8 1-2.4 1-3.1 1.1-3.7 1-4.5 1.1-5.2 1-5.9 1.1-6.4 1-6.7 1.1-6.7 1-6.5 1.1-5.8 1-4.9 1.1-3.7 1-2.2 1.1-0.9 1-0.1 1.1 0.3 1 0.8 1.1 1.2 1 1.7 1.1 2 1 2.3 1 2.5 1.1 2.7 1 2.8 1.1 2.8 1 2.9 1.1 2.8 1 2.6 1.1 2.6 1 2.4 1.1 2.3 1 2.1 1.1 1.9 1 1.7 1.1 1.6 1 1.4 1.1 1.3 1 1.1 1.1 1.1 1 1 1.1 0.9 1 0.8 1 0.8 1.1 0.8 1 0.7 1.1 0.7 1 0.7 1.1 0.7 1 0.7 1.1 0.6 1 0.7 1.1 0.6 1 0.6 1.1 0.6 1 0.6 1.1 0.6 1 0.5 1.1 0.5 1 0.5 1.1 0.4 1 0.5 1.1 0.4 1 0.4 1 0.3 1.1 0.4 1 0.3 1.1 0.3 1 0.4 1.1 0.3 1 0.3 1.1 0.2 1 0.3 1.1 0.3 1 0.3 1.1 0.2 1 0.3 1.1 0.2 1 0.2 1.1 0.2 1 0.2 1.1 0.1 1 0.1 1.1 0.1 1 0.1 1.1 0 1 0 1 0 1.1 0 1 0 1.1 0.1 1 0.1 1.1 0.1 1 0.2 1.1 0.2 1 0.3 1.1 0.4 1 0.4 1.1 0.4 1 0.5 1.1 0.5 1 0.5 1.1 0.5 1 0.5 1.1 0.4 1 0.4 1.1 0.4 1 0.3 1 0.3 1.1 0.3 1 0.2 1.1 0.2 1 0.1 1.1 0.1 1 0.1 1.1 0.1 1 0.1V1368.9H1332.1Z" fill="#1f66d9" fill-opacity="0.13" stroke="none"/>
<path d="M1332.1 1368.6l1.1-0.1 1-0.2 1.1-0.2 1-0.4 1.1-0.5 1-0.7 1.1-1 1-1.4 1.1-1.8 1-2.4 1-3.1 1.1-3.7 1-4.5 1.1-5.2 1-5.9 1.1-6.4 1-6.7 1.1-6.7 1-6.5 1.1-5.8 1-4.9 1.1-3.7 1-2.2 1.1-0.9 1-0.1 1.1 0.3 1 0.8 1.1 1.2 1 1.7 1.1 2 1 2.3 1 2.5 1.1 2.7 1 2.8 1.1 2.8 1 2.9 1.1 2.8 1 2.6 1.1 2.6 1 2.4 1.1 2.3 1 2.1 1.1 1.9 1 1.7 1.1 1.6 1 1.4 1.1 1.3 1 1.1 1.1 1.1 1 1 1.1 0.9 1 0.8 1 0.8 1.1 0.8 1 0.7 1.1 0.7 1 0.7 1.1 0.7 1 0.7 1.1 0.6 1 0.7 1.1 0.6 1 0.6 1.1 0.6 1 0.6 1.1 0.6 1 0.5 1.1 0.5 1 0.5 1.1 0.4 1 0.5 1.1 0.4 1 0.4 1 0.3 1.1 0.4 1 0.3 1.1 0.3 1 0.4 1.1 0.3 1 0.3 1.1 0.2 1 0.3 1.1 0.3 1 0.3 1.1 0.2 1 0.3 1.1 0.2 1 0.2 1.1 0.2 1 0.2 1.1 0.1 1 0.1 1.1 0.1 1 0.1 1.1 0 1 0 1 0 1.1 0 1 0 1.1 0.1 1 0.1 1.1 0.1 1 0.2 1.1 0.2 1 0.3 1.1 0.4 1 0.4 1.1 0.4 1 0.5 1.1 0.5 1 0.5 1.1 0.5 1 0.5 1.1 0.4 1 0.4 1.1 0.4 1 0.3 1 0.3 1.1 0.3 1 0.2 1.1 0.2 1 0.1 1.1 0.1 1 0.1 1.1 0.1 1 0.1" fill="none" stroke="#1f66d9" stroke-width="2.1" stroke-linejoin="round"/>
<path d="M1333.2 1368.6l1-0.1 1.1-0.2 1-0.3 1.1-0.4 1-0.6 1.1-0.9 1-1.1 1.1-1.6 1-2 1-2.5 1.1-3.2 1-3.8 1.1-4.4 1-5 1.1-5.4 1-5.7 1.1-5.7 1-5.4 1.1-5 1-4.1 1.1-3.2 1-1.9 1.1-0.7 1-0.1 1.1 0.3 1 0.6 1.1 1.1 1 1.3 1.1 1.7 1 1.8 1 2.1 1.1 2.2 1 2.3 1.1 2.2 1 2.3 1.1 2.2 1 2.1 1.1 2 1 1.9 1.1 1.7 1 1.5 1.1 1.4 1 1.3 1.1 1.1 1 1 1.1 0.8 1 0.8 1.1 0.7 1 0.7 1.1 0.6 1 0.5 1 0.6 1.1 0.5 1 0.5 1.1 0.5 1 0.6 1.1 0.5 1 0.5 1.1 0.6 1 0.6 1.1 0.5 1 0.6 1.1 0.5 1 0.6 1.1 0.5 1 0.5 1.1 0.5 1 0.5 1.1 0.5 1 0.5 1.1 0.4 1 0.5 1 0.4 1.1 0.4 1 0.4 1.1 0.4 1 0.4 1.1 0.4 1 0.4 1.1 0.3 1 0.4 1.1 0.4 1 0.3 1.1 0.3 1 0.2 1.1 0.2 1 0.1 1.1 0 1-0.1 1.1-0.2 1-0.4 1.1-0.5 1-0.7 1.1-0.7 1-0.8 1-0.8 1.1-0.8 1-0.7 1.1-0.4 1-0.3 1.1 0 1 0.3 1.1 0.6 1 0.9 1.1 1.2 1 1.4 1.1 1.4 1 1.5 1.1 1.5 1 1.3 1.1 1.2 1 1 1.1 0.8 1 0.7 1.1 0.5 1 0.4 1 0.3 1.1 0.2 1 0.2 1.1 0.1V1368.9H1333.2Z" fill="#3d3d3d" fill-opacity="0.13" stroke="none"/>
<path d="M1333.2 1368.6l1-0.1 1.1-0.2 1-0.3 1.1-0.4 1-0.6 1.1-0.9 1-1.1 1.1-1.6 1-2 1-2.5 1.1-3.2 1-3.8 1.1-4.4 1-5 1.1-5.4 1-5.7 1.1-5.7 1-5.4 1.1-5 1-4.1 1.1-3.2 1-1.9 1.1-0.7 1-0.1 1.1 0.3 1 0.6 1.1 1.1 1 1.3 1.1 1.7 1 1.8 1 2.1 1.1 2.2 1 2.3 1.1 2.2 1 2.3 1.1 2.2 1 2.1 1.1 2 1 1.9 1.1 1.7 1 1.5 1.1 1.4 1 1.3 1.1 1.1 1 1 1.1 0.8 1 0.8 1.1 0.7 1 0.7 1.1 0.6 1 0.5 1 0.6 1.1 0.5 1 0.5 1.1 0.5 1 0.6 1.1 0.5 1 0.5 1.1 0.6 1 0.6 1.1 0.5 1 0.6 1.1 0.5 1 0.6 1.1 0.5 1 0.5 1.1 0.5 1 0.5 1.1 0.5 1 0.5 1.1 0.4 1 0.5 1 0.4 1.1 0.4 1 0.4 1.1 0.4 1 0.4 1.1 0.4 1 0.4 1.1 0.3 1 0.4 1.1 0.4 1 0.3 1.1 0.3 1 0.2 1.1 0.2 1 0.1 1.1 0 1-0.1 1.1-0.2 1-0.4 1.1-0.5 1-0.7 1.1-0.7 1-0.8 1-0.8 1.1-0.8 1-0.7 1.1-0.4 1-0.3 1.1 0 1 0.3 1.1 0.6 1 0.9 1.1 1.2 1 1.4 1.1 1.4 1 1.5 1.1 1.5 1 1.3 1.1 1.2 1 1 1.1 0.8 1 0.7 1.1 0.5 1 0.4 1 0.3 1.1 0.2 1 0.2 1.1 0.1" fill="none" stroke="#3d3d3d" stroke-width="2.1" stroke-linejoin="round"/>
<text x="1556.0" y="1314.5" font-size="24.5" text-anchor="end">Day 9</text>
<path d="M1329 1451.2l1-0.1 1.1-0.3 1-0.3 1.1-0.4 1-0.6 1.1-0.8 1-1 1.1-1.3 1-1.7 1.1-1.9 1-2.3 1.1-2.5 1-2.8 1-3 1.1-2.9 1-2.8 1.1-2.6 1-2.1 1.1-1.6 1-1 1.1-0.3 1-0.1 1.1 0.3 1 0.5 1.1 0.7 1 0.9 1.1 1.1 1 1.1 1.1 1.3 1 1.3 1.1 1.4 1 1.3 1.1 1.2 1 1.2 1 1.1 1.1 0.9 1 0.9 1.1 0.8 1 0.6 1.1 0.5 1 0.5 1.1 0.3 1 0.3 1.1 0.2 1 0.2 1.1 0.1 1 0.2 1.1 0.1 1 0.1 1.1 0.1 1 0.1 1.1 0.1 1 0.1 1.1 0.2 1 0.1 1 0.2 1.1 0.2 1 0.2 1.1 0.2 1 0.2 1.1 0.2 1 0.2 1.1 0.2 1 0.2 1.1 0.2 1 0.2 1.1 0.2 1 0.1 1.1 0.2 1 0.2 1.1 0.2 1 0.2 1.1 0.2 1 0.2 1.1 0.2 1 0.2 1 0.2 1.1 0.2 1 0.2 1.1 0.3 1 0.2 1.1 0.3 1 0.2 1.1 0.3 1 0.2 1.1 0.2 1 0.2 1.1 0.1 1 0.1 1.1-0.1 1-0.2 1.1-0.3 1-0.5 1.1-0.8 1-0.9 1.1-1.2 1-1.3 1.1-1.5 1-1.6 1-1.7 1.1-1.5 1-1.4 1.1-1 1-0.8 1.1-0.3 1 0.2 1.1 0.7 1 1.1 1.1 1.6 1 1.9 1.1 2 1 2.1 1.1 2 1 1.9 1.1 1.7 1 1.4 1.1 1.2 1 0.9 1.1 0.8 1 0.5 1 0.4 1.1 0.3 1 0.2 1.1 0.1V1451.5H1329.0Z" fill="#d6282f" fill-opacity="0.13" stroke="none"/>
<path d="M1329 1451.2l1-0.1 1.1-0.3 1-0.3 1.1-0.4 1-0.6 1.1-0.8 1-1 1.1-1.3 1-1.7 1.1-1.9 1-2.3 1.1-2.5 1-2.8 1-3 1.1-2.9 1-2.8 1.1-2.6 1-2.1 1.1-1.6 1-1 1.1-0.3 1-0.1 1.1 0.3 1 0.5 1.1 0.7 1 0.9 1.1 1.1 1 1.1 1.1 1.3 1 1.3 1.1 1.4 1 1.3 1.1 1.2 1 1.2 1 1.1 1.1 0.9 1 0.9 1.1 0.8 1 0.6 1.1 0.5 1 0.5 1.1 0.3 1 0.3 1.1 0.2 1 0.2 1.1 0.1 1 0.2 1.1 0.1 1 0.1 1.1 0.1 1 0.1 1.1 0.1 1 0.1 1.1 0.2 1 0.1 1 0.2 1.1 0.2 1 0.2 1.1 0.2 1 0.2 1.1 0.2 1 0.2 1.1 0.2 1 0.2 1.1 0.2 1 0.2 1.1 0.2 1 0.1 1.1 0.2 1 0.2 1.1 0.2 1 0.2 1.1 0.2 1 0.2 1.1 0.2 1 0.2 1 0.2 1.1 0.2 1 0.2 1.1 0.3 1 0.2 1.1 0.3 1 0.2 1.1 0.3 1 0.2 1.1 0.2 1 0.2 1.1 0.1 1 0.1 1.1-0.1 1-0.2 1.1-0.3 1-0.5 1.1-0.8 1-0.9 1.1-1.2 1-1.3 1.1-1.5 1-1.6 1-1.7 1.1-1.5 1-1.4 1.1-1 1-0.8 1.1-0.3 1 0.2 1.1 0.7 1 1.1 1.1 1.6 1 1.9 1.1 2 1 2.1 1.1 2 1 1.9 1.1 1.7 1 1.4 1.1 1.2 1 0.9 1.1 0.8 1 0.5 1 0.4 1.1 0.3 1 0.2 1.1 0.1" fill="none" stroke="#d6282f" stroke-width="2.1" stroke-linejoin="round"/>
<path d="M1327.9 1451.3l1.1-0.2 1-0.2 1.1-0.4 1-0.6 1.1-1 1-1.3 1.1-1.8 1-2.4 1.1-3.2 1-4.1 1.1-4.9 1-5.7 1.1-6.5 1-6.9 1-7.2 1.1-7 1-6.4 1.1-5.3 1-3.9 1.1-2.1 1-0.4 1.1 0.7 1 1.5 1.1 2.4 1 3 1.1 3.7 1 4 1.1 4.3 1 4.5 1.1 4.4 1 4.2 1.1 4.1 1 3.6 1.1 3.3 1 2.9 1 2.5 1.1 2.1 1 1.7 1.1 1.3 1 1.1 1.1 0.8 1 0.6 1.1 0.5 1 0.3 1.1 0.3 1 0.3 1.1 0.2 1 0.3 1.1 0.3 1 0.3 1.1 0.3 1 0.4 1.1 0.4 1 0.4 1.1 0.4 1 0.5 1 0.5 1.1 0.5 1 0.5 1.1 0.5 1 0.4 1.1 0.5 1 0.4 1.1 0.4 1 0.4 1.1 0.4 1 0.3 1.1 0.3 1 0.2 1.1 0.3 1 0.2 1.1 0.2 1 0.1 1.1 0.2 1 0.1 1.1 0.1 1 0.1 1 0.1 1.1 0.1 1 0 1.1 0.1 1 0.1 1.1 0 1 0.1 1.1 0.1 1 0 1.1 0.1 1 0 1.1 0.1 1 0 1.1 0.1 1 0 1.1 0 1 0 1.1-0.1 1 0 1.1-0.1 1 0 1.1-0.1 1-0.2 1-0.1 1.1-0.1 1-0.1 1.1-0.1 1 0 1.1 0 1 0 1.1 0 1 0.1 1.1 0.2 1 0.1 1.1 0.2 1 0.2 1.1 0.3 1 0.2 1.1 0.3 1 0.2 1.1 0.3 1 0.2 1.1 0.2 1 0.1 1 0.2 1.1 0.1 1 0.1 1.1 0.1 1 0.1 1.1 0V1451.5H1327.9Z" fill="#1f66d9" fill-opacity="0.13" stroke="none"/>
<path d="M1327.9 1451.3l1.1-0.2 1-0.2 1.1-0.4 1-0.6 1.1-1 1-1.3 1.1-1.8 1-2.4 1.1-3.2 1-4.1 1.1-4.9 1-5.7 1.1-6.5 1-6.9 1-7.2 1.1-7 1-6.4 1.1-5.3 1-3.9 1.1-2.1 1-0.4 1.1 0.7 1 1.5 1.1 2.4 1 3 1.1 3.7 1 4 1.1 4.3 1 4.5 1.1 4.4 1 4.2 1.1 4.1 1 3.6 1.1 3.3 1 2.9 1 2.5 1.1 2.1 1 1.7 1.1 1.3 1 1.1 1.1 0.8 1 0.6 1.1 0.5 1 0.3 1.1 0.3 1 0.3 1.1 0.2 1 0.3 1.1 0.3 1 0.3 1.1 0.3 1 0.4 1.1 0.4 1 0.4 1.1 0.4 1 0.5 1 0.5 1.1 0.5 1 0.5 1.1 0.5 1 0.4 1.1 0.5 1 0.4 1.1 0.4 1 0.4 1.1 0.4 1 0.3 1.1 0.3 1 0.2 1.1 0.3 1 0.2 1.1 0.2 1 0.1 1.1 0.2 1 0.1 1.1 0.1 1 0.1 1 0.1 1.1 0.1 1 0 1.1 0.1 1 0.1 1.1 0 1 0.1 1.1 0.1 1 0 1.1 0.1 1 0 1.1 0.1 1 0 1.1 0.1 1 0 1.1 0 1 0 1.1-0.1 1 0 1.1-0.1 1 0 1.1-0.1 1-0.2 1-0.1 1.1-0.1 1-0.1 1.1-0.1 1 0 1.1 0 1 0 1.1 0 1 0.1 1.1 0.2 1 0.1 1.1 0.2 1 0.2 1.1 0.3 1 0.2 1.1 0.3 1 0.2 1.1 0.3 1 0.2 1.1 0.2 1 0.1 1 0.2 1.1 0.1 1 0.1 1.1 0.1 1 0.1 1.1 0" fill="none" stroke="#1f66d9" stroke-width="2.1" stroke-linejoin="round"/>
<path d="M1327.9 1451.3l1.1-0.2 1-0.2 1.1-0.4 1-0.6 1.1-0.8 1-1.2 1.1-1.8 1-2.3 1.1-3 1-3.8 1.1-4.6 1-5.4 1.1-6.1 1-6.6 1-6.8 1.1-6.6 1-6 1.1-5 1-3.7 1.1-2 1-0.4 1.1 0.6 1 1.5 1.1 2.2 1 2.8 1.1 3.4 1 3.8 1.1 4 1 4.2 1.1 4.1 1 4 1.1 3.8 1 3.4 1.1 3.1 1 2.7 1 2.3 1.1 1.9 1 1.5 1.1 1.3 1 1 1.1 0.7 1 0.6 1.1 0.4 1 0.3 1.1 0.3 1 0.2 1.1 0.3 1 0.2 1.1 0.3 1 0.3 1.1 0.3 1 0.4 1.1 0.4 1 0.4 1.1 0.4 1 0.5 1 0.5 1.1 0.5 1 0.5 1.1 0.5 1 0.4 1.1 0.5 1 0.4 1.1 0.4 1 0.4 1.1 0.4 1 0.3 1.1 0.3 1 0.2 1.1 0.3 1 0.2 1.1 0.2 1 0.1 1.1 0.2 1 0.1 1.1 0.1 1 0.1 1 0.1 1.1 0.1 1 0 1.1 0.1 1 0.1 1.1 0 1 0.1 1.1 0.1 1 0 1.1 0.1 1 0 1.1 0.1 1 0 1.1 0.1 1 0 1.1 0 1 0 1.1-0.1 1 0 1.1-0.1 1 0 1.1-0.1 1-0.2 1-0.1 1.1-0.1 1-0.1 1.1-0.1 1 0 1.1 0 1 0 1.1 0 1 0.1 1.1 0.2 1 0.1 1.1 0.2 1 0.2 1.1 0.3 1 0.2 1.1 0.3 1 0.2 1.1 0.3 1 0.2 1.1 0.2 1 0.1 1 0.2 1.1 0.1 1 0.1 1.1 0.1 1 0.1 1.1 0V1451.5H1327.9Z" fill="#3d3d3d" fill-opacity="0.13" stroke="none"/>
<path d="M1327.9 1451.3l1.1-0.2 1-0.2 1.1-0.4 1-0.6 1.1-0.8 1-1.2 1.1-1.8 1-2.3 1.1-3 1-3.8 1.1-4.6 1-5.4 1.1-6.1 1-6.6 1-6.8 1.1-6.6 1-6 1.1-5 1-3.7 1.1-2 1-0.4 1.1 0.6 1 1.5 1.1 2.2 1 2.8 1.1 3.4 1 3.8 1.1 4 1 4.2 1.1 4.1 1 4 1.1 3.8 1 3.4 1.1 3.1 1 2.7 1 2.3 1.1 1.9 1 1.5 1.1 1.3 1 1 1.1 0.7 1 0.6 1.1 0.4 1 0.3 1.1 0.3 1 0.2 1.1 0.3 1 0.2 1.1 0.3 1 0.3 1.1 0.3 1 0.4 1.1 0.4 1 0.4 1.1 0.4 1 0.5 1 0.5 1.1 0.5 1 0.5 1.1 0.5 1 0.4 1.1 0.5 1 0.4 1.1 0.4 1 0.4 1.1 0.4 1 0.3 1.1 0.3 1 0.2 1.1 0.3 1 0.2 1.1 0.2 1 0.1 1.1 0.2 1 0.1 1.1 0.1 1 0.1 1 0.1 1.1 0.1 1 0 1.1 0.1 1 0.1 1.1 0 1 0.1 1.1 0.1 1 0 1.1 0.1 1 0 1.1 0.1 1 0 1.1 0.1 1 0 1.1 0 1 0 1.1-0.1 1 0 1.1-0.1 1 0 1.1-0.1 1-0.2 1-0.1 1.1-0.1 1-0.1 1.1-0.1 1 0 1.1 0 1 0 1.1 0 1 0.1 1.1 0.2 1 0.1 1.1 0.2 1 0.2 1.1 0.3 1 0.2 1.1 0.3 1 0.2 1.1 0.3 1 0.2 1.1 0.2 1 0.1 1 0.2 1.1 0.1 1 0.1 1.1 0.1 1 0.1 1.1 0" fill="none" stroke="#3d3d3d" stroke-width="2.1" stroke-linejoin="round"/>
<text x="1556.0" y="1397.1" font-size="24.5" text-anchor="end">Day 12</text>
<path d="M1330 1533.8l1.1-0.1 1-0.2 1.1-0.4 1-0.5 1.1-0.7 1-1 1.1-1.4 1-1.8 1.1-2.3 1-2.8 1.1-3.4 1-3.9 1-4.4 1.1-4.5 1-4.5 1.1-4.3 1-3.8 1.1-3 1-1.9 1.1-0.9 1 0.1 1.1 0.7 1 1.2 1.1 1.7 1 2.1 1.1 2.4 1 2.7 1.1 2.8 1 2.8 1.1 2.8 1 2.7 1.1 2.5 1 2.3 1 2 1.1 1.8 1 1.5 1.1 1.3 1 1.1 1.1 0.8 1 0.7 1.1 0.5 1 0.4 1.1 0.3 1 0.3 1.1 0.1 1 0.2 1.1 0.1 1 0.1 1.1 0.1 1 0.1 1.1 0.1 1 0.1 1.1 0.1 1 0.1 1 0.1 1.1 0.1 1 0.2 1.1 0.1 1 0.1 1.1 0.1 1 0.2 1.1 0.1 1 0.1 1.1 0.1 1 0.1 1.1 0.1 1 0.1 1.1 0.1 1 0.1 1.1 0.1 1 0.1 1.1 0.1 1 0.1 1.1 0.1 1 0.1 1 0 1.1 0.1 1 0.2 1.1 0.1 1 0.1 1.1 0.1 1 0.1 1.1 0.1 1 0.1 1.1 0.1 1 0.1 1.1 0.1 1 0 1.1 0 1-0.1 1.1-0.1 1-0.2 1.1-0.3 1-0.4 1.1-0.5 1-0.6 1.1-0.6 1-0.7 1-0.7 1.1-0.6 1-0.6 1.1-0.4 1-0.3 1.1-0.1 1 0.1 1.1 0.4 1 0.5 1.1 0.8 1 0.9 1.1 0.9 1 1 1.1 1 1 0.8 1.1 0.8 1 0.7 1.1 0.6 1 0.4 1.1 0.4 1 0.2 1 0.2 1.1 0.1 1 0.1V1534.1H1330.0Z" fill="#d6282f" fill-opacity="0.13" stroke="none"/>
<path d="M1330 1533.8l1.1-0.1 1-0.2 1.1-0.4 1-0.5 1.1-0.7 1-1 1.1-1.4 1-1.8 1.1-2.3 1-2.8 1.1-3.4 1-3.9 1-4.4 1.1-4.5 1-4.5 1.1-4.3 1-3.8 1.1-3 1-1.9 1.1-0.9 1 0.1 1.1 0.7 1 1.2 1.1 1.7 1 2.1 1.1 2.4 1 2.7 1.1 2.8 1 2.8 1.1 2.8 1 2.7 1.1 2.5 1 2.3 1 2 1.1 1.8 1 1.5 1.1 1.3 1 1.1 1.1 0.8 1 0.7 1.1 0.5 1 0.4 1.1 0.3 1 0.3 1.1 0.1 1 0.2 1.1 0.1 1 0.1 1.1 0.1 1 0.1 1.1 0.1 1 0.1 1.1 0.1 1 0.1 1 0.1 1.1 0.1 1 0.2 1.1 0.1 1 0.1 1.1 0.1 1 0.2 1.1 0.1 1 0.1 1.1 0.1 1 0.1 1.1 0.1 1 0.1 1.1 0.1 1 0.1 1.1 0.1 1 0.1 1.1 0.1 1 0.1 1.1 0.1 1 0.1 1 0 1.1 0.1 1 0.2 1.1 0.1 1 0.1 1.1 0.1 1 0.1 1.1 0.1 1 0.1 1.1 0.1 1 0.1 1.1 0.1 1 0 1.1 0 1-0.1 1.1-0.1 1-0.2 1.1-0.3 1-0.4 1.1-0.5 1-0.6 1.1-0.6 1-0.7 1-0.7 1.1-0.6 1-0.6 1.1-0.4 1-0.3 1.1-0.1 1 0.1 1.1 0.4 1 0.5 1.1 0.8 1 0.9 1.1 0.9 1 1 1.1 1 1 0.8 1.1 0.8 1 0.7 1.1 0.6 1 0.4 1.1 0.4 1 0.2 1 0.2 1.1 0.1 1 0.1" fill="none" stroke="#d6282f" stroke-width="2.1" stroke-linejoin="round"/>
<path d="M1329 1533.9l1-0.1 1.1-0.2 1-0.4 1.1-0.5 1-0.8 1.1-1.1 1-1.6 1.1-2.2 1-2.8 1.1-3.5 1-4.2 1.1-5 1-5.6 1-6.1 1.1-6.2 1-6.1 1.1-5.5 1-4.6 1.1-3.3 1-1.8 1.1-0.3 1 0.8 1.1 1.7 1 2.4 1.1 3.2 1 3.7 1.1 4 1 4.3 1.1 4.4 1 4.3 1.1 4.1 1 3.9 1.1 3.5 1 3.1 1 2.6 1.1 2.3 1 1.9 1.1 1.6 1 1.3 1.1 1 1 0.7 1.1 0.7 1 0.5 1.1 0.4 1 0.3 1.1 0.3 1 0.3 1.1 0.2 1 0.2 1.1 0.3 1 0.2 1.1 0.3 1 0.2 1.1 0.3 1 0.2 1 0.2 1.1 0.3 1 0.2 1.1 0.2 1 0.2 1.1 0.2 1 0.2 1.1 0.2 1 0.2 1.1 0.1 1 0.1 1.1 0.1 1 0.1 1.1 0.1 1 0.1 1.1 0.1 1 0V1534.1H1329.0Z" fill="#1f66d9" fill-opacity="0.13" stroke="none"/>
<path d="M1329 1533.9l1-0.1 1.1-0.2 1-0.4 1.1-0.5 1-0.8 1.1-1.1 1-1.6 1.1-2.2 1-2.8 1.1-3.5 1-4.2 1.1-5 1-5.6 1-6.1 1.1-6.2 1-6.1 1.1-5.5 1-4.6 1.1-3.3 1-1.8 1.1-0.3 1 0.8 1.1 1.7 1 2.4 1.1 3.2 1 3.7 1.1 4 1 4.3 1.1 4.4 1 4.3 1.1 4.1 1 3.9 1.1 3.5 1 3.1 1 2.6 1.1 2.3 1 1.9 1.1 1.6 1 1.3 1.1 1 1 0.7 1.1 0.7 1 0.5 1.1 0.4 1 0.3 1.1 0.3 1 0.3 1.1 0.2 1 0.2 1.1 0.3 1 0.2 1.1 0.3 1 0.2 1.1 0.3 1 0.2 1 0.2 1.1 0.3 1 0.2 1.1 0.2 1 0.2 1.1 0.2 1 0.2 1.1 0.2 1 0.2 1.1 0.1 1 0.1 1.1 0.1 1 0.1 1.1 0.1 1 0.1 1.1 0.1 1 0" fill="none" stroke="#1f66d9" stroke-width="2.1" stroke-linejoin="round"/>
<path d="M1329 1533.9l1-0.2 1.1-0.2 1-0.4 1.1-0.6 1-1 1.1-1.3 1-1.8 1.1-2.5 1-3.2 1.1-4.1 1-5 1.1-5.8 1-6.5 1-7.1 1.1-7.2 1-7 1.1-6.4 1-5.4 1.1-3.8 1-2.1 1.1-0.3 1 1 1.1 1.9 1 2.9 1.1 3.7 1 4.4 1.1 4.7 1 5.1 1.1 5.1 1 5.1 1.1 4.8 1 4.5 1.1 4.1 1 3.6 1 3.2 1.1 2.7 1 2.2 1.1 1.9 1 1.5 1.1 1.1 1 1 1.1 0.7 1 0.6 1.1 0.4 1 0.4 1.1 0.3 1 0.3 1.1 0.3 1 0.2 1.1 0.3 1 0.2 1.1 0.3 1 0.2 1.1 0.3 1 0.2 1 0.2 1.1 0.3 1 0.2 1.1 0.2 1 0.2 1.1 0.2 1 0.2 1.1 0.2 1 0.2 1.1 0.1 1 0.1 1.1 0.1 1 0.1 1.1 0.1 1 0.1 1.1 0.1 1 0V1534.1H1329.0Z" fill="#3d3d3d" fill-opacity="0.13" stroke="none"/>
<path d="M1329 1533.9l1-0.2 1.1-0.2 1-0.4 1.1-0.6 1-1 1.1-1.3 1-1.8 1.1-2.5 1-3.2 1.1-4.1 1-5 1.1-5.8 1-6.5 1-7.1 1.1-7.2 1-7 1.1-6.4 1-5.4 1.1-3.8 1-2.1 1.1-0.3 1 1 1.1 1.9 1 2.9 1.1 3.7 1 4.4 1.1 4.7 1 5.1 1.1 5.1 1 5.1 1.1 4.8 1 4.5 1.1 4.1 1 3.6 1 3.2 1.1 2.7 1 2.2 1.1 1.9 1 1.5 1.1 1.1 1 1 1.1 0.7 1 0.6 1.1 0.4 1 0.4 1.1 0.3 1 0.3 1.1 0.3 1 0.2 1.1 0.3 1 0.2 1.1 0.3 1 0.2 1.1 0.3 1 0.2 1 0.2 1.1 0.3 1 0.2 1.1 0.2 1 0.2 1.1 0.2 1 0.2 1.1 0.2 1 0.2 1.1 0.1 1 0.1 1.1 0.1 1 0.1 1.1 0.1 1 0.1 1.1 0.1 1 0" fill="none" stroke="#3d3d3d" stroke-width="2.1" stroke-linejoin="round"/>
<text x="1556.0" y="1479.7" font-size="24.5" text-anchor="end">Day 15</text>
<path d="M1252.5 1038.4H1566.8V1534.1H1252.5ZM1252.5 1121.0H1566.8M1252.5 1203.6H1566.8M1252.5 1286.3H1566.8M1252.5 1368.9H1566.8M1252.5 1451.5H1566.8" fill="none" stroke="#000" stroke-width="1.9"/>
<line x1="1252.5" y1="1534.1" x2="1252.5" y2="1543.1" stroke="#000" stroke-width="1.9"/>
<text x="1251.5" y="1568.8" font-size="24.5" text-anchor="middle">10<tspan font-size="15" dy="-10">2</tspan></text>
<line x1="1304.9" y1="1534.1" x2="1304.9" y2="1543.1" stroke="#000" stroke-width="1.9"/>
<text x="1303.9" y="1568.8" font-size="24.5" text-anchor="middle">10<tspan font-size="15" dy="-10">3</tspan></text>
<line x1="1357.3" y1="1534.1" x2="1357.3" y2="1543.1" stroke="#000" stroke-width="1.9"/>
<text x="1356.3" y="1568.8" font-size="24.5" text-anchor="middle">10<tspan font-size="15" dy="-10">4</tspan></text>
<line x1="1409.7" y1="1534.1" x2="1409.7" y2="1543.1" stroke="#000" stroke-width="1.9"/>
<text x="1408.7" y="1568.8" font-size="24.5" text-anchor="middle">10<tspan font-size="15" dy="-10">5</tspan></text>
<line x1="1462.0" y1="1534.1" x2="1462.0" y2="1543.1" stroke="#000" stroke-width="1.9"/>
<text x="1461.0" y="1568.8" font-size="24.5" text-anchor="middle">10<tspan font-size="15" dy="-10">6</tspan></text>
<line x1="1514.4" y1="1534.1" x2="1514.4" y2="1543.1" stroke="#000" stroke-width="1.9"/>
<text x="1513.4" y="1568.8" font-size="24.5" text-anchor="middle">10<tspan font-size="15" dy="-10">7</tspan></text>
<line x1="1566.8" y1="1534.1" x2="1566.8" y2="1543.1" stroke="#000" stroke-width="1.9"/>
<text x="1565.8" y="1568.8" font-size="24.5" text-anchor="middle">10<tspan font-size="15" dy="-10">8</tspan></text>
<text x="1409.5" y="1595.8" font-size="24.5" text-anchor="middle">Citrine fluorescence</text>
<path d="M1896.4 1120.7l1.1-0.1 1-0.3 1.1-0.5 1-0.7 1-1 1.1-1.4 1-2.1 1.1-2.7 1-3.6 1.1-4.5 1-5.4 1.1-6.3 1-7 1.1-7.5 1-7.5 1.1-7.1 1-6.3 1.1-4.9 1-3.2 1.1-1.2 1 0.5 1.1 1.6 1 2.7 1.1 3.6 1 4.4 1 5 1.1 5.4 1 5.5 1.1 5.5 1 5.3 1.1 4.9 1 4.5 1.1 4.1 1 3.5 1.1 3.1 1 2.5 1.1 2.1 1 1.7 1.1 1.4 1 1.1 1.1 0.8 1 0.7 1.1 0.5 1 0.4 1.1 0.4 1 0.3 1 0.2 1.1 0.2 1 0.2 1.1 0.2 1 0.1 1.1 0.1 1 0.2 1.1 0.1 1 0.1 1.1 0.1 1 0.1 1.1 0 1 0.1 1.1 0.1 1 0V1121.0H1896.4Z" fill="#d6282f" fill-opacity="0.13" stroke="none"/>
<path d="M1896.4 1120.7l1.1-0.1 1-0.3 1.1-0.5 1-0.7 1-1 1.1-1.4 1-2.1 1.1-2.7 1-3.6 1.1-4.5 1-5.4 1.1-6.3 1-7 1.1-7.5 1-7.5 1.1-7.1 1-6.3 1.1-4.9 1-3.2 1.1-1.2 1 0.5 1.1 1.6 1 2.7 1.1 3.6 1 4.4 1 5 1.1 5.4 1 5.5 1.1 5.5 1 5.3 1.1 4.9 1 4.5 1.1 4.1 1 3.5 1.1 3.1 1 2.5 1.1 2.1 1 1.7 1.1 1.4 1 1.1 1.1 0.8 1 0.7 1.1 0.5 1 0.4 1.1 0.4 1 0.3 1 0.2 1.1 0.2 1 0.2 1.1 0.2 1 0.1 1.1 0.1 1 0.2 1.1 0.1 1 0.1 1.1 0.1 1 0.1 1.1 0 1 0.1 1.1 0.1 1 0" fill="none" stroke="#d6282f" stroke-width="2.1" stroke-linejoin="round"/>
<path d="M1896.4 1120.7l1.1-0.2 1-0.2 1.1-0.5 1-0.7 1-1 1.1-1.5 1-2.1 1.1-2.9 1-3.6 1.1-4.6 1-5.6 1.1-6.5 1-7.2 1.1-7.6 1-7.8 1.1-7.3 1-6.5 1.1-5 1-3.3 1.1-1.2 1 0.5 1.1 1.7 1 2.7 1.1 3.8 1 4.5 1 5.1 1.1 5.5 1 5.7 1.1 5.6 1 5.5 1.1 5.1 1 4.6 1.1 4.2 1 3.6 1.1 3.2 1 2.6 1.1 2.1 1 1.8 1.1 1.4 1 1.1 1.1 0.9 1 0.7 1.1 0.5 1 0.4 1.1 0.4 1 0.3 1 0.2 1.1 0.2 1 0.2 1.1 0.2 1 0.1 1.1 0.1 1 0.2 1.1 0.1 1 0.1 1.1 0.1 1 0.1 1.1 0 1 0.1 1.1 0.1 1 0V1121.0H1896.4Z" fill="#3d3d3d" fill-opacity="0.13" stroke="none"/>
<path d="M1896.4 1120.7l1.1-0.2 1-0.2 1.1-0.5 1-0.7 1-1 1.1-1.5 1-2.1 1.1-2.9 1-3.6 1.1-4.6 1-5.6 1.1-6.5 1-7.2 1.1-7.6 1-7.8 1.1-7.3 1-6.5 1.1-5 1-3.3 1.1-1.2 1 0.5 1.1 1.7 1 2.7 1.1 3.8 1 4.5 1 5.1 1.1 5.5 1 5.7 1.1 5.6 1 5.5 1.1 5.1 1 4.6 1.1 4.2 1 3.6 1.1 3.2 1 2.6 1.1 2.1 1 1.8 1.1 1.4 1 1.1 1.1 0.9 1 0.7 1.1 0.5 1 0.4 1.1 0.4 1 0.3 1 0.2 1.1 0.2 1 0.2 1.1 0.2 1 0.1 1.1 0.1 1 0.2 1.1 0.1 1 0.1 1.1 0.1 1 0.1 1.1 0 1 0.1 1.1 0.1 1 0" fill="none" stroke="#3d3d3d" stroke-width="2.1" stroke-linejoin="round"/>
<text x="2024.5" y="1066.6" font-size="24.5" text-anchor="end">Day 0</text>
<path d="M1850.3 1203.3l1.1 0 1-0.1 1.1-0.1 1 0 1-0.1 1.1-0.2 1-0.1 1.1-0.1 1-0.1 1.1-0.2 1-0.2 1.1-0.1 1-0.2 1.1-0.2 1-0.2 1.1-0.2 1-0.2 1.1-0.2 1-0.2 1.1-0.1 1-0.2 1.1-0.2 1-0.1 1.1-0.1 1-0.1 1.1-0.1 1 0 1-0.1 1.1 0 1 0.1 1.1 0 1 0.1 1.1 0.1 1 0.1 1.1 0.1 1 0.1 1.1 0.1 1 0 1.1-0.1 1-0.2 1.1-0.5 1-0.9 1.1-1.4 1-2.1 1.1-2.9 1-3.8 1.1-5 1-5.9 1-6.9 1.1-7.6 1-7.8 1.1-7.5 1-6.7 1.1-5.3 1-3.3 1.1-1.1 1 0.8 1.1 2.2 1 3.5 1.1 4.5 1 5.4 1.1 6 1 6.2 1.1 6.2 1 6 1.1 5.5 1 5.1 1.1 4.3 1 3.8 1 3.1 1.1 2.5 1 1.9 1.1 1.6 1 1.1 1.1 0.8 1 0.6 1.1 0.4 1 0.3 1.1 0.2 1 0.1V1203.6H1850.3Z" fill="#d6282f" fill-opacity="0.13" stroke="none"/>
<path d="M1850.3 1203.3l1.1 0 1-0.1 1.1-0.1 1 0 1-0.1 1.1-0.2 1-0.1 1.1-0.1 1-0.1 1.1-0.2 1-0.2 1.1-0.1 1-0.2 1.1-0.2 1-0.2 1.1-0.2 1-0.2 1.1-0.2 1-0.2 1.1-0.1 1-0.2 1.1-0.2 1-0.1 1.1-0.1 1-0.1 1.1-0.1 1 0 1-0.1 1.1 0 1 0.1 1.1 0 1 0.1 1.1 0.1 1 0.1 1.1 0.1 1 0.1 1.1 0.1 1 0 1.1-0.1 1-0.2 1.1-0.5 1-0.9 1.1-1.4 1-2.1 1.1-2.9 1-3.8 1.1-5 1-5.9 1-6.9 1.1-7.6 1-7.8 1.1-7.5 1-6.7 1.1-5.3 1-3.3 1.1-1.1 1 0.8 1.1 2.2 1 3.5 1.1 4.5 1 5.4 1.1 6 1 6.2 1.1 6.2 1 6 1.1 5.5 1 5.1 1.1 4.3 1 3.8 1 3.1 1.1 2.5 1 1.9 1.1 1.6 1 1.1 1.1 0.8 1 0.6 1.1 0.4 1 0.3 1.1 0.2 1 0.1" fill="none" stroke="#d6282f" stroke-width="2.1" stroke-linejoin="round"/>
<path d="M1831.5 1203.4l1-0.1 1 0 1.1-0.1 1-0.1 1.1-0.1 1-0.1 1.1-0.1 1-0.2 1.1-0.1 1-0.2 1.1-0.2 1-0.2 1.1-0.2 1-0.3 1.1-0.2 1-0.3 1.1-0.3 1-0.3 1.1-0.3 1-0.4 1.1-0.3 1-0.3 1-0.4 1.1-0.3 1-0.4 1.1-0.3 1-0.4 1.1-0.3 1-0.3 1.1-0.3 1-0.3 1.1-0.3 1-0.2 1.1-0.3 1-0.2 1.1-0.2 1-0.2 1.1-0.1 1-0.1 1.1-0.1 1 0 1.1-0.1 1 0.1 1.1 0 1 0.1 1 0.1 1.1 0.1 1 0.1 1.1 0.2 1 0.2 1.1 0.2 1 0.2 1.1 0.3 1 0.1 1.1 0.2 1 0.1 1.1-0.1 1-0.3 1.1-0.5 1-0.9 1.1-1.4 1-2 1.1-2.6 1-3.3 1.1-4.1 1-4.7 1-5.2 1.1-5.5 1-5.6 1.1-5.2 1-4.5 1.1-3.4 1-2.1 1.1-0.7 1 0.7 1.1 1.7 1 2.6 1.1 3.3 1 4 1.1 4.5 1 4.7 1.1 4.7 1 4.7 1.1 4.4 1 4.2 1.1 3.7 1 3.2 1 2.8 1.1 2.3 1 2 1.1 1.5 1 1.2 1.1 0.9 1 0.7 1.1 0.5 1 0.4 1.1 0.3 1 0.2 1.1 0.1V1203.6H1831.5Z" fill="#3d3d3d" fill-opacity="0.13" stroke="none"/>
<path d="M1831.5 1203.4l1-0.1 1 0 1.1-0.1 1-0.1 1.1-0.1 1-0.1 1.1-0.1 1-0.2 1.1-0.1 1-0.2 1.1-0.2 1-0.2 1.1-0.2 1-0.3 1.1-0.2 1-0.3 1.1-0.3 1-0.3 1.1-0.3 1-0.4 1.1-0.3 1-0.3 1-0.4 1.1-0.3 1-0.4 1.1-0.3 1-0.4 1.1-0.3 1-0.3 1.1-0.3 1-0.3 1.1-0.3 1-0.2 1.1-0.3 1-0.2 1.1-0.2 1-0.2 1.1-0.1 1-0.1 1.1-0.1 1 0 1.1-0.1 1 0.1 1.1 0 1 0.1 1 0.1 1.1 0.1 1 0.1 1.1 0.2 1 0.2 1.1 0.2 1 0.2 1.1 0.3 1 0.1 1.1 0.2 1 0.1 1.1-0.1 1-0.3 1.1-0.5 1-0.9 1.1-1.4 1-2 1.1-2.6 1-3.3 1.1-4.1 1-4.7 1-5.2 1.1-5.5 1-5.6 1.1-5.2 1-4.5 1.1-3.4 1-2.1 1.1-0.7 1 0.7 1.1 1.7 1 2.6 1.1 3.3 1 4 1.1 4.5 1 4.7 1.1 4.7 1 4.7 1.1 4.4 1 4.2 1.1 3.7 1 3.2 1 2.8 1.1 2.3 1 2 1.1 1.5 1 1.2 1.1 0.9 1 0.7 1.1 0.5 1 0.4 1.1 0.3 1 0.2 1.1 0.1" fill="none" stroke="#3d3d3d" stroke-width="2.1" stroke-linejoin="round"/>
<text x="2024.5" y="1149.2" font-size="24.5" text-anchor="end">Day 3</text>
<path d="M1792.7 1286l1-0.1 1.1 0 1-0.1 1.1-0.1 1-0.1 1.1-0.1 1-0.1 1.1-0.1 1-0.1 1.1-0.1 1-0.2 1.1-0.2 1-0.1 1.1-0.2 1-0.2 1.1-0.2 1-0.2 1-0.3 1.1-0.2 1-0.3 1.1-0.2 1-0.3 1.1-0.2 1-0.3 1.1-0.3 1-0.2 1.1-0.3 1-0.3 1.1-0.2 1-0.3 1.1-0.2 1-0.3 1.1-0.2 1-0.2 1.1-0.2 1-0.2 1.1-0.2 1-0.2 1-0.1 1.1-0.2 1-0.1 1.1-0.2 1-0.1 1.1-0.1 1-0.1 1.1-0.1 1-0.1 1.1-0.1 1-0.1 1.1-0.1 1-0.1 1.1-0.1 1-0.1 1.1-0.2 1-0.1 1.1-0.1 1-0.1 1.1-0.1 1-0.1 1-0.1 1.1-0.1 1-0.1 1.1-0.1 1-0.1 1.1-0.1 1-0.2 1.1-0.1 1-0.1 1.1-0.1 1-0.2 1.1-0.2 1-0.1 1.1-0.2 1-0.2 1.1-0.2 1-0.3 1.1-0.2 1-0.3 1.1-0.2 1-0.3 1.1-0.3 1-0.2 1-0.2 1.1-0.2 1-0.2 1.1-0.1 1-0.1 1.1 0 1 0 1.1 0 1 0 1.1-0.2 1-0.3 1.1-0.7 1-1.1 1.1-1.8 1-2.5 1.1-3.3 1-4.3 1.1-5.1 1-5.9 1.1-6.2 1-6.3 1-5.8 1.1-4.8 1-3.4 1.1-1.5 1 0.4 1.1 1.8 1 2.9 1.1 3.9 1 4.8 1.1 5.3 1 5.7 1.1 5.8 1 5.6 1.1 5.3 1 4.8 1.1 4.3 1 3.7 1.1 3.2 1 2.5 1.1 2.1 1 1.5 1 1.3 1.1 0.9 1 0.6 1.1 0.5 1 0.3 1.1 0.3 1 0.1 1.1 0.1V1286.3H1792.7Z" fill="#d6282f" fill-opacity="0.13" stroke="none"/>
<path d="M1792.7 1286l1-0.1 1.1 0 1-0.1 1.1-0.1 1-0.1 1.1-0.1 1-0.1 1.1-0.1 1-0.1 1.1-0.1 1-0.2 1.1-0.2 1-0.1 1.1-0.2 1-0.2 1.1-0.2 1-0.2 1-0.3 1.1-0.2 1-0.3 1.1-0.2 1-0.3 1.1-0.2 1-0.3 1.1-0.3 1-0.2 1.1-0.3 1-0.3 1.1-0.2 1-0.3 1.1-0.2 1-0.3 1.1-0.2 1-0.2 1.1-0.2 1-0.2 1.1-0.2 1-0.2 1-0.1 1.1-0.2 1-0.1 1.1-0.2 1-0.1 1.1-0.1 1-0.1 1.1-0.1 1-0.1 1.1-0.1 1-0.1 1.1-0.1 1-0.1 1.1-0.1 1-0.1 1.1-0.2 1-0.1 1.1-0.1 1-0.1 1.1-0.1 1-0.1 1-0.1 1.1-0.1 1-0.1 1.1-0.1 1-0.1 1.1-0.1 1-0.2 1.1-0.1 1-0.1 1.1-0.1 1-0.2 1.1-0.2 1-0.1 1.1-0.2 1-0.2 1.1-0.2 1-0.3 1.1-0.2 1-0.3 1.1-0.2 1-0.3 1.1-0.3 1-0.2 1-0.2 1.1-0.2 1-0.2 1.1-0.1 1-0.1 1.1 0 1 0 1.1 0 1 0 1.1-0.2 1-0.3 1.1-0.7 1-1.1 1.1-1.8 1-2.5 1.1-3.3 1-4.3 1.1-5.1 1-5.9 1.1-6.2 1-6.3 1-5.8 1.1-4.8 1-3.4 1.1-1.5 1 0.4 1.1 1.8 1 2.9 1.1 3.9 1 4.8 1.1 5.3 1 5.7 1.1 5.8 1 5.6 1.1 5.3 1 4.8 1.1 4.3 1 3.7 1.1 3.2 1 2.5 1.1 2.1 1 1.5 1 1.3 1.1 0.9 1 0.6 1.1 0.5 1 0.3 1.1 0.3 1 0.1 1.1 0.1" fill="none" stroke="#d6282f" stroke-width="2.1" stroke-linejoin="round"/>
<path d="M1805.3 1286l1-0.1 1.1-0.1 1 0 1.1-0.1 1-0.1 1-0.2 1.1-0.1 1-0.2 1.1-0.2 1-0.2 1.1-0.2 1-0.3 1.1-0.3 1-0.4 1.1-0.3 1-0.5 1.1-0.4 1-0.5 1.1-0.6 1-0.6 1.1-0.6 1-0.7 1.1-0.7 1-0.8 1.1-0.8 1-0.8 1-0.9 1.1-1 1-0.9 1.1-1 1-0.9 1.1-1 1-1 1.1-1 1-1 1.1-0.9 1-1 1.1-0.9 1-0.8 1.1-0.8 1-0.8 1.1-0.6 1-0.6 1.1-0.6 1-0.5 1.1-0.4 1-0.3 1-0.2 1.1-0.2 1-0.2 1.1-0.1 1 0 1.1 0 1 0 1.1 0 1 0.1 1.1 0 1 0.1 1.1 0.1 1 0.1 1.1 0.1 1 0.1 1.1 0.1 1 0.1 1.1 0.2 1 0.1 1.1 0.2 1 0.1 1.1 0.2 1 0.3 1 0.3 1.1 0.3 1 0.4 1.1 0.4 1 0.4 1.1 0.5 1 0.5 1.1 0.5 1 0.5 1.1 0.4 1 0.3 1.1 0.1 1 0 1.1-0.4 1-0.6 1.1-1 1-1.3 1.1-1.5 1-1.9 1.1-1.9 1-2 1-1.9 1.1-1.7 1-1.2 1.1-0.7 1 0 1.1 0.7 1 1.2 1.1 1.8 1 2.3 1.1 2.6 1 2.9 1.1 3.1 1 3.1 1.1 2.9 1 2.8 1.1 2.6 1 2.2 1.1 2 1 1.6 1.1 1.3 1 1.1 1 0.8 1.1 0.7 1 0.4 1.1 0.4 1 0.2 1.1 0.2 1 0.1V1286.3H1805.3Z" fill="#3d3d3d" fill-opacity="0.13" stroke="none"/>
<path d="M1805.3 1286l1-0.1 1.1-0.1 1 0 1.1-0.1 1-0.1 1-0.2 1.1-0.1 1-0.2 1.1-0.2 1-0.2 1.1-0.2 1-0.3 1.1-0.3 1-0.4 1.1-0.3 1-0.5 1.1-0.4 1-0.5 1.1-0.6 1-0.6 1.1-0.6 1-0.7 1.1-0.7 1-0.8 1.1-0.8 1-0.8 1-0.9 1.1-1 1-0.9 1.1-1 1-0.9 1.1-1 1-1 1.1-1 1-1 1.1-0.9 1-1 1.1-0.9 1-0.8 1.1-0.8 1-0.8 1.1-0.6 1-0.6 1.1-0.6 1-0.5 1.1-0.4 1-0.3 1-0.2 1.1-0.2 1-0.2 1.1-0.1 1 0 1.1 0 1 0 1.1 0 1 0.1 1.1 0 1 0.1 1.1 0.1 1 0.1 1.1 0.1 1 0.1 1.1 0.1 1 0.1 1.1 0.2 1 0.1 1.1 0.2 1 0.1 1.1 0.2 1 0.3 1 0.3 1.1 0.3 1 0.4 1.1 0.4 1 0.4 1.1 0.5 1 0.5 1.1 0.5 1 0.5 1.1 0.4 1 0.3 1.1 0.1 1 0 1.1-0.4 1-0.6 1.1-1 1-1.3 1.1-1.5 1-1.9 1.1-1.9 1-2 1-1.9 1.1-1.7 1-1.2 1.1-0.7 1 0 1.1 0.7 1 1.2 1.1 1.8 1 2.3 1.1 2.6 1 2.9 1.1 3.1 1 3.1 1.1 2.9 1 2.8 1.1 2.6 1 2.2 1.1 2 1 1.6 1.1 1.3 1 1.1 1 0.8 1.1 0.7 1 0.4 1.1 0.4 1 0.2 1.1 0.2 1 0.1" fill="none" stroke="#3d3d3d" stroke-width="2.1" stroke-linejoin="round"/>
<text x="2024.5" y="1231.8" font-size="24.5" text-anchor="end">Day 6</text>
<path d="M1800 1368.6l1.1-0.1 1-0.1 1.1-0.1 1-0.3 1.1-0.3 1-0.4 1.1-0.5 1-0.8 1.1-0.9 1-1.1 1-1.4 1.1-1.6 1-1.9 1.1-2 1-2.2 1.1-2.3 1-2.2 1.1-2.1 1-1.9 1.1-1.5 1-1.1 1.1-0.6 1-0.2 1.1-0.2 1-0.1 1.1 0.1 1 0.1 1.1 0.2 1 0.4 1.1 0.3 1 0.5 1 0.4 1.1 0.5 1 0.5 1.1 0.6 1 0.5 1.1 0.5 1 0.4 1.1 0.4 1 0.4 1.1 0.4 1 0.3 1.1 0.2 1 0.2 1.1 0.2 1 0.1 1.1 0.1 1 0 1.1 0 1 0 1.1-0.1 1 0 1-0.1 1.1-0.1 1-0.1 1.1-0.1 1-0.1 1.1-0.1 1-0.1 1.1-0.1 1-0.1 1.1-0.1 1-0.1 1.1-0.1 1-0.1 1.1 0 1-0.1 1.1 0 1 0.1 1.1 0 1 0.1 1.1 0.1 1 0.1 1.1 0.2 1 0.2 1 0.2 1.1 0.3 1 0.3 1.1 0.3 1 0.4 1.1 0.3 1 0.3 1.1 0.3 1 0.1 1.1-0.1 1-0.3 1.1-0.7 1-1.2 1.1-1.6 1-2.3 1.1-2.9 1-3.5 1.1-4.1 1-4.4 1.1-4.6 1-4.4 1-4 1.1-3.2 1-2.2 1.1-0.8 1 0.5 1.1 1.9 1 3.2 1.1 4.3 1 5 1.1 5.4 1 5.6 1.1 5.4 1 5.1 1.1 4.4 1 3.8 1.1 3.2 1 2.5 1.1 2 1 1.5 1.1 1 1 0.8 1 0.6 1.1 0.3 1 0.3 1.1 0.1 1 0.2 1.1 0V1368.9H1800.0Z" fill="#d6282f" fill-opacity="0.13" stroke="none"/>
<path d="M1800 1368.6l1.1-0.1 1-0.1 1.1-0.1 1-0.3 1.1-0.3 1-0.4 1.1-0.5 1-0.8 1.1-0.9 1-1.1 1-1.4 1.1-1.6 1-1.9 1.1-2 1-2.2 1.1-2.3 1-2.2 1.1-2.1 1-1.9 1.1-1.5 1-1.1 1.1-0.6 1-0.2 1.1-0.2 1-0.1 1.1 0.1 1 0.1 1.1 0.2 1 0.4 1.1 0.3 1 0.5 1 0.4 1.1 0.5 1 0.5 1.1 0.6 1 0.5 1.1 0.5 1 0.4 1.1 0.4 1 0.4 1.1 0.4 1 0.3 1.1 0.2 1 0.2 1.1 0.2 1 0.1 1.1 0.1 1 0 1.1 0 1 0 1.1-0.1 1 0 1-0.1 1.1-0.1 1-0.1 1.1-0.1 1-0.1 1.1-0.1 1-0.1 1.1-0.1 1-0.1 1.1-0.1 1-0.1 1.1-0.1 1-0.1 1.1 0 1-0.1 1.1 0 1 0.1 1.1 0 1 0.1 1.1 0.1 1 0.1 1.1 0.2 1 0.2 1 0.2 1.1 0.3 1 0.3 1.1 0.3 1 0.4 1.1 0.3 1 0.3 1.1 0.3 1 0.1 1.1-0.1 1-0.3 1.1-0.7 1-1.2 1.1-1.6 1-2.3 1.1-2.9 1-3.5 1.1-4.1 1-4.4 1.1-4.6 1-4.4 1-4 1.1-3.2 1-2.2 1.1-0.8 1 0.5 1.1 1.9 1 3.2 1.1 4.3 1 5 1.1 5.4 1 5.6 1.1 5.4 1 5.1 1.1 4.4 1 3.8 1.1 3.2 1 2.5 1.1 2 1 1.5 1.1 1 1 0.8 1 0.6 1.1 0.3 1 0.3 1.1 0.1 1 0.2 1.1 0" fill="none" stroke="#d6282f" stroke-width="2.1" stroke-linejoin="round"/>
<path d="M1797.9 1368.7l1.1-0.1 1-0.2 1.1-0.3 1-0.3 1.1-0.6 1-0.8 1.1-1.2 1-1.5 1.1-2.1 1-2.7 1.1-3.3 1-4.1 1-4.9 1.1-5.5 1-6.2 1.1-6.5 1-6.8 1.1-6.6 1-6.1 1.1-5.3 1-4.2 1.1-2.8 1-1.2 1.1-0.2 1 0.4 1.1 0.8 1 1.4 1.1 1.7 1 2.2 1.1 2.4 1 2.7 1.1 2.9 1 3 1 3 1.1 3.1 1 2.9 1.1 2.8 1 2.7 1.1 2.5 1 2.2 1.1 2.1 1 1.8 1.1 1.6 1 1.4 1.1 1.2 1 1 1.1 0.9 1 0.7 1.1 0.6 1 0.5 1.1 0.4 1 0.4 1.1 0.4 1 0.3 1 0.4 1.1 0.3 1 0.3 1.1 0.4 1 0.4 1.1 0.4 1 0.4 1.1 0.5 1 0.5 1.1 0.5 1 0.5 1.1 0.5 1 0.6 1.1 0.5 1 0.6 1.1 0.5 1 0.6 1.1 0.5 1 0.6 1.1 0.6 1 0.5 1.1 0.6 1 0.5 1 0.6 1.1 0.5 1 0.5 1.1 0.5 1 0.5 1.1 0.5 1 0.4 1.1 0.4 1 0.3 1.1 0.2 1 0.1 1.1-0.1 1-0.1 1.1-0.4 1-0.5 1.1-0.7 1-0.8 1.1-1 1-1 1.1-1.1 1-1 1-0.9 1.1-0.7 1-0.4 1.1-0.1 1 0.2 1.1 0.5 1 0.9 1.1 1.1 1 1.3 1.1 1.5 1 1.5 1.1 1.4 1 1.5 1.1 1.3 1 1.1 1.1 1 1 0.8 1.1 0.7 1 0.5 1.1 0.4 1 0.3 1 0.3 1.1 0.1 1 0.1V1368.9H1797.9Z" fill="#3d3d3d" fill-opacity="0.13" stroke="none"/>
<path d="M1797.9 1368.7l1.1-0.1 1-0.2 1.1-0.3 1-0.3 1.1-0.6 1-0.8 1.1-1.2 1-1.5 1.1-2.1 1-2.7 1.1-3.3 1-4.1 1-4.9 1.1-5.5 1-6.2 1.1-6.5 1-6.8 1.1-6.6 1-6.1 1.1-5.3 1-4.2 1.1-2.8 1-1.2 1.1-0.2 1 0.4 1.1 0.8 1 1.4 1.1 1.7 1 2.2 1.1 2.4 1 2.7 1.1 2.9 1 3 1 3 1.1 3.1 1 2.9 1.1 2.8 1 2.7 1.1 2.5 1 2.2 1.1 2.1 1 1.8 1.1 1.6 1 1.4 1.1 1.2 1 1 1.1 0.9 1 0.7 1.1 0.6 1 0.5 1.1 0.4 1 0.4 1.1 0.4 1 0.3 1 0.4 1.1 0.3 1 0.3 1.1 0.4 1 0.4 1.1 0.4 1 0.4 1.1 0.5 1 0.5 1.1 0.5 1 0.5 1.1 0.5 1 0.6 1.1 0.5 1 0.6 1.1 0.5 1 0.6 1.1 0.5 1 0.6 1.1 0.6 1 0.5 1.1 0.6 1 0.5 1 0.6 1.1 0.5 1 0.5 1.1 0.5 1 0.5 1.1 0.5 1 0.4 1.1 0.4 1 0.3 1.1 0.2 1 0.1 1.1-0.1 1-0.1 1.1-0.4 1-0.5 1.1-0.7 1-0.8 1.1-1 1-1 1.1-1.1 1-1 1-0.9 1.1-0.7 1-0.4 1.1-0.1 1 0.2 1.1 0.5 1 0.9 1.1 1.1 1 1.3 1.1 1.5 1 1.5 1.1 1.4 1 1.5 1.1 1.3 1 1.1 1.1 1 1 0.8 1.1 0.7 1 0.5 1.1 0.4 1 0.3 1 0.3 1.1 0.1 1 0.1" fill="none" stroke="#3d3d3d" stroke-width="2.1" stroke-linejoin="round"/>
<text x="2024.5" y="1314.5" font-size="24.5" text-anchor="end">Day 9</text>
<path d="M1795.8 1451.3l1.1-0.2 1-0.2 1.1-0.3 1-0.4 1.1-0.5 1-0.8 1.1-1 1-1.3 1.1-1.7 1-2 1.1-2.3 1-2.8 1.1-3 1-3.2 1-3.3 1.1-3.2 1-3 1.1-2.7 1-2 1.1-1.4 1-0.7 1.1-0.1 1 0.2 1.1 0.5 1 0.8 1.1 1 1 1.3 1.1 1.3 1 1.5 1.1 1.6 1 1.6 1.1 1.6 1 1.6 1.1 1.5 1 1.4 1 1.2 1.1 1.2 1 1 1.1 0.8 1 0.8 1.1 0.6 1 0.5 1.1 0.4 1 0.3 1.1 0.3 1 0.2 1.1 0.1 1 0.2 1.1 0.1 1 0.1 1.1 0.1 1 0 1.1 0.1 1 0.2 1.1 0.1 1 0.1 1 0.1 1.1 0.2 1 0.1 1.1 0.2 1 0.1 1.1 0.2 1 0.2 1.1 0.1 1 0.2 1.1 0.2 1 0.1 1.1 0.2 1 0.1 1.1 0.2 1 0.1 1.1 0.2 1 0.1 1.1 0.2 1 0.2 1.1 0.1 1 0.2 1.1 0.2 1 0.2 1 0.2 1.1 0.2 1 0.1 1.1 0.2 1 0.1 1.1 0 1 0 1.1-0.1 1-0.3 1.1-0.4 1-0.6 1.1-0.9 1-1 1.1-1.2 1-1.4 1.1-1.6 1-1.5 1.1-1.6 1-1.4 1.1-1.1 1-0.9 1-0.4 1.1-0.1 1 0.5 1.1 1 1 1.5 1.1 1.8 1 2 1.1 2.1 1 2.1 1.1 2.1 1 1.8 1.1 1.6 1 1.3 1.1 1.1 1 0.9 1.1 0.6 1 0.5 1.1 0.3 1 0.3 1.1 0.1 1 0.2V1451.5H1795.8Z" fill="#d6282f" fill-opacity="0.13" stroke="none"/>
<path d="M1795.8 1451.3l1.1-0.2 1-0.2 1.1-0.3 1-0.4 1.1-0.5 1-0.8 1.1-1 1-1.3 1.1-1.7 1-2 1.1-2.3 1-2.8 1.1-3 1-3.2 1-3.3 1.1-3.2 1-3 1.1-2.7 1-2 1.1-1.4 1-0.7 1.1-0.1 1 0.2 1.1 0.5 1 0.8 1.1 1 1 1.3 1.1 1.3 1 1.5 1.1 1.6 1 1.6 1.1 1.6 1 1.6 1.1 1.5 1 1.4 1 1.2 1.1 1.2 1 1 1.1 0.8 1 0.8 1.1 0.6 1 0.5 1.1 0.4 1 0.3 1.1 0.3 1 0.2 1.1 0.1 1 0.2 1.1 0.1 1 0.1 1.1 0.1 1 0 1.1 0.1 1 0.2 1.1 0.1 1 0.1 1 0.1 1.1 0.2 1 0.1 1.1 0.2 1 0.1 1.1 0.2 1 0.2 1.1 0.1 1 0.2 1.1 0.2 1 0.1 1.1 0.2 1 0.1 1.1 0.2 1 0.1 1.1 0.2 1 0.1 1.1 0.2 1 0.2 1.1 0.1 1 0.2 1.1 0.2 1 0.2 1 0.2 1.1 0.2 1 0.1 1.1 0.2 1 0.1 1.1 0 1 0 1.1-0.1 1-0.3 1.1-0.4 1-0.6 1.1-0.9 1-1 1.1-1.2 1-1.4 1.1-1.6 1-1.5 1.1-1.6 1-1.4 1.1-1.1 1-0.9 1-0.4 1.1-0.1 1 0.5 1.1 1 1 1.5 1.1 1.8 1 2 1.1 2.1 1 2.1 1.1 2.1 1 1.8 1.1 1.6 1 1.3 1.1 1.1 1 0.9 1.1 0.6 1 0.5 1.1 0.3 1 0.3 1.1 0.1 1 0.2" fill="none" stroke="#d6282f" stroke-width="2.1" stroke-linejoin="round"/>
<path d="M1794.8 1451.3l1-0.1 1.1-0.2 1-0.3 1.1-0.6 1-0.7 1.1-1.2 1-1.6 1.1-2.1 1-2.9 1.1-3.8 1-4.6 1.1-5.5 1-6.3 1.1-6.9 1-7.4 1-7.3 1.1-6.9 1-6.1 1.1-4.8 1-3.1 1.1-1.3 1 0.2 1.1 1.2 1 2 1.1 2.8 1 3.5 1.1 4 1 4.4 1.1 4.6 1 4.6 1.1 4.6 1 4.3 1.1 4.1 1 3.7 1.1 3.4 1 2.9 1 2.5 1.1 2.1 1 1.7 1.1 1.4 1 1.2 1.1 0.9 1 0.7 1.1 0.6 1 0.5 1.1 0.4 1 0.4 1.1 0.3 1 0.4 1.1 0.3 1 0.4 1.1 0.4 1 0.3 1.1 0.4 1 0.4 1.1 0.4 1 0.4 1 0.4 1.1 0.4 1 0.4 1.1 0.3 1 0.4 1.1 0.3 1 0.3 1.1 0.2 1 0.2 1.1 0.3 1 0.1 1.1 0.2 1 0.1 1.1 0.2 1 0.1 1.1 0.1 1 0 1.1 0.1 1 0.1 1.1 0 1 0.1 1.1 0 1 0 1 0.1 1.1 0 1 0 1.1 0.1 1 0 1.1 0 1 0 1.1 0 1 0 1.1 0 1-0.1 1.1 0 1-0.1 1.1-0.1 1-0.1 1.1-0.1 1-0.1 1.1-0.1 1-0.1 1.1-0.1 1 0 1-0.1 1.1 0.1 1 0 1.1 0.1 1 0.2 1.1 0.2 1 0.2 1.1 0.2 1 0.3 1.1 0.2 1 0.3 1.1 0.3 1 0.2 1.1 0.3 1 0.2 1.1 0.1 1 0.2 1.1 0.2 1 0.1 1.1 0.1 1 0.1 1 0 1.1 0.1 1 0V1451.5H1794.8Z" fill="#3d3d3d" fill-opacity="0.13" stroke="none"/>
<path d="M1794.8 1451.3l1-0.1 1.1-0.2 1-0.3 1.1-0.6 1-0.7 1.1-1.2 1-1.6 1.1-2.1 1-2.9 1.1-3.8 1-4.6 1.1-5.5 1-6.3 1.1-6.9 1-7.4 1-7.3 1.1-6.9 1-6.1 1.1-4.8 1-3.1 1.1-1.3 1 0.2 1.1 1.2 1 2 1.1 2.8 1 3.5 1.1 4 1 4.4 1.1 4.6 1 4.6 1.1 4.6 1 4.3 1.1 4.1 1 3.7 1.1 3.4 1 2.9 1 2.5 1.1 2.1 1 1.7 1.1 1.4 1 1.2 1.1 0.9 1 0.7 1.1 0.6 1 0.5 1.1 0.4 1 0.4 1.1 0.3 1 0.4 1.1 0.3 1 0.4 1.1 0.4 1 0.3 1.1 0.4 1 0.4 1.1 0.4 1 0.4 1 0.4 1.1 0.4 1 0.4 1.1 0.3 1 0.4 1.1 0.3 1 0.3 1.1 0.2 1 0.2 1.1 0.3 1 0.1 1.1 0.2 1 0.1 1.1 0.2 1 0.1 1.1 0.1 1 0 1.1 0.1 1 0.1 1.1 0 1 0.1 1.1 0 1 0 1 0.1 1.1 0 1 0 1.1 0.1 1 0 1.1 0 1 0 1.1 0 1 0 1.1 0 1-0.1 1.1 0 1-0.1 1.1-0.1 1-0.1 1.1-0.1 1-0.1 1.1-0.1 1-0.1 1.1-0.1 1 0 1-0.1 1.1 0.1 1 0 1.1 0.1 1 0.2 1.1 0.2 1 0.2 1.1 0.2 1 0.3 1.1 0.2 1 0.3 1.1 0.3 1 0.2 1.1 0.3 1 0.2 1.1 0.1 1 0.2 1.1 0.2 1 0.1 1.1 0.1 1 0.1 1 0 1.1 0.1 1 0" fill="none" stroke="#3d3d3d" stroke-width="2.1" stroke-linejoin="round"/>
<text x="2024.5" y="1397.1" font-size="24.5" text-anchor="end">Day 12</text>
<path d="M1795.8 1533.9l1.1-0.2 1-0.2 1.1-0.3 1-0.4 1.1-0.7 1-0.9 1.1-1.3 1-1.7 1.1-2.3 1-2.8 1.1-3.4 1-4 1.1-4.5 1-4.9 1-4.9 1.1-4.9 1-4.4 1.1-3.7 1-2.8 1.1-1.5 1-0.3 1.1 0.4 1 1 1.1 1.6 1 2.1 1.1 2.5 1 2.9 1.1 3 1 3.1 1.1 3.1 1 3 1.1 2.9 1 2.7 1.1 2.4 1 2.1 1 1.9 1.1 1.6 1 1.3 1.1 1.1 1 0.9 1.1 0.7 1 0.5 1.1 0.5 1 0.3 1.1 0.3 1 0.2 1.1 0.2 1 0.1 1.1 0.1 1 0.2 1.1 0.1 1 0.1 1.1 0.2 1 0.1 1.1 0.1 1 0.2 1 0.1 1.1 0.1 1 0.2 1.1 0.1 1 0.1 1.1 0.1 1 0.1 1.1 0.1 1 0.1 1.1 0.1 1 0.1 1.1 0.1 1 0 1.1 0.1 1 0 1.1 0.1 1 0.1 1.1 0 1 0.1 1.1 0 1 0.1 1.1 0.1 1 0 1 0.1 1.1 0.1 1 0 1.1 0.1 1 0 1.1 0 1 0 1.1 0 1-0.1 1.1-0.2 1-0.2 1.1-0.4 1-0.4 1.1-0.5 1-0.5 1.1-0.7 1-0.6 1.1-0.6 1-0.6 1.1-0.4 1-0.3 1-0.2 1.1 0.1 1 0.2 1.1 0.5 1 0.6 1.1 0.9 1 0.9 1.1 0.9 1 1 1.1 0.9 1 0.8 1.1 0.7 1 0.6 1.1 0.5 1 0.4 1.1 0.3 1 0.3 1.1 0.1 1 0.2 1.1 0.1 1 0V1534.1H1795.8Z" fill="#d6282f" fill-opacity="0.13" stroke="none"/>
<path d="M1795.8 1533.9l1.1-0.2 1-0.2 1.1-0.3 1-0.4 1.1-0.7 1-0.9 1.1-1.3 1-1.7 1.1-2.3 1-2.8 1.1-3.4 1-4 1.1-4.5 1-4.9 1-4.9 1.1-4.9 1-4.4 1.1-3.7 1-2.8 1.1-1.5 1-0.3 1.1 0.4 1 1 1.1 1.6 1 2.1 1.1 2.5 1 2.9 1.1 3 1 3.1 1.1 3.1 1 3 1.1 2.9 1 2.7 1.1 2.4 1 2.1 1 1.9 1.1 1.6 1 1.3 1.1 1.1 1 0.9 1.1 0.7 1 0.5 1.1 0.5 1 0.3 1.1 0.3 1 0.2 1.1 0.2 1 0.1 1.1 0.1 1 0.2 1.1 0.1 1 0.1 1.1 0.2 1 0.1 1.1 0.1 1 0.2 1 0.1 1.1 0.1 1 0.2 1.1 0.1 1 0.1 1.1 0.1 1 0.1 1.1 0.1 1 0.1 1.1 0.1 1 0.1 1.1 0.1 1 0 1.1 0.1 1 0 1.1 0.1 1 0.1 1.1 0 1 0.1 1.1 0 1 0.1 1.1 0.1 1 0 1 0.1 1.1 0.1 1 0 1.1 0.1 1 0 1.1 0 1 0 1.1 0 1-0.1 1.1-0.2 1-0.2 1.1-0.4 1-0.4 1.1-0.5 1-0.5 1.1-0.7 1-0.6 1.1-0.6 1-0.6 1.1-0.4 1-0.3 1-0.2 1.1 0.1 1 0.2 1.1 0.5 1 0.6 1.1 0.9 1 0.9 1.1 0.9 1 1 1.1 0.9 1 0.8 1.1 0.7 1 0.6 1.1 0.5 1 0.4 1.1 0.3 1 0.3 1.1 0.1 1 0.2 1.1 0.1 1 0" fill="none" stroke="#d6282f" stroke-width="2.1" stroke-linejoin="round"/>
<path d="M1794.8 1533.9l1-0.2 1.1-0.2 1-0.4 1.1-0.6 1-1 1.1-1.3 1-1.9 1.1-2.5 1-3.2 1.1-4.2 1-5 1.1-5.8 1-6.6 1.1-7.1 1-7.4 1-7.1 1.1-6.4 1-5.4 1.1-3.8 1-2.1 1.1-0.2 1 1 1.1 2.1 1 3 1.1 3.8 1 4.5 1.1 4.9 1 5.2 1.1 5.2 1 5.2 1.1 5 1 4.6 1.1 4.2 1 3.7 1.1 3.2 1 2.7 1 2.3 1.1 1.9 1 1.5 1.1 1.1 1 0.9 1.1 0.7 1 0.6 1.1 0.4 1 0.3 1.1 0.2 1 0.2 1.1 0.2 1 0.2 1.1 0.2 1 0.2 1.1 0.1 1 0.2 1.1 0.2 1 0.2 1.1 0.2 1 0.2 1 0.2 1.1 0.2 1 0.2 1.1 0.1 1 0.2 1.1 0.2 1 0.1 1.1 0.1 1 0.2 1.1 0.1 1 0.1 1.1 0.1 1 0.1 1.1 0 1 0.1 1.1 0V1534.1H1794.8Z" fill="#3d3d3d" fill-opacity="0.13" stroke="none"/>
<path d="M1794.8 1533.9l1-0.2 1.1-0.2 1-0.4 1.1-0.6 1-1 1.1-1.3 1-1.9 1.1-2.5 1-3.2 1.1-4.2 1-5 1.1-5.8 1-6.6 1.1-7.1 1-7.4 1-7.1 1.1-6.4 1-5.4 1.1-3.8 1-2.1 1.1-0.2 1 1 1.1 2.1 1 3 1.1 3.8 1 4.5 1.1 4.9 1 5.2 1.1 5.2 1 5.2 1.1 5 1 4.6 1.1 4.2 1 3.7 1.1 3.2 1 2.7 1 2.3 1.1 1.9 1 1.5 1.1 1.1 1 0.9 1.1 0.7 1 0.6 1.1 0.4 1 0.3 1.1 0.2 1 0.2 1.1 0.2 1 0.2 1.1 0.2 1 0.2 1.1 0.1 1 0.2 1.1 0.2 1 0.2 1.1 0.2 1 0.2 1 0.2 1.1 0.2 1 0.2 1.1 0.1 1 0.2 1.1 0.2 1 0.1 1.1 0.1 1 0.2 1.1 0.1 1 0.1 1.1 0.1 1 0.1 1.1 0 1 0.1 1.1 0" fill="none" stroke="#3d3d3d" stroke-width="2.1" stroke-linejoin="round"/>
<text x="2024.5" y="1479.7" font-size="24.5" text-anchor="end">Day 15</text>
<path d="M1720.4 1038.4H2034.7V1534.1H1720.4ZM1720.4 1121.0H2034.7M1720.4 1203.6H2034.7M1720.4 1286.3H2034.7M1720.4 1368.9H2034.7M1720.4 1451.5H2034.7" fill="none" stroke="#000" stroke-width="1.9"/>
<line x1="1720.4" y1="1534.1" x2="1720.4" y2="1543.1" stroke="#000" stroke-width="1.9"/>
<text x="1719.4" y="1568.8" font-size="24.5" text-anchor="middle">10<tspan font-size="15" dy="-10">2</tspan></text>
<line x1="1772.8" y1="1534.1" x2="1772.8" y2="1543.1" stroke="#000" stroke-width="1.9"/>
<text x="1771.8" y="1568.8" font-size="24.5" text-anchor="middle">10<tspan font-size="15" dy="-10">3</tspan></text>
<line x1="1825.2" y1="1534.1" x2="1825.2" y2="1543.1" stroke="#000" stroke-width="1.9"/>
<text x="1824.2" y="1568.8" font-size="24.5" text-anchor="middle">10<tspan font-size="15" dy="-10">4</tspan></text>
<line x1="1877.6" y1="1534.1" x2="1877.6" y2="1543.1" stroke="#000" stroke-width="1.9"/>
<text x="1876.6" y="1568.8" font-size="24.5" text-anchor="middle">10<tspan font-size="15" dy="-10">5</tspan></text>
<line x1="1929.9" y1="1534.1" x2="1929.9" y2="1543.1" stroke="#000" stroke-width="1.9"/>
<text x="1928.9" y="1568.8" font-size="24.5" text-anchor="middle">10<tspan font-size="15" dy="-10">6</tspan></text>
<line x1="1982.3" y1="1534.1" x2="1982.3" y2="1543.1" stroke="#000" stroke-width="1.9"/>
<text x="1981.3" y="1568.8" font-size="24.5" text-anchor="middle">10<tspan font-size="15" dy="-10">7</tspan></text>
<line x1="2034.7" y1="1534.1" x2="2034.7" y2="1543.1" stroke="#000" stroke-width="1.9"/>
<text x="2033.7" y="1568.8" font-size="24.5" text-anchor="middle">10<tspan font-size="15" dy="-10">8</tspan></text>
<text x="1877.4" y="1595.8" font-size="24.5" text-anchor="middle">Citrine fluorescence</text>
<text x="1613.5" y="243.0" font-size="31" font-weight="bold">f</text>
<text x="1883.2" y="262.7" font-size="28.9" text-anchor="middle">sgW698 editing efficiency</text>
<text x="1883.5" y="293.3" font-size="24.5" text-anchor="middle"><tspan fill="#8c8c8c">Unsorted</tspan> <tspan fill="#dcc92e">Citrine<tspan font-size="12" dy="-9">+</tspan></tspan></text>
<path d="M1733.8 299.7V599.7H2034.7" fill="none" stroke="#000" stroke-width="1.9"/>
<path d="M1721.8 599.7H1733.8M1721.8 539.7H1733.8M1721.8 479.7H1733.8M1721.8 419.7H1733.8M1721.8 359.7H1733.8M1721.8 299.7H1733.8" stroke="#000" stroke-width="1.9"/>
<text x="1718.3" y="608.3" font-size="24.5" text-anchor="end">0</text>
<text x="1718.3" y="548.3" font-size="24.5" text-anchor="end">20</text>
<text x="1718.3" y="488.3" font-size="24.5" text-anchor="end">40</text>
<text x="1718.3" y="428.3" font-size="24.5" text-anchor="end">60</text>
<text x="1718.3" y="368.3" font-size="24.5" text-anchor="end">80</text>
<text x="1718.3" y="308.3" font-size="24.5" text-anchor="end">100</text>
<path d="M1757.7 599.7V609.7M1793.8 599.7V609.7M1829.6 599.7V609.7M1865.7 599.7V609.7M1901.5 599.7V609.7M1937.7 599.7V609.7M1973.5 599.7V609.7M2009.6 599.7V609.7" stroke="#000" stroke-width="1.9"/>
<text x="1768.2" y="626.7" font-size="24.5" text-anchor="end" transform="rotate(-45 1768.2 626.7)">+2</text>
<text x="1804.3" y="626.7" font-size="24.5" text-anchor="end" transform="rotate(-45 1804.3 626.7)">+3</text>
<text x="1840.1" y="626.7" font-size="24.5" text-anchor="end" transform="rotate(-45 1840.1 626.7)">+4</text>
<text x="1876.2" y="626.7" font-size="24.5" text-anchor="end" transform="rotate(-45 1876.2 626.7)">+5</text>
<text x="1912.0" y="626.7" font-size="24.5" text-anchor="end" transform="rotate(-45 1912.0 626.7)">+7</text>
<text x="1948.2" y="626.7" font-size="24.5" text-anchor="end" transform="rotate(-45 1948.2 626.7)">+9</text>
<text x="1984.0" y="626.7" font-size="24.5" text-anchor="end" transform="rotate(-45 1984.0 626.7)">+10</text>
<text x="2020.1" y="626.7" font-size="24.5" text-anchor="end" transform="rotate(-45 2020.1 626.7)">Indel</text>
<line x1="1740.2" y1="658.5" x2="1968.9" y2="658.5" stroke="#000" stroke-width="1.9"/>
<text x="1854.0" y="687.6" font-size="24.5" text-anchor="middle">C to T</text>
<text x="1672.5" y="448.8" font-size="24.5" text-anchor="middle" transform="rotate(-90 1672.5 448.8)">% of total aligned reads</text>
<circle cx="1757.7" cy="595.2" r="6.2" fill="#c2c2c4" stroke="#000" stroke-width="1.9"/>
<circle cx="1757.7" cy="594.3" r="6.2" fill="#f2da2a" stroke="#000" stroke-width="1.9"/>
<circle cx="1793.8" cy="530.7" r="6.2" fill="#c2c2c4" stroke="#000" stroke-width="1.9"/>
<circle cx="1793.8" cy="521.7" r="6.2" fill="#f2da2a" stroke="#000" stroke-width="1.9"/>
<circle cx="1829.6" cy="402.9" r="6.2" fill="#c2c2c4" stroke="#000" stroke-width="1.9"/>
<circle cx="1829.6" cy="384.6" r="6.2" fill="#f2da2a" stroke="#000" stroke-width="1.9"/>
<circle cx="1865.7" cy="344.7" r="6.2" fill="#c2c2c4" stroke="#000" stroke-width="1.9"/>
<circle cx="1865.7" cy="324.3" r="6.2" fill="#f2da2a" stroke="#000" stroke-width="1.9"/>
<circle cx="1901.5" cy="360.6" r="6.2" fill="#c2c2c4" stroke="#000" stroke-width="1.9"/>
<circle cx="1901.5" cy="343.2" r="6.2" fill="#f2da2a" stroke="#000" stroke-width="1.9"/>
<circle cx="1937.7" cy="369.3" r="6.2" fill="#c2c2c4" stroke="#000" stroke-width="1.9"/>
<circle cx="1937.7" cy="353.7" r="6.2" fill="#f2da2a" stroke="#000" stroke-width="1.9"/>
<circle cx="1973.5" cy="457.5" r="6.2" fill="#c2c2c4" stroke="#000" stroke-width="1.9"/>
<circle cx="1973.5" cy="445.8" r="6.2" fill="#f2da2a" stroke="#000" stroke-width="1.9"/>
<circle cx="2009.6" cy="589.5" r="6.2" fill="#c2c2c4" stroke="#000" stroke-width="1.9"/>
<circle cx="2009.6" cy="587.7" r="6.2" fill="#f2da2a" stroke="#000" stroke-width="1.9"/>
</svg></body></html>
